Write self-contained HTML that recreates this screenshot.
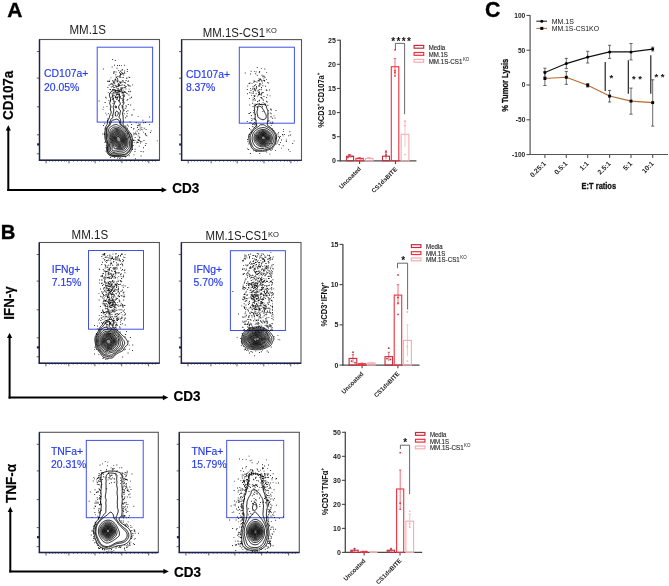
<!DOCTYPE html><html><head><meta charset="utf-8"><style>html,body{margin:0;padding:0;background:#fff;width:669px;height:586px;overflow:hidden}svg{display:block;will-change:transform;font-family:"Liberation Sans",sans-serif}</style></head><body><svg width="669" height="586" viewBox="0 0 669 586"><text x="7.2" y="16.8" font-size="21" font-weight="bold" fill="#000" text-anchor="start" stroke="#000" stroke-width="0.35">A</text><text x="0.8" y="239.2" font-size="20.3" font-weight="bold" fill="#000" text-anchor="start" stroke="#000" stroke-width="0.35">B</text><text x="485.0" y="17.2" font-size="21.3" font-weight="bold" fill="#000" text-anchor="start" stroke="#000" stroke-width="0.35">C</text><line x1="8.3" y1="129.3" x2="8.3" y2="190.9" stroke="#000" stroke-width="2" /><line x1="7.300000000000001" y1="189.9" x2="163" y2="189.9" stroke="#000" stroke-width="2" /><path d="M8.3 125.3 L5.700000000000001 130.5 L10.9 130.5Z" fill="#000"/><path d="M167 189.9 L161.6 187.3 L161.6 192.5Z" fill="#000"/><line x1="9.6" y1="336.8" x2="9.6" y2="398.6" stroke="#000" stroke-width="2" /><line x1="8.6" y1="397.6" x2="164.3" y2="397.6" stroke="#000" stroke-width="2" /><path d="M9.6 332.8 L7.0 338.0 L12.2 338.0Z" fill="#000"/><path d="M168.3 397.6 L162.9 395.0 L162.9 400.20000000000005Z" fill="#000"/><line x1="10.3" y1="510.8" x2="10.3" y2="572.4" stroke="#000" stroke-width="2" /><line x1="9.3" y1="571.4" x2="164.8" y2="571.4" stroke="#000" stroke-width="2" /><path d="M10.3 506.8 L7.700000000000001 512.0 L12.9 512.0Z" fill="#000"/><path d="M168.8 571.4 L163.4 568.8 L163.4 574.0Z" fill="#000"/><text transform="translate(13.2,119.9) rotate(-90)" font-size="14.3" font-weight="bold" fill="#000" text-anchor="start" stroke="#000" stroke-width="0.2" textLength="49.2" lengthAdjust="spacingAndGlyphs">CD107a</text><text transform="translate(14.0,319.7) rotate(-90)" font-size="14.5" font-weight="bold" fill="#000" text-anchor="start" stroke="#000" stroke-width="0.2" textLength="33.3" lengthAdjust="spacingAndGlyphs">IFN-γ</text><text transform="translate(15.8,503) rotate(-90)" font-size="14.5" font-weight="bold" fill="#000" text-anchor="start" stroke="#000" stroke-width="0.2" textLength="39.2" lengthAdjust="spacingAndGlyphs">TNF-α</text><text x="172.3" y="193" font-size="13.9" font-weight="bold" fill="#000" text-anchor="start" stroke="#000" stroke-width="0.2" textLength="27" lengthAdjust="spacingAndGlyphs">CD3</text><text x="173.6" y="400.8" font-size="13.9" font-weight="bold" fill="#000" text-anchor="start" stroke="#000" stroke-width="0.2" textLength="27" lengthAdjust="spacingAndGlyphs">CD3</text><text x="173.9" y="577.3" font-size="13.9" font-weight="bold" fill="#000" text-anchor="start" stroke="#000" stroke-width="0.2" textLength="27" lengthAdjust="spacingAndGlyphs">CD3</text><text x="69.4" y="34.0" font-size="11.9" font-weight="normal" fill="#1a1a1a" text-anchor="start"  textLength="36.6" lengthAdjust="spacingAndGlyphs">MM.1S</text><text x="202.8" y="36.5" font-size="11.9" font-weight="normal" fill="#1a1a1a" text-anchor="start"  textLength="62.2" lengthAdjust="spacingAndGlyphs">MM.1S-CS1</text><text x="266.0" y="32.6" font-size="7.4" font-weight="normal" fill="#1a1a1a" text-anchor="start"  textLength="10.8" lengthAdjust="spacingAndGlyphs">KO</text><text x="71.6" y="238.9" font-size="11.9" font-weight="normal" fill="#1a1a1a" text-anchor="start"  textLength="36.6" lengthAdjust="spacingAndGlyphs">MM.1S</text><text x="205.4" y="240.2" font-size="11.9" font-weight="normal" fill="#1a1a1a" text-anchor="start"  textLength="62.2" lengthAdjust="spacingAndGlyphs">MM.1S-CS1</text><text x="268.0" y="237.2" font-size="7.4" font-weight="normal" fill="#1a1a1a" text-anchor="start"  textLength="11" lengthAdjust="spacingAndGlyphs">KO</text><rect x="39.5" y="39.5" width="120.0" height="120.80000000000001" fill="none" stroke="#555" stroke-width="1.1"/><line x1="39.5" y1="39.5" x2="39.5" y2="160.9" stroke="#1c2250" stroke-width="1.4" /><line x1="38.9" y1="160.3" x2="159.5" y2="160.3" stroke="#1c2250" stroke-width="1.4" /><line x1="36.9" y1="51.5" x2="39.5" y2="51.5" stroke="#333" stroke-width="0.8" /><line x1="36.9" y1="78.1" x2="39.5" y2="78.1" stroke="#333" stroke-width="0.8" /><line x1="36.9" y1="106.8" x2="39.5" y2="106.8" stroke="#333" stroke-width="0.8" /><line x1="36.9" y1="134.8" x2="39.5" y2="134.8" stroke="#333" stroke-width="0.8" /><line x1="36.9" y1="153.8" x2="39.5" y2="153.8" stroke="#333" stroke-width="0.8" /><rect x="37.1" y="143.3" width="2.4" height="2.2" fill="#1c2250"/><line x1="46.1" y1="160.3" x2="46.1" y2="163.3" stroke="#333" stroke-width="0.8" /><line x1="69.0" y1="160.3" x2="69.0" y2="163.3" stroke="#333" stroke-width="0.8" /><line x1="95.1" y1="160.3" x2="95.1" y2="163.3" stroke="#333" stroke-width="0.8" /><line x1="121.9" y1="160.3" x2="121.9" y2="163.3" stroke="#333" stroke-width="0.8" /><line x1="148.8" y1="160.3" x2="148.8" y2="163.3" stroke="#333" stroke-width="0.8" /><line x1="49.5" y1="160.3" x2="49.5" y2="161.60000000000002" stroke="#1c2250" stroke-width="0.6" /><line x1="52.5" y1="160.3" x2="52.5" y2="161.60000000000002" stroke="#1c2250" stroke-width="0.6" /><line x1="55.5" y1="160.3" x2="55.5" y2="161.60000000000002" stroke="#1c2250" stroke-width="0.6" /><line x1="58.5" y1="160.3" x2="58.5" y2="161.60000000000002" stroke="#1c2250" stroke-width="0.6" /><line x1="61.5" y1="160.3" x2="61.5" y2="161.60000000000002" stroke="#1c2250" stroke-width="0.6" /><line x1="64.5" y1="160.3" x2="64.5" y2="161.60000000000002" stroke="#1c2250" stroke-width="0.6" /><line x1="66.5" y1="160.3" x2="66.5" y2="161.60000000000002" stroke="#1c2250" stroke-width="0.6" /><line x1="73.5" y1="160.3" x2="73.5" y2="161.60000000000002" stroke="#1c2250" stroke-width="0.6" /><line x1="77.5" y1="160.3" x2="77.5" y2="161.60000000000002" stroke="#1c2250" stroke-width="0.6" /><line x1="81.5" y1="160.3" x2="81.5" y2="161.60000000000002" stroke="#1c2250" stroke-width="0.6" /><line x1="85.5" y1="160.3" x2="85.5" y2="161.60000000000002" stroke="#1c2250" stroke-width="0.6" /><line x1="88.5" y1="160.3" x2="88.5" y2="161.60000000000002" stroke="#1c2250" stroke-width="0.6" /><line x1="91.5" y1="160.3" x2="91.5" y2="161.60000000000002" stroke="#1c2250" stroke-width="0.6" /><line x1="93.5" y1="160.3" x2="93.5" y2="161.60000000000002" stroke="#1c2250" stroke-width="0.6" /><line x1="99.5" y1="160.3" x2="99.5" y2="161.60000000000002" stroke="#1c2250" stroke-width="0.6" /><line x1="103.5" y1="160.3" x2="103.5" y2="161.60000000000002" stroke="#1c2250" stroke-width="0.6" /><line x1="107.5" y1="160.3" x2="107.5" y2="161.60000000000002" stroke="#1c2250" stroke-width="0.6" /><line x1="111.5" y1="160.3" x2="111.5" y2="161.60000000000002" stroke="#1c2250" stroke-width="0.6" /><line x1="115.5" y1="160.3" x2="115.5" y2="161.60000000000002" stroke="#1c2250" stroke-width="0.6" /><line x1="118.5" y1="160.3" x2="118.5" y2="161.60000000000002" stroke="#1c2250" stroke-width="0.6" /><line x1="120.5" y1="160.3" x2="120.5" y2="161.60000000000002" stroke="#1c2250" stroke-width="0.6" /><line x1="126.5" y1="160.3" x2="126.5" y2="161.60000000000002" stroke="#1c2250" stroke-width="0.6" /><line x1="130.5" y1="160.3" x2="130.5" y2="161.60000000000002" stroke="#1c2250" stroke-width="0.6" /><line x1="134.5" y1="160.3" x2="134.5" y2="161.60000000000002" stroke="#1c2250" stroke-width="0.6" /><line x1="138.5" y1="160.3" x2="138.5" y2="161.60000000000002" stroke="#1c2250" stroke-width="0.6" /><line x1="142.5" y1="160.3" x2="142.5" y2="161.60000000000002" stroke="#1c2250" stroke-width="0.6" /><line x1="145.5" y1="160.3" x2="145.5" y2="161.60000000000002" stroke="#1c2250" stroke-width="0.6" /><line x1="147.5" y1="160.3" x2="147.5" y2="161.60000000000002" stroke="#1c2250" stroke-width="0.6" /><line x1="152.5" y1="160.3" x2="152.5" y2="161.60000000000002" stroke="#1c2250" stroke-width="0.6" /><line x1="155.5" y1="160.3" x2="155.5" y2="161.60000000000002" stroke="#1c2250" stroke-width="0.6" /><rect x="97.2" y="47.2" width="55.39999999999999" height="74.89999999999999" fill="none" stroke="#4050e8" stroke-width="1"/><path d="M115.2 150.8 L114.2 151.0 L113.2 150.9 L112.8 150.7 L112.2 150.2 L111.9 149.2 L112.0 148.2 L112.2 147.2 L112.3 146.8 L112.3 145.8 L112.2 145.1 L112.1 144.2 L111.8 143.3 L111.6 142.8 L111.3 141.8 L111.1 141.2 L110.9 140.2 L110.6 139.2 L110.4 138.2 L110.2 137.7 L110.1 136.8 L110.0 135.8 L110.1 134.8 L110.2 133.9 L110.5 133.2 L110.8 132.7 L111.2 131.8 L111.5 131.2 L111.8 130.8 L112.2 130.1 L112.8 129.6 L113.2 129.2 L114.2 128.8 L114.8 128.6 L115.8 128.5 L116.8 128.6 L117.8 128.7 L118.2 128.8 L119.2 129.1 L119.8 129.3 L120.4 129.8 L121.1 130.2 L121.7 130.8 L122.2 131.2 L122.8 131.6 L123.2 132.1 L123.8 132.7 L124.2 133.2 L124.5 133.8 L124.8 134.3 L125.2 135.2 L125.5 135.8 L125.8 136.4 L126.1 137.2 L126.2 137.8 L126.5 138.8 L126.6 139.8 L126.8 140.5 L126.9 141.2 L126.9 142.2 L126.9 143.2 L126.8 144.1 L126.6 144.8 L126.3 145.8 L126.2 146.2 L125.8 147.2 L125.3 147.8 L124.9 148.2 L124.2 148.7 L123.8 149.0 L123.2 149.3 L122.2 149.6 L121.2 149.7 L120.2 149.7 L119.8 149.8 L118.8 149.8 L117.8 149.8 L116.8 150.1 L116.2 150.4 L115.4 150.8Z" fill="#000" fill-opacity="0.07"/><path d="M115.2 148.8 L114.8 148.7 L114.2 148.2 L113.9 147.2 L113.8 146.6 L113.5 145.8 L113.2 144.9 L113.0 144.2 L112.8 143.6 L112.4 142.8 L112.2 142.2 L111.9 141.2 L111.8 140.7 L111.5 139.8 L111.2 138.8 L111.1 137.8 L111.0 136.8 L110.9 135.8 L111.0 134.8 L111.2 133.8 L111.5 133.2 L111.8 132.8 L112.2 132.0 L112.8 131.3 L113.2 130.8 L113.8 130.4 L114.2 130.1 L115.1 129.8 L115.8 129.6 L116.8 129.6 L117.8 129.6 L118.3 129.8 L119.2 130.1 L119.8 130.4 L120.3 130.8 L121.0 131.2 L121.6 131.8 L122.2 132.2 L122.8 132.7 L123.2 133.2 L123.6 133.8 L123.9 134.2 L124.2 134.9 L124.7 135.8 L124.9 136.2 L125.2 137.0 L125.5 137.8 L125.7 138.8 L125.8 139.2 L126.0 140.2 L126.1 141.2 L126.1 142.2 L126.0 143.2 L125.8 144.2 L125.7 144.8 L125.3 145.8 L125.1 146.2 L124.8 146.8 L124.2 147.3 L123.7 147.8 L122.8 148.2 L122.2 148.4 L121.2 148.6 L120.2 148.7 L119.2 148.7 L118.2 148.7 L117.2 148.6 L116.2 148.6 L115.3 148.8Z" fill="#000" fill-opacity="0.07"/><path d="M121.8 147.3 L120.8 147.6 L119.8 147.7 L118.8 147.6 L117.8 147.4 L117.2 147.2 L116.2 146.8 L115.8 146.5 L115.2 146.1 L114.8 145.5 L114.3 144.8 L114.1 144.2 L113.8 143.6 L113.3 142.8 L113.1 142.2 L112.8 141.3 L112.6 140.8 L112.3 139.8 L112.1 139.2 L112.0 138.2 L111.9 137.2 L111.8 136.2 L111.9 135.2 L112.1 134.2 L112.3 133.8 L112.8 132.9 L113.2 132.3 L113.8 131.8 L114.2 131.4 L114.8 131.1 L115.7 130.8 L116.2 130.7 L117.2 130.6 L118.2 130.7 L118.8 130.9 L119.4 131.2 L120.1 131.8 L120.8 132.2 L121.2 132.6 L121.8 133.0 L122.2 133.5 L122.8 134.0 L123.2 134.7 L123.6 135.2 L123.9 135.8 L124.2 136.5 L124.6 137.2 L124.8 137.8 L125.0 138.8 L125.1 139.8 L125.2 140.8 L125.2 141.3 L125.3 142.2 L125.2 142.8 L125.0 143.8 L124.8 144.7 L124.5 145.2 L124.2 145.8 L123.2 146.7 L122.8 147.0 L122.0 147.2Z" fill="#000" fill-opacity="0.07"/><path d="M121.2 146.4 L120.2 146.6 L119.2 146.6 L118.2 146.4 L117.8 146.2 L116.8 145.8 L116.2 145.4 L115.8 144.9 L115.2 144.3 L114.9 143.8 L114.6 143.2 L114.2 142.7 L113.8 141.8 L113.6 141.2 L113.2 140.4 L113.0 139.8 L112.8 138.8 L112.8 138.2 L112.7 137.2 L112.7 136.2 L112.8 135.7 L112.9 134.8 L113.2 133.9 L113.7 133.2 L114.1 132.8 L114.8 132.3 L115.2 132.0 L116.0 131.8 L116.8 131.6 L117.8 131.6 L118.2 131.8 L119.2 132.2 L119.8 132.6 L120.2 133.0 L120.8 133.4 L121.2 133.8 L121.8 134.3 L122.2 134.8 L122.8 135.4 L123.2 136.2 L123.5 136.8 L123.8 137.2 L124.1 138.2 L124.2 139.0 L124.4 139.8 L124.4 140.8 L124.4 141.8 L124.3 142.8 L124.1 143.8 L123.8 144.5 L123.2 145.2 L122.8 145.6 L122.2 145.9 L121.5 146.2Z" fill="#000" fill-opacity="0.07"/><path d="M120.8 145.4 L119.8 145.5 L118.8 145.4 L117.8 145.0 L117.2 144.8 L116.6 144.2 L116.1 143.8 L115.7 143.2 L115.2 142.6 L114.8 141.8 L114.5 141.2 L114.2 140.8 L113.9 139.8 L113.8 139.1 L113.6 138.2 L113.6 137.2 L113.7 136.2 L113.8 135.7 L114.0 134.8 L114.3 134.2 L114.8 133.6 L115.2 133.2 L116.2 132.8 L116.8 132.7 L117.8 132.7 L118.2 132.9 L119.0 133.2 L119.6 133.8 L120.2 134.2 L120.8 134.7 L121.2 135.1 L121.8 135.6 L122.2 136.2 L122.6 136.8 L122.9 137.2 L123.2 138.2 L123.4 138.8 L123.5 139.8 L123.5 140.8 L123.5 141.8 L123.4 142.8 L123.2 143.2 L122.8 144.1 L122.2 144.6 L121.8 145.0 L121.1 145.2Z" fill="#000" fill-opacity="0.07"/><path d="M120.8 144.3 L119.8 144.4 L118.8 144.3 L118.2 144.1 L117.6 143.8 L117.0 143.2 L116.5 142.8 L116.1 142.2 L115.4 141.2 L115.2 140.8 L114.8 139.8 L114.7 139.2 L114.5 138.2 L114.6 137.2 L114.7 136.2 L114.8 135.8 L115.2 134.8 L115.7 134.2 L116.2 134.0 L117.2 133.8 L117.3 133.8 L118.2 134.0 L118.8 134.2 L119.5 134.8 L120.0 135.2 L120.6 135.8 L121.1 136.2 L121.5 136.8 L121.9 137.2 L122.2 138.0 L122.5 138.8 L122.7 139.8 L122.6 140.8 L122.5 141.8 L122.3 142.8 L122.0 143.2 L121.6 143.8 L120.8 144.2Z" fill="#000" fill-opacity="0.07"/><path d="M119.8 143.3 L118.9 143.2 L118.2 143.0 L117.8 142.7 L117.2 142.2 L116.8 141.7 L116.2 141.0 L115.9 140.2 L115.7 139.8 L115.5 138.8 L115.5 137.8 L115.6 136.8 L115.8 136.2 L116.2 135.3 L116.8 134.9 L117.8 134.8 L118.7 135.2 L119.2 135.7 L119.8 136.2 L120.2 136.6 L120.8 137.2 L121.2 137.8 L121.4 138.2 L121.7 139.2 L121.8 139.8 L121.8 140.6 L121.6 141.2 L121.3 142.2 L121.0 142.8 L120.2 143.2Z" fill="#000" fill-opacity="0.07"/><path d="M119.8 142.1 L118.8 142.1 L118.0 141.8 L117.5 141.2 L117.1 140.8 L116.8 140.0 L116.6 139.2 L116.5 138.2 L116.7 137.2 L116.9 136.8 L117.3 136.2 L118.0 136.2 L118.8 136.7 L119.2 137.1 L119.8 137.6 L120.2 138.2 L120.6 138.8 L120.8 139.8 L120.8 140.6 L120.5 141.2 L120.2 141.8Z" fill="#000" fill-opacity="0.07"/><path d="M126.2 156.3 L125.2 156.6 L124.2 156.5 L123.2 156.4 L122.2 156.5 L121.2 156.6 L120.2 156.7 L119.2 156.6 L118.2 156.5 L117.2 156.5 L116.2 156.5 L115.2 156.5 L114.2 156.6 L113.2 156.6 L112.2 156.4 L111.7 156.2 L110.8 156.0 L110.2 155.7 L109.3 155.2 L108.8 154.8 L108.2 154.3 L107.8 153.8 L107.5 153.2 L107.2 152.6 L107.0 151.8 L106.8 150.8 L106.7 150.2 L106.6 149.2 L106.6 148.2 L106.7 147.2 L106.8 146.8 L106.9 145.8 L106.9 144.8 L106.8 143.8 L106.7 143.2 L106.4 142.2 L106.2 141.8 L105.8 140.9 L105.4 140.2 L105.2 139.6 L105.1 138.8 L104.9 137.8 L104.9 136.8 L104.8 135.8 L104.7 135.2 L104.5 134.2 L104.5 133.2 L104.8 132.3 L104.9 131.8 L105.1 130.8 L105.2 129.8 L105.2 129.2 L105.3 128.2 L105.5 127.2 L105.8 126.7 L106.2 125.9 L106.7 125.2 L107.1 124.8 L107.2 124.2 L107.3 123.2 L107.4 122.2 L107.6 121.2 L107.8 120.7 L108.2 119.8 L108.4 119.2 L108.8 118.6 L109.2 117.8 L109.4 117.2 L109.6 116.2 L109.8 115.7 L110.1 114.8 L110.3 114.2 L110.8 113.6 L111.1 112.8 L111.2 111.8 L110.8 110.8 L110.6 110.2 L110.3 109.2 L110.5 108.2 L110.8 107.5 L110.8 106.8 L110.8 105.9 L110.5 105.2 L110.2 104.8 L109.8 103.8 L109.7 103.2 L109.8 102.8 L110.1 101.8 L110.3 101.2 L110.6 100.2 L110.6 99.2 L110.4 98.2 L110.1 97.8 L109.8 96.9 L109.6 96.2 L109.4 95.2 L109.5 94.2 L109.8 93.7 L110.2 93.0 L110.7 92.2 L111.1 91.8 L111.5 91.2 L112.2 90.8 L112.8 90.5 L113.7 90.2 L114.2 90.2 L114.8 90.3 L115.8 90.4 L116.8 90.5 L117.8 90.5 L118.8 90.5 L119.8 90.6 L120.2 90.8 L121.0 91.2 L121.6 91.8 L122.2 92.2 L122.7 92.8 L123.0 93.2 L123.2 94.2 L123.3 94.8 L123.4 95.8 L123.4 96.8 L123.3 97.8 L123.2 98.2 L123.1 99.2 L123.2 100.2 L123.3 100.8 L123.7 101.8 L123.9 102.2 L123.9 103.2 L123.7 103.8 L123.2 104.6 L122.8 105.2 L122.6 105.8 L122.3 106.8 L122.2 107.2 L122.3 107.8 L122.8 108.7 L123.0 109.2 L123.2 110.2 L123.2 110.6 L123.2 111.2 L122.8 112.2 L122.6 112.8 L122.5 113.8 L122.7 114.8 L122.9 115.2 L123.1 116.2 L123.1 117.2 L123.1 118.2 L123.2 119.2 L123.3 119.8 L123.3 120.8 L123.3 121.8 L123.2 122.2 L123.0 123.2 L123.0 124.2 L123.2 124.8 L123.8 125.4 L124.2 125.9 L124.8 126.3 L125.2 126.8 L125.8 127.2 L126.3 127.8 L127.1 128.8 L127.4 129.2 L127.8 129.8 L128.2 130.4 L128.8 131.0 L129.2 131.7 L129.6 132.2 L130.0 132.8 L130.3 133.2 L130.8 134.0 L131.1 134.8 L131.3 135.2 L131.5 136.2 L131.8 136.9 L132.1 137.8 L132.3 138.2 L132.6 139.2 L132.6 140.2 L132.5 141.2 L132.4 142.2 L132.4 143.2 L132.4 144.2 L132.4 145.2 L132.4 146.2 L132.4 147.2 L132.4 148.2 L132.2 148.8 L131.8 149.8 L131.5 150.2 L131.2 150.8 L130.8 151.6 L130.4 152.2 L130.1 152.8 L129.8 153.3 L129.2 153.9 L128.8 154.3 L128.2 154.8 L127.6 155.2 L127.1 155.8 L126.4 156.2 M121.8 155.3 L120.8 155.4 L119.8 155.4 L118.8 155.4 L117.8 155.4 L116.8 155.4 L115.8 155.5 L114.8 155.6 L113.8 155.6 L112.8 155.6 L111.8 155.4 L111.2 155.2 L110.2 154.8 L109.8 154.5 L109.2 154.1 L108.8 153.5 L108.2 152.8 L108.0 152.2 L107.8 151.6 L107.5 150.8 L107.4 149.8 L107.5 148.8 L107.6 147.8 L107.8 146.9 L107.8 146.2 L107.9 145.2 L107.8 144.2 L107.7 143.8 L107.5 142.8 L107.3 141.8 L107.1 141.2 L106.8 140.6 L106.3 139.8 L106.2 139.2 L106.0 138.2 L105.9 137.2 L105.9 136.2 L105.9 135.2 L105.8 134.2 L105.9 133.2 L106.0 132.2 L106.2 131.2 L106.3 130.8 L106.4 129.8 L106.5 128.8 L106.7 127.8 L107.0 127.2 L107.4 126.8 L107.9 126.2 L108.4 125.8 L108.8 125.2 L109.2 124.5 L109.5 123.8 L109.7 122.8 L109.8 122.2 L110.1 121.2 L110.3 120.8 L110.7 119.8 L110.9 119.2 L111.3 118.8 L111.9 118.2 L112.7 117.8 L113.0 117.2 L112.8 116.2 L112.8 115.2 L113.1 114.2 L113.2 113.5 L113.4 112.8 L113.5 111.8 L113.7 110.8 L113.8 110.2 L113.8 109.2 L113.6 108.8 L113.3 107.8 L113.2 107.2 L113.2 106.5 L113.5 105.8 L113.8 105.1 L114.1 104.2 L114.3 103.8 L114.6 102.8 L114.4 101.8 L114.1 101.2 L113.8 100.5 L113.5 99.8 L113.3 98.8 L113.2 98.2 L112.8 97.2 L112.5 96.2 L112.7 95.2 L112.8 94.8 L113.0 93.8 L113.1 92.8 L113.5 92.2 L114.2 92.0 L115.2 92.2 L115.8 92.3 L116.8 92.5 L117.8 92.5 L118.5 92.8 L119.0 93.2 L119.3 93.8 L119.5 94.8 L119.6 95.8 L119.7 96.8 L119.8 97.3 L119.8 98.0 L119.7 98.8 L119.4 99.8 L119.3 100.8 L119.4 101.8 L119.8 102.3 L120.2 103.0 L120.4 103.8 L120.2 104.3 L119.8 105.0 L119.2 105.4 L118.8 106.1 L118.7 106.8 L118.7 107.8 L118.8 108.2 L119.2 109.2 L119.7 109.8 L120.2 110.2 L120.5 110.8 L120.4 111.8 L120.2 112.2 L120.0 113.2 L119.9 114.2 L119.8 114.9 L119.4 115.8 L119.2 116.2 L119.0 117.2 L119.2 117.8 L119.8 118.3 L120.2 118.8 L120.6 119.8 L120.7 120.8 L120.7 121.8 L120.7 122.8 L120.8 123.6 L121.0 124.2 L121.4 124.8 L121.9 125.2 L122.5 125.8 L123.1 126.2 L123.7 126.8 L124.2 127.1 L124.8 127.5 L125.2 128.0 L125.8 128.5 L126.2 129.2 L126.5 129.8 L126.8 130.2 L127.2 130.9 L127.8 131.6 L128.2 132.2 L128.5 132.8 L128.8 133.3 L129.2 134.2 L129.5 134.8 L129.8 135.3 L130.1 136.2 L130.2 137.0 L130.5 137.8 L130.8 138.3 L131.2 139.2 L131.3 139.8 L131.4 140.8 L131.4 141.8 L131.4 142.8 L131.4 143.8 L131.4 144.8 L131.4 145.8 L131.4 146.8 L131.3 147.8 L131.2 148.2 L130.8 149.2 L130.5 149.8 L130.2 150.2 L129.8 150.8 L129.2 151.4 L128.8 152.0 L128.2 152.5 L127.8 153.0 L127.2 153.5 L126.8 154.0 L126.2 154.5 L125.8 154.8 L124.8 155.1 L123.8 155.1 L122.8 155.2 L122.2 155.2 M116.2 98.1 L115.4 97.8 L115.1 97.2 L115.2 96.5 L115.9 96.8 L116.2 97.4 L116.2 98.1 M116.2 108.0 L115.5 107.8 L115.0 107.2 L115.2 106.2 L115.8 105.9 L116.3 106.2 L116.7 107.2 L116.2 108.0 M116.2 116.4 L115.8 116.2 L115.3 115.2 L115.3 114.2 L115.4 113.2 L115.5 112.2 L115.8 111.8 L116.7 111.2 L116.8 111.2 L117.7 111.8 L118.1 112.2 L118.3 112.8 L118.3 113.8 L118.1 114.2 L117.8 114.9 L117.2 115.6 L116.8 116.2 M121.8 154.8 L120.8 154.8 L119.8 154.8 L118.8 154.8 L117.8 154.8 L116.8 154.9 L115.8 155.0 L114.8 155.1 L113.8 155.1 L112.8 155.1 L111.8 154.9 L111.2 154.8 L110.2 154.3 L109.8 154.0 L109.2 153.5 L108.8 152.8 L108.4 152.2 L108.2 151.8 L107.9 150.8 L107.8 149.8 L107.9 148.8 L108.0 147.8 L108.2 146.8 L108.3 146.2 L108.4 145.2 L108.3 144.2 L108.2 143.8 L108.0 142.8 L107.8 141.8 L107.6 141.2 L107.2 140.5 L106.9 139.8 L106.7 139.2 L106.5 138.2 L106.4 137.2 L106.4 136.2 L106.4 135.2 L106.4 134.2 L106.4 133.2 L106.6 132.2 L106.8 131.5 L106.9 130.8 L107.0 129.8 L107.1 128.8 L107.3 128.2 L107.8 127.4 L108.2 126.8 L108.8 126.3 L109.2 125.9 L109.8 125.3 L110.1 124.8 L110.4 124.2 L110.7 123.2 L110.9 122.8 L111.2 121.8 L111.4 121.2 L111.8 120.8 L112.4 120.2 L113.2 120.0 L114.2 119.8 L114.8 119.6 L115.8 119.3 L116.2 119.2 L116.8 119.2 L117.8 119.5 L118.2 119.8 L118.9 120.2 L119.2 120.8 L119.5 121.8 L119.7 122.8 L119.8 123.3 L120.1 124.2 L120.4 124.8 L121.0 125.2 L121.6 125.8 L122.2 126.2 L122.8 126.6 L123.2 126.9 L123.8 127.3 L124.3 127.8 L124.8 128.2 L125.3 128.8 L125.8 129.4 L126.2 130.2 L126.6 130.8 L126.9 131.2 L127.2 131.8 L127.8 132.6 L128.1 133.2 L128.4 133.8 L128.8 134.5 L129.1 135.2 L129.3 135.8 L129.6 136.8 L129.8 137.2 L130.1 138.2 L130.3 138.8 L130.7 139.8 L130.8 140.2 L130.9 141.2 L130.9 142.2 L130.9 143.2 L130.9 144.2 L130.9 145.2 L130.8 146.2 L130.8 147.2 L130.7 147.8 L130.4 148.8 L130.1 149.2 L129.8 149.8 L129.2 150.4 L128.8 150.9 L128.2 151.4 L127.8 151.9 L127.2 152.4 L126.8 153.0 L126.2 153.5 L125.8 153.9 L124.9 154.2 L124.2 154.4 L123.2 154.5 L122.2 154.7 L121.8 154.8 M114.8 153.8 L113.8 153.8 L112.9 153.8 L112.2 153.7 L111.2 153.4 L110.8 153.1 L110.2 152.7 L109.8 152.1 L109.3 151.2 L109.1 150.8 L108.9 149.8 L109.0 148.8 L109.2 147.8 L109.3 147.2 L109.5 146.2 L109.6 145.2 L109.5 144.2 L109.3 143.2 L109.2 142.7 L109.1 141.8 L108.8 140.8 L108.6 140.2 L108.2 139.5 L108.0 138.8 L107.8 137.8 L107.7 137.2 L107.7 136.2 L107.6 135.2 L107.6 134.2 L107.8 133.4 L107.9 132.8 L108.2 131.8 L108.3 131.2 L108.5 130.2 L108.8 129.3 L108.9 128.8 L109.2 128.2 L109.8 127.7 L110.2 127.2 L110.9 126.8 L111.6 126.2 L112.2 125.9 L112.8 125.6 L113.4 125.2 L114.2 124.9 L114.9 124.8 L115.8 124.6 L116.8 124.6 L117.2 124.8 L117.9 125.2 L118.6 125.8 L119.2 126.1 L119.8 126.4 L120.6 126.8 L121.2 127.1 L121.8 127.5 L122.2 127.9 L122.8 128.3 L123.3 128.8 L123.8 129.2 L124.3 129.8 L124.8 130.3 L125.2 131.0 L125.7 131.8 L126.1 132.2 L126.4 132.8 L126.8 133.4 L127.2 134.2 L127.4 134.8 L127.8 135.5 L128.1 136.2 L128.4 137.2 L128.7 138.2 L128.8 138.8 L129.1 139.8 L129.2 140.3 L129.4 141.2 L129.4 142.2 L129.4 143.2 L129.4 144.2 L129.4 145.2 L129.3 146.2 L129.2 146.8 L129.1 147.8 L128.8 148.4 L128.2 149.1 L127.8 149.6 L127.2 150.0 L126.8 150.5 L126.2 150.9 L125.8 151.4 L125.2 151.8 L124.5 152.2 L123.8 152.6 L123.1 152.8 L122.2 152.9 L121.2 153.1 L120.2 153.1 L119.2 153.1 L118.2 153.2 L117.7 153.2 L116.8 153.5 L115.8 153.7 L114.8 153.8 M115.2 152.3 L114.2 152.4 L113.2 152.4 L112.5 152.2 L111.8 152.0 L111.2 151.6 L110.8 151.0 L110.4 150.2 L110.3 149.2 L110.5 148.2 L110.7 147.2 L110.8 146.8 L111.0 145.8 L110.9 144.8 L110.8 143.8 L110.6 143.2 L110.4 142.2 L110.2 141.6 L110.0 140.8 L109.8 139.8 L109.6 139.2 L109.3 138.2 L109.1 137.8 L109.0 136.8 L108.9 135.8 L108.9 134.8 L109.0 133.8 L109.2 133.0 L109.6 132.2 L109.8 131.8 L110.2 130.8 L110.3 130.2 L110.8 129.4 L111.2 128.8 L111.8 128.3 L112.2 128.0 L112.8 127.7 L113.7 127.2 L114.2 127.1 L115.2 127.0 L116.2 127.0 L117.2 127.2 L117.8 127.3 L118.8 127.6 L119.2 127.8 L120.2 128.2 L120.8 128.5 L121.2 128.9 L121.8 129.3 L122.2 129.8 L122.8 130.2 L123.3 130.8 L123.8 131.2 L124.2 131.8 L124.8 132.4 L125.2 133.2 L125.6 133.8 L125.8 134.2 L126.2 135.1 L126.6 135.8 L126.8 136.2 L127.1 137.2 L127.3 137.8 L127.5 138.8 L127.7 139.8 L127.8 140.2 L127.9 141.2 L128.0 142.2 L128.0 143.2 L127.9 144.2 L127.8 145.2 L127.7 145.8 L127.5 146.8 L127.2 147.4 L126.8 148.2 L126.2 148.8 L125.8 149.3 L125.2 149.8 L124.5 150.2 L123.8 150.7 L123.2 150.9 L122.2 151.1 L121.2 151.2 L120.2 151.2 L119.2 151.2 L118.8 151.3 L117.8 151.5 L116.9 151.8 L116.2 152.0 L115.4 152.2 M115.2 150.8 L114.2 151.0 L113.2 150.9 L112.8 150.7 L112.2 150.2 L111.9 149.2 L112.0 148.2 L112.2 147.2 L112.3 146.8 L112.3 145.8 L112.2 145.1 L112.1 144.2 L111.8 143.3 L111.6 142.8 L111.3 141.8 L111.1 141.2 L110.9 140.2 L110.6 139.2 L110.4 138.2 L110.2 137.7 L110.1 136.8 L110.0 135.8 L110.1 134.8 L110.2 133.9 L110.5 133.2 L110.8 132.7 L111.2 131.8 L111.5 131.2 L111.8 130.8 L112.2 130.1 L112.8 129.6 L113.2 129.2 L114.2 128.8 L114.8 128.6 L115.8 128.5 L116.8 128.6 L117.8 128.7 L118.2 128.8 L119.2 129.1 L119.8 129.3 L120.4 129.8 L121.1 130.2 L121.7 130.8 L122.2 131.2 L122.8 131.6 L123.2 132.1 L123.8 132.7 L124.2 133.2 L124.5 133.8 L124.8 134.3 L125.2 135.2 L125.5 135.8 L125.8 136.4 L126.1 137.2 L126.2 137.8 L126.5 138.8 L126.6 139.8 L126.8 140.5 L126.9 141.2 L126.9 142.2 L126.9 143.2 L126.8 144.1 L126.6 144.8 L126.3 145.8 L126.2 146.2 L125.8 147.2 L125.3 147.8 L124.9 148.2 L124.2 148.7 L123.8 149.0 L123.2 149.3 L122.2 149.6 L121.2 149.7 L120.2 149.7 L119.8 149.8 L118.8 149.8 L117.8 149.8 L116.8 150.1 L116.2 150.4 L115.4 150.8 M115.2 148.8 L114.8 148.7 L114.2 148.2 L113.9 147.2 L113.8 146.6 L113.5 145.8 L113.2 144.9 L113.0 144.2 L112.8 143.6 L112.4 142.8 L112.2 142.2 L111.9 141.2 L111.8 140.7 L111.5 139.8 L111.2 138.8 L111.1 137.8 L111.0 136.8 L110.9 135.8 L111.0 134.8 L111.2 133.8 L111.5 133.2 L111.8 132.8 L112.2 132.0 L112.8 131.3 L113.2 130.8 L113.8 130.4 L114.2 130.1 L115.1 129.8 L115.8 129.6 L116.8 129.6 L117.8 129.6 L118.3 129.8 L119.2 130.1 L119.8 130.4 L120.3 130.8 L121.0 131.2 L121.6 131.8 L122.2 132.2 L122.8 132.7 L123.2 133.2 L123.6 133.8 L123.9 134.2 L124.2 134.9 L124.7 135.8 L124.9 136.2 L125.2 137.0 L125.5 137.8 L125.7 138.8 L125.8 139.2 L126.0 140.2 L126.1 141.2 L126.1 142.2 L126.0 143.2 L125.8 144.2 L125.7 144.8 L125.3 145.8 L125.1 146.2 L124.8 146.8 L124.2 147.3 L123.7 147.8 L122.8 148.2 L122.2 148.4 L121.2 148.6 L120.2 148.7 L119.2 148.7 L118.2 148.7 L117.2 148.6 L116.2 148.6 L115.3 148.8 M121.8 147.3 L120.8 147.6 L119.8 147.7 L118.8 147.6 L117.8 147.4 L117.2 147.2 L116.2 146.8 L115.8 146.5 L115.2 146.1 L114.8 145.5 L114.3 144.8 L114.1 144.2 L113.8 143.6 L113.3 142.8 L113.1 142.2 L112.8 141.3 L112.6 140.8 L112.3 139.8 L112.1 139.2 L112.0 138.2 L111.9 137.2 L111.8 136.2 L111.9 135.2 L112.1 134.2 L112.3 133.8 L112.8 132.9 L113.2 132.3 L113.8 131.8 L114.2 131.4 L114.8 131.1 L115.7 130.8 L116.2 130.7 L117.2 130.6 L118.2 130.7 L118.8 130.9 L119.4 131.2 L120.1 131.8 L120.8 132.2 L121.2 132.6 L121.8 133.0 L122.2 133.5 L122.8 134.0 L123.2 134.7 L123.6 135.2 L123.9 135.8 L124.2 136.5 L124.6 137.2 L124.8 137.8 L125.0 138.8 L125.1 139.8 L125.2 140.8 L125.2 141.3 L125.3 142.2 L125.2 142.8 L125.0 143.8 L124.8 144.7 L124.5 145.2 L124.2 145.8 L123.2 146.7 L122.8 147.0 L122.0 147.2 M121.2 146.4 L120.2 146.6 L119.2 146.6 L118.2 146.4 L117.8 146.2 L116.8 145.8 L116.2 145.4 L115.8 144.9 L115.2 144.3 L114.9 143.8 L114.6 143.2 L114.2 142.7 L113.8 141.8 L113.6 141.2 L113.2 140.4 L113.0 139.8 L112.8 138.8 L112.8 138.2 L112.7 137.2 L112.7 136.2 L112.8 135.7 L112.9 134.8 L113.2 133.9 L113.7 133.2 L114.1 132.8 L114.8 132.3 L115.2 132.0 L116.0 131.8 L116.8 131.6 L117.8 131.6 L118.2 131.8 L119.2 132.2 L119.8 132.6 L120.2 133.0 L120.8 133.4 L121.2 133.8 L121.8 134.3 L122.2 134.8 L122.8 135.4 L123.2 136.2 L123.5 136.8 L123.8 137.2 L124.1 138.2 L124.2 139.0 L124.4 139.8 L124.4 140.8 L124.4 141.8 L124.3 142.8 L124.1 143.8 L123.8 144.5 L123.2 145.2 L122.8 145.6 L122.2 145.9 L121.5 146.2 M120.8 145.4 L119.8 145.5 L118.8 145.4 L117.8 145.0 L117.2 144.8 L116.6 144.2 L116.1 143.8 L115.7 143.2 L115.2 142.6 L114.8 141.8 L114.5 141.2 L114.2 140.8 L113.9 139.8 L113.8 139.1 L113.6 138.2 L113.6 137.2 L113.7 136.2 L113.8 135.7 L114.0 134.8 L114.3 134.2 L114.8 133.6 L115.2 133.2 L116.2 132.8 L116.8 132.7 L117.8 132.7 L118.2 132.9 L119.0 133.2 L119.6 133.8 L120.2 134.2 L120.8 134.7 L121.2 135.1 L121.8 135.6 L122.2 136.2 L122.6 136.8 L122.9 137.2 L123.2 138.2 L123.4 138.8 L123.5 139.8 L123.5 140.8 L123.5 141.8 L123.4 142.8 L123.2 143.2 L122.8 144.1 L122.2 144.6 L121.8 145.0 L121.1 145.2 M120.8 144.3 L119.8 144.4 L118.8 144.3 L118.2 144.1 L117.6 143.8 L117.0 143.2 L116.5 142.8 L116.1 142.2 L115.4 141.2 L115.2 140.8 L114.8 139.8 L114.7 139.2 L114.5 138.2 L114.6 137.2 L114.7 136.2 L114.8 135.8 L115.2 134.8 L115.7 134.2 L116.2 134.0 L117.2 133.8 L117.3 133.8 L118.2 134.0 L118.8 134.2 L119.5 134.8 L120.0 135.2 L120.6 135.8 L121.1 136.2 L121.5 136.8 L121.9 137.2 L122.2 138.0 L122.5 138.8 L122.7 139.8 L122.6 140.8 L122.5 141.8 L122.3 142.8 L122.0 143.2 L121.6 143.8 L120.8 144.2 M119.8 143.3 L118.9 143.2 L118.2 143.0 L117.8 142.7 L117.2 142.2 L116.8 141.7 L116.2 141.0 L115.9 140.2 L115.7 139.8 L115.5 138.8 L115.5 137.8 L115.6 136.8 L115.8 136.2 L116.2 135.3 L116.8 134.9 L117.8 134.8 L118.7 135.2 L119.2 135.7 L119.8 136.2 L120.2 136.6 L120.8 137.2 L121.2 137.8 L121.4 138.2 L121.7 139.2 L121.8 139.8 L121.8 140.6 L121.6 141.2 L121.3 142.2 L121.0 142.8 L120.2 143.2 M119.8 142.1 L118.8 142.1 L118.0 141.8 L117.5 141.2 L117.1 140.8 L116.8 140.0 L116.6 139.2 L116.5 138.2 L116.7 137.2 L116.9 136.8 L117.3 136.2 L118.0 136.2 L118.8 136.7 L119.2 137.1 L119.8 137.6 L120.2 138.2 L120.6 138.8 L120.8 139.8 L120.8 140.6 L120.5 141.2 L120.2 141.8" fill="none" stroke="#000" stroke-width="0.9" stroke-linejoin="round"/><path d="M109.2 92.9h0.9v0.9h-0.9zM119.2 89.4h0.9v0.9h-0.9zM119.9 157.4h0.9v0.9h-0.9zM133.0 140.0h0.9v0.9h-0.9zM145.6 134.8h0.9v0.9h-0.9zM111.4 91.2h0.9v0.9h-0.9zM106.9 146.8h0.9v0.9h-0.9zM104.6 142.0h0.9v0.9h-0.9zM102.6 108.9h0.9v0.9h-0.9zM134.3 132.9h0.9v0.9h-0.9zM138.8 138.4h0.9v0.9h-0.9zM130.3 159.9h0.9v0.9h-0.9zM103.2 106.7h0.9v0.9h-0.9zM123.3 91.8h0.9v0.9h-0.9zM118.8 76.9h0.9v0.9h-0.9zM114.3 157.1h0.9v0.9h-0.9zM107.0 80.8h0.9v0.9h-0.9zM107.2 120.0h0.9v0.9h-0.9zM110.2 99.4h0.9v0.9h-0.9zM146.5 135.4h0.9v0.9h-0.9zM124.8 91.6h0.9v0.9h-0.9zM124.1 95.8h0.9v0.9h-0.9zM102.4 133.6h0.9v0.9h-0.9zM133.5 128.2h0.9v0.9h-0.9zM105.8 144.9h0.9v0.9h-0.9zM117.1 157.6h0.9v0.9h-0.9zM131.4 115.2h0.9v0.9h-0.9zM128.5 94.6h0.9v0.9h-0.9zM105.2 96.8h0.9v0.9h-0.9zM118.4 156.5h0.9v0.9h-0.9zM131.2 124.1h0.9v0.9h-0.9zM123.5 108.6h0.9v0.9h-0.9zM133.0 132.7h0.9v0.9h-0.9zM105.6 146.9h0.9v0.9h-0.9zM134.9 158.3h0.9v0.9h-0.9zM134.6 140.2h0.9v0.9h-0.9zM128.7 155.3h0.9v0.9h-0.9zM142.8 151.3h0.9v0.9h-0.9zM104.3 134.0h0.9v0.9h-0.9zM127.8 104.0h0.9v0.9h-0.9zM105.4 150.7h0.9v0.9h-0.9zM127.5 110.3h0.9v0.9h-0.9zM128.0 125.7h0.9v0.9h-0.9zM124.9 156.7h0.9v0.9h-0.9zM125.4 125.6h0.9v0.9h-0.9zM113.2 72.6h0.9v0.9h-0.9zM119.3 158.1h0.9v0.9h-0.9zM126.2 115.5h0.9v0.9h-0.9zM126.0 106.4h0.9v0.9h-0.9zM127.2 93.4h0.9v0.9h-0.9zM123.1 106.4h0.9v0.9h-0.9zM138.5 125.2h0.9v0.9h-0.9zM124.2 64.8h0.9v0.9h-0.9zM112.5 84.2h0.9v0.9h-0.9zM108.1 113.2h0.9v0.9h-0.9zM120.9 89.1h0.9v0.9h-0.9zM127.1 127.7h0.9v0.9h-0.9zM106.9 118.4h0.9v0.9h-0.9zM98.6 100.5h0.9v0.9h-0.9zM106.5 105.9h0.9v0.9h-0.9zM116.9 78.0h0.9v0.9h-0.9zM105.8 97.6h0.9v0.9h-0.9zM108.4 99.9h0.9v0.9h-0.9zM104.9 141.1h0.9v0.9h-0.9zM144.9 133.1h0.9v0.9h-0.9zM109.9 157.1h0.9v0.9h-0.9zM144.9 133.9h0.9v0.9h-0.9zM129.6 91.3h0.9v0.9h-0.9zM133.0 128.5h0.9v0.9h-0.9zM104.7 102.0h0.9v0.9h-0.9zM129.6 97.8h0.9v0.9h-0.9zM104.7 128.6h0.9v0.9h-0.9zM104.3 123.3h0.9v0.9h-0.9zM132.0 135.7h0.9v0.9h-0.9zM139.6 125.5h0.9v0.9h-0.9zM110.2 109.4h0.9v0.9h-0.9zM117.9 85.8h0.9v0.9h-0.9zM145.6 129.1h0.9v0.9h-0.9zM124.1 91.9h0.9v0.9h-0.9zM126.2 92.8h0.9v0.9h-0.9zM103.0 125.1h0.9v0.9h-0.9zM137.7 116.2h0.9v0.9h-0.9zM123.5 98.7h0.9v0.9h-0.9zM134.6 148.8h0.9v0.9h-0.9zM114.9 79.4h0.9v0.9h-0.9zM125.5 105.3h0.9v0.9h-0.9zM126.1 110.9h0.9v0.9h-0.9zM126.8 113.2h0.9v0.9h-0.9zM125.2 117.3h0.9v0.9h-0.9zM121.7 157.7h0.9v0.9h-0.9zM102.9 68.5h0.9v0.9h-0.9zM108.5 118.4h0.9v0.9h-0.9zM124.2 82.1h0.9v0.9h-0.9zM122.7 92.1h0.9v0.9h-0.9zM132.7 145.0h0.9v0.9h-0.9zM131.0 133.7h0.9v0.9h-0.9zM112.7 85.4h0.9v0.9h-0.9zM118.8 81.3h0.9v0.9h-0.9zM126.9 124.5h0.9v0.9h-0.9zM114.8 78.6h0.9v0.9h-0.9zM110.1 89.0h0.9v0.9h-0.9zM123.8 110.2h0.9v0.9h-0.9zM124.2 94.5h0.9v0.9h-0.9zM116.3 86.8h0.9v0.9h-0.9zM116.9 75.9h0.9v0.9h-0.9zM139.4 137.2h0.9v0.9h-0.9zM105.3 112.7h0.9v0.9h-0.9zM133.4 139.6h0.9v0.9h-0.9zM106.4 114.4h0.9v0.9h-0.9zM127.4 81.2h0.9v0.9h-0.9zM113.1 101.4h0.9v0.9h-0.9zM122.4 100.0h0.9v0.9h-0.9zM129.4 85.0h0.9v0.9h-0.9zM117.2 89.8h0.9v0.9h-0.9zM113.8 71.5h0.9v0.9h-0.9zM118.3 90.8h0.9v0.9h-0.9zM123.8 91.1h0.9v0.9h-0.9zM121.3 72.0h0.9v0.9h-0.9zM125.5 88.5h0.9v0.9h-0.9zM123.8 87.4h0.9v0.9h-0.9zM107.4 87.1h0.9v0.9h-0.9zM128.2 91.0h0.9v0.9h-0.9zM115.4 90.4h0.9v0.9h-0.9zM111.3 93.4h0.9v0.9h-0.9zM122.2 69.3h0.9v0.9h-0.9zM118.5 84.6h0.9v0.9h-0.9zM114.5 93.3h0.9v0.9h-0.9zM130.2 104.5h0.9v0.9h-0.9zM117.6 84.0h0.9v0.9h-0.9zM121.8 76.9h0.9v0.9h-0.9zM117.0 96.5h0.9v0.9h-0.9zM108.7 84.8h0.9v0.9h-0.9zM121.2 90.0h0.9v0.9h-0.9zM117.9 85.1h0.9v0.9h-0.9zM111.7 114.8h0.9v0.9h-0.9zM122.0 91.6h0.9v0.9h-0.9zM115.5 79.4h0.9v0.9h-0.9zM111.9 99.1h0.9v0.9h-0.9zM113.3 89.0h0.9v0.9h-0.9zM114.3 80.8h0.9v0.9h-0.9zM104.6 102.0h0.9v0.9h-0.9zM126.3 78.0h0.9v0.9h-0.9zM119.0 72.3h0.9v0.9h-0.9zM131.0 97.0h0.9v0.9h-0.9zM114.9 90.9h0.9v0.9h-0.9zM109.1 81.1h0.9v0.9h-0.9zM115.7 80.4h0.9v0.9h-0.9zM119.2 91.3h0.9v0.9h-0.9zM117.1 65.1h0.9v0.9h-0.9zM117.1 97.1h0.9v0.9h-0.9zM118.3 95.4h0.9v0.9h-0.9zM120.7 88.0h0.9v0.9h-0.9zM109.9 83.8h0.9v0.9h-0.9zM117.0 98.5h0.9v0.9h-0.9zM117.1 81.2h0.9v0.9h-0.9zM122.2 87.8h0.9v0.9h-0.9zM115.4 74.3h0.9v0.9h-0.9zM109.9 100.6h0.9v0.9h-0.9zM116.6 93.3h0.9v0.9h-0.9zM125.6 80.1h0.9v0.9h-0.9zM118.1 69.9h0.9v0.9h-0.9zM115.3 106.7h0.9v0.9h-0.9zM115.7 76.4h0.9v0.9h-0.9zM125.3 107.8h0.9v0.9h-0.9zM116.0 98.9h0.9v0.9h-0.9zM120.1 88.8h0.9v0.9h-0.9zM115.4 85.9h0.9v0.9h-0.9zM121.4 74.0h0.9v0.9h-0.9zM114.5 89.4h0.9v0.9h-0.9zM122.6 80.3h0.9v0.9h-0.9zM110.7 97.2h0.9v0.9h-0.9zM119.7 70.7h0.9v0.9h-0.9zM115.6 71.5h0.9v0.9h-0.9zM120.3 81.4h0.9v0.9h-0.9zM112.2 59.1h0.9v0.9h-0.9zM122.6 99.6h0.9v0.9h-0.9zM117.8 88.4h0.9v0.9h-0.9zM122.5 86.9h0.9v0.9h-0.9zM123.0 73.3h0.9v0.9h-0.9zM118.9 83.8h0.9v0.9h-0.9zM118.3 100.1h0.9v0.9h-0.9zM114.3 89.3h0.9v0.9h-0.9zM121.0 65.2h0.9v0.9h-0.9zM127.5 84.1h0.9v0.9h-0.9zM118.6 84.8h0.9v0.9h-0.9zM125.0 92.1h0.9v0.9h-0.9zM117.9 100.4h0.9v0.9h-0.9zM116.2 76.9h0.9v0.9h-0.9zM112.9 97.8h0.9v0.9h-0.9zM119.4 75.1h0.9v0.9h-0.9zM119.8 75.8h0.9v0.9h-0.9zM132.2 84.4h0.9v0.9h-0.9zM116.6 67.8h0.9v0.9h-0.9zM113.2 95.3h0.9v0.9h-0.9zM115.2 101.3h0.9v0.9h-0.9zM121.6 72.6h0.9v0.9h-0.9zM121.1 88.4h0.9v0.9h-0.9zM121.5 69.6h0.9v0.9h-0.9zM110.5 77.4h0.9v0.9h-0.9zM125.0 86.6h0.9v0.9h-0.9zM107.8 91.9h0.9v0.9h-0.9zM115.5 96.4h0.9v0.9h-0.9zM115.8 85.9h0.9v0.9h-0.9zM120.2 74.6h0.9v0.9h-0.9zM111.2 82.9h0.9v0.9h-0.9zM131.0 96.7h0.9v0.9h-0.9zM118.7 81.4h0.9v0.9h-0.9zM120.0 97.4h0.9v0.9h-0.9zM109.6 89.1h0.9v0.9h-0.9zM111.7 66.5h0.9v0.9h-0.9zM125.8 86.2h0.9v0.9h-0.9zM119.7 82.0h0.9v0.9h-0.9zM121.4 98.0h0.9v0.9h-0.9zM118.6 85.5h0.9v0.9h-0.9zM120.1 95.9h0.9v0.9h-0.9zM115.5 97.2h0.9v0.9h-0.9zM123.1 76.9h0.9v0.9h-0.9zM118.8 91.0h0.9v0.9h-0.9zM120.2 83.2h0.9v0.9h-0.9zM111.6 83.5h0.9v0.9h-0.9zM127.3 99.0h0.9v0.9h-0.9zM118.9 94.4h0.9v0.9h-0.9zM123.7 84.7h0.9v0.9h-0.9zM127.7 84.9h0.9v0.9h-0.9zM120.6 87.0h0.9v0.9h-0.9zM109.3 79.7h0.9v0.9h-0.9zM112.6 98.1h0.9v0.9h-0.9zM129.9 90.7h0.9v0.9h-0.9zM117.8 88.8h0.9v0.9h-0.9zM120.0 74.1h0.9v0.9h-0.9zM120.1 73.0h0.9v0.9h-0.9zM117.4 80.3h0.9v0.9h-0.9zM118.6 96.3h0.9v0.9h-0.9zM116.7 81.5h0.9v0.9h-0.9zM122.7 81.6h0.9v0.9h-0.9zM114.9 79.0h0.9v0.9h-0.9zM126.6 99.9h0.9v0.9h-0.9zM122.0 84.4h0.9v0.9h-0.9zM119.1 91.1h0.9v0.9h-0.9zM117.9 88.3h0.9v0.9h-0.9zM118.5 76.0h0.9v0.9h-0.9zM121.2 84.7h0.9v0.9h-0.9zM118.3 85.1h0.9v0.9h-0.9zM113.2 85.3h0.9v0.9h-0.9zM118.3 94.0h0.9v0.9h-0.9zM114.3 87.1h0.9v0.9h-0.9zM109.9 106.5h0.9v0.9h-0.9zM115.4 91.3h0.9v0.9h-0.9zM114.8 85.1h0.9v0.9h-0.9zM110.8 86.5h0.9v0.9h-0.9zM119.1 65.0h0.9v0.9h-0.9zM122.7 89.5h0.9v0.9h-0.9zM117.4 91.2h0.9v0.9h-0.9zM119.9 82.0h0.9v0.9h-0.9zM126.8 71.1h0.9v0.9h-0.9zM111.5 83.8h0.9v0.9h-0.9zM121.3 105.4h0.9v0.9h-0.9zM118.8 94.2h0.9v0.9h-0.9zM118.8 96.9h0.9v0.9h-0.9zM122.1 87.7h0.9v0.9h-0.9zM115.8 77.1h0.9v0.9h-0.9zM122.7 102.4h0.9v0.9h-0.9zM118.2 83.0h0.9v0.9h-0.9zM112.6 103.1h0.9v0.9h-0.9zM123.7 113.3h0.9v0.9h-0.9zM118.6 91.6h0.9v0.9h-0.9zM128.4 76.7h0.9v0.9h-0.9zM120.3 91.3h0.9v0.9h-0.9zM117.6 80.2h0.9v0.9h-0.9zM119.6 85.1h0.9v0.9h-0.9zM114.9 90.0h0.9v0.9h-0.9zM124.0 72.2h0.9v0.9h-0.9zM116.5 97.5h0.9v0.9h-0.9zM119.6 97.6h0.9v0.9h-0.9zM129.3 77.1h0.9v0.9h-0.9zM122.2 106.7h0.9v0.9h-0.9zM118.4 85.7h0.9v0.9h-0.9zM116.1 93.6h0.9v0.9h-0.9zM112.4 80.1h0.9v0.9h-0.9zM125.1 82.6h0.9v0.9h-0.9zM114.3 83.3h0.9v0.9h-0.9zM124.2 85.2h0.9v0.9h-0.9zM123.3 74.7h0.9v0.9h-0.9zM113.4 73.2h0.9v0.9h-0.9zM129.6 85.9h0.9v0.9h-0.9zM113.1 81.8h0.9v0.9h-0.9zM127.9 85.3h0.9v0.9h-0.9zM116.0 94.6h0.9v0.9h-0.9zM120.2 76.9h0.9v0.9h-0.9zM121.4 81.5h0.9v0.9h-0.9zM122.1 80.2h0.9v0.9h-0.9zM112.7 81.0h0.9v0.9h-0.9zM124.6 87.0h0.9v0.9h-0.9zM112.5 85.9h0.9v0.9h-0.9zM128.0 80.6h0.9v0.9h-0.9zM120.4 70.8h0.9v0.9h-0.9zM114.0 64.8h0.9v0.9h-0.9zM121.4 92.6h0.9v0.9h-0.9zM118.2 85.7h0.9v0.9h-0.9zM114.2 82.3h0.9v0.9h-0.9zM120.8 84.7h0.9v0.9h-0.9zM112.9 87.3h0.9v0.9h-0.9zM111.7 95.7h0.9v0.9h-0.9zM117.0 93.5h0.9v0.9h-0.9zM108.4 81.0h0.9v0.9h-0.9zM124.5 85.4h0.9v0.9h-0.9zM116.3 85.5h0.9v0.9h-0.9zM117.2 79.3h0.9v0.9h-0.9zM122.2 73.0h0.9v0.9h-0.9zM128.7 88.7h0.9v0.9h-0.9zM114.4 94.9h0.9v0.9h-0.9zM126.9 69.1h0.9v0.9h-0.9zM116.6 87.9h0.9v0.9h-0.9zM124.3 72.8h0.9v0.9h-0.9zM122.0 101.7h0.9v0.9h-0.9zM124.2 70.5h0.9v0.9h-0.9zM112.1 85.9h0.9v0.9h-0.9zM120.3 82.0h0.9v0.9h-0.9zM108.2 80.7h0.9v0.9h-0.9zM114.5 79.5h0.9v0.9h-0.9zM117.3 94.1h0.9v0.9h-0.9zM114.8 60.1h0.9v0.9h-0.9zM121.8 95.2h0.9v0.9h-0.9zM113.6 71.1h0.9v0.9h-0.9zM126.4 77.6h0.9v0.9h-0.9zM112.2 89.1h0.9v0.9h-0.9zM112.8 82.5h0.9v0.9h-0.9zM117.1 86.2h0.9v0.9h-0.9zM143.8 127.8h0.9v0.9h-0.9zM128.4 132.3h0.9v0.9h-0.9zM133.8 141.9h0.9v0.9h-0.9zM139.7 127.5h0.9v0.9h-0.9zM139.4 124.0h0.9v0.9h-0.9zM133.5 109.3h0.9v0.9h-0.9zM140.6 155.5h0.9v0.9h-0.9zM138.0 140.0h0.9v0.9h-0.9zM133.5 134.3h0.9v0.9h-0.9zM127.1 133.3h0.9v0.9h-0.9zM136.7 140.7h0.9v0.9h-0.9zM139.2 140.0h0.9v0.9h-0.9zM138.2 129.0h0.9v0.9h-0.9zM143.3 122.3h0.9v0.9h-0.9zM139.8 141.1h0.9v0.9h-0.9zM145.1 122.0h0.9v0.9h-0.9zM137.0 127.1h0.9v0.9h-0.9zM139.7 129.7h0.9v0.9h-0.9zM134.7 137.1h0.9v0.9h-0.9zM132.1 149.1h0.9v0.9h-0.9zM136.0 142.4h0.9v0.9h-0.9zM140.8 128.8h0.9v0.9h-0.9zM143.5 140.1h0.9v0.9h-0.9zM137.2 125.4h0.9v0.9h-0.9zM137.6 139.0h0.9v0.9h-0.9zM143.2 131.7h0.9v0.9h-0.9zM139.9 142.6h0.9v0.9h-0.9zM129.6 121.6h0.9v0.9h-0.9zM141.4 126.9h0.9v0.9h-0.9zM156.8 140.4h0.9v0.9h-0.9zM138.8 145.7h0.9v0.9h-0.9zM136.7 130.5h0.9v0.9h-0.9zM137.6 142.1h0.9v0.9h-0.9zM138.2 132.7h0.9v0.9h-0.9zM137.1 142.1h0.9v0.9h-0.9zM149.2 116.6h0.9v0.9h-0.9zM142.4 119.8h0.9v0.9h-0.9zM145.5 143.1h0.9v0.9h-0.9zM138.5 133.4h0.9v0.9h-0.9zM138.8 136.5h0.9v0.9h-0.9zM135.2 131.7h0.9v0.9h-0.9zM133.5 154.4h0.9v0.9h-0.9zM126.8 115.7h0.9v0.9h-0.9zM135.7 134.1h0.9v0.9h-0.9zM131.6 113.9h0.9v0.9h-0.9zM130.9 127.0h0.9v0.9h-0.9zM142.2 129.4h0.9v0.9h-0.9zM134.5 151.1h0.9v0.9h-0.9zM135.5 133.0h0.9v0.9h-0.9zM150.0 132.0h0.9v0.9h-0.9zM149.0 124.2h0.9v0.9h-0.9zM137.6 135.4h0.9v0.9h-0.9zM141.4 141.3h0.9v0.9h-0.9zM139.6 123.5h0.9v0.9h-0.9zM150.8 130.4h0.9v0.9h-0.9zM137.5 125.0h0.9v0.9h-0.9zM144.9 145.0h0.9v0.9h-0.9zM140.6 151.1h0.9v0.9h-0.9zM143.1 147.3h0.9v0.9h-0.9zM135.7 122.3h0.9v0.9h-0.9zM137.9 123.4h0.9v0.9h-0.9z" fill="#000" fill-opacity="0.9"/><rect x="181.6" y="39.6" width="119.9" height="120.80000000000001" fill="none" stroke="#555" stroke-width="1.1"/><line x1="181.6" y1="39.6" x2="181.6" y2="161.0" stroke="#1c2250" stroke-width="1.4" /><line x1="181.0" y1="160.4" x2="301.5" y2="160.4" stroke="#1c2250" stroke-width="1.4" /><line x1="179.0" y1="51.6" x2="181.6" y2="51.6" stroke="#333" stroke-width="0.8" /><line x1="179.0" y1="78.2" x2="181.6" y2="78.2" stroke="#333" stroke-width="0.8" /><line x1="179.0" y1="106.9" x2="181.6" y2="106.9" stroke="#333" stroke-width="0.8" /><line x1="179.0" y1="134.9" x2="181.6" y2="134.9" stroke="#333" stroke-width="0.8" /><line x1="179.0" y1="153.9" x2="181.6" y2="153.9" stroke="#333" stroke-width="0.8" /><rect x="179.2" y="143.4" width="2.4" height="2.2" fill="#1c2250"/><line x1="188.2" y1="160.4" x2="188.2" y2="163.4" stroke="#333" stroke-width="0.8" /><line x1="211.1" y1="160.4" x2="211.1" y2="163.4" stroke="#333" stroke-width="0.8" /><line x1="237.2" y1="160.4" x2="237.2" y2="163.4" stroke="#333" stroke-width="0.8" /><line x1="264.0" y1="160.4" x2="264.0" y2="163.4" stroke="#333" stroke-width="0.8" /><line x1="290.9" y1="160.4" x2="290.9" y2="163.4" stroke="#333" stroke-width="0.8" /><line x1="191.6" y1="160.4" x2="191.6" y2="161.70000000000002" stroke="#1c2250" stroke-width="0.6" /><line x1="194.6" y1="160.4" x2="194.6" y2="161.70000000000002" stroke="#1c2250" stroke-width="0.6" /><line x1="197.6" y1="160.4" x2="197.6" y2="161.70000000000002" stroke="#1c2250" stroke-width="0.6" /><line x1="200.6" y1="160.4" x2="200.6" y2="161.70000000000002" stroke="#1c2250" stroke-width="0.6" /><line x1="203.6" y1="160.4" x2="203.6" y2="161.70000000000002" stroke="#1c2250" stroke-width="0.6" /><line x1="206.6" y1="160.4" x2="206.6" y2="161.70000000000002" stroke="#1c2250" stroke-width="0.6" /><line x1="208.6" y1="160.4" x2="208.6" y2="161.70000000000002" stroke="#1c2250" stroke-width="0.6" /><line x1="215.6" y1="160.4" x2="215.6" y2="161.70000000000002" stroke="#1c2250" stroke-width="0.6" /><line x1="219.6" y1="160.4" x2="219.6" y2="161.70000000000002" stroke="#1c2250" stroke-width="0.6" /><line x1="223.6" y1="160.4" x2="223.6" y2="161.70000000000002" stroke="#1c2250" stroke-width="0.6" /><line x1="227.6" y1="160.4" x2="227.6" y2="161.70000000000002" stroke="#1c2250" stroke-width="0.6" /><line x1="230.6" y1="160.4" x2="230.6" y2="161.70000000000002" stroke="#1c2250" stroke-width="0.6" /><line x1="233.6" y1="160.4" x2="233.6" y2="161.70000000000002" stroke="#1c2250" stroke-width="0.6" /><line x1="235.6" y1="160.4" x2="235.6" y2="161.70000000000002" stroke="#1c2250" stroke-width="0.6" /><line x1="241.6" y1="160.4" x2="241.6" y2="161.70000000000002" stroke="#1c2250" stroke-width="0.6" /><line x1="245.6" y1="160.4" x2="245.6" y2="161.70000000000002" stroke="#1c2250" stroke-width="0.6" /><line x1="249.6" y1="160.4" x2="249.6" y2="161.70000000000002" stroke="#1c2250" stroke-width="0.6" /><line x1="253.6" y1="160.4" x2="253.6" y2="161.70000000000002" stroke="#1c2250" stroke-width="0.6" /><line x1="257.6" y1="160.4" x2="257.6" y2="161.70000000000002" stroke="#1c2250" stroke-width="0.6" /><line x1="260.6" y1="160.4" x2="260.6" y2="161.70000000000002" stroke="#1c2250" stroke-width="0.6" /><line x1="262.6" y1="160.4" x2="262.6" y2="161.70000000000002" stroke="#1c2250" stroke-width="0.6" /><line x1="268.6" y1="160.4" x2="268.6" y2="161.70000000000002" stroke="#1c2250" stroke-width="0.6" /><line x1="272.6" y1="160.4" x2="272.6" y2="161.70000000000002" stroke="#1c2250" stroke-width="0.6" /><line x1="276.6" y1="160.4" x2="276.6" y2="161.70000000000002" stroke="#1c2250" stroke-width="0.6" /><line x1="280.6" y1="160.4" x2="280.6" y2="161.70000000000002" stroke="#1c2250" stroke-width="0.6" /><line x1="284.6" y1="160.4" x2="284.6" y2="161.70000000000002" stroke="#1c2250" stroke-width="0.6" /><line x1="287.6" y1="160.4" x2="287.6" y2="161.70000000000002" stroke="#1c2250" stroke-width="0.6" /><line x1="289.6" y1="160.4" x2="289.6" y2="161.70000000000002" stroke="#1c2250" stroke-width="0.6" /><line x1="294.6" y1="160.4" x2="294.6" y2="161.70000000000002" stroke="#1c2250" stroke-width="0.6" /><line x1="297.6" y1="160.4" x2="297.6" y2="161.70000000000002" stroke="#1c2250" stroke-width="0.6" /><rect x="239.3" y="47.2" width="55.099999999999966" height="76.0" fill="none" stroke="#4050e8" stroke-width="1"/><path d="M263.8 144.8 L262.8 144.8 L261.9 144.8 L261.2 144.6 L260.3 144.2 L259.8 144.0 L259.2 143.7 L258.7 143.2 L258.2 142.8 L257.8 142.2 L257.2 141.5 L256.9 140.8 L256.6 140.2 L256.3 139.2 L256.2 138.8 L256.2 137.8 L256.2 137.0 L256.4 136.2 L256.7 135.2 L257.0 134.8 L257.3 134.2 L257.8 133.7 L258.2 133.2 L259.0 132.8 L259.8 132.4 L260.2 132.1 L261.2 131.8 L261.8 131.6 L262.8 131.5 L263.8 131.6 L264.8 131.8 L265.8 132.0 L266.3 132.2 L267.2 132.7 L267.8 133.1 L268.2 133.6 L268.8 134.2 L269.2 134.8 L269.5 135.2 L269.8 135.8 L270.1 136.8 L270.2 137.8 L270.2 138.8 L270.0 139.8 L269.8 140.7 L269.5 141.2 L269.2 141.8 L268.8 142.5 L268.2 143.0 L267.8 143.4 L267.1 143.8 L266.2 144.1 L265.8 144.3 L264.8 144.6 L263.9 144.8Z" fill="#000" fill-opacity="0.07"/><path d="M264.8 143.8 L263.8 144.0 L262.8 144.1 L261.8 144.0 L261.0 143.8 L260.2 143.4 L259.8 143.1 L259.2 142.7 L258.8 142.2 L258.2 141.5 L257.8 140.8 L257.5 140.2 L257.2 139.4 L257.1 138.8 L257.0 137.8 L257.1 136.8 L257.2 136.0 L257.6 135.2 L257.9 134.8 L258.3 134.2 L258.8 133.8 L259.6 133.2 L260.2 132.9 L260.8 132.8 L261.8 132.4 L262.8 132.3 L263.8 132.3 L264.8 132.5 L265.6 132.8 L266.2 133.0 L266.8 133.3 L267.3 133.8 L267.8 134.2 L268.2 134.8 L268.8 135.6 L269.1 136.2 L269.4 137.2 L269.4 138.2 L269.3 139.2 L269.2 139.8 L268.8 140.8 L268.5 141.2 L268.2 141.8 L267.7 142.2 L267.1 142.8 L266.3 143.2 L265.8 143.5 L264.9 143.8Z" fill="#000" fill-opacity="0.07"/><path d="M263.8 143.3 L262.8 143.3 L261.9 143.2 L261.2 143.1 L260.5 142.8 L259.8 142.2 L259.4 141.8 L259.0 141.2 L258.7 140.8 L258.2 139.9 L258.0 139.2 L257.8 138.2 L257.7 137.8 L257.8 136.8 L258.1 135.8 L258.4 135.2 L258.8 134.8 L259.3 134.2 L260.2 133.8 L260.8 133.5 L261.5 133.2 L262.2 133.1 L263.2 133.0 L264.2 133.1 L264.9 133.2 L265.8 133.6 L266.2 133.9 L266.8 134.3 L267.3 134.8 L267.8 135.3 L268.2 136.2 L268.5 136.8 L268.7 137.8 L268.6 138.8 L268.3 139.8 L268.1 140.2 L267.8 140.9 L267.2 141.5 L266.8 142.0 L266.2 142.4 L265.5 142.8 L264.8 143.0 L263.8 143.2Z" fill="#000" fill-opacity="0.07"/><path d="M264.8 142.3 L263.8 142.6 L262.8 142.7 L261.8 142.5 L261.1 142.2 L260.3 141.8 L259.9 141.2 L259.5 140.8 L259.2 140.2 L258.8 139.2 L258.6 138.8 L258.5 137.8 L258.5 136.8 L258.8 136.0 L259.2 135.2 L259.8 134.8 L260.2 134.4 L260.8 134.2 L261.8 133.9 L262.2 133.7 L263.2 133.6 L264.2 133.7 L264.8 133.9 L265.6 134.2 L266.2 134.7 L266.8 135.2 L267.2 135.8 L267.5 136.2 L267.8 136.8 L268.0 137.8 L267.9 138.8 L267.7 139.2 L267.2 140.2 L266.8 140.9 L266.2 141.4 L265.8 141.8 L264.8 142.2Z" fill="#000" fill-opacity="0.07"/><path d="M263.8 141.8 L262.8 141.9 L261.8 141.8 L261.2 141.5 L260.8 141.1 L260.2 140.5 L259.8 139.8 L259.6 139.2 L259.3 138.2 L259.2 137.8 L259.2 136.8 L259.4 136.2 L259.8 135.7 L260.2 135.2 L261.1 134.8 L261.8 134.5 L262.8 134.3 L263.8 134.3 L264.8 134.6 L265.2 134.8 L265.8 135.2 L266.3 135.8 L266.8 136.3 L267.2 137.2 L267.3 138.2 L267.2 138.8 L266.8 139.7 L266.4 140.2 L265.9 140.8 L265.2 141.2 L264.8 141.5 L264.0 141.8Z" fill="#000" fill-opacity="0.07"/><path d="M262.8 141.3 L262.2 141.2 L261.4 140.8 L260.9 140.2 L260.6 139.8 L260.2 139.1 L260.0 138.2 L259.9 137.2 L260.2 136.2 L260.6 135.8 L261.2 135.4 L261.8 135.1 L262.8 134.9 L263.8 134.9 L264.8 135.2 L265.2 135.6 L265.8 136.0 L266.2 136.7 L266.5 137.2 L266.6 138.2 L266.3 139.2 L266.0 139.8 L265.5 140.2 L264.8 140.7 L264.2 141.0 L263.2 141.2Z" fill="#000" fill-opacity="0.07"/><path d="M263.8 140.3 L262.8 140.4 L262.2 140.2 L261.6 139.8 L261.2 139.2 L260.8 138.2 L260.7 137.8 L260.8 137.1 L261.2 136.2 L261.8 135.9 L262.2 135.7 L263.2 135.5 L264.2 135.7 L264.8 136.0 L265.2 136.5 L265.8 137.2 L265.9 138.2 L265.8 138.8 L265.2 139.5 L264.8 139.9 L264.0 140.2Z" fill="#000" fill-opacity="0.07"/><path d="M264.2 139.4 L263.2 139.7 L262.2 139.3 L261.8 138.8 L261.6 138.2 L261.5 137.2 L261.8 136.7 L262.5 136.2 L263.2 136.1 L263.9 136.2 L264.7 136.8 L265.1 137.2 L265.3 138.2 L265.0 138.8 L264.6 139.2Z" fill="#000" fill-opacity="0.07"/><path d="M265.2 150.8 L264.2 151.1 L263.2 151.2 L262.2 151.2 L261.2 151.2 L260.2 151.2 L259.2 151.2 L258.2 151.1 L257.2 151.0 L256.2 150.8 L255.8 150.7 L254.8 150.4 L254.2 150.2 L253.6 149.8 L253.1 149.2 L252.6 148.8 L252.1 148.2 L251.7 147.8 L251.2 146.9 L251.0 146.2 L250.8 145.3 L250.6 144.8 L250.2 143.8 L250.0 143.2 L249.8 142.7 L249.4 141.8 L249.2 141.1 L249.1 140.2 L248.9 139.2 L248.8 138.3 L248.7 137.8 L248.7 136.8 L248.8 136.2 L248.9 135.2 L249.2 134.3 L249.6 133.8 L250.0 133.2 L250.5 132.8 L250.9 132.2 L251.2 131.7 L251.8 131.1 L252.2 130.4 L252.7 129.8 L253.1 129.2 L253.5 128.8 L254.0 128.2 L254.5 127.8 L254.9 127.2 L255.4 126.8 L256.0 126.2 L256.5 125.8 L256.7 124.8 L256.2 123.8 L256.1 123.2 L256.0 122.2 L256.1 121.2 L256.0 120.2 L255.7 119.8 L255.2 118.8 L255.2 117.8 L255.2 116.9 L255.3 116.2 L255.2 115.5 L255.1 114.8 L254.9 113.8 L254.8 112.9 L254.6 112.2 L254.5 111.2 L254.6 110.2 L254.7 109.2 L254.5 108.2 L254.3 107.2 L254.2 106.8 L254.2 105.9 L254.8 105.5 L255.2 105.2 L256.1 104.8 L256.8 104.4 L257.2 104.2 L258.2 104.1 L259.2 104.2 L259.8 104.3 L260.8 104.6 L261.8 104.7 L262.8 104.7 L263.8 104.5 L264.8 104.7 L265.2 104.9 L265.8 105.2 L266.2 105.9 L266.5 106.8 L266.6 107.8 L266.8 108.4 L267.2 109.2 L267.6 109.8 L267.9 110.2 L268.0 111.2 L267.9 112.2 L267.9 113.2 L267.9 114.2 L267.9 115.2 L267.9 116.2 L267.9 117.2 L268.0 118.2 L267.9 119.2 L267.8 120.2 L267.6 120.8 L267.4 121.8 L267.4 122.8 L267.3 123.8 L267.3 124.8 L267.8 125.6 L268.2 126.1 L268.8 126.4 L269.2 126.8 L270.0 127.2 L270.7 127.8 L271.2 128.2 L271.8 128.6 L272.2 129.1 L272.8 129.7 L273.2 130.2 L273.7 130.8 L274.1 131.2 L274.5 131.8 L274.9 132.2 L275.2 132.8 L275.8 133.6 L276.2 134.2 L276.4 134.8 L276.6 135.8 L276.7 136.8 L276.6 137.8 L276.5 138.8 L276.3 139.8 L276.2 140.2 L276.1 141.2 L275.8 142.2 L275.7 142.8 L275.3 143.8 L275.1 144.2 L274.8 144.9 L274.2 145.6 L273.8 146.2 L273.5 146.8 L273.1 147.2 L272.7 147.8 L272.2 148.2 L271.5 148.8 L270.8 149.1 L270.2 149.3 L269.2 149.6 L268.6 149.8 L267.8 150.0 L267.0 150.2 L266.2 150.5 L265.5 150.8 M264.2 119.4 L263.2 119.7 L262.2 119.6 L261.3 119.2 L260.8 119.0 L260.2 118.7 L259.5 118.2 L258.8 117.8 L258.2 117.4 L257.8 116.8 L257.7 116.2 L257.6 115.2 L257.4 114.2 L257.2 113.7 L257.1 112.8 L257.0 111.8 L257.2 110.8 L257.4 110.2 L257.6 109.2 L257.6 108.2 L257.4 107.2 L257.8 106.3 L258.2 106.1 L259.2 106.1 L259.8 106.3 L260.8 106.7 L261.2 107.0 L261.8 107.3 L262.2 107.8 L262.7 108.8 L263.0 109.2 L263.3 109.8 L263.8 110.5 L264.2 111.2 L264.5 111.8 L264.8 112.5 L265.1 113.2 L265.4 113.8 L265.8 114.4 L266.1 115.2 L266.2 116.2 L266.3 116.8 L266.2 117.2 L265.9 118.2 L265.4 118.8 L264.8 119.2 L264.2 119.4 M262.2 150.3 L261.2 150.3 L260.2 150.3 L259.5 150.2 L258.8 150.2 L257.8 150.0 L256.9 149.8 L256.2 149.5 L255.5 149.2 L254.8 148.9 L254.2 148.5 L253.8 148.1 L253.2 147.5 L252.8 146.8 L252.4 146.2 L252.2 145.8 L251.8 144.8 L251.6 144.2 L251.2 143.4 L251.0 142.8 L250.8 142.1 L250.5 141.2 L250.3 140.2 L250.2 139.4 L250.2 138.8 L250.1 137.8 L250.1 136.8 L250.2 135.8 L250.4 135.2 L250.8 134.4 L251.1 133.8 L251.4 133.2 L251.8 132.7 L252.2 131.9 L252.7 131.2 L253.1 130.8 L253.5 130.2 L254.0 129.8 L254.5 129.2 L255.1 128.8 L255.8 128.3 L256.2 127.9 L256.8 127.6 L257.3 127.2 L258.2 126.8 L258.8 126.3 L259.2 125.8 L259.7 125.2 L260.2 124.8 L260.8 124.7 L261.2 124.8 L262.2 124.8 L263.2 124.7 L263.8 124.8 L264.7 125.2 L265.2 125.7 L265.8 126.0 L266.2 126.4 L266.9 126.8 L267.8 127.2 L268.2 127.4 L268.8 127.8 L269.7 128.2 L270.2 128.6 L270.8 129.0 L271.2 129.4 L271.8 129.8 L272.2 130.4 L272.8 130.9 L273.2 131.5 L273.8 132.2 L274.1 132.8 L274.4 133.2 L274.8 133.9 L275.2 134.8 L275.4 135.2 L275.7 136.2 L275.7 137.2 L275.6 138.2 L275.5 139.2 L275.3 140.2 L275.2 140.8 L275.0 141.8 L274.8 142.5 L274.5 143.2 L274.2 143.8 L273.8 144.7 L273.4 145.2 L273.0 145.8 L272.6 146.2 L272.2 146.8 L271.7 147.2 L271.1 147.8 L270.2 148.2 L269.8 148.4 L268.8 148.7 L268.2 148.9 L267.2 149.2 L266.8 149.3 L265.8 149.6 L265.2 149.8 L264.2 150.0 L263.2 150.2 L262.5 150.2 M264.2 148.4 L263.2 148.5 L262.2 148.6 L261.2 148.6 L260.2 148.6 L259.2 148.5 L258.6 148.2 L257.8 147.9 L257.2 147.6 L256.6 147.2 L255.9 146.8 L255.3 146.2 L254.8 145.8 L254.4 145.2 L254.1 144.8 L253.8 144.2 L253.2 143.3 L253.0 142.8 L252.8 142.2 L252.5 141.2 L252.3 140.2 L252.2 139.8 L252.1 138.8 L252.1 137.8 L252.2 136.8 L252.3 136.2 L252.5 135.2 L252.8 134.4 L253.0 133.8 L253.3 133.2 L253.8 132.4 L254.2 131.8 L254.7 131.2 L255.2 130.8 L255.9 130.2 L256.6 129.8 L257.2 129.3 L257.8 129.0 L258.3 128.8 L259.2 128.3 L259.8 128.1 L260.8 127.9 L261.5 127.8 L262.2 127.7 L263.2 127.6 L264.2 127.7 L264.8 127.8 L265.8 128.1 L266.2 128.3 L267.2 128.7 L267.8 129.0 L268.2 129.3 L269.0 129.8 L269.8 130.2 L270.2 130.6 L270.8 131.0 L271.2 131.5 L271.8 132.0 L272.2 132.6 L272.7 133.2 L272.9 133.8 L273.2 134.4 L273.7 135.2 L273.9 135.8 L274.1 136.8 L274.1 137.8 L274.0 138.8 L273.9 139.8 L273.8 140.4 L273.5 141.2 L273.2 142.0 L273.0 142.8 L272.7 143.2 L272.2 144.1 L271.9 144.8 L271.5 145.2 L271.0 145.8 L270.4 146.2 L269.8 146.7 L269.2 147.0 L268.5 147.2 L267.8 147.5 L266.8 147.7 L266.2 147.9 L265.2 148.1 L264.7 148.2 M263.8 146.8 L262.8 146.9 L261.8 146.9 L261.1 146.8 L260.2 146.5 L259.6 146.2 L258.8 145.9 L258.2 145.6 L257.7 145.2 L257.0 144.8 L256.5 144.2 L256.1 143.8 L255.7 143.2 L255.2 142.6 L254.8 141.8 L254.6 141.2 L254.2 140.3 L254.1 139.8 L254.0 138.8 L254.0 137.8 L254.1 136.8 L254.2 135.8 L254.4 135.2 L254.7 134.2 L255.0 133.8 L255.3 133.2 L255.8 132.7 L256.2 132.2 L256.8 131.8 L257.5 131.2 L258.2 130.8 L258.8 130.5 L259.4 130.2 L260.2 129.9 L260.8 129.7 L261.8 129.5 L262.8 129.5 L263.8 129.5 L264.8 129.7 L265.2 129.8 L266.2 130.1 L266.8 130.3 L267.7 130.8 L268.2 131.1 L268.8 131.5 L269.2 131.9 L269.8 132.3 L270.2 132.8 L270.8 133.4 L271.2 134.2 L271.6 134.8 L271.8 135.2 L272.2 136.2 L272.3 136.8 L272.4 137.8 L272.4 138.8 L272.2 139.4 L272.1 140.2 L271.8 141.2 L271.6 141.8 L271.2 142.6 L270.9 143.2 L270.5 143.8 L270.1 144.2 L269.6 144.8 L268.9 145.2 L268.2 145.6 L267.8 145.8 L266.8 146.1 L266.2 146.3 L265.2 146.5 L264.2 146.8 M263.8 145.8 L262.8 145.8 L261.8 145.8 L261.2 145.6 L260.2 145.3 L259.8 145.1 L259.2 144.8 L258.4 144.2 L257.8 143.8 L257.2 143.2 L256.8 142.6 L256.2 141.8 L255.9 141.2 L255.7 140.8 L255.3 139.8 L255.2 139.2 L255.1 138.2 L255.2 137.2 L255.2 136.7 L255.4 135.8 L255.8 134.9 L256.1 134.2 L256.4 133.8 L256.8 133.2 L257.3 132.8 L258.0 132.2 L258.8 131.8 L259.2 131.5 L259.9 131.2 L260.8 130.9 L261.3 130.8 L262.2 130.6 L263.2 130.6 L264.2 130.7 L264.8 130.8 L265.8 131.0 L266.4 131.2 L267.2 131.7 L267.8 132.0 L268.2 132.3 L268.8 132.8 L269.2 133.3 L269.8 133.9 L270.2 134.6 L270.6 135.2 L270.8 135.8 L271.2 136.8 L271.2 137.3 L271.3 138.2 L271.2 138.8 L271.1 139.8 L270.8 140.8 L270.7 141.2 L270.2 142.1 L269.9 142.8 L269.5 143.2 L269.0 143.8 L268.3 144.2 L267.8 144.6 L267.2 144.8 L266.2 145.2 L265.8 145.3 L264.8 145.6 L263.9 145.8 M263.8 144.8 L262.8 144.8 L261.9 144.8 L261.2 144.6 L260.3 144.2 L259.8 144.0 L259.2 143.7 L258.7 143.2 L258.2 142.8 L257.8 142.2 L257.2 141.5 L256.9 140.8 L256.6 140.2 L256.3 139.2 L256.2 138.8 L256.2 137.8 L256.2 137.0 L256.4 136.2 L256.7 135.2 L257.0 134.8 L257.3 134.2 L257.8 133.7 L258.2 133.2 L259.0 132.8 L259.8 132.4 L260.2 132.1 L261.2 131.8 L261.8 131.6 L262.8 131.5 L263.8 131.6 L264.8 131.8 L265.8 132.0 L266.3 132.2 L267.2 132.7 L267.8 133.1 L268.2 133.6 L268.8 134.2 L269.2 134.8 L269.5 135.2 L269.8 135.8 L270.1 136.8 L270.2 137.8 L270.2 138.8 L270.0 139.8 L269.8 140.7 L269.5 141.2 L269.2 141.8 L268.8 142.5 L268.2 143.0 L267.8 143.4 L267.1 143.8 L266.2 144.1 L265.8 144.3 L264.8 144.6 L263.9 144.8 M264.8 143.8 L263.8 144.0 L262.8 144.1 L261.8 144.0 L261.0 143.8 L260.2 143.4 L259.8 143.1 L259.2 142.7 L258.8 142.2 L258.2 141.5 L257.8 140.8 L257.5 140.2 L257.2 139.4 L257.1 138.8 L257.0 137.8 L257.1 136.8 L257.2 136.0 L257.6 135.2 L257.9 134.8 L258.3 134.2 L258.8 133.8 L259.6 133.2 L260.2 132.9 L260.8 132.8 L261.8 132.4 L262.8 132.3 L263.8 132.3 L264.8 132.5 L265.6 132.8 L266.2 133.0 L266.8 133.3 L267.3 133.8 L267.8 134.2 L268.2 134.8 L268.8 135.6 L269.1 136.2 L269.4 137.2 L269.4 138.2 L269.3 139.2 L269.2 139.8 L268.8 140.8 L268.5 141.2 L268.2 141.8 L267.7 142.2 L267.1 142.8 L266.3 143.2 L265.8 143.5 L264.9 143.8 M263.8 143.3 L262.8 143.3 L261.9 143.2 L261.2 143.1 L260.5 142.8 L259.8 142.2 L259.4 141.8 L259.0 141.2 L258.7 140.8 L258.2 139.9 L258.0 139.2 L257.8 138.2 L257.7 137.8 L257.8 136.8 L258.1 135.8 L258.4 135.2 L258.8 134.8 L259.3 134.2 L260.2 133.8 L260.8 133.5 L261.5 133.2 L262.2 133.1 L263.2 133.0 L264.2 133.1 L264.9 133.2 L265.8 133.6 L266.2 133.9 L266.8 134.3 L267.3 134.8 L267.8 135.3 L268.2 136.2 L268.5 136.8 L268.7 137.8 L268.6 138.8 L268.3 139.8 L268.1 140.2 L267.8 140.9 L267.2 141.5 L266.8 142.0 L266.2 142.4 L265.5 142.8 L264.8 143.0 L263.8 143.2 M264.8 142.3 L263.8 142.6 L262.8 142.7 L261.8 142.5 L261.1 142.2 L260.3 141.8 L259.9 141.2 L259.5 140.8 L259.2 140.2 L258.8 139.2 L258.6 138.8 L258.5 137.8 L258.5 136.8 L258.8 136.0 L259.2 135.2 L259.8 134.8 L260.2 134.4 L260.8 134.2 L261.8 133.9 L262.2 133.7 L263.2 133.6 L264.2 133.7 L264.8 133.9 L265.6 134.2 L266.2 134.7 L266.8 135.2 L267.2 135.8 L267.5 136.2 L267.8 136.8 L268.0 137.8 L267.9 138.8 L267.7 139.2 L267.2 140.2 L266.8 140.9 L266.2 141.4 L265.8 141.8 L264.8 142.2 M263.8 141.8 L262.8 141.9 L261.8 141.8 L261.2 141.5 L260.8 141.1 L260.2 140.5 L259.8 139.8 L259.6 139.2 L259.3 138.2 L259.2 137.8 L259.2 136.8 L259.4 136.2 L259.8 135.7 L260.2 135.2 L261.1 134.8 L261.8 134.5 L262.8 134.3 L263.8 134.3 L264.8 134.6 L265.2 134.8 L265.8 135.2 L266.3 135.8 L266.8 136.3 L267.2 137.2 L267.3 138.2 L267.2 138.8 L266.8 139.7 L266.4 140.2 L265.9 140.8 L265.2 141.2 L264.8 141.5 L264.0 141.8 M262.8 141.3 L262.2 141.2 L261.4 140.8 L260.9 140.2 L260.6 139.8 L260.2 139.1 L260.0 138.2 L259.9 137.2 L260.2 136.2 L260.6 135.8 L261.2 135.4 L261.8 135.1 L262.8 134.9 L263.8 134.9 L264.8 135.2 L265.2 135.6 L265.8 136.0 L266.2 136.7 L266.5 137.2 L266.6 138.2 L266.3 139.2 L266.0 139.8 L265.5 140.2 L264.8 140.7 L264.2 141.0 L263.2 141.2 M263.8 140.3 L262.8 140.4 L262.2 140.2 L261.6 139.8 L261.2 139.2 L260.8 138.2 L260.7 137.8 L260.8 137.1 L261.2 136.2 L261.8 135.9 L262.2 135.7 L263.2 135.5 L264.2 135.7 L264.8 136.0 L265.2 136.5 L265.8 137.2 L265.9 138.2 L265.8 138.8 L265.2 139.5 L264.8 139.9 L264.0 140.2 M264.2 139.4 L263.2 139.7 L262.2 139.3 L261.8 138.8 L261.6 138.2 L261.5 137.2 L261.8 136.7 L262.5 136.2 L263.2 136.1 L263.9 136.2 L264.7 136.8 L265.1 137.2 L265.3 138.2 L265.0 138.8 L264.6 139.2" fill="none" stroke="#000" stroke-width="0.9" stroke-linejoin="round"/><path d="M264.8 104.0h0.9v0.9h-0.9zM267.5 104.8h0.9v0.9h-0.9zM278.8 144.3h0.9v0.9h-0.9zM278.0 139.5h0.9v0.9h-0.9zM276.7 142.5h0.9v0.9h-0.9zM259.3 153.1h0.9v0.9h-0.9zM271.8 121.4h0.9v0.9h-0.9zM247.1 148.4h0.9v0.9h-0.9zM252.0 124.2h0.9v0.9h-0.9zM264.8 104.3h0.9v0.9h-0.9zM270.9 125.2h0.9v0.9h-0.9zM263.5 96.1h0.9v0.9h-0.9zM252.0 126.2h0.9v0.9h-0.9zM246.8 121.0h0.9v0.9h-0.9zM254.7 99.8h0.9v0.9h-0.9zM267.7 109.9h0.9v0.9h-0.9zM248.6 142.4h0.9v0.9h-0.9zM249.9 153.1h0.9v0.9h-0.9zM248.5 113.0h0.9v0.9h-0.9zM270.6 122.9h0.9v0.9h-0.9zM273.6 115.4h0.9v0.9h-0.9zM259.8 104.2h0.9v0.9h-0.9zM249.2 134.1h0.9v0.9h-0.9zM277.5 133.5h0.9v0.9h-0.9zM249.0 128.1h0.9v0.9h-0.9zM253.8 103.7h0.9v0.9h-0.9zM252.2 102.8h0.9v0.9h-0.9zM244.8 72.5h0.9v0.9h-0.9zM252.4 118.7h0.9v0.9h-0.9zM255.5 125.6h0.9v0.9h-0.9zM255.4 150.9h0.9v0.9h-0.9zM261.4 80.1h0.9v0.9h-0.9zM269.9 112.6h0.9v0.9h-0.9zM270.5 115.9h0.9v0.9h-0.9zM253.8 118.0h0.9v0.9h-0.9zM252.7 123.0h0.9v0.9h-0.9zM254.2 71.2h0.9v0.9h-0.9zM272.0 148.6h0.9v0.9h-0.9zM269.8 121.8h0.9v0.9h-0.9zM251.3 117.9h0.9v0.9h-0.9zM268.2 120.4h0.9v0.9h-0.9zM254.8 114.1h0.9v0.9h-0.9zM255.9 123.7h0.9v0.9h-0.9zM252.6 100.4h0.9v0.9h-0.9zM267.0 82.2h0.9v0.9h-0.9zM252.7 99.0h0.9v0.9h-0.9zM255.3 119.7h0.9v0.9h-0.9zM272.4 121.9h0.9v0.9h-0.9zM272.0 117.8h0.9v0.9h-0.9zM272.2 128.5h0.9v0.9h-0.9zM249.4 121.9h0.9v0.9h-0.9zM248.7 136.2h0.9v0.9h-0.9zM251.0 132.3h0.9v0.9h-0.9zM253.2 150.4h0.9v0.9h-0.9zM270.7 116.5h0.9v0.9h-0.9zM260.9 68.2h0.9v0.9h-0.9zM254.3 119.2h0.9v0.9h-0.9zM254.7 99.6h0.9v0.9h-0.9zM270.2 108.5h0.9v0.9h-0.9zM266.8 101.6h0.9v0.9h-0.9zM251.3 120.0h0.9v0.9h-0.9zM269.7 95.4h0.9v0.9h-0.9zM252.5 105.9h0.9v0.9h-0.9zM256.0 86.0h0.9v0.9h-0.9zM266.3 151.7h0.9v0.9h-0.9zM275.6 143.7h0.9v0.9h-0.9zM250.3 129.4h0.9v0.9h-0.9zM262.4 76.3h0.9v0.9h-0.9zM270.5 150.1h0.9v0.9h-0.9zM254.8 123.6h0.9v0.9h-0.9zM270.4 109.0h0.9v0.9h-0.9zM271.9 123.2h0.9v0.9h-0.9zM257.7 80.3h0.9v0.9h-0.9zM268.6 120.2h0.9v0.9h-0.9zM269.4 153.7h0.9v0.9h-0.9zM265.2 104.6h0.9v0.9h-0.9zM270.9 109.5h0.9v0.9h-0.9zM254.2 127.2h0.9v0.9h-0.9zM267.3 104.9h0.9v0.9h-0.9zM248.2 149.1h0.9v0.9h-0.9zM251.2 94.9h0.9v0.9h-0.9zM274.6 117.6h0.9v0.9h-0.9zM247.1 139.1h0.9v0.9h-0.9zM265.5 150.8h0.9v0.9h-0.9zM254.9 89.3h0.9v0.9h-0.9zM253.2 109.9h0.9v0.9h-0.9zM252.9 123.6h0.9v0.9h-0.9zM258.9 103.3h0.9v0.9h-0.9zM250.9 115.0h0.9v0.9h-0.9zM254.2 122.0h0.9v0.9h-0.9zM250.2 112.1h0.9v0.9h-0.9zM253.2 112.3h0.9v0.9h-0.9zM250.5 122.6h0.9v0.9h-0.9zM271.0 113.4h0.9v0.9h-0.9zM254.3 124.3h0.9v0.9h-0.9zM279.2 137.8h0.9v0.9h-0.9zM273.5 130.4h0.9v0.9h-0.9zM252.7 126.4h0.9v0.9h-0.9zM255.9 125.4h0.9v0.9h-0.9zM256.3 151.2h0.9v0.9h-0.9zM248.5 143.5h0.9v0.9h-0.9zM258.8 91.2h0.9v0.9h-0.9zM261.3 103.7h0.9v0.9h-0.9zM268.1 120.7h0.9v0.9h-0.9zM256.8 67.0h0.9v0.9h-0.9zM247.3 141.2h0.9v0.9h-0.9zM268.2 113.4h0.9v0.9h-0.9zM253.6 95.2h0.9v0.9h-0.9zM275.5 110.1h0.9v0.9h-0.9zM267.7 120.9h0.9v0.9h-0.9zM251.6 82.9h0.9v0.9h-0.9zM253.7 88.5h0.9v0.9h-0.9zM252.6 86.3h0.9v0.9h-0.9zM259.2 71.1h0.9v0.9h-0.9zM257.8 79.9h0.9v0.9h-0.9zM258.9 72.1h0.9v0.9h-0.9zM258.5 78.4h0.9v0.9h-0.9zM263.4 78.4h0.9v0.9h-0.9zM250.6 70.8h0.9v0.9h-0.9zM260.8 93.3h0.9v0.9h-0.9zM253.4 81.9h0.9v0.9h-0.9zM265.8 89.7h0.9v0.9h-0.9zM256.8 74.8h0.9v0.9h-0.9zM253.6 87.8h0.9v0.9h-0.9zM262.7 102.3h0.9v0.9h-0.9zM249.1 82.9h0.9v0.9h-0.9zM258.6 100.5h0.9v0.9h-0.9zM261.9 106.0h0.9v0.9h-0.9zM258.6 93.9h0.9v0.9h-0.9zM260.7 89.4h0.9v0.9h-0.9zM254.8 99.9h0.9v0.9h-0.9zM254.5 95.3h0.9v0.9h-0.9zM256.2 87.2h0.9v0.9h-0.9zM262.4 111.1h0.9v0.9h-0.9zM253.8 95.7h0.9v0.9h-0.9zM266.2 72.2h0.9v0.9h-0.9zM253.9 88.1h0.9v0.9h-0.9zM258.9 93.1h0.9v0.9h-0.9zM266.0 100.8h0.9v0.9h-0.9zM261.4 80.9h0.9v0.9h-0.9zM261.8 92.0h0.9v0.9h-0.9zM255.4 103.7h0.9v0.9h-0.9zM262.4 85.3h0.9v0.9h-0.9zM249.1 98.2h0.9v0.9h-0.9zM254.6 81.0h0.9v0.9h-0.9zM264.6 77.2h0.9v0.9h-0.9zM259.1 92.4h0.9v0.9h-0.9zM266.9 94.6h0.9v0.9h-0.9zM269.2 89.5h0.9v0.9h-0.9zM257.1 101.1h0.9v0.9h-0.9zM261.4 92.8h0.9v0.9h-0.9zM260.5 97.0h0.9v0.9h-0.9zM261.5 98.2h0.9v0.9h-0.9zM256.2 103.9h0.9v0.9h-0.9zM260.8 88.7h0.9v0.9h-0.9zM253.9 89.7h0.9v0.9h-0.9zM260.2 78.7h0.9v0.9h-0.9zM255.6 106.3h0.9v0.9h-0.9zM252.2 88.6h0.9v0.9h-0.9zM253.8 80.6h0.9v0.9h-0.9zM253.9 85.4h0.9v0.9h-0.9zM260.3 104.1h0.9v0.9h-0.9zM258.2 89.7h0.9v0.9h-0.9zM256.5 81.6h0.9v0.9h-0.9zM255.2 73.3h0.9v0.9h-0.9zM255.6 87.7h0.9v0.9h-0.9zM263.2 80.2h0.9v0.9h-0.9zM257.8 80.1h0.9v0.9h-0.9zM249.7 92.4h0.9v0.9h-0.9zM257.4 90.6h0.9v0.9h-0.9zM264.4 68.5h0.9v0.9h-0.9zM260.4 84.3h0.9v0.9h-0.9zM261.0 94.5h0.9v0.9h-0.9zM252.9 92.4h0.9v0.9h-0.9zM247.3 85.5h0.9v0.9h-0.9zM259.4 80.2h0.9v0.9h-0.9zM265.0 85.8h0.9v0.9h-0.9zM261.0 87.0h0.9v0.9h-0.9zM250.5 90.0h0.9v0.9h-0.9zM250.0 73.6h0.9v0.9h-0.9zM249.3 104.6h0.9v0.9h-0.9zM249.2 92.2h0.9v0.9h-0.9zM254.2 96.2h0.9v0.9h-0.9zM259.7 94.3h0.9v0.9h-0.9zM268.2 82.6h0.9v0.9h-0.9zM255.3 90.3h0.9v0.9h-0.9zM263.4 75.5h0.9v0.9h-0.9zM265.8 89.3h0.9v0.9h-0.9zM257.6 106.8h0.9v0.9h-0.9zM259.2 85.7h0.9v0.9h-0.9zM255.9 88.3h0.9v0.9h-0.9zM258.8 80.6h0.9v0.9h-0.9zM259.1 83.3h0.9v0.9h-0.9zM262.3 98.7h0.9v0.9h-0.9zM258.7 91.5h0.9v0.9h-0.9zM254.5 89.3h0.9v0.9h-0.9zM252.6 97.4h0.9v0.9h-0.9zM261.6 74.8h0.9v0.9h-0.9zM258.3 85.6h0.9v0.9h-0.9zM258.2 94.1h0.9v0.9h-0.9zM260.4 79.0h0.9v0.9h-0.9zM254.9 105.1h0.9v0.9h-0.9zM255.8 71.4h0.9v0.9h-0.9zM266.5 90.0h0.9v0.9h-0.9zM246.8 89.1h0.9v0.9h-0.9zM258.1 92.3h0.9v0.9h-0.9zM263.8 76.4h0.9v0.9h-0.9zM252.0 88.7h0.9v0.9h-0.9zM255.7 93.3h0.9v0.9h-0.9zM259.4 79.0h0.9v0.9h-0.9zM264.4 103.0h0.9v0.9h-0.9zM247.1 93.3h0.9v0.9h-0.9zM258.8 84.6h0.9v0.9h-0.9zM254.1 98.1h0.9v0.9h-0.9zM266.2 97.0h0.9v0.9h-0.9zM259.5 94.1h0.9v0.9h-0.9zM258.1 91.9h0.9v0.9h-0.9zM259.8 82.9h0.9v0.9h-0.9zM257.2 95.7h0.9v0.9h-0.9zM264.0 80.7h0.9v0.9h-0.9zM259.0 99.8h0.9v0.9h-0.9zM255.3 83.9h0.9v0.9h-0.9zM254.4 85.1h0.9v0.9h-0.9zM261.2 97.3h0.9v0.9h-0.9zM248.5 83.2h0.9v0.9h-0.9zM249.1 113.2h0.9v0.9h-0.9zM252.8 91.1h0.9v0.9h-0.9zM259.7 78.5h0.9v0.9h-0.9zM249.5 82.5h0.9v0.9h-0.9zM264.2 80.1h0.9v0.9h-0.9zM252.7 92.9h0.9v0.9h-0.9zM250.0 87.9h0.9v0.9h-0.9zM261.9 82.6h0.9v0.9h-0.9zM258.1 94.7h0.9v0.9h-0.9zM253.3 80.7h0.9v0.9h-0.9zM262.9 92.2h0.9v0.9h-0.9zM262.9 99.8h0.9v0.9h-0.9zM263.6 80.2h0.9v0.9h-0.9zM266.1 78.9h0.9v0.9h-0.9zM259.0 88.9h0.9v0.9h-0.9zM251.4 92.7h0.9v0.9h-0.9zM289.9 134.5h0.9v0.9h-0.9zM283.8 134.1h0.9v0.9h-0.9zM279.9 142.1h0.9v0.9h-0.9zM279.1 137.0h0.9v0.9h-0.9zM288.3 135.3h0.9v0.9h-0.9zM271.1 142.8h0.9v0.9h-0.9zM278.0 132.2h0.9v0.9h-0.9zM281.2 147.7h0.9v0.9h-0.9zM269.1 143.3h0.9v0.9h-0.9zM276.0 137.6h0.9v0.9h-0.9zM285.9 141.1h0.9v0.9h-0.9zM281.0 139.6h0.9v0.9h-0.9zM292.3 143.0h0.9v0.9h-0.9zM293.7 140.4h0.9v0.9h-0.9zM283.0 129.2h0.9v0.9h-0.9zM288.1 149.3h0.9v0.9h-0.9zM289.4 131.3h0.9v0.9h-0.9zM282.8 145.3h0.9v0.9h-0.9zM290.2 134.4h0.9v0.9h-0.9zM283.1 130.9h0.9v0.9h-0.9zM282.6 135.4h0.9v0.9h-0.9zM278.0 135.8h0.9v0.9h-0.9zM289.6 150.9h0.9v0.9h-0.9zM275.1 149.9h0.9v0.9h-0.9zM282.0 134.0h0.9v0.9h-0.9zM279.8 136.0h0.9v0.9h-0.9zM278.5 143.9h0.9v0.9h-0.9zM285.8 139.5h0.9v0.9h-0.9zM277.4 140.8h0.9v0.9h-0.9z" fill="#000" fill-opacity="0.9"/><rect x="39.3" y="242.5" width="120.10000000000001" height="120.80000000000001" fill="none" stroke="#555" stroke-width="1.1"/><line x1="39.3" y1="242.5" x2="39.3" y2="363.90000000000003" stroke="#1c2250" stroke-width="1.4" /><line x1="38.699999999999996" y1="363.3" x2="159.4" y2="363.3" stroke="#1c2250" stroke-width="1.4" /><line x1="36.699999999999996" y1="254.5" x2="39.3" y2="254.5" stroke="#333" stroke-width="0.8" /><line x1="36.699999999999996" y1="281.1" x2="39.3" y2="281.1" stroke="#333" stroke-width="0.8" /><line x1="36.699999999999996" y1="309.8" x2="39.3" y2="309.8" stroke="#333" stroke-width="0.8" /><line x1="36.699999999999996" y1="337.8" x2="39.3" y2="337.8" stroke="#333" stroke-width="0.8" /><line x1="36.699999999999996" y1="356.8" x2="39.3" y2="356.8" stroke="#333" stroke-width="0.8" /><rect x="36.9" y="346.3" width="2.4" height="2.2" fill="#1c2250"/><line x1="45.9" y1="363.3" x2="45.9" y2="366.3" stroke="#333" stroke-width="0.8" /><line x1="68.8" y1="363.3" x2="68.8" y2="366.3" stroke="#333" stroke-width="0.8" /><line x1="94.9" y1="363.3" x2="94.9" y2="366.3" stroke="#333" stroke-width="0.8" /><line x1="121.7" y1="363.3" x2="121.7" y2="366.3" stroke="#333" stroke-width="0.8" /><line x1="148.6" y1="363.3" x2="148.6" y2="366.3" stroke="#333" stroke-width="0.8" /><line x1="49.3" y1="363.3" x2="49.3" y2="364.6" stroke="#1c2250" stroke-width="0.6" /><line x1="52.3" y1="363.3" x2="52.3" y2="364.6" stroke="#1c2250" stroke-width="0.6" /><line x1="55.3" y1="363.3" x2="55.3" y2="364.6" stroke="#1c2250" stroke-width="0.6" /><line x1="58.3" y1="363.3" x2="58.3" y2="364.6" stroke="#1c2250" stroke-width="0.6" /><line x1="61.3" y1="363.3" x2="61.3" y2="364.6" stroke="#1c2250" stroke-width="0.6" /><line x1="64.3" y1="363.3" x2="64.3" y2="364.6" stroke="#1c2250" stroke-width="0.6" /><line x1="66.3" y1="363.3" x2="66.3" y2="364.6" stroke="#1c2250" stroke-width="0.6" /><line x1="73.3" y1="363.3" x2="73.3" y2="364.6" stroke="#1c2250" stroke-width="0.6" /><line x1="77.3" y1="363.3" x2="77.3" y2="364.6" stroke="#1c2250" stroke-width="0.6" /><line x1="81.3" y1="363.3" x2="81.3" y2="364.6" stroke="#1c2250" stroke-width="0.6" /><line x1="85.3" y1="363.3" x2="85.3" y2="364.6" stroke="#1c2250" stroke-width="0.6" /><line x1="88.3" y1="363.3" x2="88.3" y2="364.6" stroke="#1c2250" stroke-width="0.6" /><line x1="91.3" y1="363.3" x2="91.3" y2="364.6" stroke="#1c2250" stroke-width="0.6" /><line x1="93.3" y1="363.3" x2="93.3" y2="364.6" stroke="#1c2250" stroke-width="0.6" /><line x1="99.3" y1="363.3" x2="99.3" y2="364.6" stroke="#1c2250" stroke-width="0.6" /><line x1="103.3" y1="363.3" x2="103.3" y2="364.6" stroke="#1c2250" stroke-width="0.6" /><line x1="107.3" y1="363.3" x2="107.3" y2="364.6" stroke="#1c2250" stroke-width="0.6" /><line x1="111.3" y1="363.3" x2="111.3" y2="364.6" stroke="#1c2250" stroke-width="0.6" /><line x1="115.3" y1="363.3" x2="115.3" y2="364.6" stroke="#1c2250" stroke-width="0.6" /><line x1="118.3" y1="363.3" x2="118.3" y2="364.6" stroke="#1c2250" stroke-width="0.6" /><line x1="120.3" y1="363.3" x2="120.3" y2="364.6" stroke="#1c2250" stroke-width="0.6" /><line x1="126.3" y1="363.3" x2="126.3" y2="364.6" stroke="#1c2250" stroke-width="0.6" /><line x1="130.3" y1="363.3" x2="130.3" y2="364.6" stroke="#1c2250" stroke-width="0.6" /><line x1="134.3" y1="363.3" x2="134.3" y2="364.6" stroke="#1c2250" stroke-width="0.6" /><line x1="138.3" y1="363.3" x2="138.3" y2="364.6" stroke="#1c2250" stroke-width="0.6" /><line x1="142.3" y1="363.3" x2="142.3" y2="364.6" stroke="#1c2250" stroke-width="0.6" /><line x1="145.3" y1="363.3" x2="145.3" y2="364.6" stroke="#1c2250" stroke-width="0.6" /><line x1="147.3" y1="363.3" x2="147.3" y2="364.6" stroke="#1c2250" stroke-width="0.6" /><line x1="152.3" y1="363.3" x2="152.3" y2="364.6" stroke="#1c2250" stroke-width="0.6" /><line x1="155.3" y1="363.3" x2="155.3" y2="364.6" stroke="#1c2250" stroke-width="0.6" /><rect x="88.5" y="250.5" width="55.0" height="78.69999999999999" fill="none" stroke="#4050e8" stroke-width="1"/><path d="M108.8 350.4 L107.8 350.5 L106.8 350.5 L105.9 350.2 L105.2 350.0 L104.8 349.7 L104.1 349.2 L103.5 348.8 L102.9 348.2 L102.4 347.8 L101.9 347.2 L101.5 346.8 L101.2 346.2 L100.8 345.4 L100.5 344.8 L100.2 343.9 L100.1 343.2 L99.9 342.2 L99.8 341.2 L99.8 340.2 L100.0 339.2 L100.2 338.2 L100.4 337.8 L100.8 337.2 L101.2 336.4 L101.7 335.8 L102.1 335.2 L102.6 334.8 L103.2 334.2 L103.8 333.9 L104.2 333.6 L104.9 333.2 L105.8 332.9 L106.8 332.7 L107.8 332.6 L108.8 332.7 L109.4 332.8 L110.2 332.9 L111.2 333.2 L111.8 333.5 L112.2 333.8 L112.9 334.2 L113.6 334.8 L114.2 335.2 L114.8 335.6 L115.2 336.1 L115.8 336.6 L116.2 337.2 L116.4 337.8 L116.7 338.8 L116.8 339.2 L117.1 340.2 L117.2 341.2 L117.3 341.8 L117.2 342.5 L117.1 343.2 L116.8 344.2 L116.5 344.8 L116.2 345.3 L115.8 346.2 L115.4 346.8 L115.0 347.2 L114.5 347.8 L113.9 348.2 L113.2 348.7 L112.8 349.0 L112.2 349.2 L111.2 349.6 L110.8 349.8 L109.8 350.1 L109.2 350.2Z" fill="#000" fill-opacity="0.07"/><path d="M109.2 349.3 L108.2 349.4 L107.2 349.4 L106.4 349.2 L105.8 349.0 L105.2 348.8 L104.5 348.2 L103.9 347.8 L103.3 347.2 L102.8 346.8 L102.3 346.2 L102.0 345.8 L101.7 345.2 L101.3 344.2 L101.2 343.8 L101.0 342.8 L100.9 341.8 L100.9 340.8 L101.0 339.8 L101.2 338.8 L101.4 338.2 L101.8 337.4 L102.1 336.8 L102.5 336.2 L102.9 335.8 L103.4 335.2 L104.1 334.8 L104.8 334.4 L105.2 334.1 L106.2 333.8 L106.8 333.6 L107.8 333.6 L108.8 333.6 L109.8 333.7 L110.2 333.8 L111.2 334.2 L111.8 334.5 L112.2 334.8 L112.8 335.2 L113.5 335.8 L114.0 336.2 L114.5 336.8 L114.9 337.2 L115.2 338.1 L115.5 338.8 L115.8 339.5 L116.0 340.2 L116.2 341.2 L116.2 342.2 L116.0 343.2 L115.8 343.9 L115.3 344.8 L115.0 345.2 L114.6 345.8 L114.2 346.3 L113.8 346.8 L113.2 347.3 L112.7 347.8 L112.0 348.2 L111.2 348.6 L110.8 348.8 L109.8 349.2 L109.2 349.3Z" fill="#000" fill-opacity="0.07"/><path d="M109.8 348.3 L108.8 348.5 L107.8 348.5 L106.8 348.3 L106.2 348.1 L105.7 347.8 L104.9 347.2 L104.3 346.8 L103.8 346.3 L103.2 345.9 L102.8 345.2 L102.5 344.8 L102.2 344.2 L102.0 343.2 L101.8 342.2 L101.8 341.2 L101.9 340.2 L102.2 339.2 L102.4 338.8 L102.8 337.8 L103.2 336.8 L103.7 336.2 L104.2 335.8 L104.8 335.4 L105.2 335.1 L106.0 334.8 L106.8 334.5 L107.8 334.4 L108.8 334.4 L109.8 334.6 L110.3 334.8 L111.2 335.2 L111.8 335.5 L112.2 335.8 L112.8 336.2 L113.3 336.8 L113.8 337.3 L114.2 338.1 L114.5 338.8 L114.8 339.3 L115.1 340.2 L115.2 341.0 L115.3 341.8 L115.2 342.5 L115.0 343.2 L114.8 343.8 L114.2 344.5 L113.8 345.2 L113.3 345.8 L112.9 346.2 L112.4 346.8 L111.8 347.2 L111.2 347.7 L110.8 347.9 L109.9 348.2Z" fill="#000" fill-opacity="0.07"/><path d="M110.2 347.4 L109.2 347.6 L108.2 347.7 L107.2 347.4 L106.2 347.0 L105.8 346.7 L105.1 346.2 L104.4 345.8 L103.9 345.2 L103.5 344.8 L103.2 344.2 L102.8 343.2 L102.7 342.8 L102.6 341.8 L102.7 340.8 L102.8 340.2 L103.2 339.2 L103.4 338.8 L103.8 337.9 L104.1 337.2 L104.5 336.8 L105.0 336.2 L105.7 335.8 L106.2 335.5 L107.2 335.2 L107.8 335.2 L108.8 335.2 L109.4 335.2 L110.2 335.5 L110.8 335.8 L111.6 336.2 L112.2 336.8 L112.8 337.2 L113.2 337.8 L113.5 338.2 L113.8 338.8 L114.1 339.8 L114.3 340.2 L114.5 341.2 L114.5 342.2 L114.2 342.9 L113.8 343.8 L113.5 344.2 L113.1 344.8 L112.7 345.2 L112.2 345.8 L111.8 346.3 L111.2 346.8 L110.5 347.2Z" fill="#000" fill-opacity="0.07"/><path d="M109.2 346.8 L108.2 346.8 L107.8 346.6 L106.9 346.2 L106.2 345.9 L105.8 345.5 L105.2 345.2 L104.8 344.7 L104.2 344.2 L103.8 343.2 L103.5 342.2 L103.4 341.2 L103.7 340.2 L103.9 339.8 L104.2 339.0 L104.7 338.2 L105.0 337.8 L105.4 337.2 L106.0 336.8 L106.8 336.3 L107.2 336.2 L108.2 336.0 L109.2 336.1 L109.8 336.2 L110.8 336.7 L111.2 337.0 L111.8 337.4 L112.2 337.9 L112.8 338.6 L113.1 339.2 L113.3 339.8 L113.6 340.8 L113.7 341.8 L113.4 342.8 L113.1 343.2 L112.8 343.8 L112.2 344.5 L111.8 345.1 L111.2 345.6 L110.8 346.1 L110.2 346.4 L109.5 346.8Z" fill="#000" fill-opacity="0.07"/><path d="M109.8 345.8 L108.8 346.0 L107.8 345.8 L107.2 345.5 L106.8 345.1 L106.2 344.8 L105.6 344.2 L105.1 343.8 L104.8 343.2 L104.3 342.2 L104.3 341.2 L104.5 340.2 L104.8 339.8 L105.2 338.9 L105.8 338.3 L106.2 337.8 L106.8 337.4 L107.2 337.2 L108.2 336.9 L109.2 337.0 L109.9 337.2 L110.8 337.7 L111.2 338.1 L111.8 338.6 L112.2 339.2 L112.4 339.8 L112.8 340.7 L112.8 341.2 L112.8 342.1 L112.5 342.8 L111.9 343.8 L111.5 344.2 L111.1 344.8 L110.6 345.2 L109.9 345.8Z" fill="#000" fill-opacity="0.07"/><path d="M109.8 344.8 L108.8 345.0 L107.9 344.8 L107.2 344.3 L106.8 343.9 L106.2 343.5 L105.8 342.9 L105.4 342.2 L105.2 341.4 L105.2 341.2 L105.5 340.2 L105.8 339.8 L106.2 339.2 L106.8 338.7 L107.6 338.2 L108.2 338.1 L109.2 338.2 L110.2 338.7 L110.8 339.1 L111.2 339.6 L111.6 340.2 L111.8 340.8 L111.8 341.8 L111.7 342.2 L111.2 343.2 L110.9 343.8 L110.4 344.2 L109.8 344.8Z" fill="#000" fill-opacity="0.07"/><path d="M109.2 344.0 L108.2 343.9 L107.8 343.6 L107.2 343.2 L106.8 342.7 L106.2 341.8 L106.2 341.2 L106.3 340.8 L106.8 339.9 L107.2 339.5 L108.0 339.2 L108.7 339.2 L109.2 339.4 L109.9 339.8 L110.4 340.2 L110.8 340.8 L110.9 341.8 L110.8 342.4 L110.2 343.2 L109.7 343.8Z" fill="#000" fill-opacity="0.07"/><path d="M109.2 358.3 L108.2 358.3 L107.3 358.2 L106.8 358.2 L105.8 358.0 L105.0 357.8 L104.2 357.5 L103.6 357.2 L102.9 356.8 L102.4 356.2 L102.0 355.8 L101.7 355.2 L101.2 354.5 L100.8 353.8 L100.4 353.2 L100.0 352.8 L99.7 352.2 L99.2 351.6 L98.8 350.8 L98.2 350.3 L97.8 349.9 L97.2 349.4 L96.8 349.0 L96.2 348.3 L96.0 347.8 L95.8 346.8 L95.7 346.2 L95.6 345.2 L95.5 344.2 L95.3 343.2 L95.2 342.8 L95.1 341.8 L94.9 340.8 L94.9 339.8 L94.9 338.8 L95.0 337.8 L95.2 336.9 L95.5 336.2 L95.8 335.7 L96.2 334.8 L96.5 334.2 L96.8 333.8 L97.2 333.0 L97.7 332.2 L98.0 331.8 L98.3 331.2 L98.8 330.3 L98.9 329.8 L99.2 328.8 L99.4 328.2 L99.8 327.7 L100.2 327.0 L100.8 326.5 L101.2 326.0 L101.8 325.4 L102.2 324.8 L102.6 324.2 L102.8 323.8 L103.2 322.8 L103.6 322.2 L104.0 321.8 L104.6 321.2 L105.2 320.9 L105.8 320.7 L106.8 320.4 L107.4 320.2 L108.2 320.0 L108.9 319.8 L109.8 319.4 L110.8 319.3 L111.8 319.6 L112.2 320.0 L112.8 320.5 L113.2 321.2 L113.4 321.8 L113.5 322.8 L113.4 323.8 L113.2 324.2 L113.0 325.2 L112.8 326.2 L112.9 327.2 L113.4 327.8 L114.0 328.2 L114.7 328.8 L115.2 329.1 L115.8 329.5 L116.2 329.8 L117.0 330.2 L117.8 330.7 L118.2 331.0 L118.8 331.5 L119.2 332.0 L119.8 332.7 L120.2 333.2 L120.7 333.8 L121.2 334.2 L121.7 334.8 L122.2 335.2 L122.8 335.7 L123.2 336.1 L123.8 336.4 L124.2 336.8 L124.8 337.3 L125.2 337.9 L125.8 338.6 L126.2 339.2 L126.5 339.8 L126.8 340.2 L127.2 341.1 L127.6 341.8 L127.8 342.2 L127.9 343.2 L127.8 343.8 L127.3 344.8 L126.9 345.2 L126.4 345.8 L125.8 346.2 L125.3 346.8 L124.8 347.2 L124.4 347.8 L124.1 348.2 L123.8 348.9 L123.3 349.8 L123.0 350.2 L122.6 350.8 L121.9 351.2 L121.2 351.6 L120.7 351.8 L119.8 352.1 L119.2 352.3 L118.5 352.8 L117.8 353.2 L116.9 353.8 L116.2 354.2 L115.8 354.5 L115.2 354.9 L114.8 355.4 L114.2 356.1 L113.8 356.7 L113.2 357.2 L112.8 357.6 L112.2 357.9 L111.2 358.1 L110.2 358.2 L109.4 358.2 M110.2 356.8 L109.2 356.8 L108.3 356.8 L107.8 356.6 L106.8 356.3 L106.2 356.2 L105.2 356.0 L104.4 355.8 L103.8 355.5 L103.2 355.2 L102.4 354.2 L102.0 353.8 L101.7 353.2 L101.2 352.7 L100.8 352.1 L100.2 351.4 L99.8 350.8 L99.4 350.2 L99.0 349.8 L98.5 349.2 L97.9 348.8 L97.5 348.2 L97.2 347.8 L96.9 346.8 L96.8 345.9 L96.6 345.2 L96.4 344.2 L96.2 343.6 L96.1 342.8 L95.9 341.8 L95.9 340.8 L95.9 339.8 L95.9 338.8 L96.1 337.8 L96.2 337.2 L96.6 336.2 L96.8 335.8 L97.2 335.0 L97.7 334.2 L98.1 333.8 L98.4 333.2 L98.8 332.6 L99.2 331.8 L99.5 331.2 L99.8 330.6 L100.1 329.8 L100.3 329.2 L100.8 328.6 L101.2 328.0 L101.8 327.5 L102.2 327.0 L102.8 326.4 L103.2 325.8 L103.8 325.3 L104.2 324.8 L104.5 324.2 L104.8 323.8 L105.2 323.0 L105.8 322.5 L106.2 322.2 L107.2 321.8 L107.8 321.7 L108.8 321.6 L109.8 321.7 L110.2 322.0 L110.6 322.8 L110.5 323.8 L110.2 324.4 L109.8 325.0 L109.2 325.7 L109.2 326.2 L109.3 326.8 L109.8 327.3 L110.2 327.8 L110.8 328.2 L111.8 328.7 L112.2 329.0 L112.8 329.2 L113.7 329.8 L114.2 330.2 L114.8 330.5 L115.2 330.8 L116.2 331.2 L116.8 331.5 L117.2 331.8 L117.8 332.2 L118.2 332.8 L118.8 333.4 L119.2 334.1 L119.7 334.8 L120.1 335.2 L120.5 335.8 L120.9 336.2 L121.3 336.8 L121.8 337.5 L122.2 338.2 L122.4 338.8 L122.8 339.3 L123.2 339.9 L123.8 340.5 L124.2 341.2 L124.4 341.8 L124.7 342.8 L124.6 343.8 L124.2 344.5 L123.9 345.2 L123.6 345.8 L123.2 346.3 L122.8 347.2 L122.4 347.8 L122.2 348.2 L121.8 349.0 L121.2 349.6 L120.8 350.0 L120.2 350.3 L119.3 350.8 L118.8 351.0 L118.2 351.2 L117.5 351.8 L116.9 352.2 L116.3 352.8 L115.8 353.1 L115.2 353.4 L114.8 353.8 L114.2 354.2 L113.7 354.8 L113.2 355.4 L112.8 355.9 L112.2 356.2 L111.2 356.6 L110.4 356.8 M109.8 355.3 L108.8 355.3 L108.2 355.2 L107.2 355.0 L106.2 354.9 L105.2 354.8 L104.2 354.5 L103.8 354.2 L103.2 353.7 L102.8 353.1 L102.2 352.6 L101.8 352.0 L101.2 351.4 L100.8 350.8 L100.3 350.2 L99.9 349.8 L99.5 349.2 L99.0 348.8 L98.5 348.2 L98.2 347.8 L97.8 346.8 L97.6 346.2 L97.4 345.2 L97.2 344.7 L97.0 343.8 L96.8 342.8 L96.7 342.2 L96.6 341.2 L96.6 340.2 L96.6 339.2 L96.8 338.5 L96.9 337.8 L97.2 336.8 L97.4 336.2 L97.8 335.6 L98.2 334.9 L98.7 334.2 L99.0 333.8 L99.3 333.2 L99.8 332.6 L100.2 331.8 L100.5 331.2 L100.8 330.7 L101.2 329.9 L101.8 329.3 L102.2 328.8 L102.8 328.4 L103.2 328.0 L103.8 327.7 L104.8 327.3 L105.8 327.3 L106.8 327.4 L107.7 327.8 L108.2 328.0 L108.8 328.3 L109.6 328.8 L110.2 329.1 L110.8 329.3 L111.8 329.7 L112.2 329.9 L112.8 330.2 L113.6 330.8 L114.2 331.2 L114.8 331.5 L115.2 331.8 L116.2 332.2 L116.8 332.6 L117.2 333.0 L117.8 333.6 L118.2 334.2 L118.7 334.8 L119.0 335.2 L119.3 335.8 L119.8 336.5 L120.2 337.2 L120.5 337.8 L120.8 338.4 L121.1 339.2 L121.4 339.8 L121.8 340.6 L122.1 341.2 L122.3 341.8 L122.5 342.8 L122.4 343.8 L122.3 344.8 L122.1 345.2 L121.8 346.2 L121.4 346.8 L121.1 347.2 L120.8 347.8 L120.2 348.5 L119.8 349.0 L119.2 349.4 L118.7 349.8 L117.8 350.2 L117.2 350.6 L116.8 351.0 L116.2 351.5 L115.8 351.9 L115.2 352.3 L114.6 352.8 L113.8 353.2 L113.2 353.7 L112.8 354.1 L112.2 354.4 L111.5 354.8 L110.8 355.0 L109.8 355.2 M107.2 353.3 L106.5 353.2 L105.8 353.2 L104.8 352.8 L104.2 352.5 L103.8 352.2 L103.2 351.7 L102.7 351.2 L102.2 350.8 L101.7 350.2 L101.2 349.7 L100.8 349.2 L100.2 348.6 L99.8 348.0 L99.2 347.3 L98.9 346.8 L98.7 346.2 L98.4 345.2 L98.2 344.7 L98.0 343.8 L97.8 342.9 L97.6 342.2 L97.5 341.2 L97.6 340.2 L97.7 339.2 L97.8 338.7 L98.0 337.8 L98.2 337.0 L98.7 336.2 L99.0 335.8 L99.4 335.2 L99.8 334.7 L100.2 333.9 L100.7 333.2 L101.2 332.8 L101.6 332.2 L102.0 331.8 L102.5 331.2 L103.0 330.8 L103.8 330.3 L104.2 330.0 L105.2 329.8 L105.8 329.7 L106.8 329.6 L107.8 329.7 L108.2 329.9 L109.2 330.2 L109.8 330.3 L110.8 330.6 L111.3 330.8 L112.2 331.2 L112.8 331.5 L113.2 331.8 L113.8 332.2 L114.7 332.8 L115.2 333.1 L115.8 333.4 L116.2 333.8 L116.8 334.2 L117.3 334.8 L117.8 335.3 L118.2 336.0 L118.7 336.8 L118.9 337.2 L119.2 338.1 L119.5 338.8 L119.8 339.6 L119.9 340.2 L120.1 341.2 L120.2 342.2 L120.2 343.2 L120.3 343.8 L120.2 344.7 L120.2 345.2 L119.8 346.1 L119.3 346.8 L118.9 347.2 L118.5 347.8 L118.1 348.2 L117.5 348.8 L117.0 349.2 L116.3 349.8 L115.8 350.2 L115.2 350.6 L114.8 351.0 L114.2 351.4 L113.5 351.8 L112.8 352.1 L112.2 352.3 L111.2 352.5 L110.3 352.8 L109.8 352.9 L108.8 353.1 L107.8 353.2 M108.2 351.8 L107.2 351.9 L106.2 351.8 L105.8 351.7 L104.8 351.3 L104.2 351.0 L103.8 350.6 L103.2 350.2 L102.8 349.7 L102.2 349.2 L101.7 348.8 L101.2 348.2 L100.8 347.6 L100.2 346.9 L99.9 346.2 L99.6 345.8 L99.3 344.8 L99.1 344.2 L98.8 343.2 L98.7 342.8 L98.6 341.8 L98.6 340.8 L98.6 339.8 L98.8 339.0 L98.9 338.2 L99.2 337.4 L99.6 336.8 L99.9 336.2 L100.3 335.8 L100.8 335.1 L101.2 334.4 L101.8 333.9 L102.2 333.4 L102.8 333.1 L103.2 332.7 L103.9 332.2 L104.8 331.8 L105.2 331.5 L106.2 331.3 L107.2 331.3 L108.2 331.4 L109.2 331.5 L110.2 331.6 L110.8 331.8 L111.8 332.1 L112.2 332.4 L112.8 332.8 L113.5 333.2 L114.2 333.8 L114.8 334.1 L115.2 334.4 L115.8 334.8 L116.3 335.2 L116.8 335.8 L117.2 336.4 L117.7 337.2 L117.9 337.8 L118.2 338.8 L118.4 339.2 L118.6 340.2 L118.7 341.2 L118.7 342.2 L118.6 343.2 L118.4 344.2 L118.1 345.2 L117.8 345.9 L117.3 346.8 L117.0 347.2 L116.7 347.8 L116.2 348.2 L115.7 348.8 L115.1 349.2 L114.4 349.8 L113.8 350.1 L113.2 350.4 L112.3 350.8 L111.8 350.9 L110.8 351.2 L110.2 351.3 L109.2 351.6 L108.6 351.8 M108.8 350.4 L107.8 350.5 L106.8 350.5 L105.9 350.2 L105.2 350.0 L104.8 349.7 L104.1 349.2 L103.5 348.8 L102.9 348.2 L102.4 347.8 L101.9 347.2 L101.5 346.8 L101.2 346.2 L100.8 345.4 L100.5 344.8 L100.2 343.9 L100.1 343.2 L99.9 342.2 L99.8 341.2 L99.8 340.2 L100.0 339.2 L100.2 338.2 L100.4 337.8 L100.8 337.2 L101.2 336.4 L101.7 335.8 L102.1 335.2 L102.6 334.8 L103.2 334.2 L103.8 333.9 L104.2 333.6 L104.9 333.2 L105.8 332.9 L106.8 332.7 L107.8 332.6 L108.8 332.7 L109.4 332.8 L110.2 332.9 L111.2 333.2 L111.8 333.5 L112.2 333.8 L112.9 334.2 L113.6 334.8 L114.2 335.2 L114.8 335.6 L115.2 336.1 L115.8 336.6 L116.2 337.2 L116.4 337.8 L116.7 338.8 L116.8 339.2 L117.1 340.2 L117.2 341.2 L117.3 341.8 L117.2 342.5 L117.1 343.2 L116.8 344.2 L116.5 344.8 L116.2 345.3 L115.8 346.2 L115.4 346.8 L115.0 347.2 L114.5 347.8 L113.9 348.2 L113.2 348.7 L112.8 349.0 L112.2 349.2 L111.2 349.6 L110.8 349.8 L109.8 350.1 L109.2 350.2 M109.2 349.3 L108.2 349.4 L107.2 349.4 L106.4 349.2 L105.8 349.0 L105.2 348.8 L104.5 348.2 L103.9 347.8 L103.3 347.2 L102.8 346.8 L102.3 346.2 L102.0 345.8 L101.7 345.2 L101.3 344.2 L101.2 343.8 L101.0 342.8 L100.9 341.8 L100.9 340.8 L101.0 339.8 L101.2 338.8 L101.4 338.2 L101.8 337.4 L102.1 336.8 L102.5 336.2 L102.9 335.8 L103.4 335.2 L104.1 334.8 L104.8 334.4 L105.2 334.1 L106.2 333.8 L106.8 333.6 L107.8 333.6 L108.8 333.6 L109.8 333.7 L110.2 333.8 L111.2 334.2 L111.8 334.5 L112.2 334.8 L112.8 335.2 L113.5 335.8 L114.0 336.2 L114.5 336.8 L114.9 337.2 L115.2 338.1 L115.5 338.8 L115.8 339.5 L116.0 340.2 L116.2 341.2 L116.2 342.2 L116.0 343.2 L115.8 343.9 L115.3 344.8 L115.0 345.2 L114.6 345.8 L114.2 346.3 L113.8 346.8 L113.2 347.3 L112.7 347.8 L112.0 348.2 L111.2 348.6 L110.8 348.8 L109.8 349.2 L109.2 349.3 M109.8 348.3 L108.8 348.5 L107.8 348.5 L106.8 348.3 L106.2 348.1 L105.7 347.8 L104.9 347.2 L104.3 346.8 L103.8 346.3 L103.2 345.9 L102.8 345.2 L102.5 344.8 L102.2 344.2 L102.0 343.2 L101.8 342.2 L101.8 341.2 L101.9 340.2 L102.2 339.2 L102.4 338.8 L102.8 337.8 L103.2 336.8 L103.7 336.2 L104.2 335.8 L104.8 335.4 L105.2 335.1 L106.0 334.8 L106.8 334.5 L107.8 334.4 L108.8 334.4 L109.8 334.6 L110.3 334.8 L111.2 335.2 L111.8 335.5 L112.2 335.8 L112.8 336.2 L113.3 336.8 L113.8 337.3 L114.2 338.1 L114.5 338.8 L114.8 339.3 L115.1 340.2 L115.2 341.0 L115.3 341.8 L115.2 342.5 L115.0 343.2 L114.8 343.8 L114.2 344.5 L113.8 345.2 L113.3 345.8 L112.9 346.2 L112.4 346.8 L111.8 347.2 L111.2 347.7 L110.8 347.9 L109.9 348.2 M110.2 347.4 L109.2 347.6 L108.2 347.7 L107.2 347.4 L106.2 347.0 L105.8 346.7 L105.1 346.2 L104.4 345.8 L103.9 345.2 L103.5 344.8 L103.2 344.2 L102.8 343.2 L102.7 342.8 L102.6 341.8 L102.7 340.8 L102.8 340.2 L103.2 339.2 L103.4 338.8 L103.8 337.9 L104.1 337.2 L104.5 336.8 L105.0 336.2 L105.7 335.8 L106.2 335.5 L107.2 335.2 L107.8 335.2 L108.8 335.2 L109.4 335.2 L110.2 335.5 L110.8 335.8 L111.6 336.2 L112.2 336.8 L112.8 337.2 L113.2 337.8 L113.5 338.2 L113.8 338.8 L114.1 339.8 L114.3 340.2 L114.5 341.2 L114.5 342.2 L114.2 342.9 L113.8 343.8 L113.5 344.2 L113.1 344.8 L112.7 345.2 L112.2 345.8 L111.8 346.3 L111.2 346.8 L110.5 347.2 M109.2 346.8 L108.2 346.8 L107.8 346.6 L106.9 346.2 L106.2 345.9 L105.8 345.5 L105.2 345.2 L104.8 344.7 L104.2 344.2 L103.8 343.2 L103.5 342.2 L103.4 341.2 L103.7 340.2 L103.9 339.8 L104.2 339.0 L104.7 338.2 L105.0 337.8 L105.4 337.2 L106.0 336.8 L106.8 336.3 L107.2 336.2 L108.2 336.0 L109.2 336.1 L109.8 336.2 L110.8 336.7 L111.2 337.0 L111.8 337.4 L112.2 337.9 L112.8 338.6 L113.1 339.2 L113.3 339.8 L113.6 340.8 L113.7 341.8 L113.4 342.8 L113.1 343.2 L112.8 343.8 L112.2 344.5 L111.8 345.1 L111.2 345.6 L110.8 346.1 L110.2 346.4 L109.5 346.8 M109.8 345.8 L108.8 346.0 L107.8 345.8 L107.2 345.5 L106.8 345.1 L106.2 344.8 L105.6 344.2 L105.1 343.8 L104.8 343.2 L104.3 342.2 L104.3 341.2 L104.5 340.2 L104.8 339.8 L105.2 338.9 L105.8 338.3 L106.2 337.8 L106.8 337.4 L107.2 337.2 L108.2 336.9 L109.2 337.0 L109.9 337.2 L110.8 337.7 L111.2 338.1 L111.8 338.6 L112.2 339.2 L112.4 339.8 L112.8 340.7 L112.8 341.2 L112.8 342.1 L112.5 342.8 L111.9 343.8 L111.5 344.2 L111.1 344.8 L110.6 345.2 L109.9 345.8 M109.8 344.8 L108.8 345.0 L107.9 344.8 L107.2 344.3 L106.8 343.9 L106.2 343.5 L105.8 342.9 L105.4 342.2 L105.2 341.4 L105.2 341.2 L105.5 340.2 L105.8 339.8 L106.2 339.2 L106.8 338.7 L107.6 338.2 L108.2 338.1 L109.2 338.2 L110.2 338.7 L110.8 339.1 L111.2 339.6 L111.6 340.2 L111.8 340.8 L111.8 341.8 L111.7 342.2 L111.2 343.2 L110.9 343.8 L110.4 344.2 L109.8 344.8 M109.2 344.0 L108.2 343.9 L107.8 343.6 L107.2 343.2 L106.8 342.7 L106.2 341.8 L106.2 341.2 L106.3 340.8 L106.8 339.9 L107.2 339.5 L108.0 339.2 L108.7 339.2 L109.2 339.4 L109.9 339.8 L110.4 340.2 L110.8 340.8 L110.9 341.8 L110.8 342.4 L110.2 343.2 L109.7 343.8" fill="none" stroke="#000" stroke-width="0.9" stroke-linejoin="round"/><path d="M122.2 356.5h0.9v0.9h-0.9zM124.6 336.5h0.9v0.9h-0.9zM132.1 350.0h0.9v0.9h-0.9zM97.8 350.4h0.9v0.9h-0.9zM97.0 325.6h0.9v0.9h-0.9zM132.3 344.5h0.9v0.9h-0.9zM124.8 348.8h0.9v0.9h-0.9zM128.9 348.7h0.9v0.9h-0.9zM100.4 320.0h0.9v0.9h-0.9zM94.0 325.0h0.9v0.9h-0.9zM108.3 316.9h0.9v0.9h-0.9zM94.3 346.7h0.9v0.9h-0.9zM98.9 322.7h0.9v0.9h-0.9zM115.4 325.5h0.9v0.9h-0.9zM105.4 359.0h0.9v0.9h-0.9zM94.1 353.5h0.9v0.9h-0.9zM115.6 323.9h0.9v0.9h-0.9zM103.5 362.8h0.9v0.9h-0.9zM99.1 318.5h0.9v0.9h-0.9zM102.4 357.9h0.9v0.9h-0.9zM98.4 353.9h0.9v0.9h-0.9zM119.4 326.6h0.9v0.9h-0.9zM127.6 352.5h0.9v0.9h-0.9zM113.2 317.7h0.9v0.9h-0.9zM126.0 331.1h0.9v0.9h-0.9zM128.4 340.7h0.9v0.9h-0.9zM103.5 321.9h0.9v0.9h-0.9zM107.3 358.7h0.9v0.9h-0.9zM103.0 357.5h0.9v0.9h-0.9zM94.2 348.9h0.9v0.9h-0.9zM129.9 337.1h0.9v0.9h-0.9zM115.8 327.5h0.9v0.9h-0.9zM116.6 329.6h0.9v0.9h-0.9zM128.7 344.7h0.9v0.9h-0.9zM97.2 328.4h0.9v0.9h-0.9zM111.0 317.8h0.9v0.9h-0.9zM101.0 317.9h0.9v0.9h-0.9zM96.1 349.2h0.9v0.9h-0.9zM101.9 323.1h0.9v0.9h-0.9zM127.9 340.7h0.9v0.9h-0.9zM123.9 349.4h0.9v0.9h-0.9zM125.0 334.1h0.9v0.9h-0.9zM98.4 329.6h0.9v0.9h-0.9zM95.9 333.0h0.9v0.9h-0.9zM95.9 334.0h0.9v0.9h-0.9zM107.5 290.3h0.9v0.9h-0.9zM102.4 319.2h0.9v0.9h-0.9zM110.0 317.1h0.9v0.9h-0.9zM104.1 254.1h0.9v0.9h-0.9zM120.1 321.5h0.9v0.9h-0.9zM122.3 265.3h0.9v0.9h-0.9zM103.3 315.9h0.9v0.9h-0.9zM117.6 263.6h0.9v0.9h-0.9zM107.5 320.2h0.9v0.9h-0.9zM109.4 306.7h0.9v0.9h-0.9zM108.4 290.2h0.9v0.9h-0.9zM125.0 313.5h0.9v0.9h-0.9zM123.6 291.7h0.9v0.9h-0.9zM103.4 301.2h0.9v0.9h-0.9zM122.6 310.7h0.9v0.9h-0.9zM111.1 324.5h0.9v0.9h-0.9zM118.6 258.2h0.9v0.9h-0.9zM113.3 260.9h0.9v0.9h-0.9zM110.3 310.5h0.9v0.9h-0.9zM116.3 281.6h0.9v0.9h-0.9zM114.5 288.4h0.9v0.9h-0.9zM118.0 272.5h0.9v0.9h-0.9zM105.4 256.5h0.9v0.9h-0.9zM121.7 285.3h0.9v0.9h-0.9zM116.1 262.3h0.9v0.9h-0.9zM106.7 265.6h0.9v0.9h-0.9zM102.0 285.1h0.9v0.9h-0.9zM102.1 261.8h0.9v0.9h-0.9zM116.4 309.8h0.9v0.9h-0.9zM115.4 313.6h0.9v0.9h-0.9zM112.3 305.4h0.9v0.9h-0.9zM124.6 254.2h0.9v0.9h-0.9zM117.5 256.5h0.9v0.9h-0.9zM111.3 285.2h0.9v0.9h-0.9zM106.5 256.7h0.9v0.9h-0.9zM117.2 318.3h0.9v0.9h-0.9zM121.9 289.6h0.9v0.9h-0.9zM120.2 274.1h0.9v0.9h-0.9zM103.3 284.0h0.9v0.9h-0.9zM117.7 319.0h0.9v0.9h-0.9zM111.5 290.0h0.9v0.9h-0.9zM107.8 289.1h0.9v0.9h-0.9zM104.7 316.7h0.9v0.9h-0.9zM108.4 293.2h0.9v0.9h-0.9zM120.9 253.7h0.9v0.9h-0.9zM118.3 276.2h0.9v0.9h-0.9zM113.4 310.5h0.9v0.9h-0.9zM121.7 314.4h0.9v0.9h-0.9zM111.0 263.0h0.9v0.9h-0.9zM119.0 258.9h0.9v0.9h-0.9zM112.1 302.6h0.9v0.9h-0.9zM113.0 259.0h0.9v0.9h-0.9zM123.6 294.5h0.9v0.9h-0.9zM109.4 277.9h0.9v0.9h-0.9zM103.5 276.9h0.9v0.9h-0.9zM109.4 318.8h0.9v0.9h-0.9zM111.7 319.6h0.9v0.9h-0.9zM108.4 283.0h0.9v0.9h-0.9zM121.2 254.0h0.9v0.9h-0.9zM124.5 314.4h0.9v0.9h-0.9zM101.4 256.0h0.9v0.9h-0.9zM121.4 309.3h0.9v0.9h-0.9zM123.1 291.7h0.9v0.9h-0.9zM105.5 310.9h0.9v0.9h-0.9zM108.1 294.3h0.9v0.9h-0.9zM101.6 292.4h0.9v0.9h-0.9zM123.1 260.3h0.9v0.9h-0.9zM104.6 270.5h0.9v0.9h-0.9zM110.9 289.1h0.9v0.9h-0.9zM115.3 253.5h0.9v0.9h-0.9zM119.7 318.5h0.9v0.9h-0.9zM112.1 258.1h0.9v0.9h-0.9zM115.7 273.4h0.9v0.9h-0.9zM116.8 264.5h0.9v0.9h-0.9zM108.1 311.3h0.9v0.9h-0.9zM107.2 296.1h0.9v0.9h-0.9zM114.8 302.8h0.9v0.9h-0.9zM108.0 289.8h0.9v0.9h-0.9zM107.1 305.9h0.9v0.9h-0.9zM117.0 314.7h0.9v0.9h-0.9zM115.2 310.6h0.9v0.9h-0.9zM117.8 289.3h0.9v0.9h-0.9zM111.6 277.2h0.9v0.9h-0.9zM109.8 291.8h0.9v0.9h-0.9zM120.7 276.2h0.9v0.9h-0.9zM107.3 255.2h0.9v0.9h-0.9zM113.3 268.4h0.9v0.9h-0.9zM115.4 259.5h0.9v0.9h-0.9zM118.0 318.8h0.9v0.9h-0.9zM111.7 257.4h0.9v0.9h-0.9zM113.5 267.1h0.9v0.9h-0.9zM115.3 289.3h0.9v0.9h-0.9zM124.5 272.3h0.9v0.9h-0.9zM114.2 267.8h0.9v0.9h-0.9zM104.2 259.5h0.9v0.9h-0.9zM109.0 297.5h0.9v0.9h-0.9zM117.6 295.5h0.9v0.9h-0.9zM116.7 304.9h0.9v0.9h-0.9zM122.7 276.5h0.9v0.9h-0.9zM107.9 276.7h0.9v0.9h-0.9zM109.9 273.6h0.9v0.9h-0.9zM123.8 270.0h0.9v0.9h-0.9zM123.2 274.7h0.9v0.9h-0.9zM124.4 257.1h0.9v0.9h-0.9zM101.4 279.8h0.9v0.9h-0.9zM113.5 280.8h0.9v0.9h-0.9zM107.5 306.8h0.9v0.9h-0.9zM116.4 283.5h0.9v0.9h-0.9zM124.6 318.0h0.9v0.9h-0.9zM122.7 310.7h0.9v0.9h-0.9zM109.2 323.2h0.9v0.9h-0.9zM110.6 255.7h0.9v0.9h-0.9zM115.2 257.3h0.9v0.9h-0.9zM107.5 324.6h0.9v0.9h-0.9zM123.7 305.0h0.9v0.9h-0.9zM109.0 302.9h0.9v0.9h-0.9zM108.0 273.1h0.9v0.9h-0.9zM122.0 269.0h0.9v0.9h-0.9zM108.4 312.9h0.9v0.9h-0.9zM105.6 315.8h0.9v0.9h-0.9zM113.9 300.9h0.9v0.9h-0.9zM115.0 321.7h0.9v0.9h-0.9zM123.2 284.7h0.9v0.9h-0.9zM109.1 317.8h0.9v0.9h-0.9zM110.3 267.1h0.9v0.9h-0.9zM116.3 322.4h0.9v0.9h-0.9zM118.6 258.8h0.9v0.9h-0.9zM114.9 269.6h0.9v0.9h-0.9zM110.8 273.3h0.9v0.9h-0.9zM111.2 283.6h0.9v0.9h-0.9zM111.3 270.1h0.9v0.9h-0.9zM124.1 312.2h0.9v0.9h-0.9zM121.2 281.3h0.9v0.9h-0.9zM110.1 264.6h0.9v0.9h-0.9zM121.2 278.1h0.9v0.9h-0.9zM120.8 319.9h0.9v0.9h-0.9zM104.3 259.0h0.9v0.9h-0.9zM105.3 273.6h0.9v0.9h-0.9zM124.4 305.1h0.9v0.9h-0.9zM102.8 257.9h0.9v0.9h-0.9zM105.9 324.5h0.9v0.9h-0.9zM112.5 276.0h0.9v0.9h-0.9zM117.0 283.2h0.9v0.9h-0.9zM108.7 301.6h0.9v0.9h-0.9zM113.1 320.6h0.9v0.9h-0.9zM124.7 285.6h0.9v0.9h-0.9zM109.1 267.8h0.9v0.9h-0.9zM114.5 304.3h0.9v0.9h-0.9zM102.8 311.1h0.9v0.9h-0.9zM102.4 316.7h0.9v0.9h-0.9zM105.8 276.7h0.9v0.9h-0.9zM121.1 317.7h0.9v0.9h-0.9zM107.5 297.3h0.9v0.9h-0.9zM101.4 275.6h0.9v0.9h-0.9zM112.6 302.2h0.9v0.9h-0.9zM110.3 257.8h0.9v0.9h-0.9zM122.2 260.9h0.9v0.9h-0.9zM111.6 257.6h0.9v0.9h-0.9zM110.1 323.1h0.9v0.9h-0.9zM120.9 317.9h0.9v0.9h-0.9zM109.5 283.2h0.9v0.9h-0.9zM116.9 324.8h0.9v0.9h-0.9zM109.0 323.3h0.9v0.9h-0.9zM120.2 318.4h0.9v0.9h-0.9zM118.6 299.5h0.9v0.9h-0.9zM117.7 279.7h0.9v0.9h-0.9zM111.6 275.4h0.9v0.9h-0.9zM112.0 283.6h0.9v0.9h-0.9zM102.2 310.3h0.9v0.9h-0.9zM124.3 269.6h0.9v0.9h-0.9zM107.5 318.7h0.9v0.9h-0.9zM120.5 280.6h0.9v0.9h-0.9zM122.8 292.6h0.9v0.9h-0.9zM103.7 253.1h0.9v0.9h-0.9zM107.9 311.9h0.9v0.9h-0.9zM118.2 294.8h0.9v0.9h-0.9zM124.8 324.5h0.9v0.9h-0.9zM118.0 286.6h0.9v0.9h-0.9zM120.1 283.7h0.9v0.9h-0.9zM110.7 287.3h0.9v0.9h-0.9zM115.7 253.3h0.9v0.9h-0.9zM118.1 318.4h0.9v0.9h-0.9zM122.2 259.2h0.9v0.9h-0.9zM118.6 259.9h0.9v0.9h-0.9zM121.4 253.4h0.9v0.9h-0.9zM112.2 264.8h0.9v0.9h-0.9zM114.6 290.9h0.9v0.9h-0.9zM116.3 285.2h0.9v0.9h-0.9zM116.3 320.2h0.9v0.9h-0.9zM108.9 315.7h0.9v0.9h-0.9zM109.3 268.4h0.9v0.9h-0.9zM107.6 272.8h0.9v0.9h-0.9zM123.9 319.6h0.9v0.9h-0.9zM124.7 317.4h0.9v0.9h-0.9zM120.2 267.6h0.9v0.9h-0.9zM119.1 300.6h0.9v0.9h-0.9zM113.6 269.3h0.9v0.9h-0.9zM105.3 271.9h0.9v0.9h-0.9zM109.3 324.2h0.9v0.9h-0.9zM121.7 305.0h0.9v0.9h-0.9zM114.5 316.4h0.9v0.9h-0.9zM101.2 291.2h0.9v0.9h-0.9zM120.3 304.7h0.9v0.9h-0.9zM107.4 266.9h0.9v0.9h-0.9zM105.3 271.0h0.9v0.9h-0.9zM105.1 323.1h0.9v0.9h-0.9zM101.3 264.1h0.9v0.9h-0.9zM117.3 313.0h0.9v0.9h-0.9zM111.1 294.7h0.9v0.9h-0.9zM111.2 258.1h0.9v0.9h-0.9zM113.2 274.2h0.9v0.9h-0.9zM110.5 300.7h0.9v0.9h-0.9zM108.6 311.8h0.9v0.9h-0.9zM119.7 260.0h0.9v0.9h-0.9zM121.1 278.2h0.9v0.9h-0.9zM112.4 311.3h0.9v0.9h-0.9zM107.8 259.6h0.9v0.9h-0.9zM123.1 310.6h0.9v0.9h-0.9zM118.8 272.3h0.9v0.9h-0.9zM108.2 271.8h0.9v0.9h-0.9zM103.6 287.5h0.9v0.9h-0.9zM117.0 257.7h0.9v0.9h-0.9zM120.0 255.7h0.9v0.9h-0.9zM101.5 282.9h0.9v0.9h-0.9zM122.1 253.7h0.9v0.9h-0.9zM106.6 277.7h0.9v0.9h-0.9zM107.0 323.9h0.9v0.9h-0.9zM123.9 319.2h0.9v0.9h-0.9zM120.5 291.1h0.9v0.9h-0.9zM107.0 311.5h0.9v0.9h-0.9zM123.8 314.7h0.9v0.9h-0.9zM102.4 254.3h0.9v0.9h-0.9zM106.7 285.3h0.9v0.9h-0.9zM113.5 305.6h0.9v0.9h-0.9zM115.4 304.0h0.9v0.9h-0.9zM101.3 283.0h0.9v0.9h-0.9zM121.9 304.7h0.9v0.9h-0.9zM109.7 259.9h0.9v0.9h-0.9zM106.3 312.9h0.9v0.9h-0.9zM103.1 294.3h0.9v0.9h-0.9zM122.9 296.4h0.9v0.9h-0.9zM112.7 273.6h0.9v0.9h-0.9zM119.8 279.9h0.9v0.9h-0.9zM102.8 304.4h0.9v0.9h-0.9zM120.2 280.8h0.9v0.9h-0.9zM116.4 289.6h0.9v0.9h-0.9zM108.0 282.0h0.9v0.9h-0.9zM117.4 255.9h0.9v0.9h-0.9zM115.2 276.7h0.9v0.9h-0.9zM106.8 301.1h0.9v0.9h-0.9zM116.4 319.0h0.9v0.9h-0.9zM102.8 311.4h0.9v0.9h-0.9zM107.1 277.1h0.9v0.9h-0.9zM116.2 264.8h0.9v0.9h-0.9zM114.4 321.5h0.9v0.9h-0.9zM110.6 258.9h0.9v0.9h-0.9zM113.3 318.6h0.9v0.9h-0.9zM122.4 305.8h0.9v0.9h-0.9zM112.1 316.3h0.9v0.9h-0.9zM110.5 316.0h0.9v0.9h-0.9zM117.9 288.0h0.9v0.9h-0.9zM109.0 322.8h0.9v0.9h-0.9zM106.9 295.2h0.9v0.9h-0.9zM116.4 268.6h0.9v0.9h-0.9zM113.0 261.5h0.9v0.9h-0.9zM101.9 302.7h0.9v0.9h-0.9zM109.4 254.4h0.9v0.9h-0.9zM114.9 268.2h0.9v0.9h-0.9zM102.7 253.9h0.9v0.9h-0.9zM113.6 286.8h0.9v0.9h-0.9zM110.3 286.0h0.9v0.9h-0.9zM104.7 257.2h0.9v0.9h-0.9zM115.1 270.9h0.9v0.9h-0.9zM120.0 254.9h0.9v0.9h-0.9zM116.5 284.3h0.9v0.9h-0.9zM122.2 304.1h0.9v0.9h-0.9zM119.7 261.2h0.9v0.9h-0.9zM119.7 305.3h0.9v0.9h-0.9zM116.0 257.4h0.9v0.9h-0.9zM104.8 316.4h0.9v0.9h-0.9zM122.9 275.8h0.9v0.9h-0.9zM122.6 306.8h0.9v0.9h-0.9zM106.5 287.2h0.9v0.9h-0.9zM112.3 298.3h0.9v0.9h-0.9zM111.7 276.2h0.9v0.9h-0.9zM120.3 274.4h0.9v0.9h-0.9zM107.1 309.2h0.9v0.9h-0.9zM111.0 274.5h0.9v0.9h-0.9zM105.3 301.0h0.9v0.9h-0.9zM107.8 285.3h0.9v0.9h-0.9zM111.2 297.0h0.9v0.9h-0.9zM124.2 296.3h0.9v0.9h-0.9zM114.6 258.4h0.9v0.9h-0.9zM110.5 282.1h0.9v0.9h-0.9zM120.7 273.3h0.9v0.9h-0.9zM115.8 285.6h0.9v0.9h-0.9zM104.6 300.0h0.9v0.9h-0.9zM123.2 259.7h0.9v0.9h-0.9zM118.2 264.5h0.9v0.9h-0.9zM121.9 264.0h0.9v0.9h-0.9zM105.0 305.0h0.9v0.9h-0.9zM102.8 269.0h0.9v0.9h-0.9zM113.2 297.2h0.9v0.9h-0.9zM102.0 293.0h0.9v0.9h-0.9zM124.1 309.4h0.9v0.9h-0.9zM111.5 304.1h0.9v0.9h-0.9zM112.6 273.9h0.9v0.9h-0.9zM105.4 294.6h0.9v0.9h-0.9zM106.3 286.4h0.9v0.9h-0.9zM110.3 302.2h0.9v0.9h-0.9zM112.7 324.5h0.9v0.9h-0.9zM115.1 272.5h0.9v0.9h-0.9zM109.3 299.3h0.9v0.9h-0.9zM111.0 294.1h0.9v0.9h-0.9zM110.5 293.1h0.9v0.9h-0.9zM101.1 283.2h0.9v0.9h-0.9zM115.1 271.2h0.9v0.9h-0.9zM121.7 317.6h0.9v0.9h-0.9zM107.0 305.6h0.9v0.9h-0.9zM123.2 256.7h0.9v0.9h-0.9zM118.1 255.1h0.9v0.9h-0.9zM103.5 254.5h0.9v0.9h-0.9zM120.5 291.2h0.9v0.9h-0.9zM123.2 299.6h0.9v0.9h-0.9zM120.7 295.2h0.9v0.9h-0.9zM108.0 277.3h0.9v0.9h-0.9zM114.1 275.9h0.9v0.9h-0.9zM103.0 300.5h0.9v0.9h-0.9zM110.1 263.2h0.9v0.9h-0.9zM103.2 312.1h0.9v0.9h-0.9zM102.2 310.7h0.9v0.9h-0.9zM115.4 267.0h0.9v0.9h-0.9zM101.3 315.2h0.9v0.9h-0.9zM120.6 290.8h0.9v0.9h-0.9zM104.6 304.4h0.9v0.9h-0.9zM106.7 271.1h0.9v0.9h-0.9zM109.5 281.0h0.9v0.9h-0.9zM114.4 309.0h0.9v0.9h-0.9zM102.1 275.0h0.9v0.9h-0.9zM114.0 322.7h0.9v0.9h-0.9zM121.5 295.6h0.9v0.9h-0.9zM105.9 316.2h0.9v0.9h-0.9zM112.1 298.7h0.9v0.9h-0.9zM106.1 294.3h0.9v0.9h-0.9zM115.4 284.6h0.9v0.9h-0.9zM117.6 304.5h0.9v0.9h-0.9zM108.5 313.4h0.9v0.9h-0.9zM101.5 296.3h0.9v0.9h-0.9zM102.0 273.4h0.9v0.9h-0.9zM110.6 261.8h0.9v0.9h-0.9zM104.5 254.7h0.9v0.9h-0.9zM106.7 290.2h0.9v0.9h-0.9zM107.7 302.1h0.9v0.9h-0.9zM114.9 277.6h0.9v0.9h-0.9zM113.5 308.2h0.9v0.9h-0.9zM121.9 323.3h0.9v0.9h-0.9zM117.1 320.0h0.9v0.9h-0.9zM101.1 312.0h0.9v0.9h-0.9zM107.6 281.6h0.9v0.9h-0.9zM109.0 269.2h0.9v0.9h-0.9zM108.8 320.9h0.9v0.9h-0.9zM106.5 298.4h0.9v0.9h-0.9zM113.8 290.1h0.9v0.9h-0.9zM108.9 278.2h0.9v0.9h-0.9zM112.6 299.8h0.9v0.9h-0.9zM109.3 286.2h0.9v0.9h-0.9zM115.4 256.3h0.9v0.9h-0.9zM107.3 288.1h0.9v0.9h-0.9zM111.6 320.9h0.9v0.9h-0.9zM113.5 310.3h0.9v0.9h-0.9zM113.6 332.6h0.9v0.9h-0.9zM112.0 256.6h0.9v0.9h-0.9zM102.1 276.3h0.9v0.9h-0.9zM103.6 270.6h0.9v0.9h-0.9zM114.3 335.0h0.9v0.9h-0.9zM106.9 321.6h0.9v0.9h-0.9zM107.8 300.3h0.9v0.9h-0.9zM115.7 272.1h0.9v0.9h-0.9zM108.8 310.5h0.9v0.9h-0.9zM100.0 288.5h0.9v0.9h-0.9zM105.8 271.1h0.9v0.9h-0.9zM115.7 298.9h0.9v0.9h-0.9zM116.6 268.3h0.9v0.9h-0.9zM103.8 299.5h0.9v0.9h-0.9zM108.3 303.4h0.9v0.9h-0.9zM119.7 327.7h0.9v0.9h-0.9zM105.2 294.2h0.9v0.9h-0.9zM108.3 302.6h0.9v0.9h-0.9zM104.6 278.5h0.9v0.9h-0.9zM113.7 326.7h0.9v0.9h-0.9zM110.2 293.7h0.9v0.9h-0.9zM102.7 298.4h0.9v0.9h-0.9zM110.5 285.3h0.9v0.9h-0.9zM109.9 300.3h0.9v0.9h-0.9zM109.3 289.9h0.9v0.9h-0.9zM108.4 308.9h0.9v0.9h-0.9zM114.1 289.4h0.9v0.9h-0.9zM113.0 291.1h0.9v0.9h-0.9zM112.3 299.3h0.9v0.9h-0.9zM115.7 258.7h0.9v0.9h-0.9zM112.5 292.8h0.9v0.9h-0.9zM105.2 284.4h0.9v0.9h-0.9zM116.3 318.0h0.9v0.9h-0.9zM119.3 313.3h0.9v0.9h-0.9zM109.8 291.1h0.9v0.9h-0.9zM113.6 268.8h0.9v0.9h-0.9zM104.5 263.9h0.9v0.9h-0.9zM122.6 305.7h0.9v0.9h-0.9zM116.5 266.7h0.9v0.9h-0.9zM109.5 313.5h0.9v0.9h-0.9zM117.9 291.2h0.9v0.9h-0.9zM101.4 279.3h0.9v0.9h-0.9zM114.1 271.1h0.9v0.9h-0.9zM100.9 312.1h0.9v0.9h-0.9zM118.5 316.7h0.9v0.9h-0.9zM112.7 294.4h0.9v0.9h-0.9zM102.4 309.6h0.9v0.9h-0.9zM115.0 304.8h0.9v0.9h-0.9zM118.0 314.1h0.9v0.9h-0.9zM109.3 299.0h0.9v0.9h-0.9zM119.1 296.1h0.9v0.9h-0.9zM108.6 314.4h0.9v0.9h-0.9zM108.2 296.9h0.9v0.9h-0.9zM103.0 273.0h0.9v0.9h-0.9zM113.2 306.2h0.9v0.9h-0.9zM113.3 301.1h0.9v0.9h-0.9zM115.3 283.6h0.9v0.9h-0.9zM118.0 284.0h0.9v0.9h-0.9zM113.7 311.6h0.9v0.9h-0.9zM110.3 303.0h0.9v0.9h-0.9zM108.3 264.8h0.9v0.9h-0.9zM103.2 288.5h0.9v0.9h-0.9zM118.0 290.7h0.9v0.9h-0.9zM100.5 275.8h0.9v0.9h-0.9zM117.3 301.9h0.9v0.9h-0.9zM106.2 320.6h0.9v0.9h-0.9zM114.5 315.7h0.9v0.9h-0.9zM116.7 316.9h0.9v0.9h-0.9zM118.3 305.9h0.9v0.9h-0.9zM114.1 320.0h0.9v0.9h-0.9zM107.5 277.1h0.9v0.9h-0.9zM111.5 314.0h0.9v0.9h-0.9zM114.9 299.5h0.9v0.9h-0.9zM115.1 271.7h0.9v0.9h-0.9zM107.7 293.6h0.9v0.9h-0.9zM119.0 293.3h0.9v0.9h-0.9zM119.7 331.6h0.9v0.9h-0.9zM110.2 307.2h0.9v0.9h-0.9zM113.4 294.1h0.9v0.9h-0.9zM106.6 290.0h0.9v0.9h-0.9zM108.7 312.9h0.9v0.9h-0.9zM104.7 291.4h0.9v0.9h-0.9zM113.7 294.8h0.9v0.9h-0.9zM99.0 279.6h0.9v0.9h-0.9zM104.5 289.9h0.9v0.9h-0.9zM116.1 293.4h0.9v0.9h-0.9zM117.2 291.7h0.9v0.9h-0.9zM108.6 274.0h0.9v0.9h-0.9zM101.2 322.2h0.9v0.9h-0.9zM106.0 260.0h0.9v0.9h-0.9zM116.0 303.9h0.9v0.9h-0.9zM108.0 311.3h0.9v0.9h-0.9zM110.2 285.8h0.9v0.9h-0.9zM118.0 288.7h0.9v0.9h-0.9zM110.8 278.1h0.9v0.9h-0.9zM116.1 324.4h0.9v0.9h-0.9zM103.1 302.8h0.9v0.9h-0.9zM106.7 304.2h0.9v0.9h-0.9zM112.6 296.1h0.9v0.9h-0.9zM113.6 302.2h0.9v0.9h-0.9zM105.4 322.1h0.9v0.9h-0.9zM109.8 292.5h0.9v0.9h-0.9zM111.3 284.6h0.9v0.9h-0.9zM115.8 313.2h0.9v0.9h-0.9zM110.6 298.3h0.9v0.9h-0.9zM110.0 306.8h0.9v0.9h-0.9zM106.1 307.9h0.9v0.9h-0.9zM104.3 305.3h0.9v0.9h-0.9zM113.8 304.5h0.9v0.9h-0.9zM110.6 316.2h0.9v0.9h-0.9zM106.6 256.8h0.9v0.9h-0.9zM123.3 296.3h0.9v0.9h-0.9zM105.2 306.3h0.9v0.9h-0.9zM110.7 312.1h0.9v0.9h-0.9zM117.7 281.0h0.9v0.9h-0.9zM109.1 286.1h0.9v0.9h-0.9zM98.5 293.2h0.9v0.9h-0.9zM114.2 290.9h0.9v0.9h-0.9zM108.7 293.6h0.9v0.9h-0.9zM110.7 290.8h0.9v0.9h-0.9zM103.5 313.4h0.9v0.9h-0.9zM115.4 324.6h0.9v0.9h-0.9zM112.7 327.5h0.9v0.9h-0.9zM105.1 314.2h0.9v0.9h-0.9zM112.0 288.2h0.9v0.9h-0.9zM109.7 306.9h0.9v0.9h-0.9zM105.9 311.9h0.9v0.9h-0.9zM102.2 297.4h0.9v0.9h-0.9zM115.1 302.6h0.9v0.9h-0.9zM109.2 287.7h0.9v0.9h-0.9zM113.1 302.8h0.9v0.9h-0.9zM104.9 277.4h0.9v0.9h-0.9zM111.7 285.7h0.9v0.9h-0.9zM109.7 288.9h0.9v0.9h-0.9zM108.4 297.2h0.9v0.9h-0.9zM111.9 281.0h0.9v0.9h-0.9zM109.9 304.7h0.9v0.9h-0.9zM104.3 300.3h0.9v0.9h-0.9zM112.3 304.7h0.9v0.9h-0.9zM108.9 298.8h0.9v0.9h-0.9zM98.0 319.7h0.9v0.9h-0.9zM103.9 297.4h0.9v0.9h-0.9zM99.9 306.1h0.9v0.9h-0.9zM110.9 305.2h0.9v0.9h-0.9zM105.5 288.6h0.9v0.9h-0.9zM98.8 268.7h0.9v0.9h-0.9zM114.0 285.9h0.9v0.9h-0.9zM104.1 312.1h0.9v0.9h-0.9zM105.9 299.6h0.9v0.9h-0.9zM98.7 299.5h0.9v0.9h-0.9zM108.4 288.8h0.9v0.9h-0.9zM113.7 282.4h0.9v0.9h-0.9zM107.9 295.6h0.9v0.9h-0.9zM104.0 303.5h0.9v0.9h-0.9zM103.4 302.7h0.9v0.9h-0.9zM104.7 281.3h0.9v0.9h-0.9zM104.4 276.6h0.9v0.9h-0.9zM109.8 282.7h0.9v0.9h-0.9zM112.1 303.8h0.9v0.9h-0.9zM114.8 316.4h0.9v0.9h-0.9zM117.2 272.4h0.9v0.9h-0.9zM105.6 291.4h0.9v0.9h-0.9zM111.9 286.6h0.9v0.9h-0.9zM103.1 295.6h0.9v0.9h-0.9zM111.0 338.1h0.9v0.9h-0.9zM108.0 283.3h0.9v0.9h-0.9zM113.7 294.4h0.9v0.9h-0.9zM116.4 315.7h0.9v0.9h-0.9zM107.5 285.3h0.9v0.9h-0.9zM116.4 310.1h0.9v0.9h-0.9zM109.7 333.2h0.9v0.9h-0.9zM112.4 299.0h0.9v0.9h-0.9zM107.0 297.0h0.9v0.9h-0.9zM109.5 312.5h0.9v0.9h-0.9zM105.5 282.9h0.9v0.9h-0.9zM107.0 310.5h0.9v0.9h-0.9zM114.2 306.2h0.9v0.9h-0.9zM119.4 284.1h0.9v0.9h-0.9zM105.8 323.5h0.9v0.9h-0.9zM109.4 284.5h0.9v0.9h-0.9zM110.7 302.0h0.9v0.9h-0.9zM114.1 311.4h0.9v0.9h-0.9zM111.6 293.6h0.9v0.9h-0.9zM111.1 277.5h0.9v0.9h-0.9zM109.2 270.2h0.9v0.9h-0.9zM104.4 318.4h0.9v0.9h-0.9zM98.8 314.9h0.9v0.9h-0.9zM105.3 299.9h0.9v0.9h-0.9zM99.0 282.7h0.9v0.9h-0.9zM104.4 253.0h0.9v0.9h-0.9zM108.9 290.1h0.9v0.9h-0.9zM111.6 290.0h0.9v0.9h-0.9zM105.3 274.8h0.9v0.9h-0.9zM113.6 258.7h0.9v0.9h-0.9zM114.7 272.9h0.9v0.9h-0.9zM105.7 306.0h0.9v0.9h-0.9zM107.3 308.0h0.9v0.9h-0.9zM118.7 292.3h0.9v0.9h-0.9zM106.0 261.9h0.9v0.9h-0.9zM116.0 323.8h0.9v0.9h-0.9zM108.5 292.3h0.9v0.9h-0.9zM112.2 324.9h0.9v0.9h-0.9zM109.6 276.3h0.9v0.9h-0.9zM108.4 302.8h0.9v0.9h-0.9zM109.2 291.8h0.9v0.9h-0.9zM107.0 296.1h0.9v0.9h-0.9zM112.5 288.3h0.9v0.9h-0.9zM105.6 320.4h0.9v0.9h-0.9zM120.8 312.0h0.9v0.9h-0.9zM104.7 267.6h0.9v0.9h-0.9zM116.1 316.0h0.9v0.9h-0.9zM106.2 285.1h0.9v0.9h-0.9zM108.8 295.7h0.9v0.9h-0.9zM105.2 311.9h0.9v0.9h-0.9zM116.0 287.1h0.9v0.9h-0.9zM103.4 278.2h0.9v0.9h-0.9zM109.6 344.8h0.9v0.9h-0.9zM111.6 306.5h0.9v0.9h-0.9zM108.2 271.7h0.9v0.9h-0.9zM111.2 263.4h0.9v0.9h-0.9zM113.8 294.6h0.9v0.9h-0.9zM109.4 272.5h0.9v0.9h-0.9zM109.3 255.5h0.9v0.9h-0.9zM114.8 327.0h0.9v0.9h-0.9zM106.4 311.2h0.9v0.9h-0.9zM116.9 259.6h0.9v0.9h-0.9zM105.5 295.9h0.9v0.9h-0.9zM112.5 253.7h0.9v0.9h-0.9zM111.9 286.5h0.9v0.9h-0.9zM112.2 289.1h0.9v0.9h-0.9zM119.7 309.3h0.9v0.9h-0.9zM116.4 286.4h0.9v0.9h-0.9zM102.6 312.6h0.9v0.9h-0.9zM116.9 298.1h0.9v0.9h-0.9zM111.7 323.5h0.9v0.9h-0.9zM114.8 274.7h0.9v0.9h-0.9zM112.0 310.7h0.9v0.9h-0.9zM105.2 260.9h0.9v0.9h-0.9zM111.2 307.1h0.9v0.9h-0.9zM113.6 309.4h0.9v0.9h-0.9zM106.0 288.2h0.9v0.9h-0.9zM112.8 281.9h0.9v0.9h-0.9zM107.1 269.4h0.9v0.9h-0.9zM112.6 267.8h0.9v0.9h-0.9zM110.7 310.5h0.9v0.9h-0.9zM112.3 258.1h0.9v0.9h-0.9zM112.8 287.3h0.9v0.9h-0.9zM105.0 265.8h0.9v0.9h-0.9zM100.1 295.8h0.9v0.9h-0.9zM111.9 292.0h0.9v0.9h-0.9zM105.3 301.1h0.9v0.9h-0.9zM109.2 303.8h0.9v0.9h-0.9zM110.1 333.0h0.9v0.9h-0.9zM108.9 300.4h0.9v0.9h-0.9zM112.8 300.4h0.9v0.9h-0.9zM108.1 268.8h0.9v0.9h-0.9zM103.9 281.8h0.9v0.9h-0.9zM114.4 295.8h0.9v0.9h-0.9zM106.8 316.5h0.9v0.9h-0.9zM114.8 314.1h0.9v0.9h-0.9zM110.3 305.6h0.9v0.9h-0.9zM108.6 291.4h0.9v0.9h-0.9zM120.3 264.0h0.9v0.9h-0.9zM100.7 316.9h0.9v0.9h-0.9zM120.8 303.3h0.9v0.9h-0.9zM105.4 303.4h0.9v0.9h-0.9zM103.9 287.0h0.9v0.9h-0.9zM103.6 276.7h0.9v0.9h-0.9zM112.2 276.3h0.9v0.9h-0.9zM118.6 296.3h0.9v0.9h-0.9zM109.1 305.9h0.9v0.9h-0.9zM102.7 291.5h0.9v0.9h-0.9zM104.9 265.0h0.9v0.9h-0.9zM104.4 279.3h0.9v0.9h-0.9zM106.3 282.5h0.9v0.9h-0.9zM104.7 314.4h0.9v0.9h-0.9zM111.6 299.8h0.9v0.9h-0.9zM109.2 281.1h0.9v0.9h-0.9zM116.1 298.6h0.9v0.9h-0.9zM113.4 309.5h0.9v0.9h-0.9zM113.6 280.9h0.9v0.9h-0.9zM113.2 290.4h0.9v0.9h-0.9zM107.9 333.4h0.9v0.9h-0.9zM110.9 284.2h0.9v0.9h-0.9zM111.6 275.1h0.9v0.9h-0.9zM111.6 270.9h0.9v0.9h-0.9zM113.6 285.5h0.9v0.9h-0.9zM111.8 300.4h0.9v0.9h-0.9zM108.9 302.4h0.9v0.9h-0.9zM101.6 282.4h0.9v0.9h-0.9zM108.6 288.1h0.9v0.9h-0.9zM108.2 270.4h0.9v0.9h-0.9zM111.3 305.0h0.9v0.9h-0.9zM116.8 277.4h0.9v0.9h-0.9zM117.5 289.3h0.9v0.9h-0.9zM122.9 287.2h0.9v0.9h-0.9zM122.0 289.8h0.9v0.9h-0.9zM113.2 286.2h0.9v0.9h-0.9zM110.6 316.0h0.9v0.9h-0.9zM115.8 307.7h0.9v0.9h-0.9zM114.5 284.3h0.9v0.9h-0.9zM106.5 326.0h0.9v0.9h-0.9zM118.3 339.4h0.9v0.9h-0.9zM112.5 275.6h0.9v0.9h-0.9zM119.0 326.4h0.9v0.9h-0.9zM108.8 321.9h0.9v0.9h-0.9zM121.4 262.8h0.9v0.9h-0.9zM107.2 260.3h0.9v0.9h-0.9zM108.7 258.2h0.9v0.9h-0.9zM109.5 283.8h0.9v0.9h-0.9zM102.9 294.0h0.9v0.9h-0.9zM111.7 301.6h0.9v0.9h-0.9zM105.1 282.5h0.9v0.9h-0.9zM107.7 274.5h0.9v0.9h-0.9zM113.6 277.5h0.9v0.9h-0.9zM113.6 299.6h0.9v0.9h-0.9zM110.4 322.6h0.9v0.9h-0.9zM109.3 302.7h0.9v0.9h-0.9zM114.2 301.8h0.9v0.9h-0.9zM115.6 297.6h0.9v0.9h-0.9zM111.6 326.9h0.9v0.9h-0.9zM107.1 285.4h0.9v0.9h-0.9zM110.9 299.9h0.9v0.9h-0.9zM108.6 305.3h0.9v0.9h-0.9zM104.1 280.6h0.9v0.9h-0.9zM120.3 324.0h0.9v0.9h-0.9zM110.8 291.1h0.9v0.9h-0.9zM110.0 301.9h0.9v0.9h-0.9zM111.7 309.3h0.9v0.9h-0.9zM106.5 266.9h0.9v0.9h-0.9zM110.4 281.8h0.9v0.9h-0.9zM112.3 280.0h0.9v0.9h-0.9zM105.8 303.0h0.9v0.9h-0.9zM104.1 290.4h0.9v0.9h-0.9zM118.5 309.4h0.9v0.9h-0.9zM99.1 268.8h0.9v0.9h-0.9zM119.4 301.3h0.9v0.9h-0.9zM107.4 293.5h0.9v0.9h-0.9zM106.3 292.3h0.9v0.9h-0.9zM112.4 333.5h0.9v0.9h-0.9zM111.2 296.4h0.9v0.9h-0.9zM108.4 311.6h0.9v0.9h-0.9zM109.0 277.2h0.9v0.9h-0.9zM115.2 306.8h0.9v0.9h-0.9zM108.9 321.2h0.9v0.9h-0.9zM108.5 315.7h0.9v0.9h-0.9zM108.9 311.9h0.9v0.9h-0.9zM104.3 300.2h0.9v0.9h-0.9zM108.3 299.1h0.9v0.9h-0.9zM105.1 285.3h0.9v0.9h-0.9zM114.6 329.3h0.9v0.9h-0.9zM111.1 274.5h0.9v0.9h-0.9zM112.8 304.0h0.9v0.9h-0.9zM105.0 308.3h0.9v0.9h-0.9zM111.7 281.1h0.9v0.9h-0.9zM110.8 289.9h0.9v0.9h-0.9zM108.1 309.8h0.9v0.9h-0.9zM115.4 292.9h0.9v0.9h-0.9zM105.4 300.8h0.9v0.9h-0.9zM108.1 286.2h0.9v0.9h-0.9zM121.4 316.6h0.9v0.9h-0.9zM112.3 309.9h0.9v0.9h-0.9zM107.8 288.8h0.9v0.9h-0.9zM112.8 320.0h0.9v0.9h-0.9zM112.0 294.1h0.9v0.9h-0.9zM104.2 295.2h0.9v0.9h-0.9zM105.5 286.5h0.9v0.9h-0.9zM114.2 307.1h0.9v0.9h-0.9zM109.8 314.5h0.9v0.9h-0.9zM107.5 283.5h0.9v0.9h-0.9zM108.6 283.7h0.9v0.9h-0.9zM108.0 300.7h0.9v0.9h-0.9zM121.2 269.9h0.9v0.9h-0.9zM127.4 287.1h0.9v0.9h-0.9zM108.5 256.9h0.9v0.9h-0.9zM108.8 300.9h0.9v0.9h-0.9zM112.1 280.6h0.9v0.9h-0.9zM107.2 328.1h0.9v0.9h-0.9z" fill="#000" fill-opacity="0.9"/><rect x="181.4" y="242.5" width="119.6" height="120.80000000000001" fill="none" stroke="#555" stroke-width="1.1"/><line x1="181.4" y1="242.5" x2="181.4" y2="363.90000000000003" stroke="#1c2250" stroke-width="1.4" /><line x1="180.8" y1="363.3" x2="301" y2="363.3" stroke="#1c2250" stroke-width="1.4" /><line x1="178.8" y1="254.5" x2="181.4" y2="254.5" stroke="#333" stroke-width="0.8" /><line x1="178.8" y1="281.1" x2="181.4" y2="281.1" stroke="#333" stroke-width="0.8" /><line x1="178.8" y1="309.8" x2="181.4" y2="309.8" stroke="#333" stroke-width="0.8" /><line x1="178.8" y1="337.8" x2="181.4" y2="337.8" stroke="#333" stroke-width="0.8" /><line x1="178.8" y1="356.8" x2="181.4" y2="356.8" stroke="#333" stroke-width="0.8" /><rect x="179.0" y="346.3" width="2.4" height="2.2" fill="#1c2250"/><line x1="188.0" y1="363.3" x2="188.0" y2="366.3" stroke="#333" stroke-width="0.8" /><line x1="210.9" y1="363.3" x2="210.9" y2="366.3" stroke="#333" stroke-width="0.8" /><line x1="237.0" y1="363.3" x2="237.0" y2="366.3" stroke="#333" stroke-width="0.8" /><line x1="263.8" y1="363.3" x2="263.8" y2="366.3" stroke="#333" stroke-width="0.8" /><line x1="290.7" y1="363.3" x2="290.7" y2="366.3" stroke="#333" stroke-width="0.8" /><line x1="191.4" y1="363.3" x2="191.4" y2="364.6" stroke="#1c2250" stroke-width="0.6" /><line x1="194.4" y1="363.3" x2="194.4" y2="364.6" stroke="#1c2250" stroke-width="0.6" /><line x1="197.4" y1="363.3" x2="197.4" y2="364.6" stroke="#1c2250" stroke-width="0.6" /><line x1="200.4" y1="363.3" x2="200.4" y2="364.6" stroke="#1c2250" stroke-width="0.6" /><line x1="203.4" y1="363.3" x2="203.4" y2="364.6" stroke="#1c2250" stroke-width="0.6" /><line x1="206.4" y1="363.3" x2="206.4" y2="364.6" stroke="#1c2250" stroke-width="0.6" /><line x1="208.4" y1="363.3" x2="208.4" y2="364.6" stroke="#1c2250" stroke-width="0.6" /><line x1="215.4" y1="363.3" x2="215.4" y2="364.6" stroke="#1c2250" stroke-width="0.6" /><line x1="219.4" y1="363.3" x2="219.4" y2="364.6" stroke="#1c2250" stroke-width="0.6" /><line x1="223.4" y1="363.3" x2="223.4" y2="364.6" stroke="#1c2250" stroke-width="0.6" /><line x1="227.4" y1="363.3" x2="227.4" y2="364.6" stroke="#1c2250" stroke-width="0.6" /><line x1="230.4" y1="363.3" x2="230.4" y2="364.6" stroke="#1c2250" stroke-width="0.6" /><line x1="233.4" y1="363.3" x2="233.4" y2="364.6" stroke="#1c2250" stroke-width="0.6" /><line x1="235.4" y1="363.3" x2="235.4" y2="364.6" stroke="#1c2250" stroke-width="0.6" /><line x1="241.4" y1="363.3" x2="241.4" y2="364.6" stroke="#1c2250" stroke-width="0.6" /><line x1="245.4" y1="363.3" x2="245.4" y2="364.6" stroke="#1c2250" stroke-width="0.6" /><line x1="249.4" y1="363.3" x2="249.4" y2="364.6" stroke="#1c2250" stroke-width="0.6" /><line x1="253.4" y1="363.3" x2="253.4" y2="364.6" stroke="#1c2250" stroke-width="0.6" /><line x1="257.4" y1="363.3" x2="257.4" y2="364.6" stroke="#1c2250" stroke-width="0.6" /><line x1="260.4" y1="363.3" x2="260.4" y2="364.6" stroke="#1c2250" stroke-width="0.6" /><line x1="262.4" y1="363.3" x2="262.4" y2="364.6" stroke="#1c2250" stroke-width="0.6" /><line x1="268.4" y1="363.3" x2="268.4" y2="364.6" stroke="#1c2250" stroke-width="0.6" /><line x1="272.4" y1="363.3" x2="272.4" y2="364.6" stroke="#1c2250" stroke-width="0.6" /><line x1="276.4" y1="363.3" x2="276.4" y2="364.6" stroke="#1c2250" stroke-width="0.6" /><line x1="280.4" y1="363.3" x2="280.4" y2="364.6" stroke="#1c2250" stroke-width="0.6" /><line x1="284.4" y1="363.3" x2="284.4" y2="364.6" stroke="#1c2250" stroke-width="0.6" /><line x1="287.4" y1="363.3" x2="287.4" y2="364.6" stroke="#1c2250" stroke-width="0.6" /><line x1="289.4" y1="363.3" x2="289.4" y2="364.6" stroke="#1c2250" stroke-width="0.6" /><line x1="294.4" y1="363.3" x2="294.4" y2="364.6" stroke="#1c2250" stroke-width="0.6" /><line x1="297.4" y1="363.3" x2="297.4" y2="364.6" stroke="#1c2250" stroke-width="0.6" /><rect x="230.4" y="250.7" width="54.99999999999997" height="79.80000000000001" fill="none" stroke="#4050e8" stroke-width="1"/><path d="M259.8 345.3 L258.8 345.3 L257.8 345.4 L256.8 345.4 L255.8 345.4 L254.8 345.3 L254.2 345.2 L253.2 345.1 L252.2 344.9 L251.2 344.8 L250.2 344.4 L249.8 344.1 L249.2 343.8 L248.6 343.2 L248.1 342.8 L247.7 342.2 L247.2 341.4 L247.0 340.8 L246.9 339.8 L247.0 338.8 L247.2 337.8 L247.4 337.2 L247.8 336.5 L248.2 335.8 L248.8 335.3 L249.2 334.8 L249.6 334.2 L250.2 333.8 L250.8 333.3 L251.2 333.0 L251.8 332.8 L252.8 332.4 L253.7 332.2 L254.2 332.1 L255.2 331.9 L255.9 331.8 L256.8 331.6 L257.8 331.5 L258.8 331.6 L259.6 331.8 L260.2 332.0 L261.0 332.2 L261.8 332.6 L262.2 332.8 L263.0 333.2 L263.6 333.8 L264.1 334.2 L264.5 334.8 L264.9 335.2 L265.2 335.8 L265.8 336.6 L266.0 337.2 L266.2 338.0 L266.4 338.8 L266.3 339.8 L266.2 340.2 L265.8 341.2 L265.4 341.8 L265.0 342.2 L264.5 342.8 L263.9 343.2 L263.3 343.8 L262.8 344.2 L262.2 344.5 L261.8 344.8 L260.8 345.1 L259.8 345.2Z" fill="#000" fill-opacity="0.07"/><path d="M260.8 344.3 L259.8 344.5 L258.8 344.6 L257.8 344.7 L256.8 344.7 L255.8 344.7 L254.8 344.7 L253.8 344.5 L252.8 344.3 L252.2 344.2 L251.2 344.0 L250.7 343.8 L250.0 343.2 L249.5 342.8 L249.1 342.2 L248.7 341.8 L248.2 341.1 L247.9 340.2 L247.8 339.2 L248.0 338.2 L248.2 337.4 L248.6 336.8 L249.0 336.2 L249.4 335.8 L249.8 335.2 L250.2 334.7 L250.8 334.2 L251.6 333.8 L252.2 333.5 L253.0 333.2 L253.8 333.0 L254.8 332.8 L255.2 332.6 L256.2 332.4 L257.1 332.2 L257.8 332.2 L258.3 332.2 L259.2 332.4 L260.2 332.8 L260.8 333.0 L261.3 333.2 L262.2 333.8 L262.8 334.1 L263.2 334.5 L263.8 335.0 L264.2 335.7 L264.6 336.2 L264.9 336.8 L265.2 337.6 L265.4 338.2 L265.4 339.2 L265.2 340.2 L265.0 340.8 L264.7 341.2 L264.2 341.8 L263.8 342.3 L263.2 342.8 L262.8 343.3 L262.1 343.8 L261.2 344.2 L260.8 344.3Z" fill="#000" fill-opacity="0.07"/><path d="M259.8 343.8 L258.8 343.9 L257.8 344.0 L256.8 344.1 L255.8 344.1 L254.8 344.1 L253.8 343.9 L253.1 343.8 L252.2 343.5 L251.6 343.2 L250.8 342.8 L250.3 342.2 L249.9 341.8 L249.5 341.2 L249.2 340.8 L248.8 339.8 L248.8 338.8 L249.0 337.8 L249.2 337.2 L249.8 336.5 L250.2 335.8 L250.8 335.3 L251.2 334.9 L251.8 334.6 L252.4 334.2 L253.2 333.9 L253.8 333.8 L254.8 333.5 L255.6 333.2 L256.2 333.1 L257.2 333.0 L258.2 333.0 L259.2 333.2 L259.8 333.4 L260.6 333.8 L261.2 334.1 L261.8 334.4 L262.2 334.8 L262.8 335.2 L263.3 335.8 L263.8 336.4 L264.2 337.2 L264.4 337.8 L264.5 338.8 L264.4 339.8 L264.2 340.2 L263.8 341.1 L263.2 341.7 L262.8 342.2 L262.2 342.6 L261.8 343.0 L261.2 343.3 L260.2 343.7 L259.8 343.8Z" fill="#000" fill-opacity="0.07"/><path d="M258.2 343.3 L257.2 343.4 L256.2 343.5 L255.2 343.5 L254.2 343.3 L253.8 343.2 L252.8 342.9 L252.2 342.7 L251.6 342.2 L251.1 341.8 L250.7 341.2 L250.2 340.6 L249.9 339.8 L249.8 338.8 L250.0 337.8 L250.2 337.2 L250.8 336.5 L251.2 335.9 L251.8 335.5 L252.2 335.2 L253.2 334.8 L253.8 334.6 L254.6 334.2 L255.2 334.1 L256.2 333.8 L257.2 333.8 L258.2 333.8 L259.2 334.1 L259.8 334.2 L260.7 334.8 L261.2 335.1 L261.8 335.5 L262.2 336.0 L262.8 336.6 L263.2 337.2 L263.4 337.8 L263.5 338.8 L263.4 339.8 L263.1 340.2 L262.8 340.8 L262.2 341.4 L261.8 341.9 L261.2 342.3 L260.4 342.8 L259.8 343.0 L258.8 343.2 L258.2 343.3Z" fill="#000" fill-opacity="0.07"/><path d="M257.2 342.8 L256.2 342.8 L255.2 342.9 L254.4 342.8 L253.8 342.6 L253.0 342.2 L252.3 341.8 L251.8 341.2 L251.4 340.8 L251.1 340.2 L250.8 339.4 L250.7 338.8 L250.8 338.2 L251.1 337.2 L251.5 336.8 L252.1 336.2 L252.8 335.8 L253.2 335.6 L254.0 335.2 L254.8 335.0 L255.4 334.8 L256.2 334.6 L257.2 334.6 L258.2 334.7 L258.8 334.8 L259.8 335.1 L260.2 335.4 L260.8 335.8 L261.3 336.2 L261.8 336.8 L262.2 337.5 L262.5 338.2 L262.5 339.2 L262.2 340.0 L261.8 340.7 L261.3 341.2 L260.8 341.7 L260.2 342.0 L259.2 342.4 L258.2 342.7 L257.4 342.8Z" fill="#000" fill-opacity="0.07"/><path d="M258.8 341.9 L257.8 342.1 L256.8 342.2 L255.8 342.2 L254.8 342.2 L253.8 341.9 L253.2 341.6 L252.8 341.2 L252.2 340.6 L251.8 339.8 L251.6 338.8 L251.8 337.9 L252.2 337.2 L252.7 336.8 L253.2 336.5 L253.8 336.2 L254.8 335.8 L255.2 335.6 L256.2 335.4 L257.2 335.4 L258.2 335.5 L259.2 335.7 L259.8 336.0 L260.2 336.3 L260.8 336.8 L261.2 337.4 L261.6 338.2 L261.6 339.2 L261.2 340.1 L260.8 340.7 L260.2 341.1 L259.8 341.5 L259.2 341.8Z" fill="#000" fill-opacity="0.07"/><path d="M257.2 341.3 L256.2 341.4 L255.2 341.5 L254.2 341.3 L253.8 341.0 L253.2 340.6 L252.8 339.8 L252.6 338.8 L252.8 338.2 L253.2 337.7 L254.0 337.2 L254.8 336.9 L255.3 336.8 L256.2 336.6 L257.2 336.5 L258.2 336.6 L259.0 336.8 L259.8 337.2 L260.2 337.7 L260.6 338.2 L260.5 339.2 L260.2 339.8 L259.8 340.4 L259.2 340.8 L258.2 341.2 L257.7 341.2Z" fill="#000" fill-opacity="0.07"/><path d="M255.2 340.8 L254.8 340.7 L254.0 340.2 L253.6 339.8 L253.6 338.8 L254.1 338.2 L254.8 337.9 L255.6 337.8 L256.2 337.7 L257.2 337.6 L258.2 337.6 L258.9 337.8 L259.4 338.2 L259.5 339.2 L259.1 339.8 L258.3 340.2 L257.8 340.4 L256.8 340.5 L255.8 340.8Z" fill="#000" fill-opacity="0.07"/><path d="M258.8 349.8 L257.8 349.8 L257.2 349.8 L256.2 349.7 L255.8 349.8 L255.2 349.7 L254.2 349.7 L253.2 349.6 L252.2 349.4 L251.2 349.3 L250.7 349.2 L249.8 349.1 L248.8 348.8 L248.2 348.6 L247.3 348.2 L246.8 348.0 L246.2 347.8 L245.3 347.2 L244.8 346.9 L244.2 346.5 L243.8 346.0 L243.2 345.3 L242.9 344.8 L242.6 344.2 L242.2 343.5 L241.9 342.8 L241.7 342.2 L241.5 341.2 L241.6 340.2 L241.7 339.2 L241.8 338.6 L241.8 337.8 L241.9 336.8 L242.1 335.8 L242.3 335.2 L242.7 334.2 L242.9 333.8 L243.2 333.2 L243.8 332.6 L244.2 332.1 L244.8 331.7 L245.4 331.2 L246.1 330.8 L246.7 330.2 L247.2 329.8 L247.8 329.4 L248.2 329.0 L248.8 328.7 L249.6 328.2 L250.2 328.0 L250.9 327.8 L251.8 327.5 L252.8 327.4 L253.8 327.3 L254.2 327.2 L255.2 327.1 L256.2 326.9 L257.2 326.8 L257.8 326.7 L258.8 326.7 L259.2 326.8 L260.2 327.1 L260.8 327.3 L261.7 327.8 L262.2 328.0 L263.2 328.2 L264.2 328.5 L265.0 328.8 L265.8 329.0 L266.3 329.2 L267.2 329.8 L267.8 330.1 L268.2 330.5 L268.8 330.9 L269.2 331.3 L269.8 331.8 L270.2 332.4 L270.8 333.0 L271.2 333.7 L271.6 334.2 L272.0 334.8 L272.3 335.2 L272.8 335.9 L273.2 336.7 L273.5 337.2 L273.8 337.8 L273.9 338.8 L273.8 339.5 L273.4 340.2 L273.1 340.8 L272.8 341.3 L272.3 342.2 L272.1 342.8 L271.8 343.8 L271.5 344.2 L271.2 344.8 L270.8 345.3 L270.2 345.8 L269.5 346.2 L268.8 346.6 L268.2 346.8 L267.2 347.2 L266.8 347.5 L266.2 347.8 L265.2 348.2 L264.8 348.4 L263.8 348.8 L263.2 348.9 L262.2 349.1 L261.6 349.2 L260.8 349.5 L259.8 349.7 L259.1 349.8 M260.8 348.3 L259.8 348.6 L258.8 348.7 L257.8 348.7 L256.8 348.7 L255.8 348.7 L254.8 348.7 L253.8 348.6 L252.8 348.4 L251.8 348.3 L251.2 348.2 L250.2 348.0 L249.6 347.8 L248.8 347.4 L248.2 347.2 L247.2 346.8 L246.8 346.5 L246.2 346.2 L245.6 345.8 L245.1 345.2 L244.6 344.8 L244.2 344.2 L243.8 343.5 L243.3 342.8 L243.1 342.2 L242.8 341.2 L242.8 340.2 L242.9 339.2 L243.0 338.2 L243.1 337.2 L243.2 336.3 L243.4 335.8 L243.8 335.0 L244.2 334.2 L244.5 333.8 L245.0 333.2 L245.4 332.8 L245.9 332.2 L246.5 331.8 L247.1 331.2 L247.7 330.8 L248.2 330.4 L248.8 330.0 L249.3 329.8 L250.2 329.3 L250.8 329.1 L251.6 328.8 L252.2 328.5 L253.2 328.4 L254.2 328.3 L254.8 328.2 L255.8 328.1 L256.8 328.0 L257.8 328.0 L258.8 328.1 L259.5 328.2 L260.2 328.5 L261.1 328.8 L261.8 329.0 L262.7 329.2 L263.2 329.4 L264.2 329.7 L264.8 329.8 L265.8 330.2 L266.2 330.5 L266.8 330.8 L267.3 331.2 L267.8 331.8 L268.3 332.2 L268.8 332.9 L269.2 333.6 L269.6 334.2 L269.9 334.8 L270.2 335.4 L270.8 336.1 L271.2 336.8 L271.6 337.2 L271.8 337.8 L271.9 338.8 L271.6 339.8 L271.2 340.4 L271.0 341.2 L270.8 342.0 L270.5 342.8 L270.2 343.4 L269.8 344.2 L269.2 344.7 L268.8 345.0 L268.2 345.3 L267.4 345.8 L266.8 346.1 L266.2 346.3 L265.4 346.8 L264.8 347.1 L264.2 347.3 L263.2 347.7 L262.8 347.8 L261.8 348.1 L261.0 348.2 M259.2 347.8 L258.2 347.8 L257.2 347.8 L256.7 347.8 L255.8 347.7 L254.8 347.7 L253.8 347.6 L252.8 347.5 L251.8 347.3 L251.2 347.2 L250.2 347.0 L249.5 346.8 L248.8 346.4 L248.2 346.2 L247.4 345.8 L246.8 345.3 L246.2 344.9 L245.8 344.4 L245.2 343.8 L244.8 343.2 L244.5 342.8 L244.2 342.2 L243.9 341.2 L243.9 340.2 L243.9 339.2 L244.0 338.2 L244.1 337.2 L244.2 336.7 L244.6 335.8 L244.9 335.2 L245.2 334.7 L245.8 334.0 L246.2 333.5 L246.8 332.9 L247.2 332.4 L247.8 331.9 L248.2 331.5 L248.8 331.2 L249.4 330.8 L250.2 330.3 L250.8 330.1 L251.6 329.8 L252.2 329.5 L253.2 329.3 L253.9 329.2 L254.8 329.2 L255.8 329.0 L256.8 329.0 L257.8 329.0 L258.8 329.1 L259.5 329.2 L260.2 329.4 L261.2 329.7 L261.8 329.8 L262.8 330.2 L263.2 330.3 L264.2 330.6 L264.8 330.8 L265.6 331.2 L266.2 331.7 L266.8 332.2 L267.2 332.9 L267.7 333.8 L268.0 334.2 L268.3 334.8 L268.8 335.7 L269.0 336.2 L269.2 336.8 L269.7 337.8 L269.9 338.2 L270.0 339.2 L269.8 340.2 L269.7 340.8 L269.4 341.8 L269.2 342.2 L268.8 343.1 L268.2 343.7 L267.8 344.1 L267.2 344.5 L266.8 344.8 L266.0 345.2 L265.2 345.7 L264.8 346.0 L264.2 346.3 L263.2 346.7 L262.8 346.9 L261.8 347.2 L261.2 347.4 L260.2 347.6 L259.3 347.8 M260.2 346.8 L259.2 347.0 L258.2 347.0 L257.2 347.0 L256.2 346.9 L255.2 346.9 L254.2 346.8 L253.8 346.7 L252.8 346.6 L251.8 346.5 L250.8 346.3 L250.2 346.2 L249.2 345.8 L248.8 345.6 L248.2 345.2 L247.4 344.8 L246.8 344.2 L246.3 343.8 L245.9 343.2 L245.5 342.8 L245.2 342.2 L244.9 341.2 L244.8 340.2 L244.9 339.2 L245.0 338.2 L245.2 337.2 L245.3 336.8 L245.7 335.8 L246.1 335.2 L246.5 334.8 L246.9 334.2 L247.4 333.8 L247.8 333.2 L248.3 332.8 L248.9 332.2 L249.5 331.8 L250.2 331.3 L250.8 331.1 L251.4 330.8 L252.2 330.4 L253.1 330.2 L253.8 330.2 L254.8 330.1 L255.8 329.9 L256.8 329.8 L257.8 329.8 L258.8 329.9 L259.8 330.1 L260.5 330.2 L261.2 330.5 L262.0 330.8 L262.8 331.0 L263.4 331.2 L264.2 331.6 L264.8 331.9 L265.2 332.3 L265.8 332.8 L266.2 333.6 L266.6 334.2 L267.0 334.8 L267.5 335.8 L267.8 336.2 L268.2 337.2 L268.4 337.8 L268.6 338.8 L268.6 339.8 L268.4 340.8 L268.2 341.3 L267.8 342.2 L267.4 342.8 L266.9 343.2 L266.4 343.8 L265.8 344.2 L265.2 344.6 L264.8 345.0 L264.2 345.3 L263.5 345.8 L262.8 346.1 L262.2 346.3 L261.2 346.6 L260.7 346.8 M261.2 345.9 L260.2 346.0 L259.2 346.2 L258.2 346.2 L257.2 346.2 L256.2 346.2 L255.2 346.1 L254.2 346.0 L253.2 345.9 L252.3 345.8 L251.8 345.7 L250.8 345.5 L250.0 345.2 L249.2 344.9 L248.8 344.6 L248.2 344.2 L247.6 343.8 L247.1 343.2 L246.7 342.8 L246.2 342.0 L245.9 341.2 L245.8 340.2 L245.9 339.2 L246.0 338.2 L246.2 337.3 L246.4 336.8 L246.8 336.1 L247.2 335.4 L247.8 334.9 L248.2 334.3 L248.8 333.8 L249.2 333.2 L249.8 332.8 L250.5 332.2 L251.2 331.9 L251.8 331.6 L252.8 331.3 L253.3 331.2 L254.2 331.1 L255.2 330.9 L256.2 330.8 L256.8 330.7 L257.8 330.6 L258.8 330.7 L259.2 330.8 L260.2 331.0 L260.9 331.2 L261.8 331.6 L262.2 331.8 L263.2 332.2 L263.8 332.5 L264.2 332.9 L264.8 333.4 L265.2 334.0 L265.7 334.8 L266.1 335.2 L266.4 335.8 L266.8 336.4 L267.1 337.2 L267.3 337.8 L267.4 338.8 L267.4 339.8 L267.2 340.4 L267.0 341.2 L266.7 341.8 L266.2 342.3 L265.8 342.9 L265.2 343.3 L264.8 343.8 L264.2 344.2 L263.5 344.8 L262.8 345.2 L262.2 345.5 L261.6 345.8 M259.8 345.3 L258.8 345.3 L257.8 345.4 L256.8 345.4 L255.8 345.4 L254.8 345.3 L254.2 345.2 L253.2 345.1 L252.2 344.9 L251.2 344.8 L250.2 344.4 L249.8 344.1 L249.2 343.8 L248.6 343.2 L248.1 342.8 L247.7 342.2 L247.2 341.4 L247.0 340.8 L246.9 339.8 L247.0 338.8 L247.2 337.8 L247.4 337.2 L247.8 336.5 L248.2 335.8 L248.8 335.3 L249.2 334.8 L249.6 334.2 L250.2 333.8 L250.8 333.3 L251.2 333.0 L251.8 332.8 L252.8 332.4 L253.7 332.2 L254.2 332.1 L255.2 331.9 L255.9 331.8 L256.8 331.6 L257.8 331.5 L258.8 331.6 L259.6 331.8 L260.2 332.0 L261.0 332.2 L261.8 332.6 L262.2 332.8 L263.0 333.2 L263.6 333.8 L264.1 334.2 L264.5 334.8 L264.9 335.2 L265.2 335.8 L265.8 336.6 L266.0 337.2 L266.2 338.0 L266.4 338.8 L266.3 339.8 L266.2 340.2 L265.8 341.2 L265.4 341.8 L265.0 342.2 L264.5 342.8 L263.9 343.2 L263.3 343.8 L262.8 344.2 L262.2 344.5 L261.8 344.8 L260.8 345.1 L259.8 345.2 M260.8 344.3 L259.8 344.5 L258.8 344.6 L257.8 344.7 L256.8 344.7 L255.8 344.7 L254.8 344.7 L253.8 344.5 L252.8 344.3 L252.2 344.2 L251.2 344.0 L250.7 343.8 L250.0 343.2 L249.5 342.8 L249.1 342.2 L248.7 341.8 L248.2 341.1 L247.9 340.2 L247.8 339.2 L248.0 338.2 L248.2 337.4 L248.6 336.8 L249.0 336.2 L249.4 335.8 L249.8 335.2 L250.2 334.7 L250.8 334.2 L251.6 333.8 L252.2 333.5 L253.0 333.2 L253.8 333.0 L254.8 332.8 L255.2 332.6 L256.2 332.4 L257.1 332.2 L257.8 332.2 L258.3 332.2 L259.2 332.4 L260.2 332.8 L260.8 333.0 L261.3 333.2 L262.2 333.8 L262.8 334.1 L263.2 334.5 L263.8 335.0 L264.2 335.7 L264.6 336.2 L264.9 336.8 L265.2 337.6 L265.4 338.2 L265.4 339.2 L265.2 340.2 L265.0 340.8 L264.7 341.2 L264.2 341.8 L263.8 342.3 L263.2 342.8 L262.8 343.3 L262.1 343.8 L261.2 344.2 L260.8 344.3 M259.8 343.8 L258.8 343.9 L257.8 344.0 L256.8 344.1 L255.8 344.1 L254.8 344.1 L253.8 343.9 L253.1 343.8 L252.2 343.5 L251.6 343.2 L250.8 342.8 L250.3 342.2 L249.9 341.8 L249.5 341.2 L249.2 340.8 L248.8 339.8 L248.8 338.8 L249.0 337.8 L249.2 337.2 L249.8 336.5 L250.2 335.8 L250.8 335.3 L251.2 334.9 L251.8 334.6 L252.4 334.2 L253.2 333.9 L253.8 333.8 L254.8 333.5 L255.6 333.2 L256.2 333.1 L257.2 333.0 L258.2 333.0 L259.2 333.2 L259.8 333.4 L260.6 333.8 L261.2 334.1 L261.8 334.4 L262.2 334.8 L262.8 335.2 L263.3 335.8 L263.8 336.4 L264.2 337.2 L264.4 337.8 L264.5 338.8 L264.4 339.8 L264.2 340.2 L263.8 341.1 L263.2 341.7 L262.8 342.2 L262.2 342.6 L261.8 343.0 L261.2 343.3 L260.2 343.7 L259.8 343.8 M258.2 343.3 L257.2 343.4 L256.2 343.5 L255.2 343.5 L254.2 343.3 L253.8 343.2 L252.8 342.9 L252.2 342.7 L251.6 342.2 L251.1 341.8 L250.7 341.2 L250.2 340.6 L249.9 339.8 L249.8 338.8 L250.0 337.8 L250.2 337.2 L250.8 336.5 L251.2 335.9 L251.8 335.5 L252.2 335.2 L253.2 334.8 L253.8 334.6 L254.6 334.2 L255.2 334.1 L256.2 333.8 L257.2 333.8 L258.2 333.8 L259.2 334.1 L259.8 334.2 L260.7 334.8 L261.2 335.1 L261.8 335.5 L262.2 336.0 L262.8 336.6 L263.2 337.2 L263.4 337.8 L263.5 338.8 L263.4 339.8 L263.1 340.2 L262.8 340.8 L262.2 341.4 L261.8 341.9 L261.2 342.3 L260.4 342.8 L259.8 343.0 L258.8 343.2 L258.2 343.3 M257.2 342.8 L256.2 342.8 L255.2 342.9 L254.4 342.8 L253.8 342.6 L253.0 342.2 L252.3 341.8 L251.8 341.2 L251.4 340.8 L251.1 340.2 L250.8 339.4 L250.7 338.8 L250.8 338.2 L251.1 337.2 L251.5 336.8 L252.1 336.2 L252.8 335.8 L253.2 335.6 L254.0 335.2 L254.8 335.0 L255.4 334.8 L256.2 334.6 L257.2 334.6 L258.2 334.7 L258.8 334.8 L259.8 335.1 L260.2 335.4 L260.8 335.8 L261.3 336.2 L261.8 336.8 L262.2 337.5 L262.5 338.2 L262.5 339.2 L262.2 340.0 L261.8 340.7 L261.3 341.2 L260.8 341.7 L260.2 342.0 L259.2 342.4 L258.2 342.7 L257.4 342.8 M258.8 341.9 L257.8 342.1 L256.8 342.2 L255.8 342.2 L254.8 342.2 L253.8 341.9 L253.2 341.6 L252.8 341.2 L252.2 340.6 L251.8 339.8 L251.6 338.8 L251.8 337.9 L252.2 337.2 L252.7 336.8 L253.2 336.5 L253.8 336.2 L254.8 335.8 L255.2 335.6 L256.2 335.4 L257.2 335.4 L258.2 335.5 L259.2 335.7 L259.8 336.0 L260.2 336.3 L260.8 336.8 L261.2 337.4 L261.6 338.2 L261.6 339.2 L261.2 340.1 L260.8 340.7 L260.2 341.1 L259.8 341.5 L259.2 341.8 M257.2 341.3 L256.2 341.4 L255.2 341.5 L254.2 341.3 L253.8 341.0 L253.2 340.6 L252.8 339.8 L252.6 338.8 L252.8 338.2 L253.2 337.7 L254.0 337.2 L254.8 336.9 L255.3 336.8 L256.2 336.6 L257.2 336.5 L258.2 336.6 L259.0 336.8 L259.8 337.2 L260.2 337.7 L260.6 338.2 L260.5 339.2 L260.2 339.8 L259.8 340.4 L259.2 340.8 L258.2 341.2 L257.7 341.2 M255.2 340.8 L254.8 340.7 L254.0 340.2 L253.6 339.8 L253.6 338.8 L254.1 338.2 L254.8 337.9 L255.6 337.8 L256.2 337.7 L257.2 337.6 L258.2 337.6 L258.9 337.8 L259.4 338.2 L259.5 339.2 L259.1 339.8 L258.3 340.2 L257.8 340.4 L256.8 340.5 L255.8 340.8" fill="none" stroke="#000" stroke-width="0.9" stroke-linejoin="round"/><path d="M250.5 351.2h0.9v0.9h-0.9zM247.7 324.4h0.9v0.9h-0.9zM244.3 330.6h0.9v0.9h-0.9zM244.8 348.3h0.9v0.9h-0.9zM254.2 355.3h0.9v0.9h-0.9zM260.9 351.3h0.9v0.9h-0.9zM251.9 325.8h0.9v0.9h-0.9zM246.9 349.2h0.9v0.9h-0.9zM266.7 350.5h0.9v0.9h-0.9zM277.5 335.2h0.9v0.9h-0.9zM243.9 329.1h0.9v0.9h-0.9zM268.0 329.8h0.9v0.9h-0.9zM241.7 342.8h0.9v0.9h-0.9zM240.3 338.1h0.9v0.9h-0.9zM270.8 346.5h0.9v0.9h-0.9zM241.8 333.0h0.9v0.9h-0.9zM267.9 351.8h0.9v0.9h-0.9zM236.7 336.9h0.9v0.9h-0.9zM248.8 325.6h0.9v0.9h-0.9zM273.6 335.9h0.9v0.9h-0.9zM261.9 326.7h0.9v0.9h-0.9zM241.9 334.7h0.9v0.9h-0.9zM243.9 349.4h0.9v0.9h-0.9zM246.4 350.1h0.9v0.9h-0.9zM248.9 352.6h0.9v0.9h-0.9zM245.0 349.1h0.9v0.9h-0.9zM279.3 339.4h0.9v0.9h-0.9zM250.7 350.9h0.9v0.9h-0.9zM277.7 338.9h0.9v0.9h-0.9zM248.6 328.1h0.9v0.9h-0.9zM258.9 326.0h0.9v0.9h-0.9zM251.8 351.8h0.9v0.9h-0.9zM272.0 329.8h0.9v0.9h-0.9zM241.5 338.4h0.9v0.9h-0.9zM242.9 346.2h0.9v0.9h-0.9zM267.4 326.6h0.9v0.9h-0.9zM259.1 352.0h0.9v0.9h-0.9zM240.9 344.8h0.9v0.9h-0.9zM248.1 350.4h0.9v0.9h-0.9zM248.6 327.0h0.9v0.9h-0.9zM255.3 350.7h0.9v0.9h-0.9zM247.8 329.5h0.9v0.9h-0.9zM241.4 341.7h0.9v0.9h-0.9zM240.9 341.4h0.9v0.9h-0.9zM262.1 349.7h0.9v0.9h-0.9zM248.4 327.2h0.9v0.9h-0.9zM260.6 274.3h0.9v0.9h-0.9zM246.2 273.2h0.9v0.9h-0.9zM261.5 253.3h0.9v0.9h-0.9zM265.8 268.0h0.9v0.9h-0.9zM268.8 295.1h0.9v0.9h-0.9zM255.5 296.0h0.9v0.9h-0.9zM251.9 308.8h0.9v0.9h-0.9zM246.3 300.3h0.9v0.9h-0.9zM244.2 293.6h0.9v0.9h-0.9zM242.2 269.0h0.9v0.9h-0.9zM268.0 278.0h0.9v0.9h-0.9zM244.6 313.3h0.9v0.9h-0.9zM259.7 272.9h0.9v0.9h-0.9zM267.7 276.0h0.9v0.9h-0.9zM259.2 265.9h0.9v0.9h-0.9zM256.0 264.0h0.9v0.9h-0.9zM252.1 291.5h0.9v0.9h-0.9zM255.6 288.4h0.9v0.9h-0.9zM272.4 279.3h0.9v0.9h-0.9zM260.6 283.6h0.9v0.9h-0.9zM249.5 283.8h0.9v0.9h-0.9zM242.3 320.7h0.9v0.9h-0.9zM271.1 280.6h0.9v0.9h-0.9zM247.8 282.9h0.9v0.9h-0.9zM266.0 321.2h0.9v0.9h-0.9zM253.3 269.6h0.9v0.9h-0.9zM268.6 270.6h0.9v0.9h-0.9zM265.4 266.6h0.9v0.9h-0.9zM254.2 311.4h0.9v0.9h-0.9zM248.1 310.5h0.9v0.9h-0.9zM258.5 300.1h0.9v0.9h-0.9zM272.1 305.7h0.9v0.9h-0.9zM259.8 316.9h0.9v0.9h-0.9zM252.2 312.1h0.9v0.9h-0.9zM248.3 254.5h0.9v0.9h-0.9zM247.9 318.9h0.9v0.9h-0.9zM252.5 279.4h0.9v0.9h-0.9zM271.9 258.8h0.9v0.9h-0.9zM272.1 306.8h0.9v0.9h-0.9zM266.5 288.4h0.9v0.9h-0.9zM264.4 307.2h0.9v0.9h-0.9zM259.0 257.6h0.9v0.9h-0.9zM260.9 293.7h0.9v0.9h-0.9zM258.2 273.0h0.9v0.9h-0.9zM262.7 306.7h0.9v0.9h-0.9zM264.0 292.0h0.9v0.9h-0.9zM250.6 288.7h0.9v0.9h-0.9zM271.6 327.1h0.9v0.9h-0.9zM259.2 315.9h0.9v0.9h-0.9zM272.4 294.6h0.9v0.9h-0.9zM245.7 298.1h0.9v0.9h-0.9zM261.8 285.4h0.9v0.9h-0.9zM247.2 319.2h0.9v0.9h-0.9zM244.5 296.6h0.9v0.9h-0.9zM260.3 260.2h0.9v0.9h-0.9zM258.5 325.2h0.9v0.9h-0.9zM268.4 317.2h0.9v0.9h-0.9zM243.0 287.6h0.9v0.9h-0.9zM270.4 258.9h0.9v0.9h-0.9zM255.5 259.1h0.9v0.9h-0.9zM245.3 270.1h0.9v0.9h-0.9zM255.5 285.1h0.9v0.9h-0.9zM250.6 294.3h0.9v0.9h-0.9zM252.2 286.3h0.9v0.9h-0.9zM254.3 278.3h0.9v0.9h-0.9zM249.0 257.0h0.9v0.9h-0.9zM257.6 323.2h0.9v0.9h-0.9zM252.8 305.4h0.9v0.9h-0.9zM252.9 255.0h0.9v0.9h-0.9zM259.2 262.0h0.9v0.9h-0.9zM271.9 283.5h0.9v0.9h-0.9zM252.4 298.0h0.9v0.9h-0.9zM245.9 290.7h0.9v0.9h-0.9zM264.4 322.3h0.9v0.9h-0.9zM271.4 322.9h0.9v0.9h-0.9zM242.2 298.8h0.9v0.9h-0.9zM266.6 322.9h0.9v0.9h-0.9zM253.4 304.9h0.9v0.9h-0.9zM256.5 323.5h0.9v0.9h-0.9zM252.5 255.0h0.9v0.9h-0.9zM252.2 303.6h0.9v0.9h-0.9zM261.6 257.6h0.9v0.9h-0.9zM266.3 289.7h0.9v0.9h-0.9zM242.9 329.8h0.9v0.9h-0.9zM258.7 289.5h0.9v0.9h-0.9zM261.1 263.4h0.9v0.9h-0.9zM248.0 287.1h0.9v0.9h-0.9zM268.0 260.9h0.9v0.9h-0.9zM248.3 317.1h0.9v0.9h-0.9zM243.1 273.6h0.9v0.9h-0.9zM243.7 268.3h0.9v0.9h-0.9zM247.5 309.7h0.9v0.9h-0.9zM252.9 313.3h0.9v0.9h-0.9zM253.4 297.0h0.9v0.9h-0.9zM257.5 295.8h0.9v0.9h-0.9zM244.8 287.8h0.9v0.9h-0.9zM267.2 288.1h0.9v0.9h-0.9zM253.3 296.0h0.9v0.9h-0.9zM271.5 273.3h0.9v0.9h-0.9zM248.7 315.1h0.9v0.9h-0.9zM269.5 324.1h0.9v0.9h-0.9zM272.0 271.2h0.9v0.9h-0.9zM255.5 283.2h0.9v0.9h-0.9zM251.6 291.2h0.9v0.9h-0.9zM258.0 264.7h0.9v0.9h-0.9zM244.5 320.7h0.9v0.9h-0.9zM245.9 255.6h0.9v0.9h-0.9zM264.3 273.2h0.9v0.9h-0.9zM270.2 281.3h0.9v0.9h-0.9zM258.3 253.6h0.9v0.9h-0.9zM255.6 322.8h0.9v0.9h-0.9zM244.3 280.7h0.9v0.9h-0.9zM267.7 312.2h0.9v0.9h-0.9zM270.1 268.3h0.9v0.9h-0.9zM271.4 264.8h0.9v0.9h-0.9zM243.4 306.4h0.9v0.9h-0.9zM271.4 272.3h0.9v0.9h-0.9zM247.4 272.1h0.9v0.9h-0.9zM272.5 268.1h0.9v0.9h-0.9zM249.7 319.0h0.9v0.9h-0.9zM263.0 287.0h0.9v0.9h-0.9zM267.0 254.7h0.9v0.9h-0.9zM258.6 265.8h0.9v0.9h-0.9zM252.6 282.1h0.9v0.9h-0.9zM244.3 306.5h0.9v0.9h-0.9zM254.4 309.2h0.9v0.9h-0.9zM267.1 287.9h0.9v0.9h-0.9zM258.5 311.5h0.9v0.9h-0.9zM247.0 276.8h0.9v0.9h-0.9zM268.6 299.5h0.9v0.9h-0.9zM261.0 305.4h0.9v0.9h-0.9zM268.5 301.8h0.9v0.9h-0.9zM257.1 260.9h0.9v0.9h-0.9zM258.4 265.7h0.9v0.9h-0.9zM249.1 270.4h0.9v0.9h-0.9zM265.8 265.4h0.9v0.9h-0.9zM270.2 305.3h0.9v0.9h-0.9zM272.6 314.4h0.9v0.9h-0.9zM256.9 288.9h0.9v0.9h-0.9zM253.9 267.9h0.9v0.9h-0.9zM269.6 273.5h0.9v0.9h-0.9zM267.1 302.4h0.9v0.9h-0.9zM264.1 255.4h0.9v0.9h-0.9zM272.0 282.1h0.9v0.9h-0.9zM266.1 266.3h0.9v0.9h-0.9zM243.6 293.9h0.9v0.9h-0.9zM251.8 263.5h0.9v0.9h-0.9zM257.1 255.5h0.9v0.9h-0.9zM245.3 309.0h0.9v0.9h-0.9zM266.1 281.0h0.9v0.9h-0.9zM263.2 295.4h0.9v0.9h-0.9zM249.2 276.1h0.9v0.9h-0.9zM271.8 300.6h0.9v0.9h-0.9zM244.1 323.8h0.9v0.9h-0.9zM266.1 295.0h0.9v0.9h-0.9zM269.1 294.3h0.9v0.9h-0.9zM262.7 281.0h0.9v0.9h-0.9zM252.4 294.9h0.9v0.9h-0.9zM264.1 327.7h0.9v0.9h-0.9zM263.4 268.7h0.9v0.9h-0.9zM251.2 298.1h0.9v0.9h-0.9zM272.7 256.6h0.9v0.9h-0.9zM249.0 323.9h0.9v0.9h-0.9zM246.8 275.0h0.9v0.9h-0.9zM269.6 258.0h0.9v0.9h-0.9zM264.1 291.1h0.9v0.9h-0.9zM252.3 258.1h0.9v0.9h-0.9zM247.6 264.3h0.9v0.9h-0.9zM270.1 330.0h0.9v0.9h-0.9zM269.1 254.7h0.9v0.9h-0.9zM264.7 320.9h0.9v0.9h-0.9zM263.8 311.1h0.9v0.9h-0.9zM247.9 322.5h0.9v0.9h-0.9zM268.7 275.8h0.9v0.9h-0.9zM265.2 318.3h0.9v0.9h-0.9zM265.5 304.6h0.9v0.9h-0.9zM254.9 268.8h0.9v0.9h-0.9zM271.5 266.4h0.9v0.9h-0.9zM263.3 287.5h0.9v0.9h-0.9zM250.3 268.2h0.9v0.9h-0.9zM273.0 297.2h0.9v0.9h-0.9zM271.9 308.8h0.9v0.9h-0.9zM246.0 285.2h0.9v0.9h-0.9zM254.5 300.1h0.9v0.9h-0.9zM257.6 260.2h0.9v0.9h-0.9zM250.6 267.7h0.9v0.9h-0.9zM255.3 296.7h0.9v0.9h-0.9zM249.4 282.9h0.9v0.9h-0.9zM263.9 321.6h0.9v0.9h-0.9zM256.5 284.7h0.9v0.9h-0.9zM271.3 287.2h0.9v0.9h-0.9zM247.8 284.1h0.9v0.9h-0.9zM249.8 324.2h0.9v0.9h-0.9zM248.5 316.7h0.9v0.9h-0.9zM271.1 292.5h0.9v0.9h-0.9zM270.6 292.6h0.9v0.9h-0.9zM272.7 264.1h0.9v0.9h-0.9zM245.2 311.5h0.9v0.9h-0.9zM266.8 310.5h0.9v0.9h-0.9zM249.0 257.5h0.9v0.9h-0.9zM265.6 293.1h0.9v0.9h-0.9zM267.4 266.5h0.9v0.9h-0.9zM249.9 277.6h0.9v0.9h-0.9zM243.2 299.3h0.9v0.9h-0.9zM255.4 307.2h0.9v0.9h-0.9zM256.0 327.0h0.9v0.9h-0.9zM271.3 328.4h0.9v0.9h-0.9zM242.9 274.2h0.9v0.9h-0.9zM271.9 309.9h0.9v0.9h-0.9zM268.0 288.9h0.9v0.9h-0.9zM257.1 280.5h0.9v0.9h-0.9zM266.7 307.8h0.9v0.9h-0.9zM261.5 302.9h0.9v0.9h-0.9zM264.3 261.1h0.9v0.9h-0.9zM244.5 255.8h0.9v0.9h-0.9zM267.3 258.8h0.9v0.9h-0.9zM271.9 313.6h0.9v0.9h-0.9zM266.5 294.5h0.9v0.9h-0.9zM269.7 271.6h0.9v0.9h-0.9zM249.1 325.1h0.9v0.9h-0.9zM269.8 312.6h0.9v0.9h-0.9zM263.0 273.8h0.9v0.9h-0.9zM263.6 307.5h0.9v0.9h-0.9zM266.4 317.2h0.9v0.9h-0.9zM256.6 266.4h0.9v0.9h-0.9zM269.7 308.7h0.9v0.9h-0.9zM250.6 283.9h0.9v0.9h-0.9zM250.2 253.5h0.9v0.9h-0.9zM267.4 269.6h0.9v0.9h-0.9zM266.5 266.8h0.9v0.9h-0.9zM270.5 312.7h0.9v0.9h-0.9zM266.1 292.0h0.9v0.9h-0.9zM264.6 257.1h0.9v0.9h-0.9zM260.7 324.7h0.9v0.9h-0.9zM270.1 325.1h0.9v0.9h-0.9zM245.8 320.6h0.9v0.9h-0.9zM261.6 301.8h0.9v0.9h-0.9zM244.4 316.5h0.9v0.9h-0.9zM271.0 276.8h0.9v0.9h-0.9zM253.3 308.2h0.9v0.9h-0.9zM243.2 265.2h0.9v0.9h-0.9zM264.0 311.4h0.9v0.9h-0.9zM264.0 305.3h0.9v0.9h-0.9zM269.2 257.8h0.9v0.9h-0.9zM256.5 291.8h0.9v0.9h-0.9zM267.6 261.2h0.9v0.9h-0.9zM256.2 257.2h0.9v0.9h-0.9zM260.4 256.8h0.9v0.9h-0.9zM268.1 327.5h0.9v0.9h-0.9zM242.7 321.8h0.9v0.9h-0.9zM266.4 265.4h0.9v0.9h-0.9zM263.5 269.1h0.9v0.9h-0.9zM270.8 287.5h0.9v0.9h-0.9zM259.9 314.8h0.9v0.9h-0.9zM261.3 277.4h0.9v0.9h-0.9zM258.6 285.2h0.9v0.9h-0.9zM245.0 258.4h0.9v0.9h-0.9zM262.0 302.5h0.9v0.9h-0.9zM247.2 289.0h0.9v0.9h-0.9zM256.5 315.0h0.9v0.9h-0.9zM268.3 293.0h0.9v0.9h-0.9zM256.9 313.4h0.9v0.9h-0.9zM249.9 274.8h0.9v0.9h-0.9zM246.7 298.3h0.9v0.9h-0.9zM242.0 260.3h0.9v0.9h-0.9zM257.9 296.4h0.9v0.9h-0.9zM249.0 302.9h0.9v0.9h-0.9zM243.7 303.3h0.9v0.9h-0.9zM253.3 265.6h0.9v0.9h-0.9zM262.6 319.8h0.9v0.9h-0.9zM268.4 297.8h0.9v0.9h-0.9zM244.7 293.8h0.9v0.9h-0.9zM253.0 261.1h0.9v0.9h-0.9zM243.6 289.1h0.9v0.9h-0.9zM269.0 299.4h0.9v0.9h-0.9zM269.9 276.2h0.9v0.9h-0.9zM256.1 320.1h0.9v0.9h-0.9zM260.9 278.8h0.9v0.9h-0.9zM272.6 293.8h0.9v0.9h-0.9zM267.9 267.5h0.9v0.9h-0.9zM264.8 308.9h0.9v0.9h-0.9zM271.3 289.3h0.9v0.9h-0.9zM248.0 321.4h0.9v0.9h-0.9zM250.4 267.1h0.9v0.9h-0.9zM244.9 278.5h0.9v0.9h-0.9zM267.7 303.6h0.9v0.9h-0.9zM266.3 318.4h0.9v0.9h-0.9zM242.8 316.8h0.9v0.9h-0.9zM261.8 287.0h0.9v0.9h-0.9zM254.8 307.7h0.9v0.9h-0.9zM262.1 268.5h0.9v0.9h-0.9zM268.4 307.5h0.9v0.9h-0.9zM253.8 294.2h0.9v0.9h-0.9zM254.7 323.9h0.9v0.9h-0.9zM254.2 301.6h0.9v0.9h-0.9zM255.5 285.6h0.9v0.9h-0.9zM242.3 316.5h0.9v0.9h-0.9zM253.7 269.8h0.9v0.9h-0.9zM246.2 273.5h0.9v0.9h-0.9zM247.3 309.2h0.9v0.9h-0.9zM243.0 259.7h0.9v0.9h-0.9zM267.7 254.9h0.9v0.9h-0.9zM258.4 309.6h0.9v0.9h-0.9zM268.8 324.8h0.9v0.9h-0.9zM256.5 282.6h0.9v0.9h-0.9zM249.9 313.3h0.9v0.9h-0.9zM263.5 312.8h0.9v0.9h-0.9zM272.1 306.6h0.9v0.9h-0.9zM244.8 301.0h0.9v0.9h-0.9zM246.5 295.1h0.9v0.9h-0.9zM260.5 282.6h0.9v0.9h-0.9zM243.8 258.3h0.9v0.9h-0.9zM258.5 308.5h0.9v0.9h-0.9zM260.7 293.1h0.9v0.9h-0.9zM250.6 311.5h0.9v0.9h-0.9zM255.9 293.4h0.9v0.9h-0.9zM255.0 262.1h0.9v0.9h-0.9zM255.2 295.2h0.9v0.9h-0.9zM261.1 299.2h0.9v0.9h-0.9zM268.4 299.4h0.9v0.9h-0.9zM258.1 321.9h0.9v0.9h-0.9zM251.6 309.4h0.9v0.9h-0.9zM266.0 271.5h0.9v0.9h-0.9zM271.5 328.6h0.9v0.9h-0.9zM243.5 296.6h0.9v0.9h-0.9zM256.3 285.2h0.9v0.9h-0.9zM254.9 306.2h0.9v0.9h-0.9zM243.6 268.5h0.9v0.9h-0.9zM257.5 315.6h0.9v0.9h-0.9zM249.3 267.2h0.9v0.9h-0.9zM272.0 312.0h0.9v0.9h-0.9zM266.2 313.5h0.9v0.9h-0.9zM262.2 282.0h0.9v0.9h-0.9zM246.8 264.9h0.9v0.9h-0.9zM270.2 257.1h0.9v0.9h-0.9zM253.5 293.9h0.9v0.9h-0.9zM252.4 306.2h0.9v0.9h-0.9zM248.7 274.6h0.9v0.9h-0.9zM256.7 298.3h0.9v0.9h-0.9zM255.5 272.5h0.9v0.9h-0.9zM245.9 314.8h0.9v0.9h-0.9zM271.1 284.5h0.9v0.9h-0.9zM260.1 320.3h0.9v0.9h-0.9zM264.0 289.7h0.9v0.9h-0.9zM268.7 326.1h0.9v0.9h-0.9zM267.2 325.3h0.9v0.9h-0.9zM269.5 260.2h0.9v0.9h-0.9zM261.6 268.5h0.9v0.9h-0.9zM257.0 284.5h0.9v0.9h-0.9zM250.1 327.6h0.9v0.9h-0.9zM242.1 268.4h0.9v0.9h-0.9zM242.7 287.1h0.9v0.9h-0.9zM251.7 282.2h0.9v0.9h-0.9zM250.8 280.1h0.9v0.9h-0.9zM262.5 289.2h0.9v0.9h-0.9zM269.6 273.2h0.9v0.9h-0.9zM271.3 287.7h0.9v0.9h-0.9zM242.2 288.3h0.9v0.9h-0.9zM242.9 296.6h0.9v0.9h-0.9zM245.7 278.7h0.9v0.9h-0.9zM242.8 260.5h0.9v0.9h-0.9zM272.2 323.4h0.9v0.9h-0.9zM261.9 258.7h0.9v0.9h-0.9zM255.8 288.1h0.9v0.9h-0.9zM254.2 315.5h0.9v0.9h-0.9zM244.0 307.3h0.9v0.9h-0.9zM244.7 254.7h0.9v0.9h-0.9zM244.6 320.7h0.9v0.9h-0.9zM255.5 255.8h0.9v0.9h-0.9zM262.9 294.5h0.9v0.9h-0.9zM265.7 314.4h0.9v0.9h-0.9zM262.1 283.7h0.9v0.9h-0.9zM249.0 327.5h0.9v0.9h-0.9zM263.2 299.0h0.9v0.9h-0.9zM251.4 282.4h0.9v0.9h-0.9zM267.7 296.9h0.9v0.9h-0.9zM255.0 284.8h0.9v0.9h-0.9zM246.5 294.4h0.9v0.9h-0.9zM253.9 283.3h0.9v0.9h-0.9zM271.2 281.7h0.9v0.9h-0.9zM250.5 319.8h0.9v0.9h-0.9zM248.7 307.7h0.9v0.9h-0.9zM245.8 268.8h0.9v0.9h-0.9zM258.8 299.5h0.9v0.9h-0.9zM247.2 326.5h0.9v0.9h-0.9zM269.6 298.1h0.9v0.9h-0.9zM249.3 262.5h0.9v0.9h-0.9zM253.3 301.9h0.9v0.9h-0.9zM250.0 306.6h0.9v0.9h-0.9zM263.7 302.7h0.9v0.9h-0.9zM253.3 260.2h0.9v0.9h-0.9zM252.6 305.2h0.9v0.9h-0.9zM253.3 285.7h0.9v0.9h-0.9zM260.1 327.1h0.9v0.9h-0.9zM269.0 273.2h0.9v0.9h-0.9zM268.9 284.8h0.9v0.9h-0.9zM261.2 280.4h0.9v0.9h-0.9zM271.8 306.1h0.9v0.9h-0.9zM244.4 254.4h0.9v0.9h-0.9zM246.5 257.4h0.9v0.9h-0.9zM244.1 287.0h0.9v0.9h-0.9zM245.0 258.7h0.9v0.9h-0.9zM264.3 280.7h0.9v0.9h-0.9zM247.8 270.5h0.9v0.9h-0.9zM261.8 278.9h0.9v0.9h-0.9zM244.9 323.4h0.9v0.9h-0.9zM270.1 326.3h0.9v0.9h-0.9zM256.8 313.6h0.9v0.9h-0.9zM248.3 253.9h0.9v0.9h-0.9zM250.8 307.5h0.9v0.9h-0.9zM265.6 329.2h0.9v0.9h-0.9zM243.8 282.5h0.9v0.9h-0.9zM244.4 298.6h0.9v0.9h-0.9zM252.5 261.2h0.9v0.9h-0.9zM255.4 320.4h0.9v0.9h-0.9zM266.4 280.5h0.9v0.9h-0.9zM270.7 329.8h0.9v0.9h-0.9zM256.0 315.2h0.9v0.9h-0.9zM263.5 308.9h0.9v0.9h-0.9zM251.6 304.6h0.9v0.9h-0.9zM269.3 310.5h0.9v0.9h-0.9zM262.9 259.1h0.9v0.9h-0.9zM255.2 296.4h0.9v0.9h-0.9zM244.5 257.5h0.9v0.9h-0.9zM265.2 308.5h0.9v0.9h-0.9zM249.0 262.8h0.9v0.9h-0.9zM254.9 304.8h0.9v0.9h-0.9zM250.1 261.6h0.9v0.9h-0.9zM261.5 303.5h0.9v0.9h-0.9zM249.1 273.7h0.9v0.9h-0.9zM242.5 327.0h0.9v0.9h-0.9zM272.8 319.3h0.9v0.9h-0.9zM263.1 304.7h0.9v0.9h-0.9zM262.8 328.5h0.9v0.9h-0.9zM270.3 274.5h0.9v0.9h-0.9zM254.0 271.2h0.9v0.9h-0.9zM256.4 319.6h0.9v0.9h-0.9zM255.1 256.0h0.9v0.9h-0.9zM268.4 308.2h0.9v0.9h-0.9zM254.5 284.1h0.9v0.9h-0.9zM253.2 305.9h0.9v0.9h-0.9zM268.9 278.2h0.9v0.9h-0.9zM252.4 277.1h0.9v0.9h-0.9zM267.9 265.3h0.9v0.9h-0.9zM261.9 283.8h0.9v0.9h-0.9zM258.4 326.2h0.9v0.9h-0.9zM262.7 273.0h0.9v0.9h-0.9zM256.3 304.1h0.9v0.9h-0.9zM245.4 287.5h0.9v0.9h-0.9zM249.6 292.2h0.9v0.9h-0.9zM242.5 273.7h0.9v0.9h-0.9zM266.8 322.1h0.9v0.9h-0.9zM271.1 325.5h0.9v0.9h-0.9zM266.9 320.8h0.9v0.9h-0.9zM257.1 284.5h0.9v0.9h-0.9zM266.7 323.0h0.9v0.9h-0.9zM252.9 265.0h0.9v0.9h-0.9zM257.2 305.8h0.9v0.9h-0.9zM272.0 258.4h0.9v0.9h-0.9zM257.2 283.0h0.9v0.9h-0.9zM272.7 316.7h0.9v0.9h-0.9zM268.7 281.9h0.9v0.9h-0.9zM262.0 258.5h0.9v0.9h-0.9zM245.9 268.4h0.9v0.9h-0.9zM263.3 327.1h0.9v0.9h-0.9zM269.0 301.6h0.9v0.9h-0.9zM261.4 272.2h0.9v0.9h-0.9zM251.3 263.1h0.9v0.9h-0.9zM262.1 306.7h0.9v0.9h-0.9zM249.2 267.9h0.9v0.9h-0.9zM259.2 309.1h0.9v0.9h-0.9zM251.3 298.6h0.9v0.9h-0.9zM264.5 293.4h0.9v0.9h-0.9zM247.2 294.4h0.9v0.9h-0.9zM269.6 291.5h0.9v0.9h-0.9zM245.5 304.5h0.9v0.9h-0.9zM258.0 253.5h0.9v0.9h-0.9zM252.4 296.0h0.9v0.9h-0.9zM250.5 290.2h0.9v0.9h-0.9zM261.0 286.9h0.9v0.9h-0.9zM248.4 316.0h0.9v0.9h-0.9zM256.7 312.4h0.9v0.9h-0.9zM242.2 326.7h0.9v0.9h-0.9zM259.7 255.5h0.9v0.9h-0.9zM253.9 275.9h0.9v0.9h-0.9zM251.6 316.5h0.9v0.9h-0.9zM265.9 290.7h0.9v0.9h-0.9zM253.8 262.8h0.9v0.9h-0.9zM262.7 281.9h0.9v0.9h-0.9zM256.1 306.2h0.9v0.9h-0.9zM265.8 307.6h0.9v0.9h-0.9zM245.4 324.1h0.9v0.9h-0.9zM272.0 303.4h0.9v0.9h-0.9zM271.1 296.7h0.9v0.9h-0.9zM255.6 301.0h0.9v0.9h-0.9zM271.0 270.3h0.9v0.9h-0.9zM264.7 308.1h0.9v0.9h-0.9zM257.4 305.6h0.9v0.9h-0.9zM255.0 305.4h0.9v0.9h-0.9zM253.0 262.9h0.9v0.9h-0.9zM264.9 292.9h0.9v0.9h-0.9zM245.9 307.4h0.9v0.9h-0.9zM263.1 297.6h0.9v0.9h-0.9zM271.3 315.6h0.9v0.9h-0.9zM267.2 272.7h0.9v0.9h-0.9zM253.9 298.8h0.9v0.9h-0.9zM245.5 315.7h0.9v0.9h-0.9zM268.1 299.7h0.9v0.9h-0.9zM259.6 266.8h0.9v0.9h-0.9zM265.6 319.8h0.9v0.9h-0.9zM250.5 264.2h0.9v0.9h-0.9zM272.6 268.5h0.9v0.9h-0.9zM270.8 299.8h0.9v0.9h-0.9zM254.2 258.6h0.9v0.9h-0.9zM271.1 300.0h0.9v0.9h-0.9zM258.3 285.7h0.9v0.9h-0.9zM268.8 270.3h0.9v0.9h-0.9zM246.8 265.0h0.9v0.9h-0.9zM261.1 254.8h0.9v0.9h-0.9zM267.0 290.5h0.9v0.9h-0.9zM254.7 255.2h0.9v0.9h-0.9zM246.4 273.6h0.9v0.9h-0.9zM261.5 281.2h0.9v0.9h-0.9zM249.2 312.6h0.9v0.9h-0.9zM267.2 311.5h0.9v0.9h-0.9zM253.5 327.8h0.9v0.9h-0.9zM251.2 323.6h0.9v0.9h-0.9zM250.0 266.6h0.9v0.9h-0.9zM259.0 308.5h0.9v0.9h-0.9zM260.5 282.0h0.9v0.9h-0.9zM262.2 261.5h0.9v0.9h-0.9zM246.7 324.2h0.9v0.9h-0.9zM269.4 308.6h0.9v0.9h-0.9zM260.5 305.6h0.9v0.9h-0.9zM266.4 325.5h0.9v0.9h-0.9zM255.6 309.1h0.9v0.9h-0.9zM244.5 280.5h0.9v0.9h-0.9zM252.1 287.2h0.9v0.9h-0.9zM272.7 293.1h0.9v0.9h-0.9zM265.9 273.6h0.9v0.9h-0.9zM258.6 317.5h0.9v0.9h-0.9zM264.9 293.3h0.9v0.9h-0.9zM257.6 323.9h0.9v0.9h-0.9zM257.4 294.2h0.9v0.9h-0.9zM262.3 266.1h0.9v0.9h-0.9zM257.4 294.1h0.9v0.9h-0.9zM260.2 279.3h0.9v0.9h-0.9zM262.0 285.5h0.9v0.9h-0.9zM267.3 291.5h0.9v0.9h-0.9zM255.4 310.7h0.9v0.9h-0.9zM258.7 280.3h0.9v0.9h-0.9zM257.0 315.0h0.9v0.9h-0.9zM257.9 266.2h0.9v0.9h-0.9zM258.8 291.4h0.9v0.9h-0.9zM259.5 316.2h0.9v0.9h-0.9zM252.7 290.4h0.9v0.9h-0.9zM260.5 278.3h0.9v0.9h-0.9zM256.5 298.8h0.9v0.9h-0.9zM251.1 292.1h0.9v0.9h-0.9zM268.6 261.9h0.9v0.9h-0.9zM258.4 313.9h0.9v0.9h-0.9zM247.8 302.4h0.9v0.9h-0.9zM254.7 306.8h0.9v0.9h-0.9zM252.6 283.8h0.9v0.9h-0.9zM253.8 278.3h0.9v0.9h-0.9zM254.1 268.7h0.9v0.9h-0.9zM253.5 296.9h0.9v0.9h-0.9zM257.9 297.0h0.9v0.9h-0.9zM269.6 298.4h0.9v0.9h-0.9zM262.5 316.7h0.9v0.9h-0.9zM267.9 258.5h0.9v0.9h-0.9zM264.9 288.7h0.9v0.9h-0.9zM263.6 270.4h0.9v0.9h-0.9zM252.5 275.1h0.9v0.9h-0.9zM262.3 322.6h0.9v0.9h-0.9zM257.7 278.3h0.9v0.9h-0.9zM257.8 270.8h0.9v0.9h-0.9zM254.7 271.7h0.9v0.9h-0.9zM253.0 283.7h0.9v0.9h-0.9zM256.0 298.0h0.9v0.9h-0.9zM247.4 281.2h0.9v0.9h-0.9zM260.7 326.1h0.9v0.9h-0.9zM253.5 299.4h0.9v0.9h-0.9zM252.7 289.9h0.9v0.9h-0.9zM269.6 288.4h0.9v0.9h-0.9zM269.2 255.6h0.9v0.9h-0.9zM259.5 310.1h0.9v0.9h-0.9zM264.8 305.3h0.9v0.9h-0.9zM264.3 260.1h0.9v0.9h-0.9zM260.2 297.2h0.9v0.9h-0.9zM254.7 311.6h0.9v0.9h-0.9zM255.0 272.6h0.9v0.9h-0.9zM261.4 262.6h0.9v0.9h-0.9zM253.5 285.6h0.9v0.9h-0.9zM256.4 295.1h0.9v0.9h-0.9zM265.6 312.1h0.9v0.9h-0.9zM261.0 289.6h0.9v0.9h-0.9zM263.4 271.4h0.9v0.9h-0.9zM255.7 313.6h0.9v0.9h-0.9zM244.1 272.9h0.9v0.9h-0.9zM255.2 289.1h0.9v0.9h-0.9zM254.5 295.7h0.9v0.9h-0.9zM255.5 260.3h0.9v0.9h-0.9zM244.0 297.6h0.9v0.9h-0.9zM257.6 297.9h0.9v0.9h-0.9zM253.8 309.4h0.9v0.9h-0.9zM260.9 279.4h0.9v0.9h-0.9zM264.9 274.6h0.9v0.9h-0.9zM252.4 267.1h0.9v0.9h-0.9zM265.6 273.7h0.9v0.9h-0.9zM265.7 278.4h0.9v0.9h-0.9zM261.9 288.3h0.9v0.9h-0.9zM263.2 281.1h0.9v0.9h-0.9zM246.4 265.4h0.9v0.9h-0.9zM254.1 284.9h0.9v0.9h-0.9zM261.3 276.8h0.9v0.9h-0.9zM242.8 284.7h0.9v0.9h-0.9zM247.4 282.4h0.9v0.9h-0.9zM253.7 289.8h0.9v0.9h-0.9zM265.4 256.6h0.9v0.9h-0.9zM263.1 307.3h0.9v0.9h-0.9zM264.2 265.4h0.9v0.9h-0.9zM257.6 300.7h0.9v0.9h-0.9zM252.9 295.2h0.9v0.9h-0.9zM252.5 302.2h0.9v0.9h-0.9zM258.4 332.2h0.9v0.9h-0.9zM247.7 272.9h0.9v0.9h-0.9zM256.5 271.1h0.9v0.9h-0.9zM255.6 298.6h0.9v0.9h-0.9zM260.9 289.1h0.9v0.9h-0.9zM264.8 281.9h0.9v0.9h-0.9zM260.2 294.4h0.9v0.9h-0.9zM258.6 300.0h0.9v0.9h-0.9zM267.6 292.6h0.9v0.9h-0.9zM255.6 264.2h0.9v0.9h-0.9zM273.3 288.4h0.9v0.9h-0.9zM249.2 256.1h0.9v0.9h-0.9zM248.8 283.3h0.9v0.9h-0.9zM258.5 266.3h0.9v0.9h-0.9zM257.2 286.9h0.9v0.9h-0.9zM258.5 311.8h0.9v0.9h-0.9zM258.6 305.5h0.9v0.9h-0.9zM259.6 270.9h0.9v0.9h-0.9zM255.0 282.3h0.9v0.9h-0.9zM251.0 275.4h0.9v0.9h-0.9zM259.2 307.7h0.9v0.9h-0.9zM258.2 281.6h0.9v0.9h-0.9zM246.1 283.1h0.9v0.9h-0.9zM265.0 305.8h0.9v0.9h-0.9zM257.0 285.9h0.9v0.9h-0.9zM251.2 284.0h0.9v0.9h-0.9zM257.7 319.8h0.9v0.9h-0.9zM258.3 278.1h0.9v0.9h-0.9zM257.4 282.7h0.9v0.9h-0.9zM261.5 293.3h0.9v0.9h-0.9zM263.9 260.3h0.9v0.9h-0.9zM254.8 293.7h0.9v0.9h-0.9zM256.8 287.5h0.9v0.9h-0.9zM251.6 282.6h0.9v0.9h-0.9zM266.7 295.6h0.9v0.9h-0.9zM260.7 321.0h0.9v0.9h-0.9zM262.9 304.7h0.9v0.9h-0.9zM253.3 313.8h0.9v0.9h-0.9zM260.3 283.0h0.9v0.9h-0.9zM260.1 278.1h0.9v0.9h-0.9zM261.9 287.9h0.9v0.9h-0.9zM253.6 287.8h0.9v0.9h-0.9zM254.8 309.1h0.9v0.9h-0.9zM261.2 288.8h0.9v0.9h-0.9zM256.7 305.1h0.9v0.9h-0.9zM232.4 291.1h0.9v0.9h-0.9zM255.6 284.7h0.9v0.9h-0.9zM265.3 262.9h0.9v0.9h-0.9zM271.5 318.0h0.9v0.9h-0.9zM265.1 294.7h0.9v0.9h-0.9zM260.7 344.6h0.9v0.9h-0.9zM258.2 311.4h0.9v0.9h-0.9zM260.7 296.2h0.9v0.9h-0.9zM250.4 283.5h0.9v0.9h-0.9zM255.3 271.5h0.9v0.9h-0.9zM257.7 340.8h0.9v0.9h-0.9zM253.3 320.3h0.9v0.9h-0.9zM263.2 295.1h0.9v0.9h-0.9zM255.4 272.6h0.9v0.9h-0.9zM260.9 307.9h0.9v0.9h-0.9zM266.2 331.4h0.9v0.9h-0.9zM258.0 262.2h0.9v0.9h-0.9zM255.8 278.8h0.9v0.9h-0.9zM260.6 285.1h0.9v0.9h-0.9zM260.5 317.5h0.9v0.9h-0.9zM259.5 272.3h0.9v0.9h-0.9zM261.9 298.9h0.9v0.9h-0.9zM255.6 293.6h0.9v0.9h-0.9zM251.4 297.7h0.9v0.9h-0.9zM265.9 305.9h0.9v0.9h-0.9zM242.6 286.0h0.9v0.9h-0.9zM263.3 280.5h0.9v0.9h-0.9zM255.0 331.6h0.9v0.9h-0.9zM266.9 281.1h0.9v0.9h-0.9zM261.2 269.6h0.9v0.9h-0.9zM271.2 294.9h0.9v0.9h-0.9zM258.9 272.2h0.9v0.9h-0.9zM266.5 268.3h0.9v0.9h-0.9zM264.6 274.8h0.9v0.9h-0.9zM245.5 300.2h0.9v0.9h-0.9zM263.4 281.4h0.9v0.9h-0.9zM261.8 287.4h0.9v0.9h-0.9zM253.0 297.2h0.9v0.9h-0.9zM262.4 302.0h0.9v0.9h-0.9zM260.1 320.5h0.9v0.9h-0.9zM261.6 339.8h0.9v0.9h-0.9zM252.2 274.8h0.9v0.9h-0.9zM262.2 298.3h0.9v0.9h-0.9zM261.5 311.4h0.9v0.9h-0.9zM250.8 286.8h0.9v0.9h-0.9zM257.8 327.1h0.9v0.9h-0.9zM254.3 294.5h0.9v0.9h-0.9zM266.3 286.0h0.9v0.9h-0.9zM247.4 282.4h0.9v0.9h-0.9zM251.8 295.9h0.9v0.9h-0.9zM270.4 329.6h0.9v0.9h-0.9zM265.1 297.9h0.9v0.9h-0.9zM251.5 295.1h0.9v0.9h-0.9zM250.2 266.2h0.9v0.9h-0.9zM260.7 290.1h0.9v0.9h-0.9zM260.0 304.4h0.9v0.9h-0.9zM244.4 321.5h0.9v0.9h-0.9zM263.0 253.8h0.9v0.9h-0.9zM265.9 332.6h0.9v0.9h-0.9zM251.1 311.9h0.9v0.9h-0.9zM262.8 284.3h0.9v0.9h-0.9zM260.3 312.4h0.9v0.9h-0.9zM257.8 296.4h0.9v0.9h-0.9zM265.6 285.1h0.9v0.9h-0.9zM271.2 275.4h0.9v0.9h-0.9zM251.9 285.6h0.9v0.9h-0.9zM249.1 302.7h0.9v0.9h-0.9zM260.2 308.7h0.9v0.9h-0.9zM261.0 300.9h0.9v0.9h-0.9zM263.9 285.3h0.9v0.9h-0.9zM259.8 314.3h0.9v0.9h-0.9zM258.6 277.2h0.9v0.9h-0.9zM260.5 299.2h0.9v0.9h-0.9zM238.0 313.6h0.9v0.9h-0.9zM264.0 259.3h0.9v0.9h-0.9zM256.7 304.2h0.9v0.9h-0.9zM263.5 308.2h0.9v0.9h-0.9zM260.8 301.5h0.9v0.9h-0.9zM259.6 284.1h0.9v0.9h-0.9zM252.9 298.5h0.9v0.9h-0.9zM264.6 268.6h0.9v0.9h-0.9zM263.1 270.0h0.9v0.9h-0.9zM263.9 310.1h0.9v0.9h-0.9zM251.0 324.7h0.9v0.9h-0.9zM255.0 275.5h0.9v0.9h-0.9zM254.7 313.1h0.9v0.9h-0.9zM254.4 318.6h0.9v0.9h-0.9zM252.2 266.0h0.9v0.9h-0.9zM265.8 288.7h0.9v0.9h-0.9zM255.1 307.3h0.9v0.9h-0.9zM253.5 281.6h0.9v0.9h-0.9zM258.4 305.8h0.9v0.9h-0.9zM259.9 266.5h0.9v0.9h-0.9zM263.2 258.1h0.9v0.9h-0.9zM269.1 311.7h0.9v0.9h-0.9zM251.0 277.0h0.9v0.9h-0.9zM253.9 263.4h0.9v0.9h-0.9zM264.7 267.4h0.9v0.9h-0.9zM259.9 265.6h0.9v0.9h-0.9zM257.8 273.2h0.9v0.9h-0.9zM271.9 292.0h0.9v0.9h-0.9zM245.5 291.8h0.9v0.9h-0.9zM241.3 305.4h0.9v0.9h-0.9zM265.7 295.7h0.9v0.9h-0.9zM254.9 287.1h0.9v0.9h-0.9zM270.4 252.2h0.9v0.9h-0.9zM262.2 310.6h0.9v0.9h-0.9zM254.7 267.6h0.9v0.9h-0.9zM250.6 297.1h0.9v0.9h-0.9zM269.8 280.8h0.9v0.9h-0.9zM251.9 293.8h0.9v0.9h-0.9zM260.5 280.0h0.9v0.9h-0.9zM256.2 303.0h0.9v0.9h-0.9zM262.9 291.2h0.9v0.9h-0.9zM255.4 265.4h0.9v0.9h-0.9zM248.1 285.0h0.9v0.9h-0.9zM263.3 304.6h0.9v0.9h-0.9zM256.1 259.0h0.9v0.9h-0.9zM264.4 269.9h0.9v0.9h-0.9zM258.6 262.6h0.9v0.9h-0.9zM260.7 274.1h0.9v0.9h-0.9zM265.8 324.7h0.9v0.9h-0.9zM258.2 319.5h0.9v0.9h-0.9zM266.7 287.8h0.9v0.9h-0.9zM264.2 279.8h0.9v0.9h-0.9zM249.7 322.8h0.9v0.9h-0.9zM247.2 323.5h0.9v0.9h-0.9zM255.9 291.9h0.9v0.9h-0.9zM249.7 289.8h0.9v0.9h-0.9zM258.5 298.6h0.9v0.9h-0.9zM253.4 302.0h0.9v0.9h-0.9zM253.8 293.9h0.9v0.9h-0.9zM249.0 301.0h0.9v0.9h-0.9zM262.8 320.9h0.9v0.9h-0.9zM256.7 277.6h0.9v0.9h-0.9zM257.2 321.7h0.9v0.9h-0.9zM261.1 264.7h0.9v0.9h-0.9zM256.0 308.5h0.9v0.9h-0.9zM261.2 269.6h0.9v0.9h-0.9zM255.9 271.0h0.9v0.9h-0.9zM260.2 296.7h0.9v0.9h-0.9zM254.2 303.2h0.9v0.9h-0.9zM254.4 311.9h0.9v0.9h-0.9zM264.7 297.7h0.9v0.9h-0.9zM263.7 295.0h0.9v0.9h-0.9zM252.4 304.8h0.9v0.9h-0.9zM258.4 294.8h0.9v0.9h-0.9zM252.3 299.4h0.9v0.9h-0.9zM254.1 297.3h0.9v0.9h-0.9zM263.8 315.3h0.9v0.9h-0.9zM244.1 294.2h0.9v0.9h-0.9zM253.7 292.1h0.9v0.9h-0.9zM254.6 284.3h0.9v0.9h-0.9zM249.2 285.4h0.9v0.9h-0.9zM255.7 276.4h0.9v0.9h-0.9zM262.1 274.7h0.9v0.9h-0.9zM257.2 274.0h0.9v0.9h-0.9zM255.2 279.4h0.9v0.9h-0.9zM250.8 336.1h0.9v0.9h-0.9zM254.3 271.3h0.9v0.9h-0.9zM268.2 262.5h0.9v0.9h-0.9zM257.4 268.3h0.9v0.9h-0.9zM253.5 276.9h0.9v0.9h-0.9zM256.6 295.7h0.9v0.9h-0.9zM252.9 313.3h0.9v0.9h-0.9zM261.0 273.6h0.9v0.9h-0.9zM250.1 307.2h0.9v0.9h-0.9zM258.0 264.7h0.9v0.9h-0.9zM248.5 287.5h0.9v0.9h-0.9zM267.6 285.0h0.9v0.9h-0.9zM248.5 297.4h0.9v0.9h-0.9zM256.0 290.5h0.9v0.9h-0.9zM256.3 282.3h0.9v0.9h-0.9zM265.7 263.1h0.9v0.9h-0.9zM269.5 312.1h0.9v0.9h-0.9zM250.4 296.2h0.9v0.9h-0.9zM253.7 305.7h0.9v0.9h-0.9zM253.2 312.7h0.9v0.9h-0.9zM254.3 300.8h0.9v0.9h-0.9zM253.0 283.8h0.9v0.9h-0.9zM263.3 261.4h0.9v0.9h-0.9zM258.5 305.4h0.9v0.9h-0.9zM253.1 320.4h0.9v0.9h-0.9zM257.6 291.6h0.9v0.9h-0.9zM251.4 293.8h0.9v0.9h-0.9zM244.1 282.2h0.9v0.9h-0.9zM264.7 325.2h0.9v0.9h-0.9zM253.1 288.0h0.9v0.9h-0.9zM254.1 286.8h0.9v0.9h-0.9zM248.1 304.1h0.9v0.9h-0.9zM250.8 297.8h0.9v0.9h-0.9zM257.7 307.3h0.9v0.9h-0.9zM258.6 270.5h0.9v0.9h-0.9zM257.1 290.8h0.9v0.9h-0.9zM257.8 300.1h0.9v0.9h-0.9zM267.0 334.3h0.9v0.9h-0.9zM254.3 285.5h0.9v0.9h-0.9zM260.0 289.4h0.9v0.9h-0.9zM263.8 308.8h0.9v0.9h-0.9zM255.3 283.0h0.9v0.9h-0.9zM268.9 258.3h0.9v0.9h-0.9zM260.6 293.9h0.9v0.9h-0.9zM263.5 312.3h0.9v0.9h-0.9zM263.6 304.7h0.9v0.9h-0.9zM254.4 293.8h0.9v0.9h-0.9zM260.3 297.9h0.9v0.9h-0.9zM259.6 305.1h0.9v0.9h-0.9zM264.5 293.5h0.9v0.9h-0.9zM257.2 294.7h0.9v0.9h-0.9zM264.8 313.9h0.9v0.9h-0.9zM263.4 278.2h0.9v0.9h-0.9zM259.5 281.5h0.9v0.9h-0.9zM255.7 285.8h0.9v0.9h-0.9zM262.7 293.9h0.9v0.9h-0.9zM259.7 302.8h0.9v0.9h-0.9zM245.4 264.6h0.9v0.9h-0.9zM251.4 304.9h0.9v0.9h-0.9zM259.0 280.9h0.9v0.9h-0.9zM251.4 285.0h0.9v0.9h-0.9zM257.1 283.4h0.9v0.9h-0.9zM260.6 302.8h0.9v0.9h-0.9zM251.4 315.0h0.9v0.9h-0.9zM253.8 297.3h0.9v0.9h-0.9zM257.6 267.9h0.9v0.9h-0.9zM261.8 302.8h0.9v0.9h-0.9zM258.7 307.5h0.9v0.9h-0.9zM263.5 269.1h0.9v0.9h-0.9zM261.0 322.2h0.9v0.9h-0.9zM260.3 301.3h0.9v0.9h-0.9zM256.8 253.0h0.9v0.9h-0.9zM253.7 287.0h0.9v0.9h-0.9zM256.7 309.1h0.9v0.9h-0.9zM259.0 313.2h0.9v0.9h-0.9zM255.4 279.9h0.9v0.9h-0.9zM260.1 327.2h0.9v0.9h-0.9zM262.2 299.5h0.9v0.9h-0.9zM254.7 291.5h0.9v0.9h-0.9zM259.1 264.2h0.9v0.9h-0.9zM264.5 275.3h0.9v0.9h-0.9zM269.8 266.7h0.9v0.9h-0.9zM255.8 262.2h0.9v0.9h-0.9zM267.4 272.1h0.9v0.9h-0.9zM260.6 279.0h0.9v0.9h-0.9zM255.8 294.6h0.9v0.9h-0.9zM253.5 314.5h0.9v0.9h-0.9zM253.9 307.8h0.9v0.9h-0.9zM255.8 274.1h0.9v0.9h-0.9zM255.8 288.1h0.9v0.9h-0.9zM253.8 316.3h0.9v0.9h-0.9zM255.9 338.7h0.9v0.9h-0.9zM250.1 307.1h0.9v0.9h-0.9zM255.0 291.9h0.9v0.9h-0.9zM260.7 292.5h0.9v0.9h-0.9zM256.9 273.6h0.9v0.9h-0.9zM253.7 300.5h0.9v0.9h-0.9zM263.8 296.7h0.9v0.9h-0.9zM255.4 334.5h0.9v0.9h-0.9zM259.8 293.6h0.9v0.9h-0.9zM258.7 323.2h0.9v0.9h-0.9zM249.1 341.9h0.9v0.9h-0.9zM257.7 302.4h0.9v0.9h-0.9zM251.2 282.8h0.9v0.9h-0.9zM244.3 308.1h0.9v0.9h-0.9zM256.6 286.0h0.9v0.9h-0.9zM257.2 267.2h0.9v0.9h-0.9zM252.5 306.7h0.9v0.9h-0.9zM268.2 303.9h0.9v0.9h-0.9zM252.7 291.0h0.9v0.9h-0.9zM249.7 337.0h0.9v0.9h-0.9zM249.2 329.5h0.9v0.9h-0.9zM264.1 341.9h0.9v0.9h-0.9zM250.9 294.6h0.9v0.9h-0.9zM266.5 326.3h0.9v0.9h-0.9zM258.7 275.4h0.9v0.9h-0.9z" fill="#000" fill-opacity="0.9"/><rect x="39.4" y="432.3" width="118.9" height="120.19999999999999" fill="none" stroke="#555" stroke-width="1.1"/><line x1="39.4" y1="432.3" x2="39.4" y2="553.1" stroke="#1c2250" stroke-width="1.4" /><line x1="38.8" y1="552.5" x2="158.3" y2="552.5" stroke="#1c2250" stroke-width="1.4" /><line x1="36.8" y1="444.3" x2="39.4" y2="444.3" stroke="#333" stroke-width="0.8" /><line x1="36.8" y1="470.90000000000003" x2="39.4" y2="470.90000000000003" stroke="#333" stroke-width="0.8" /><line x1="36.8" y1="499.6" x2="39.4" y2="499.6" stroke="#333" stroke-width="0.8" /><line x1="36.8" y1="527.6" x2="39.4" y2="527.6" stroke="#333" stroke-width="0.8" /><line x1="36.8" y1="546.6" x2="39.4" y2="546.6" stroke="#333" stroke-width="0.8" /><rect x="37.0" y="536.1" width="2.4" height="2.2" fill="#1c2250"/><line x1="46.0" y1="552.5" x2="46.0" y2="555.5" stroke="#333" stroke-width="0.8" /><line x1="68.9" y1="552.5" x2="68.9" y2="555.5" stroke="#333" stroke-width="0.8" /><line x1="95.0" y1="552.5" x2="95.0" y2="555.5" stroke="#333" stroke-width="0.8" /><line x1="121.80000000000001" y1="552.5" x2="121.80000000000001" y2="555.5" stroke="#333" stroke-width="0.8" /><line x1="148.7" y1="552.5" x2="148.7" y2="555.5" stroke="#333" stroke-width="0.8" /><line x1="49.4" y1="552.5" x2="49.4" y2="553.8" stroke="#1c2250" stroke-width="0.6" /><line x1="52.4" y1="552.5" x2="52.4" y2="553.8" stroke="#1c2250" stroke-width="0.6" /><line x1="55.4" y1="552.5" x2="55.4" y2="553.8" stroke="#1c2250" stroke-width="0.6" /><line x1="58.4" y1="552.5" x2="58.4" y2="553.8" stroke="#1c2250" stroke-width="0.6" /><line x1="61.4" y1="552.5" x2="61.4" y2="553.8" stroke="#1c2250" stroke-width="0.6" /><line x1="64.4" y1="552.5" x2="64.4" y2="553.8" stroke="#1c2250" stroke-width="0.6" /><line x1="66.4" y1="552.5" x2="66.4" y2="553.8" stroke="#1c2250" stroke-width="0.6" /><line x1="73.4" y1="552.5" x2="73.4" y2="553.8" stroke="#1c2250" stroke-width="0.6" /><line x1="77.4" y1="552.5" x2="77.4" y2="553.8" stroke="#1c2250" stroke-width="0.6" /><line x1="81.4" y1="552.5" x2="81.4" y2="553.8" stroke="#1c2250" stroke-width="0.6" /><line x1="85.4" y1="552.5" x2="85.4" y2="553.8" stroke="#1c2250" stroke-width="0.6" /><line x1="88.4" y1="552.5" x2="88.4" y2="553.8" stroke="#1c2250" stroke-width="0.6" /><line x1="91.4" y1="552.5" x2="91.4" y2="553.8" stroke="#1c2250" stroke-width="0.6" /><line x1="93.4" y1="552.5" x2="93.4" y2="553.8" stroke="#1c2250" stroke-width="0.6" /><line x1="99.4" y1="552.5" x2="99.4" y2="553.8" stroke="#1c2250" stroke-width="0.6" /><line x1="103.4" y1="552.5" x2="103.4" y2="553.8" stroke="#1c2250" stroke-width="0.6" /><line x1="107.4" y1="552.5" x2="107.4" y2="553.8" stroke="#1c2250" stroke-width="0.6" /><line x1="111.4" y1="552.5" x2="111.4" y2="553.8" stroke="#1c2250" stroke-width="0.6" /><line x1="115.4" y1="552.5" x2="115.4" y2="553.8" stroke="#1c2250" stroke-width="0.6" /><line x1="118.4" y1="552.5" x2="118.4" y2="553.8" stroke="#1c2250" stroke-width="0.6" /><line x1="120.4" y1="552.5" x2="120.4" y2="553.8" stroke="#1c2250" stroke-width="0.6" /><line x1="126.4" y1="552.5" x2="126.4" y2="553.8" stroke="#1c2250" stroke-width="0.6" /><line x1="130.4" y1="552.5" x2="130.4" y2="553.8" stroke="#1c2250" stroke-width="0.6" /><line x1="134.4" y1="552.5" x2="134.4" y2="553.8" stroke="#1c2250" stroke-width="0.6" /><line x1="138.4" y1="552.5" x2="138.4" y2="553.8" stroke="#1c2250" stroke-width="0.6" /><line x1="142.4" y1="552.5" x2="142.4" y2="553.8" stroke="#1c2250" stroke-width="0.6" /><line x1="145.4" y1="552.5" x2="145.4" y2="553.8" stroke="#1c2250" stroke-width="0.6" /><line x1="147.4" y1="552.5" x2="147.4" y2="553.8" stroke="#1c2250" stroke-width="0.6" /><line x1="152.4" y1="552.5" x2="152.4" y2="553.8" stroke="#1c2250" stroke-width="0.6" /><line x1="155.4" y1="552.5" x2="155.4" y2="553.8" stroke="#1c2250" stroke-width="0.6" /><rect x="86.3" y="440.4" width="56.89999999999999" height="77.30000000000007" fill="none" stroke="#4050e8" stroke-width="1"/><path d="M108.8 539.3 L107.8 539.3 L107.1 539.2 L106.2 539.0 L105.6 538.8 L104.8 538.3 L104.2 537.9 L103.8 537.5 L103.2 537.0 L102.8 536.4 L102.3 535.8 L102.0 535.2 L101.7 534.8 L101.3 533.8 L101.2 533.2 L100.9 532.2 L100.8 531.2 L100.9 530.2 L101.1 529.2 L101.2 528.6 L101.5 527.8 L101.8 527.2 L102.2 526.4 L102.7 525.8 L103.1 525.2 L103.6 524.8 L104.2 524.2 L104.8 523.9 L105.2 523.6 L106.2 523.3 L106.8 523.1 L107.8 523.0 L108.8 523.0 L109.8 523.2 L110.2 523.4 L111.0 523.8 L111.8 524.2 L112.2 524.5 L112.8 525.0 L113.2 525.5 L113.8 526.2 L114.1 526.8 L114.4 527.2 L114.8 528.0 L115.1 528.8 L115.2 529.4 L115.5 530.2 L115.6 531.2 L115.6 532.2 L115.4 533.2 L115.1 534.2 L114.8 534.9 L114.2 535.7 L113.8 536.2 L113.4 536.8 L112.8 537.2 L112.2 537.7 L111.8 538.1 L111.2 538.4 L110.5 538.8 L109.8 539.0 L108.9 539.2Z" fill="#000" fill-opacity="0.07"/><path d="M110.2 537.8 L109.2 538.1 L108.2 538.2 L107.2 538.1 L106.2 537.8 L105.8 537.6 L105.1 537.2 L104.5 536.8 L103.9 536.2 L103.5 535.8 L103.1 535.2 L102.5 534.2 L102.2 533.7 L102.0 532.8 L101.8 531.8 L101.8 530.8 L101.9 529.8 L102.1 528.8 L102.3 528.2 L102.8 527.4 L103.1 526.8 L103.5 526.2 L103.9 525.8 L104.5 525.2 L105.2 524.8 L105.8 524.5 L106.5 524.2 L107.2 524.1 L108.2 524.0 L109.2 524.1 L109.8 524.3 L110.8 524.7 L111.2 525.0 L111.8 525.3 L112.2 525.8 L112.8 526.4 L113.2 527.1 L113.6 527.8 L113.9 528.2 L114.2 529.2 L114.4 529.8 L114.5 530.8 L114.5 531.8 L114.4 532.8 L114.2 533.3 L113.9 534.2 L113.6 534.8 L113.2 535.3 L112.8 535.9 L112.2 536.4 L111.8 536.8 L111.2 537.2 L110.3 537.8Z" fill="#000" fill-opacity="0.07"/><path d="M108.8 537.3 L107.8 537.3 L107.2 537.2 L106.2 536.9 L105.8 536.6 L105.2 536.2 L104.6 535.8 L104.1 535.2 L103.7 534.8 L103.2 534.1 L102.9 533.2 L102.7 532.8 L102.5 531.8 L102.5 530.8 L102.7 529.8 L102.8 529.2 L103.2 528.2 L103.4 527.8 L103.8 527.2 L104.2 526.6 L104.8 526.1 L105.2 525.7 L106.2 525.2 L106.8 525.1 L107.8 524.9 L108.8 524.9 L109.8 525.2 L110.2 525.4 L110.9 525.8 L111.6 526.2 L112.0 526.8 L112.4 527.2 L113.0 528.2 L113.2 528.8 L113.5 529.8 L113.7 530.8 L113.7 531.8 L113.5 532.8 L113.2 533.5 L112.9 534.2 L112.6 534.8 L112.2 535.2 L111.7 535.8 L111.1 536.2 L110.3 536.8 L109.8 537.0 L108.8 537.2Z" fill="#000" fill-opacity="0.07"/><path d="M109.2 536.3 L108.2 536.4 L107.2 536.3 L106.8 536.2 L105.8 535.8 L105.2 535.4 L104.8 534.9 L104.2 534.3 L103.9 533.8 L103.6 533.2 L103.3 532.2 L103.2 531.2 L103.2 530.6 L103.4 529.8 L103.7 528.8 L104.0 528.2 L104.3 527.8 L104.8 527.1 L105.2 526.7 L105.9 526.2 L106.8 525.9 L107.5 525.8 L108.2 525.7 L108.8 525.8 L109.8 526.0 L110.2 526.3 L111.0 526.8 L111.5 527.2 L111.9 527.8 L112.2 528.4 L112.6 529.2 L112.8 529.8 L112.9 530.8 L112.9 531.8 L112.8 532.4 L112.5 533.2 L112.2 533.8 L111.8 534.6 L111.2 535.1 L110.8 535.5 L110.2 535.9 L109.4 536.2Z" fill="#000" fill-opacity="0.07"/><path d="M108.2 535.8 L107.8 535.7 L106.8 535.5 L106.2 535.2 L105.5 534.8 L104.9 534.2 L104.6 533.8 L104.2 533.2 L103.9 532.2 L103.8 531.2 L103.9 530.2 L104.2 529.2 L104.4 528.8 L104.8 528.1 L105.2 527.5 L105.8 527.1 L106.3 526.8 L107.2 526.5 L108.2 526.4 L109.2 526.6 L109.8 526.8 L110.6 527.2 L111.1 527.8 L111.5 528.2 L112.0 529.2 L112.2 530.2 L112.3 530.8 L112.2 531.6 L112.1 532.2 L111.8 533.2 L111.5 533.8 L111.2 534.2 L110.7 534.8 L110.0 535.2 L109.2 535.6 L108.3 535.8Z" fill="#000" fill-opacity="0.07"/><path d="M108.8 534.8 L107.8 534.9 L107.0 534.8 L106.2 534.4 L105.8 534.0 L105.2 533.5 L104.8 532.8 L104.7 532.2 L104.5 531.2 L104.6 530.2 L104.8 529.7 L105.2 528.8 L105.6 528.2 L106.2 527.8 L106.8 527.4 L107.4 527.2 L108.2 527.2 L109.2 527.4 L109.9 527.8 L110.5 528.2 L110.9 528.8 L111.2 529.5 L111.5 530.2 L111.5 531.2 L111.3 532.2 L111.1 532.8 L110.8 533.5 L110.2 534.0 L109.8 534.4 L109.0 534.8Z" fill="#000" fill-opacity="0.07"/><path d="M108.2 534.3 L107.4 534.2 L106.8 534.0 L106.2 533.7 L105.8 533.2 L105.2 532.4 L105.1 531.8 L105.0 530.8 L105.2 529.8 L105.5 529.2 L105.9 528.8 L106.5 528.2 L107.2 527.9 L108.2 527.8 L109.2 528.0 L109.8 528.3 L110.2 528.8 L110.8 529.7 L110.9 530.2 L111.0 531.2 L110.8 532.2 L110.5 532.8 L110.2 533.2 L109.7 533.8 L108.8 534.2 L108.2 534.3Z" fill="#000" fill-opacity="0.07"/><path d="M108.8 533.3 L107.8 533.5 L107.0 533.2 L106.3 532.8 L106.0 532.2 L105.8 531.6 L105.7 530.8 L105.8 530.2 L106.2 529.5 L106.8 529.0 L107.2 528.7 L108.2 528.5 L109.0 528.8 L109.6 529.2 L110.0 529.8 L110.2 530.7 L110.2 531.2 L109.9 532.2 L109.6 532.8 L108.9 533.2Z" fill="#000" fill-opacity="0.07"/><path d="M108.8 532.5 L107.8 532.8 L106.8 532.2 L106.5 531.8 L106.4 530.8 L106.8 529.9 L107.2 529.4 L107.8 529.2 L108.3 529.2 L109.2 529.8 L109.5 530.2 L109.6 531.2 L109.2 532.1 L108.8 532.5Z" fill="#000" fill-opacity="0.07"/><path d="M108.8 548.8 L107.8 548.9 L106.8 549.0 L105.8 548.9 L104.8 548.8 L104.2 548.6 L103.2 548.3 L102.8 548.1 L101.8 547.8 L101.2 547.5 L100.8 547.2 L100.0 546.8 L99.4 546.2 L98.9 545.8 L98.5 545.2 L98.1 544.8 L97.7 544.2 L97.2 543.5 L96.8 542.8 L96.6 542.2 L96.2 541.4 L96.0 540.8 L95.8 540.1 L95.4 539.2 L95.2 538.8 L94.9 537.8 L94.8 537.1 L94.6 536.2 L94.3 535.2 L94.2 534.8 L94.0 533.8 L93.8 532.8 L93.8 532.1 L93.7 531.2 L93.7 530.2 L93.8 529.7 L93.8 528.8 L94.0 527.8 L94.2 526.8 L94.3 526.2 L94.7 525.2 L94.8 524.8 L95.1 523.8 L95.3 523.2 L95.8 522.4 L96.2 521.8 L96.7 521.2 L97.1 520.8 L97.5 520.2 L97.9 519.8 L98.3 519.2 L98.8 518.3 L99.0 517.8 L99.2 516.9 L99.4 516.2 L99.8 515.3 L99.9 514.8 L100.1 513.8 L100.2 512.8 L100.2 512.1 L100.4 511.2 L100.6 510.2 L100.8 509.8 L101.0 508.8 L101.2 507.8 L101.2 507.1 L101.3 506.2 L101.2 505.5 L101.1 504.8 L100.8 503.8 L100.7 503.2 L100.6 502.2 L100.6 501.2 L100.7 500.2 L100.8 499.8 L100.9 498.8 L100.9 497.8 L101.0 496.8 L101.1 495.8 L101.1 494.8 L101.0 493.8 L100.9 492.8 L100.9 491.8 L100.9 490.8 L101.0 489.8 L101.2 488.8 L101.3 488.2 L101.4 487.2 L101.4 486.2 L101.4 485.2 L101.4 484.2 L101.5 483.2 L101.4 482.2 L101.2 481.7 L101.0 480.8 L100.9 479.8 L100.8 478.8 L100.8 477.8 L101.0 476.8 L101.2 475.8 L101.3 475.2 L101.6 474.2 L101.9 473.8 L102.2 473.2 L102.8 472.8 L103.8 472.4 L104.2 472.2 L105.2 471.9 L106.0 471.8 L106.8 471.5 L107.8 471.3 L108.2 471.2 L109.2 471.1 L110.2 471.0 L111.2 471.1 L112.2 471.1 L113.2 471.1 L114.2 471.1 L115.2 471.2 L115.8 471.3 L116.8 471.5 L117.6 471.8 L118.2 472.0 L118.9 472.2 L119.8 472.6 L120.2 472.9 L120.8 473.3 L121.2 473.8 L121.7 474.8 L121.9 475.2 L122.1 476.2 L122.1 477.2 L122.1 478.2 L121.9 479.2 L121.8 480.2 L121.8 481.2 L121.9 482.2 L122.0 483.2 L121.9 484.2 L121.9 485.2 L121.9 486.2 L122.0 487.2 L122.2 488.2 L122.2 489.2 L122.2 490.2 L122.2 491.2 L122.2 492.2 L122.1 493.2 L122.0 494.2 L121.9 495.2 L121.9 496.2 L122.1 497.2 L122.2 498.2 L122.3 498.8 L122.3 499.8 L122.2 500.2 L122.2 501.2 L122.1 502.2 L122.1 503.2 L122.0 504.2 L121.8 505.2 L121.7 505.8 L121.8 506.5 L121.8 507.2 L122.0 508.2 L122.1 509.2 L122.1 510.2 L122.1 511.2 L122.1 512.2 L122.0 513.2 L121.9 514.2 L121.8 515.2 L121.5 515.8 L121.1 516.2 L120.6 516.8 L120.1 517.2 L119.6 517.8 L119.2 518.2 L119.1 519.2 L119.2 520.0 L119.6 520.8 L119.9 521.2 L120.2 521.8 L120.8 522.4 L121.2 523.0 L121.8 523.4 L122.2 523.8 L123.0 524.2 L123.8 524.7 L124.2 525.0 L124.8 525.3 L125.3 525.8 L125.9 526.2 L126.5 526.8 L127.2 527.2 L127.8 527.7 L128.2 528.1 L128.8 528.6 L129.2 529.2 L129.6 529.8 L129.9 530.2 L130.2 530.9 L130.7 531.8 L130.9 532.2 L131.1 533.2 L131.2 534.2 L131.3 535.2 L131.2 535.8 L131.1 536.8 L130.9 537.8 L130.7 538.2 L130.3 539.2 L130.0 539.8 L129.7 540.2 L129.2 540.9 L128.8 541.5 L128.2 542.0 L127.8 542.5 L127.2 543.0 L126.8 543.3 L126.1 543.8 L125.2 544.2 L124.8 544.4 L123.9 544.8 L123.2 545.0 L122.2 545.2 L121.8 545.3 L120.8 545.5 L119.8 545.6 L118.8 545.6 L117.8 545.7 L117.2 545.8 L116.2 546.2 L115.8 546.4 L114.8 546.7 L114.2 546.9 L113.4 547.2 L112.8 547.5 L112.2 547.8 L111.2 548.2 L110.8 548.4 L109.8 548.6 L109.0 548.8 M108.2 547.3 L107.2 547.4 L106.2 547.4 L105.2 547.3 L104.8 547.2 L103.8 546.9 L103.2 546.6 L102.4 546.2 L101.8 545.9 L101.2 545.5 L100.8 545.1 L100.2 544.6 L99.8 544.0 L99.2 543.4 L98.8 542.8 L98.6 542.2 L98.2 541.6 L97.8 540.8 L97.6 540.2 L97.2 539.3 L97.0 538.8 L96.8 538.0 L96.5 537.2 L96.2 536.6 L95.9 535.8 L95.8 535.1 L95.5 534.2 L95.3 533.2 L95.2 532.8 L95.2 531.8 L95.2 530.8 L95.2 530.0 L95.3 529.2 L95.4 528.2 L95.6 527.2 L95.8 526.8 L96.1 525.8 L96.2 525.2 L96.6 524.2 L96.9 523.8 L97.2 523.1 L97.8 522.4 L98.2 521.8 L98.8 521.2 L99.2 520.7 L99.8 520.2 L100.2 519.6 L100.8 519.0 L101.2 518.3 L101.6 517.8 L101.9 517.2 L102.2 516.7 L102.8 515.9 L103.2 515.3 L103.8 514.8 L104.2 514.3 L104.7 513.8 L105.2 513.2 L105.5 512.8 L105.8 512.1 L105.9 511.2 L105.9 510.2 L105.9 509.2 L105.9 508.2 L106.0 507.2 L106.0 506.2 L106.0 505.2 L105.8 504.2 L105.8 503.2 L105.9 502.2 L106.0 501.2 L106.1 500.2 L106.0 499.2 L105.8 498.7 L105.4 497.8 L105.3 496.8 L105.4 495.8 L105.5 494.8 L105.7 493.8 L105.8 493.2 L106.0 492.2 L106.1 491.2 L106.1 490.2 L106.0 489.2 L106.0 488.2 L106.0 487.2 L106.1 486.2 L106.1 485.2 L106.0 484.2 L105.9 483.2 L106.1 482.2 L106.2 481.2 L106.1 480.2 L105.9 479.2 L105.8 478.2 L105.9 477.2 L106.2 476.2 L106.3 475.8 L106.8 474.8 L107.2 474.2 L107.7 473.8 L108.2 473.4 L108.8 473.2 L109.8 473.0 L110.8 473.0 L111.8 473.1 L112.8 473.2 L113.3 473.2 L114.2 473.4 L115.2 473.7 L115.8 474.0 L116.2 474.4 L116.8 475.1 L116.9 475.8 L116.9 476.8 L116.8 477.5 L116.7 478.2 L116.7 479.2 L116.7 480.2 L116.8 480.8 L117.0 481.8 L116.9 482.8 L116.8 483.8 L116.7 484.2 L116.7 485.2 L116.8 485.8 L117.0 486.8 L117.2 487.8 L117.3 488.2 L117.4 489.2 L117.3 490.2 L117.2 490.8 L117.1 491.8 L117.1 492.8 L117.1 493.8 L117.2 494.8 L117.3 495.2 L117.5 496.2 L117.6 497.2 L117.6 498.2 L117.5 499.2 L117.4 500.2 L117.3 501.2 L117.3 502.2 L117.3 503.2 L117.4 504.2 L117.4 505.2 L117.3 506.2 L117.3 507.2 L117.5 508.2 L117.8 508.8 L118.1 509.8 L118.2 510.8 L118.1 511.8 L117.9 512.8 L117.7 513.2 L117.4 514.2 L117.2 514.8 L116.8 515.7 L116.5 516.2 L116.2 516.8 L116.0 517.8 L116.2 518.8 L116.4 519.2 L116.8 519.8 L117.2 520.5 L117.7 521.2 L118.1 521.8 L118.4 522.2 L118.8 522.8 L119.2 523.4 L119.8 524.1 L120.2 524.6 L120.8 525.0 L121.2 525.4 L121.8 525.8 L122.3 526.2 L122.8 526.8 L123.4 527.2 L123.9 527.8 L124.6 528.2 L125.2 528.8 L125.8 529.1 L126.2 529.6 L126.8 530.1 L127.2 530.8 L127.5 531.2 L127.8 531.8 L128.2 532.7 L128.5 533.2 L128.8 534.2 L128.8 534.8 L128.8 535.8 L128.8 536.3 L128.5 537.2 L128.2 537.9 L127.8 538.7 L127.4 539.2 L127.1 539.8 L126.7 540.2 L126.2 540.8 L125.6 541.2 L124.8 541.8 L124.2 542.0 L123.7 542.2 L122.8 542.6 L122.2 542.8 L121.2 543.0 L120.2 543.2 L119.3 543.2 L118.8 543.3 L117.8 543.5 L116.8 543.7 L116.2 543.9 L115.5 544.2 L114.8 544.6 L114.2 544.9 L113.5 545.2 L112.8 545.6 L112.2 545.9 L111.6 546.2 L110.8 546.6 L110.2 546.8 L109.2 547.1 L108.7 547.2 M108.8 546.3 L107.8 546.5 L106.8 546.6 L105.8 546.5 L104.8 546.2 L104.2 546.1 L103.5 545.8 L102.8 545.4 L102.2 545.0 L101.8 544.7 L101.2 544.2 L100.8 543.7 L100.2 543.1 L99.8 542.3 L99.4 541.8 L99.2 541.2 L98.8 540.5 L98.4 539.8 L98.2 539.2 L97.8 538.2 L97.5 537.8 L97.2 537.0 L96.9 536.2 L96.8 535.7 L96.4 534.8 L96.2 534.2 L96.0 533.2 L95.9 532.2 L95.9 531.2 L96.0 530.2 L96.1 529.2 L96.2 528.2 L96.4 527.2 L96.7 526.2 L96.9 525.8 L97.2 524.9 L97.5 524.2 L97.8 523.8 L98.2 523.1 L98.8 522.5 L99.2 521.9 L99.8 521.4 L100.2 520.9 L100.8 520.4 L101.2 519.9 L101.8 519.4 L102.2 518.9 L102.8 518.4 L103.2 517.9 L103.8 517.4 L104.2 517.0 L104.8 516.7 L105.3 516.2 L106.0 515.8 L106.8 515.3 L107.2 514.9 L107.8 514.5 L108.2 514.0 L108.8 513.4 L109.2 512.8 L109.8 512.4 L110.2 512.2 L110.9 512.2 L111.8 512.7 L112.2 513.2 L112.7 513.8 L113.0 514.2 L113.2 514.9 L113.5 515.8 L113.7 516.8 L113.8 517.2 L114.2 518.2 L114.5 518.8 L114.9 519.2 L115.3 519.8 L115.8 520.3 L116.2 520.8 L116.8 521.5 L117.2 522.1 L117.7 522.8 L118.1 523.2 L118.4 523.8 L118.8 524.3 L119.2 524.9 L119.8 525.5 L120.2 525.9 L120.8 526.4 L121.2 526.9 L121.8 527.4 L122.2 527.9 L122.8 528.4 L123.2 529.0 L123.8 529.5 L124.2 529.9 L124.8 530.3 L125.2 530.8 L125.8 531.4 L126.2 532.1 L126.6 532.8 L126.8 533.2 L127.1 534.2 L127.2 535.2 L127.1 536.2 L126.8 537.2 L126.5 537.8 L126.2 538.2 L125.8 539.0 L125.2 539.6 L124.8 540.1 L124.2 540.4 L123.7 540.8 L122.8 541.1 L122.2 541.3 L121.2 541.6 L120.5 541.8 L119.8 541.9 L118.8 542.1 L117.8 542.2 L117.2 542.4 L116.2 542.7 L115.8 542.9 L115.1 543.2 L114.2 543.7 L113.8 544.0 L113.2 544.3 L112.4 544.8 L111.8 545.1 L111.2 545.4 L110.5 545.8 L109.8 546.0 L109.0 546.2 M108.8 542.8 L107.8 543.0 L106.8 543.0 L105.8 542.8 L105.2 542.6 L104.6 542.2 L103.8 541.8 L103.2 541.4 L102.8 540.9 L102.2 540.4 L101.8 539.8 L101.3 539.2 L101.0 538.8 L100.7 538.2 L100.2 537.5 L99.8 536.8 L99.6 536.2 L99.2 535.5 L99.0 534.8 L98.8 534.1 L98.5 533.2 L98.4 532.2 L98.4 531.2 L98.4 530.2 L98.5 529.2 L98.8 528.3 L98.9 527.8 L99.2 526.8 L99.4 526.2 L99.8 525.6 L100.2 524.8 L100.6 524.2 L100.9 523.8 L101.4 523.2 L101.9 522.8 L102.5 522.2 L103.2 521.8 L103.8 521.4 L104.2 521.2 L105.2 520.8 L105.8 520.5 L106.8 520.3 L107.2 520.2 L108.2 520.2 L109.1 520.2 L109.8 520.3 L110.8 520.6 L111.2 520.8 L112.2 521.2 L112.8 521.6 L113.2 521.9 L113.8 522.3 L114.2 522.8 L114.8 523.3 L115.2 523.8 L115.8 524.5 L116.2 525.2 L116.6 525.8 L116.8 526.2 L117.2 527.1 L117.6 527.8 L117.8 528.2 L118.2 529.2 L118.7 530.2 L118.9 530.8 L119.2 531.8 L119.3 532.2 L119.4 533.2 L119.4 534.2 L119.3 535.2 L119.1 535.8 L118.7 536.2 L118.2 536.8 L117.7 537.2 L117.1 537.8 L116.5 538.2 L115.8 538.8 L115.2 539.2 L114.8 539.5 L114.2 539.9 L113.7 540.2 L112.9 540.8 L112.2 541.2 L111.8 541.4 L111.1 541.8 L110.2 542.2 L109.8 542.4 L109.0 542.8 M108.2 540.8 L107.2 540.8 L106.7 540.8 L105.8 540.5 L105.2 540.2 L104.4 539.8 L103.8 539.3 L103.2 538.8 L102.8 538.4 L102.2 537.8 L101.8 537.2 L101.5 536.8 L101.2 536.2 L100.8 535.4 L100.5 534.8 L100.2 534.2 L100.0 533.2 L99.8 532.2 L99.8 531.6 L99.7 530.8 L99.8 530.2 L99.9 529.2 L100.2 528.2 L100.3 527.8 L100.8 526.8 L101.0 526.2 L101.3 525.8 L101.8 525.1 L102.2 524.4 L102.8 523.9 L103.2 523.5 L103.8 523.1 L104.4 522.8 L105.2 522.3 L105.8 522.1 L106.8 521.9 L107.8 521.8 L108.3 521.8 L109.2 521.9 L110.2 522.1 L110.8 522.3 L111.7 522.8 L112.2 523.1 L112.8 523.4 L113.2 523.8 L113.8 524.3 L114.2 524.9 L114.8 525.6 L115.2 526.2 L115.4 526.8 L115.8 527.4 L116.1 528.2 L116.3 528.8 L116.6 529.8 L116.8 530.2 L117.0 531.2 L117.0 532.2 L116.9 533.2 L116.8 534.0 L116.5 534.8 L116.2 535.3 L115.8 536.1 L115.2 536.7 L114.8 537.2 L114.2 537.7 L113.8 538.1 L113.2 538.5 L112.8 538.9 L112.2 539.2 L111.3 539.8 L110.8 540.0 L110.2 540.2 L109.2 540.6 L108.6 540.8 M108.8 539.3 L107.8 539.3 L107.1 539.2 L106.2 539.0 L105.6 538.8 L104.8 538.3 L104.2 537.9 L103.8 537.5 L103.2 537.0 L102.8 536.4 L102.3 535.8 L102.0 535.2 L101.7 534.8 L101.3 533.8 L101.2 533.2 L100.9 532.2 L100.8 531.2 L100.9 530.2 L101.1 529.2 L101.2 528.6 L101.5 527.8 L101.8 527.2 L102.2 526.4 L102.7 525.8 L103.1 525.2 L103.6 524.8 L104.2 524.2 L104.8 523.9 L105.2 523.6 L106.2 523.3 L106.8 523.1 L107.8 523.0 L108.8 523.0 L109.8 523.2 L110.2 523.4 L111.0 523.8 L111.8 524.2 L112.2 524.5 L112.8 525.0 L113.2 525.5 L113.8 526.2 L114.1 526.8 L114.4 527.2 L114.8 528.0 L115.1 528.8 L115.2 529.4 L115.5 530.2 L115.6 531.2 L115.6 532.2 L115.4 533.2 L115.1 534.2 L114.8 534.9 L114.2 535.7 L113.8 536.2 L113.4 536.8 L112.8 537.2 L112.2 537.7 L111.8 538.1 L111.2 538.4 L110.5 538.8 L109.8 539.0 L108.9 539.2 M110.2 537.8 L109.2 538.1 L108.2 538.2 L107.2 538.1 L106.2 537.8 L105.8 537.6 L105.1 537.2 L104.5 536.8 L103.9 536.2 L103.5 535.8 L103.1 535.2 L102.5 534.2 L102.2 533.7 L102.0 532.8 L101.8 531.8 L101.8 530.8 L101.9 529.8 L102.1 528.8 L102.3 528.2 L102.8 527.4 L103.1 526.8 L103.5 526.2 L103.9 525.8 L104.5 525.2 L105.2 524.8 L105.8 524.5 L106.5 524.2 L107.2 524.1 L108.2 524.0 L109.2 524.1 L109.8 524.3 L110.8 524.7 L111.2 525.0 L111.8 525.3 L112.2 525.8 L112.8 526.4 L113.2 527.1 L113.6 527.8 L113.9 528.2 L114.2 529.2 L114.4 529.8 L114.5 530.8 L114.5 531.8 L114.4 532.8 L114.2 533.3 L113.9 534.2 L113.6 534.8 L113.2 535.3 L112.8 535.9 L112.2 536.4 L111.8 536.8 L111.2 537.2 L110.3 537.8 M108.8 537.3 L107.8 537.3 L107.2 537.2 L106.2 536.9 L105.8 536.6 L105.2 536.2 L104.6 535.8 L104.1 535.2 L103.7 534.8 L103.2 534.1 L102.9 533.2 L102.7 532.8 L102.5 531.8 L102.5 530.8 L102.7 529.8 L102.8 529.2 L103.2 528.2 L103.4 527.8 L103.8 527.2 L104.2 526.6 L104.8 526.1 L105.2 525.7 L106.2 525.2 L106.8 525.1 L107.8 524.9 L108.8 524.9 L109.8 525.2 L110.2 525.4 L110.9 525.8 L111.6 526.2 L112.0 526.8 L112.4 527.2 L113.0 528.2 L113.2 528.8 L113.5 529.8 L113.7 530.8 L113.7 531.8 L113.5 532.8 L113.2 533.5 L112.9 534.2 L112.6 534.8 L112.2 535.2 L111.7 535.8 L111.1 536.2 L110.3 536.8 L109.8 537.0 L108.8 537.2 M109.2 536.3 L108.2 536.4 L107.2 536.3 L106.8 536.2 L105.8 535.8 L105.2 535.4 L104.8 534.9 L104.2 534.3 L103.9 533.8 L103.6 533.2 L103.3 532.2 L103.2 531.2 L103.2 530.6 L103.4 529.8 L103.7 528.8 L104.0 528.2 L104.3 527.8 L104.8 527.1 L105.2 526.7 L105.9 526.2 L106.8 525.9 L107.5 525.8 L108.2 525.7 L108.8 525.8 L109.8 526.0 L110.2 526.3 L111.0 526.8 L111.5 527.2 L111.9 527.8 L112.2 528.4 L112.6 529.2 L112.8 529.8 L112.9 530.8 L112.9 531.8 L112.8 532.4 L112.5 533.2 L112.2 533.8 L111.8 534.6 L111.2 535.1 L110.8 535.5 L110.2 535.9 L109.4 536.2 M108.2 535.8 L107.8 535.7 L106.8 535.5 L106.2 535.2 L105.5 534.8 L104.9 534.2 L104.6 533.8 L104.2 533.2 L103.9 532.2 L103.8 531.2 L103.9 530.2 L104.2 529.2 L104.4 528.8 L104.8 528.1 L105.2 527.5 L105.8 527.1 L106.3 526.8 L107.2 526.5 L108.2 526.4 L109.2 526.6 L109.8 526.8 L110.6 527.2 L111.1 527.8 L111.5 528.2 L112.0 529.2 L112.2 530.2 L112.3 530.8 L112.2 531.6 L112.1 532.2 L111.8 533.2 L111.5 533.8 L111.2 534.2 L110.7 534.8 L110.0 535.2 L109.2 535.6 L108.3 535.8 M108.8 534.8 L107.8 534.9 L107.0 534.8 L106.2 534.4 L105.8 534.0 L105.2 533.5 L104.8 532.8 L104.7 532.2 L104.5 531.2 L104.6 530.2 L104.8 529.7 L105.2 528.8 L105.6 528.2 L106.2 527.8 L106.8 527.4 L107.4 527.2 L108.2 527.2 L109.2 527.4 L109.9 527.8 L110.5 528.2 L110.9 528.8 L111.2 529.5 L111.5 530.2 L111.5 531.2 L111.3 532.2 L111.1 532.8 L110.8 533.5 L110.2 534.0 L109.8 534.4 L109.0 534.8 M108.2 534.3 L107.4 534.2 L106.8 534.0 L106.2 533.7 L105.8 533.2 L105.2 532.4 L105.1 531.8 L105.0 530.8 L105.2 529.8 L105.5 529.2 L105.9 528.8 L106.5 528.2 L107.2 527.9 L108.2 527.8 L109.2 528.0 L109.8 528.3 L110.2 528.8 L110.8 529.7 L110.9 530.2 L111.0 531.2 L110.8 532.2 L110.5 532.8 L110.2 533.2 L109.7 533.8 L108.8 534.2 L108.2 534.3 M108.8 533.3 L107.8 533.5 L107.0 533.2 L106.3 532.8 L106.0 532.2 L105.8 531.6 L105.7 530.8 L105.8 530.2 L106.2 529.5 L106.8 529.0 L107.2 528.7 L108.2 528.5 L109.0 528.8 L109.6 529.2 L110.0 529.8 L110.2 530.7 L110.2 531.2 L109.9 532.2 L109.6 532.8 L108.9 533.2 M108.8 532.5 L107.8 532.8 L106.8 532.2 L106.5 531.8 L106.4 530.8 L106.8 529.9 L107.2 529.4 L107.8 529.2 L108.3 529.2 L109.2 529.8 L109.5 530.2 L109.6 531.2 L109.2 532.1 L108.8 532.5" fill="none" stroke="#000" stroke-width="0.9" stroke-linejoin="round"/><path d="M122.2 481.2h0.9v0.9h-0.9zM93.6 528.4h0.9v0.9h-0.9zM122.7 520.4h0.9v0.9h-0.9zM123.9 493.7h0.9v0.9h-0.9zM93.2 538.1h0.9v0.9h-0.9zM125.4 508.4h0.9v0.9h-0.9zM97.7 477.0h0.9v0.9h-0.9zM124.4 544.7h0.9v0.9h-0.9zM96.6 491.5h0.9v0.9h-0.9zM126.7 488.6h0.9v0.9h-0.9zM102.0 548.1h0.9v0.9h-0.9zM122.9 517.5h0.9v0.9h-0.9zM94.6 489.3h0.9v0.9h-0.9zM125.0 487.8h0.9v0.9h-0.9zM124.7 515.6h0.9v0.9h-0.9zM100.9 504.2h0.9v0.9h-0.9zM88.7 500.8h0.9v0.9h-0.9zM106.4 550.9h0.9v0.9h-0.9zM120.6 519.9h0.9v0.9h-0.9zM99.9 490.0h0.9v0.9h-0.9zM125.5 479.4h0.9v0.9h-0.9zM123.4 493.8h0.9v0.9h-0.9zM97.9 508.4h0.9v0.9h-0.9zM128.5 491.0h0.9v0.9h-0.9zM123.2 483.3h0.9v0.9h-0.9zM124.7 479.1h0.9v0.9h-0.9zM123.9 523.7h0.9v0.9h-0.9zM100.4 547.2h0.9v0.9h-0.9zM122.1 503.2h0.9v0.9h-0.9zM125.9 503.9h0.9v0.9h-0.9zM100.5 477.0h0.9v0.9h-0.9zM126.9 524.6h0.9v0.9h-0.9zM122.1 472.5h0.9v0.9h-0.9zM99.6 480.9h0.9v0.9h-0.9zM123.3 481.4h0.9v0.9h-0.9zM122.9 478.8h0.9v0.9h-0.9zM128.2 545.4h0.9v0.9h-0.9zM130.3 524.9h0.9v0.9h-0.9zM97.8 502.6h0.9v0.9h-0.9zM115.8 547.5h0.9v0.9h-0.9zM98.0 508.4h0.9v0.9h-0.9zM130.3 526.9h0.9v0.9h-0.9zM96.5 502.6h0.9v0.9h-0.9zM97.4 515.8h0.9v0.9h-0.9zM100.6 485.5h0.9v0.9h-0.9zM129.5 493.5h0.9v0.9h-0.9zM98.4 488.4h0.9v0.9h-0.9zM126.1 523.4h0.9v0.9h-0.9zM120.5 546.3h0.9v0.9h-0.9zM127.7 489.5h0.9v0.9h-0.9zM119.9 547.1h0.9v0.9h-0.9zM122.4 487.5h0.9v0.9h-0.9zM127.0 506.6h0.9v0.9h-0.9zM124.2 547.5h0.9v0.9h-0.9zM110.5 550.7h0.9v0.9h-0.9zM116.5 546.1h0.9v0.9h-0.9zM123.7 490.2h0.9v0.9h-0.9zM122.6 516.3h0.9v0.9h-0.9zM98.6 476.5h0.9v0.9h-0.9zM99.0 488.8h0.9v0.9h-0.9zM123.9 482.3h0.9v0.9h-0.9zM126.0 483.3h0.9v0.9h-0.9zM133.8 531.2h0.9v0.9h-0.9zM103.3 472.4h0.9v0.9h-0.9zM127.3 490.3h0.9v0.9h-0.9zM100.3 501.6h0.9v0.9h-0.9zM111.1 549.0h0.9v0.9h-0.9zM127.1 524.6h0.9v0.9h-0.9zM122.7 491.8h0.9v0.9h-0.9zM94.9 514.4h0.9v0.9h-0.9zM126.3 547.1h0.9v0.9h-0.9zM95.9 492.0h0.9v0.9h-0.9zM100.3 477.3h0.9v0.9h-0.9zM99.3 508.3h0.9v0.9h-0.9zM93.7 507.8h0.9v0.9h-0.9zM99.2 494.9h0.9v0.9h-0.9zM100.4 486.7h0.9v0.9h-0.9zM123.8 485.2h0.9v0.9h-0.9zM122.5 503.6h0.9v0.9h-0.9zM98.2 480.2h0.9v0.9h-0.9zM129.5 544.4h0.9v0.9h-0.9zM95.8 540.6h0.9v0.9h-0.9zM130.4 530.7h0.9v0.9h-0.9zM126.2 486.4h0.9v0.9h-0.9zM100.9 472.2h0.9v0.9h-0.9zM123.1 503.5h0.9v0.9h-0.9zM122.9 507.8h0.9v0.9h-0.9zM100.3 492.5h0.9v0.9h-0.9zM94.2 494.0h0.9v0.9h-0.9zM128.1 517.1h0.9v0.9h-0.9zM123.3 499.3h0.9v0.9h-0.9zM122.1 474.7h0.9v0.9h-0.9zM120.8 521.6h0.9v0.9h-0.9zM124.4 477.7h0.9v0.9h-0.9zM92.7 539.9h0.9v0.9h-0.9zM97.2 478.1h0.9v0.9h-0.9zM94.3 502.7h0.9v0.9h-0.9zM91.5 530.7h0.9v0.9h-0.9zM98.7 498.3h0.9v0.9h-0.9zM99.1 478.5h0.9v0.9h-0.9zM122.6 506.1h0.9v0.9h-0.9zM126.1 517.4h0.9v0.9h-0.9zM99.1 484.4h0.9v0.9h-0.9zM124.2 506.8h0.9v0.9h-0.9zM97.4 501.7h0.9v0.9h-0.9zM122.5 507.8h0.9v0.9h-0.9zM89.8 491.6h0.9v0.9h-0.9zM123.9 497.8h0.9v0.9h-0.9zM98.5 477.1h0.9v0.9h-0.9zM127.3 543.9h0.9v0.9h-0.9zM132.5 534.8h0.9v0.9h-0.9zM124.5 474.0h0.9v0.9h-0.9zM93.9 532.6h0.9v0.9h-0.9zM99.9 474.3h0.9v0.9h-0.9zM98.3 518.7h0.9v0.9h-0.9zM134.7 532.9h0.9v0.9h-0.9zM111.7 550.9h0.9v0.9h-0.9zM98.6 473.1h0.9v0.9h-0.9zM126.4 487.2h0.9v0.9h-0.9zM91.6 529.7h0.9v0.9h-0.9zM131.5 526.7h0.9v0.9h-0.9zM126.5 545.2h0.9v0.9h-0.9zM131.0 538.1h0.9v0.9h-0.9zM129.5 496.8h0.9v0.9h-0.9zM134.7 531.4h0.9v0.9h-0.9zM97.5 477.9h0.9v0.9h-0.9zM129.0 541.7h0.9v0.9h-0.9zM99.5 498.6h0.9v0.9h-0.9zM96.8 543.3h0.9v0.9h-0.9zM97.2 482.2h0.9v0.9h-0.9zM122.3 477.2h0.9v0.9h-0.9zM134.1 544.1h0.9v0.9h-0.9zM98.0 484.1h0.9v0.9h-0.9zM122.4 502.5h0.9v0.9h-0.9zM126.8 546.5h0.9v0.9h-0.9zM96.1 479.4h0.9v0.9h-0.9zM98.2 510.3h0.9v0.9h-0.9zM125.9 485.4h0.9v0.9h-0.9zM102.0 472.3h0.9v0.9h-0.9zM99.7 512.7h0.9v0.9h-0.9zM113.4 549.9h0.9v0.9h-0.9zM95.5 500.6h0.9v0.9h-0.9zM123.9 548.6h0.9v0.9h-0.9zM124.3 502.5h0.9v0.9h-0.9zM123.6 479.9h0.9v0.9h-0.9zM94.6 505.4h0.9v0.9h-0.9zM125.9 511.8h0.9v0.9h-0.9zM100.0 496.1h0.9v0.9h-0.9zM100.3 503.1h0.9v0.9h-0.9zM133.7 529.3h0.9v0.9h-0.9zM99.1 497.2h0.9v0.9h-0.9zM108.4 550.5h0.9v0.9h-0.9zM94.8 521.8h0.9v0.9h-0.9zM101.0 509.8h0.9v0.9h-0.9zM91.6 516.9h0.9v0.9h-0.9zM99.0 512.2h0.9v0.9h-0.9zM93.3 533.0h0.9v0.9h-0.9zM130.5 489.1h0.9v0.9h-0.9zM122.3 509.9h0.9v0.9h-0.9zM94.9 524.1h0.9v0.9h-0.9zM118.5 547.0h0.9v0.9h-0.9zM100.5 496.3h0.9v0.9h-0.9zM129.4 486.6h0.9v0.9h-0.9zM125.3 505.8h0.9v0.9h-0.9zM90.8 534.6h0.9v0.9h-0.9zM96.6 481.5h0.9v0.9h-0.9zM132.6 532.9h0.9v0.9h-0.9zM122.4 488.9h0.9v0.9h-0.9zM125.8 475.0h0.9v0.9h-0.9zM100.7 477.4h0.9v0.9h-0.9zM98.4 475.0h0.9v0.9h-0.9zM93.2 525.8h0.9v0.9h-0.9zM96.9 544.8h0.9v0.9h-0.9zM99.7 511.0h0.9v0.9h-0.9zM123.5 478.0h0.9v0.9h-0.9zM124.0 491.6h0.9v0.9h-0.9zM94.1 478.4h0.9v0.9h-0.9zM123.7 498.1h0.9v0.9h-0.9zM122.8 521.8h0.9v0.9h-0.9zM98.5 512.3h0.9v0.9h-0.9zM124.4 496.5h0.9v0.9h-0.9zM97.0 498.9h0.9v0.9h-0.9zM94.7 542.2h0.9v0.9h-0.9zM132.1 532.9h0.9v0.9h-0.9zM102.5 472.5h0.9v0.9h-0.9zM130.4 541.7h0.9v0.9h-0.9zM103.8 549.6h0.9v0.9h-0.9zM124.0 515.0h0.9v0.9h-0.9zM125.5 483.8h0.9v0.9h-0.9zM121.7 474.5h0.9v0.9h-0.9zM134.8 537.9h0.9v0.9h-0.9zM104.1 549.2h0.9v0.9h-0.9zM121.2 516.4h0.9v0.9h-0.9zM95.3 522.7h0.9v0.9h-0.9zM133.8 538.7h0.9v0.9h-0.9zM124.7 549.9h0.9v0.9h-0.9zM122.6 486.3h0.9v0.9h-0.9zM131.6 536.6h0.9v0.9h-0.9zM99.4 480.8h0.9v0.9h-0.9zM131.7 536.4h0.9v0.9h-0.9zM97.9 544.8h0.9v0.9h-0.9zM129.5 545.2h0.9v0.9h-0.9zM122.7 508.6h0.9v0.9h-0.9zM128.3 494.3h0.9v0.9h-0.9zM92.5 530.7h0.9v0.9h-0.9zM96.7 497.3h0.9v0.9h-0.9zM130.1 480.7h0.9v0.9h-0.9zM100.1 547.2h0.9v0.9h-0.9zM127.5 504.2h0.9v0.9h-0.9zM123.3 511.4h0.9v0.9h-0.9zM122.4 476.0h0.9v0.9h-0.9zM97.8 491.4h0.9v0.9h-0.9zM124.4 502.0h0.9v0.9h-0.9zM125.0 472.2h0.9v0.9h-0.9zM122.8 498.9h0.9v0.9h-0.9zM93.0 536.3h0.9v0.9h-0.9zM98.3 517.2h0.9v0.9h-0.9zM102.0 549.1h0.9v0.9h-0.9zM100.9 503.7h0.9v0.9h-0.9zM96.8 483.8h0.9v0.9h-0.9zM125.2 485.9h0.9v0.9h-0.9zM123.8 485.6h0.9v0.9h-0.9zM125.8 502.3h0.9v0.9h-0.9zM93.0 531.6h0.9v0.9h-0.9zM122.5 473.0h0.9v0.9h-0.9zM127.7 521.4h0.9v0.9h-0.9zM99.4 504.5h0.9v0.9h-0.9zM125.3 478.7h0.9v0.9h-0.9zM100.2 503.7h0.9v0.9h-0.9zM97.7 491.1h0.9v0.9h-0.9zM123.8 482.8h0.9v0.9h-0.9zM133.4 505.8h0.9v0.9h-0.9zM125.4 476.0h0.9v0.9h-0.9zM126.3 545.4h0.9v0.9h-0.9zM98.4 480.9h0.9v0.9h-0.9zM115.4 547.5h0.9v0.9h-0.9zM97.7 491.7h0.9v0.9h-0.9zM125.2 523.9h0.9v0.9h-0.9zM99.2 489.5h0.9v0.9h-0.9zM94.4 525.6h0.9v0.9h-0.9zM126.8 496.5h0.9v0.9h-0.9zM127.4 511.1h0.9v0.9h-0.9zM138.1 532.8h0.9v0.9h-0.9zM96.1 542.3h0.9v0.9h-0.9zM132.9 543.3h0.9v0.9h-0.9zM93.7 525.5h0.9v0.9h-0.9zM128.9 515.3h0.9v0.9h-0.9zM122.2 496.1h0.9v0.9h-0.9zM125.3 525.4h0.9v0.9h-0.9zM93.4 476.9h0.9v0.9h-0.9zM93.5 527.7h0.9v0.9h-0.9zM120.6 472.4h0.9v0.9h-0.9zM99.0 504.0h0.9v0.9h-0.9zM131.5 473.6h0.9v0.9h-0.9zM100.0 501.1h0.9v0.9h-0.9zM125.6 508.4h0.9v0.9h-0.9zM94.3 538.2h0.9v0.9h-0.9zM98.4 548.0h0.9v0.9h-0.9zM122.9 510.5h0.9v0.9h-0.9zM124.8 525.2h0.9v0.9h-0.9zM120.0 547.0h0.9v0.9h-0.9zM123.8 515.9h0.9v0.9h-0.9zM131.1 536.2h0.9v0.9h-0.9zM129.3 542.9h0.9v0.9h-0.9zM122.7 489.0h0.9v0.9h-0.9zM94.4 512.0h0.9v0.9h-0.9zM134.2 530.0h0.9v0.9h-0.9zM125.8 525.8h0.9v0.9h-0.9zM126.8 490.1h0.9v0.9h-0.9zM127.0 479.5h0.9v0.9h-0.9zM98.2 547.0h0.9v0.9h-0.9zM122.6 513.5h0.9v0.9h-0.9zM127.9 525.8h0.9v0.9h-0.9zM95.1 506.1h0.9v0.9h-0.9zM119.1 546.3h0.9v0.9h-0.9zM94.2 542.4h0.9v0.9h-0.9zM94.6 505.6h0.9v0.9h-0.9zM124.8 509.2h0.9v0.9h-0.9zM124.1 489.5h0.9v0.9h-0.9zM122.2 495.7h0.9v0.9h-0.9zM99.9 498.1h0.9v0.9h-0.9zM123.4 492.0h0.9v0.9h-0.9zM102.0 472.2h0.9v0.9h-0.9zM99.3 548.1h0.9v0.9h-0.9zM98.9 517.1h0.9v0.9h-0.9zM125.7 510.2h0.9v0.9h-0.9zM122.8 515.3h0.9v0.9h-0.9zM101.1 473.1h0.9v0.9h-0.9zM95.2 522.6h0.9v0.9h-0.9zM95.4 502.5h0.9v0.9h-0.9zM131.4 530.1h0.9v0.9h-0.9zM101.4 483.8h0.9v0.9h-0.9zM97.9 517.8h0.9v0.9h-0.9zM126.4 473.6h0.9v0.9h-0.9zM121.9 515.6h0.9v0.9h-0.9zM129.1 543.3h0.9v0.9h-0.9zM94.2 538.4h0.9v0.9h-0.9zM126.2 479.0h0.9v0.9h-0.9zM100.1 502.4h0.9v0.9h-0.9zM124.6 472.3h0.9v0.9h-0.9zM119.2 467.4h0.9v0.9h-0.9zM120.2 477.5h0.9v0.9h-0.9zM109.5 476.3h0.9v0.9h-0.9zM92.8 480.6h0.9v0.9h-0.9zM126.6 472.0h0.9v0.9h-0.9zM119.8 473.7h0.9v0.9h-0.9zM115.2 474.5h0.9v0.9h-0.9zM100.6 481.3h0.9v0.9h-0.9zM109.7 478.6h0.9v0.9h-0.9zM106.2 477.4h0.9v0.9h-0.9zM112.0 468.3h0.9v0.9h-0.9zM110.9 478.5h0.9v0.9h-0.9zM102.1 463.4h0.9v0.9h-0.9zM126.8 470.8h0.9v0.9h-0.9zM120.2 480.2h0.9v0.9h-0.9zM109.1 474.5h0.9v0.9h-0.9zM106.2 488.2h0.9v0.9h-0.9zM99.3 474.7h0.9v0.9h-0.9zM113.6 478.3h0.9v0.9h-0.9zM110.9 482.3h0.9v0.9h-0.9zM113.2 465.2h0.9v0.9h-0.9zM106.3 488.4h0.9v0.9h-0.9zM116.7 469.9h0.9v0.9h-0.9zM112.0 470.4h0.9v0.9h-0.9zM111.5 474.8h0.9v0.9h-0.9zM105.9 470.6h0.9v0.9h-0.9zM120.0 483.2h0.9v0.9h-0.9zM115.5 472.8h0.9v0.9h-0.9zM114.3 481.7h0.9v0.9h-0.9zM100.4 470.1h0.9v0.9h-0.9zM102.8 475.9h0.9v0.9h-0.9zM107.6 479.4h0.9v0.9h-0.9zM108.3 476.9h0.9v0.9h-0.9zM121.3 467.3h0.9v0.9h-0.9zM112.1 477.4h0.9v0.9h-0.9zM111.8 468.9h0.9v0.9h-0.9zM109.0 483.2h0.9v0.9h-0.9zM108.2 472.6h0.9v0.9h-0.9zM113.8 468.2h0.9v0.9h-0.9zM102.9 473.9h0.9v0.9h-0.9zM104.8 461.2h0.9v0.9h-0.9zM116.4 464.6h0.9v0.9h-0.9zM101.9 479.0h0.9v0.9h-0.9zM108.0 473.0h0.9v0.9h-0.9zM107.4 461.7h0.9v0.9h-0.9zM113.1 468.5h0.9v0.9h-0.9zM110.6 467.4h0.9v0.9h-0.9zM110.8 474.8h0.9v0.9h-0.9zM106.9 465.3h0.9v0.9h-0.9zM99.6 464.6h0.9v0.9h-0.9zM108.7 477.6h0.9v0.9h-0.9zM99.9 479.2h0.9v0.9h-0.9zM96.9 478.0h0.9v0.9h-0.9zM115.8 470.9h0.9v0.9h-0.9zM114.2 478.7h0.9v0.9h-0.9zM103.5 476.7h0.9v0.9h-0.9zM109.9 475.6h0.9v0.9h-0.9zM113.8 481.9h0.9v0.9h-0.9zM101.0 479.6h0.9v0.9h-0.9zM106.0 469.2h0.9v0.9h-0.9z" fill="#000" fill-opacity="0.9"/><rect x="179.3" y="432.3" width="120.0" height="120.19999999999999" fill="none" stroke="#555" stroke-width="1.1"/><line x1="179.3" y1="432.3" x2="179.3" y2="553.1" stroke="#1c2250" stroke-width="1.4" /><line x1="178.70000000000002" y1="552.5" x2="299.3" y2="552.5" stroke="#1c2250" stroke-width="1.4" /><line x1="176.70000000000002" y1="444.3" x2="179.3" y2="444.3" stroke="#333" stroke-width="0.8" /><line x1="176.70000000000002" y1="470.90000000000003" x2="179.3" y2="470.90000000000003" stroke="#333" stroke-width="0.8" /><line x1="176.70000000000002" y1="499.6" x2="179.3" y2="499.6" stroke="#333" stroke-width="0.8" /><line x1="176.70000000000002" y1="527.6" x2="179.3" y2="527.6" stroke="#333" stroke-width="0.8" /><line x1="176.70000000000002" y1="546.6" x2="179.3" y2="546.6" stroke="#333" stroke-width="0.8" /><rect x="176.9" y="536.1" width="2.4" height="2.2" fill="#1c2250"/><line x1="185.9" y1="552.5" x2="185.9" y2="555.5" stroke="#333" stroke-width="0.8" /><line x1="208.8" y1="552.5" x2="208.8" y2="555.5" stroke="#333" stroke-width="0.8" /><line x1="234.9" y1="552.5" x2="234.9" y2="555.5" stroke="#333" stroke-width="0.8" /><line x1="261.70000000000005" y1="552.5" x2="261.70000000000005" y2="555.5" stroke="#333" stroke-width="0.8" /><line x1="288.6" y1="552.5" x2="288.6" y2="555.5" stroke="#333" stroke-width="0.8" /><line x1="189.3" y1="552.5" x2="189.3" y2="553.8" stroke="#1c2250" stroke-width="0.6" /><line x1="192.3" y1="552.5" x2="192.3" y2="553.8" stroke="#1c2250" stroke-width="0.6" /><line x1="195.3" y1="552.5" x2="195.3" y2="553.8" stroke="#1c2250" stroke-width="0.6" /><line x1="198.3" y1="552.5" x2="198.3" y2="553.8" stroke="#1c2250" stroke-width="0.6" /><line x1="201.3" y1="552.5" x2="201.3" y2="553.8" stroke="#1c2250" stroke-width="0.6" /><line x1="204.3" y1="552.5" x2="204.3" y2="553.8" stroke="#1c2250" stroke-width="0.6" /><line x1="206.3" y1="552.5" x2="206.3" y2="553.8" stroke="#1c2250" stroke-width="0.6" /><line x1="213.3" y1="552.5" x2="213.3" y2="553.8" stroke="#1c2250" stroke-width="0.6" /><line x1="217.3" y1="552.5" x2="217.3" y2="553.8" stroke="#1c2250" stroke-width="0.6" /><line x1="221.3" y1="552.5" x2="221.3" y2="553.8" stroke="#1c2250" stroke-width="0.6" /><line x1="225.3" y1="552.5" x2="225.3" y2="553.8" stroke="#1c2250" stroke-width="0.6" /><line x1="228.3" y1="552.5" x2="228.3" y2="553.8" stroke="#1c2250" stroke-width="0.6" /><line x1="231.3" y1="552.5" x2="231.3" y2="553.8" stroke="#1c2250" stroke-width="0.6" /><line x1="233.3" y1="552.5" x2="233.3" y2="553.8" stroke="#1c2250" stroke-width="0.6" /><line x1="239.3" y1="552.5" x2="239.3" y2="553.8" stroke="#1c2250" stroke-width="0.6" /><line x1="243.3" y1="552.5" x2="243.3" y2="553.8" stroke="#1c2250" stroke-width="0.6" /><line x1="247.3" y1="552.5" x2="247.3" y2="553.8" stroke="#1c2250" stroke-width="0.6" /><line x1="251.3" y1="552.5" x2="251.3" y2="553.8" stroke="#1c2250" stroke-width="0.6" /><line x1="255.3" y1="552.5" x2="255.3" y2="553.8" stroke="#1c2250" stroke-width="0.6" /><line x1="258.3" y1="552.5" x2="258.3" y2="553.8" stroke="#1c2250" stroke-width="0.6" /><line x1="260.3" y1="552.5" x2="260.3" y2="553.8" stroke="#1c2250" stroke-width="0.6" /><line x1="266.3" y1="552.5" x2="266.3" y2="553.8" stroke="#1c2250" stroke-width="0.6" /><line x1="270.3" y1="552.5" x2="270.3" y2="553.8" stroke="#1c2250" stroke-width="0.6" /><line x1="274.3" y1="552.5" x2="274.3" y2="553.8" stroke="#1c2250" stroke-width="0.6" /><line x1="278.3" y1="552.5" x2="278.3" y2="553.8" stroke="#1c2250" stroke-width="0.6" /><line x1="282.3" y1="552.5" x2="282.3" y2="553.8" stroke="#1c2250" stroke-width="0.6" /><line x1="285.3" y1="552.5" x2="285.3" y2="553.8" stroke="#1c2250" stroke-width="0.6" /><line x1="287.3" y1="552.5" x2="287.3" y2="553.8" stroke="#1c2250" stroke-width="0.6" /><line x1="292.3" y1="552.5" x2="292.3" y2="553.8" stroke="#1c2250" stroke-width="0.6" /><line x1="295.3" y1="552.5" x2="295.3" y2="553.8" stroke="#1c2250" stroke-width="0.6" /><rect x="226.7" y="440.4" width="57.0" height="77.30000000000007" fill="none" stroke="#4050e8" stroke-width="1"/><path d="M255.8 540.8 L254.8 540.9 L254.1 540.8 L253.2 540.4 L252.8 540.2 L252.1 539.8 L251.5 539.2 L251.1 538.8 L250.6 538.2 L250.2 537.7 L249.8 536.9 L249.4 536.2 L249.2 535.8 L248.9 534.8 L248.6 533.8 L248.5 532.8 L248.5 531.8 L248.6 530.8 L248.7 529.8 L248.8 529.2 L249.1 528.2 L249.3 527.8 L249.8 526.8 L250.1 526.2 L250.4 525.8 L250.8 525.2 L251.2 524.7 L251.8 524.2 L252.5 523.8 L253.2 523.3 L253.8 523.1 L254.8 522.9 L255.8 522.8 L256.8 523.0 L257.6 523.2 L258.2 523.5 L258.8 523.9 L259.2 524.3 L259.8 524.8 L260.2 525.4 L260.8 526.1 L261.1 526.8 L261.4 527.2 L261.8 528.1 L262.0 528.8 L262.2 529.7 L262.4 530.2 L262.5 531.2 L262.4 532.2 L262.3 533.2 L262.2 533.8 L262.0 534.8 L261.8 535.4 L261.4 536.2 L261.1 536.8 L260.8 537.4 L260.2 538.1 L259.8 538.7 L259.2 539.1 L258.8 539.5 L258.2 539.9 L257.5 540.2 L256.8 540.6 L256.1 540.8Z" fill="#000" fill-opacity="0.09"/><path d="M256.8 539.4 L255.8 539.7 L254.8 539.7 L253.8 539.5 L253.2 539.2 L252.4 538.8 L251.8 538.2 L251.3 537.8 L251.0 537.2 L250.6 536.8 L250.2 536.1 L249.9 535.2 L249.7 534.8 L249.4 533.8 L249.2 532.8 L249.2 531.8 L249.3 531.2 L249.4 530.2 L249.6 529.2 L249.8 528.7 L250.1 527.8 L250.4 527.2 L250.8 526.6 L251.2 526.0 L251.8 525.4 L252.2 525.0 L252.8 524.6 L253.5 524.2 L254.2 524.0 L255.2 523.8 L256.2 523.8 L257.2 524.1 L257.8 524.3 L258.5 524.8 L259.1 525.2 L259.5 525.8 L259.9 526.2 L260.2 526.8 L260.8 527.7 L261.0 528.2 L261.2 528.8 L261.5 529.8 L261.7 530.8 L261.7 531.8 L261.7 532.8 L261.5 533.8 L261.2 534.5 L261.0 535.2 L260.7 535.8 L260.2 536.6 L259.8 537.2 L259.4 537.8 L258.8 538.2 L258.2 538.7 L257.8 539.0 L257.2 539.2Z" fill="#000" fill-opacity="0.09"/><path d="M256.8 538.3 L255.8 538.6 L254.8 538.6 L253.8 538.3 L253.2 538.1 L252.8 537.7 L252.2 537.2 L251.7 536.8 L251.2 536.1 L250.8 535.2 L250.6 534.8 L250.2 533.8 L250.1 532.8 L250.0 531.8 L250.1 530.8 L250.2 530.0 L250.4 529.2 L250.8 528.4 L251.1 527.8 L251.4 527.2 L251.8 526.8 L252.2 526.2 L252.8 525.8 L253.7 525.2 L254.2 525.0 L255.2 524.8 L256.2 524.8 L257.2 525.1 L257.8 525.4 L258.3 525.8 L258.8 526.2 L259.2 526.8 L259.8 527.5 L260.1 528.2 L260.4 528.8 L260.7 529.8 L260.8 530.2 L261.0 531.2 L260.9 532.2 L260.8 533.2 L260.6 533.8 L260.3 534.8 L260.0 535.2 L259.7 535.8 L259.2 536.5 L258.8 537.0 L258.2 537.5 L257.8 537.8 L256.9 538.2Z" fill="#000" fill-opacity="0.09"/><path d="M256.8 537.3 L255.8 537.6 L254.8 537.6 L253.8 537.3 L253.2 537.0 L252.8 536.7 L252.2 536.1 L251.8 535.4 L251.4 534.8 L251.2 534.2 L250.9 533.2 L250.8 532.2 L250.8 531.2 L251.0 530.2 L251.2 529.2 L251.4 528.8 L251.8 528.1 L252.2 527.4 L252.8 526.9 L253.2 526.5 L253.8 526.2 L254.8 525.8 L255.2 525.7 L256.2 525.7 L256.8 525.8 L257.5 526.2 L258.1 526.8 L258.6 527.2 L259.0 527.8 L259.3 528.2 L259.8 529.1 L260.0 529.8 L260.2 530.8 L260.3 531.8 L260.2 532.2 L260.0 533.2 L259.8 534.0 L259.4 534.8 L259.1 535.2 L258.8 535.8 L258.2 536.3 L257.8 536.8 L257.0 537.2Z" fill="#000" fill-opacity="0.09"/><path d="M255.8 536.8 L254.8 536.8 L254.2 536.7 L253.4 536.2 L252.8 535.8 L252.4 535.2 L252.1 534.8 L251.8 533.9 L251.5 533.2 L251.4 532.2 L251.4 531.2 L251.6 530.2 L251.8 529.8 L252.2 528.8 L252.5 528.2 L252.9 527.8 L253.5 527.2 L254.2 526.8 L254.8 526.6 L255.8 526.4 L256.8 526.7 L257.2 527.0 L257.8 527.3 L258.2 527.9 L258.8 528.6 L259.1 529.2 L259.3 529.8 L259.6 530.8 L259.6 531.8 L259.5 532.8 L259.2 533.6 L259.0 534.2 L258.7 534.8 L258.2 535.3 L257.8 535.9 L256.8 536.5 L256.2 536.8Z" fill="#000" fill-opacity="0.09"/><path d="M256.2 535.9 L255.2 536.1 L254.2 535.8 L253.8 535.5 L253.2 535.1 L252.8 534.4 L252.4 533.8 L252.1 532.8 L252.1 531.8 L252.2 530.8 L252.3 530.2 L252.8 529.3 L253.1 528.8 L253.5 528.2 L254.2 527.8 L254.8 527.5 L255.8 527.3 L256.8 527.6 L257.2 527.9 L257.8 528.4 L258.2 529.1 L258.6 529.8 L258.8 530.2 L258.9 531.2 L258.9 532.2 L258.8 532.9 L258.4 533.8 L258.2 534.2 L257.8 534.8 L257.2 535.3 L256.6 535.8Z" fill="#000" fill-opacity="0.09"/><path d="M255.8 535.3 L254.8 535.2 L254.2 535.0 L253.8 534.7 L253.2 534.0 L252.9 533.2 L252.8 532.6 L252.7 531.8 L252.9 530.8 L253.2 529.8 L253.6 529.2 L254.1 528.8 L254.8 528.3 L255.2 528.2 L256.2 528.2 L256.8 528.5 L257.2 528.9 L257.8 529.5 L258.1 530.2 L258.3 530.8 L258.3 531.8 L258.2 532.4 L258.0 533.2 L257.8 533.8 L257.2 534.4 L256.8 534.9 L255.9 535.2Z" fill="#000" fill-opacity="0.09"/><path d="M256.2 534.4 L255.2 534.7 L254.2 534.3 L253.8 533.8 L253.5 533.2 L253.3 532.2 L253.3 531.2 L253.7 530.2 L254.0 529.8 L254.6 529.2 L255.2 528.9 L256.2 529.0 L256.8 529.3 L257.2 529.9 L257.6 530.8 L257.8 531.8 L257.7 532.2 L257.4 533.2 L257.1 533.8 L256.6 534.2Z" fill="#000" fill-opacity="0.09"/><path d="M255.8 533.8 L255.1 533.8 L254.4 533.2 L254.1 532.8 L254.0 531.8 L254.2 531.0 L254.8 530.2 L255.8 529.9 L256.4 530.2 L256.8 530.8 L257.0 531.8 L256.8 532.8 L256.5 533.2 L255.8 533.8Z" fill="#000" fill-opacity="0.09"/><path d="M258.2 550.3 L257.2 550.5 L256.2 550.6 L255.2 550.7 L254.2 550.7 L253.2 550.7 L252.2 550.6 L251.2 550.5 L250.2 550.3 L249.8 550.1 L248.8 549.8 L248.2 549.5 L247.6 549.2 L246.8 548.8 L246.2 548.6 L245.7 548.2 L245.0 547.8 L244.3 547.2 L243.8 546.8 L243.4 546.2 L243.0 545.8 L242.8 545.2 L242.3 544.2 L242.1 543.8 L241.9 542.8 L241.8 541.8 L241.8 540.8 L241.8 539.8 L241.8 538.9 L241.7 538.2 L241.5 537.2 L241.4 536.2 L241.3 535.2 L241.2 534.2 L241.1 533.2 L241.1 532.2 L241.1 531.2 L241.2 530.5 L241.4 529.8 L241.7 528.8 L241.8 528.2 L242.0 527.2 L242.2 526.2 L242.3 525.8 L242.5 524.8 L242.8 524.0 L243.0 523.2 L243.2 522.4 L243.5 521.8 L243.7 520.8 L243.8 520.2 L243.9 519.2 L243.9 518.2 L243.9 517.2 L244.0 516.2 L243.9 515.2 L243.8 514.2 L243.6 513.8 L243.4 512.8 L243.3 511.8 L243.2 511.2 L243.1 510.2 L243.0 509.2 L243.0 508.2 L243.0 507.2 L243.0 506.2 L243.1 505.2 L243.2 504.3 L243.4 503.8 L243.6 502.8 L243.8 501.9 L243.8 501.2 L244.1 500.2 L244.2 499.5 L244.4 498.8 L244.5 497.8 L244.5 496.8 L244.7 495.8 L244.9 495.2 L245.2 494.5 L245.6 493.8 L245.8 493.2 L246.1 492.2 L246.2 491.6 L246.4 490.8 L246.6 489.8 L246.8 489.2 L247.1 488.2 L247.4 487.8 L247.8 486.9 L248.0 486.2 L247.9 485.2 L247.8 484.3 L247.7 483.8 L247.8 483.2 L248.0 482.2 L248.2 481.3 L248.5 480.8 L248.8 480.0 L249.0 479.2 L249.1 478.2 L249.1 477.2 L249.2 476.4 L249.5 475.8 L249.8 475.2 L250.2 474.7 L250.9 474.2 L251.8 473.9 L252.3 473.8 L253.2 473.6 L254.2 473.7 L254.8 473.8 L255.8 473.9 L256.8 474.0 L257.8 474.1 L258.4 474.2 L259.2 474.5 L259.9 474.8 L260.5 475.2 L260.8 475.8 L260.9 476.8 L260.8 477.8 L260.9 478.8 L261.2 479.8 L261.4 480.2 L261.7 481.2 L261.8 481.8 L261.9 482.8 L261.9 483.8 L262.1 484.8 L262.2 485.5 L262.5 486.2 L262.7 487.2 L262.9 487.8 L263.1 488.8 L263.2 489.8 L263.3 490.2 L263.5 491.2 L263.8 491.9 L264.1 492.8 L264.3 493.2 L264.8 494.2 L264.9 494.8 L265.2 495.8 L265.2 496.4 L265.4 497.2 L265.6 498.2 L265.8 498.8 L266.2 499.7 L266.5 500.2 L266.7 501.2 L266.8 501.9 L266.8 502.8 L266.9 503.8 L267.1 504.8 L267.2 505.4 L267.3 506.2 L267.3 507.2 L267.2 507.8 L267.0 508.8 L266.8 509.8 L266.7 510.2 L266.7 511.2 L266.6 512.2 L266.5 513.2 L266.4 514.2 L266.4 515.2 L266.4 516.2 L266.4 517.2 L266.5 518.2 L266.5 519.2 L266.6 520.2 L266.7 521.2 L266.9 521.8 L267.1 522.8 L267.3 523.2 L267.6 524.2 L267.8 524.8 L268.1 525.8 L268.2 526.4 L268.4 527.2 L268.6 528.2 L268.7 529.2 L268.8 530.0 L268.9 530.8 L269.0 531.8 L269.0 532.8 L269.0 533.8 L268.9 534.8 L268.8 535.3 L268.6 536.2 L268.4 537.2 L268.2 538.0 L268.1 538.8 L268.0 539.8 L267.8 540.8 L267.7 541.2 L267.5 542.2 L267.2 542.8 L266.9 543.8 L266.6 544.2 L266.2 544.9 L265.8 545.6 L265.2 546.2 L264.8 546.8 L264.3 547.2 L263.8 547.7 L263.2 548.0 L262.8 548.3 L262.0 548.8 L261.2 549.1 L260.8 549.4 L260.0 549.8 L259.2 550.1 L258.6 550.2 M258.2 548.9 L257.2 549.0 L256.2 549.1 L255.2 549.2 L254.2 549.2 L253.2 549.1 L252.2 549.0 L251.2 548.9 L250.6 548.8 L249.8 548.5 L249.2 548.2 L248.2 547.8 L247.8 547.5 L247.2 547.2 L246.6 546.8 L246.1 546.2 L245.7 545.8 L245.2 545.1 L244.9 544.2 L244.7 543.8 L244.4 542.8 L244.2 542.1 L244.0 541.2 L243.9 540.2 L243.8 539.5 L243.6 538.8 L243.4 537.8 L243.2 537.1 L243.1 536.2 L242.9 535.2 L242.8 534.2 L242.8 533.2 L242.7 532.8 L242.7 531.8 L242.8 531.2 L242.8 530.2 L243.0 529.2 L243.2 528.2 L243.3 527.8 L243.6 526.8 L243.8 525.9 L243.9 525.2 L244.2 524.2 L244.4 523.8 L244.8 523.0 L245.1 522.2 L245.4 521.8 L245.8 521.0 L246.0 520.2 L246.2 519.5 L246.4 518.8 L246.5 517.8 L246.7 516.8 L246.8 516.2 L247.0 515.2 L247.1 514.2 L247.1 513.2 L246.9 512.2 L247.0 511.2 L247.1 510.2 L247.1 509.2 L246.9 508.2 L246.8 507.2 L246.7 506.8 L246.6 505.8 L246.8 504.8 L246.9 503.8 L247.0 502.8 L247.1 501.8 L247.2 501.2 L247.5 500.2 L247.8 499.6 L248.1 498.8 L248.3 498.2 L248.8 497.4 L249.1 496.8 L249.4 496.2 L249.8 495.7 L250.2 494.8 L250.6 494.2 L250.8 493.8 L251.2 492.8 L251.2 492.2 L251.4 491.2 L251.8 490.6 L252.2 490.2 L253.2 489.9 L254.2 489.9 L255.2 490.0 L255.8 490.2 L256.5 490.8 L257.0 491.2 L257.6 491.8 L258.1 492.2 L258.7 492.8 L259.2 493.2 L259.5 493.8 L259.8 494.2 L260.2 495.1 L260.6 495.8 L261.0 496.2 L261.3 496.8 L261.8 497.4 L262.2 498.2 L262.5 498.8 L262.8 499.5 L262.9 500.2 L263.0 501.2 L263.0 502.2 L263.1 503.2 L263.2 503.8 L263.4 504.8 L263.5 505.8 L263.5 506.8 L263.4 507.8 L263.3 508.8 L263.3 509.8 L263.2 510.3 L263.2 511.2 L263.1 512.2 L263.0 513.2 L262.9 514.2 L263.1 515.2 L263.2 515.8 L263.5 516.8 L263.8 517.5 L264.0 518.2 L264.2 519.2 L264.4 519.8 L264.8 520.6 L265.0 521.2 L265.2 521.9 L265.6 522.8 L265.8 523.2 L266.1 524.2 L266.3 524.8 L266.7 525.8 L266.8 526.2 L267.1 527.2 L267.2 527.9 L267.4 528.8 L267.6 529.8 L267.7 530.8 L267.7 531.8 L267.8 532.2 L267.8 533.1 L267.7 533.8 L267.6 534.8 L267.4 535.8 L267.2 536.3 L267.0 537.2 L266.8 538.2 L266.7 538.8 L266.4 539.8 L266.2 540.2 L265.9 541.2 L265.7 541.8 L265.3 542.8 L265.1 543.2 L264.8 544.0 L264.3 544.8 L263.9 545.2 L263.5 545.8 L263.1 546.2 L262.5 546.8 L261.8 547.2 L261.2 547.6 L260.8 547.8 L260.0 548.2 L259.2 548.6 L258.7 548.8 M254.8 510.7 L253.8 510.5 L253.2 510.0 L252.8 509.2 L252.6 508.8 L252.5 507.8 L252.6 506.8 L252.9 505.8 L253.1 504.8 L253.2 503.9 L253.5 503.2 L254.0 502.8 L254.8 502.4 L255.7 502.8 L256.0 503.2 L256.2 503.8 L256.5 504.8 L256.8 505.7 L256.8 506.2 L256.9 507.2 L256.8 508.2 L256.5 508.8 L256.2 509.2 L255.8 509.8 L255.2 510.2 M257.8 547.3 L256.8 547.5 L255.8 547.5 L254.8 547.6 L253.8 547.5 L252.8 547.4 L251.8 547.3 L251.2 547.2 L250.2 546.8 L249.8 546.5 L249.2 546.2 L248.6 545.8 L248.0 545.2 L247.6 544.8 L247.2 544.2 L246.8 543.2 L246.6 542.8 L246.3 541.8 L246.2 541.2 L245.9 540.2 L245.7 539.8 L245.4 538.8 L245.2 538.2 L245.0 537.2 L244.8 536.4 L244.6 535.8 L244.4 534.8 L244.3 533.8 L244.3 532.8 L244.2 532.2 L244.2 531.6 L244.3 530.8 L244.4 529.8 L244.5 528.8 L244.8 527.8 L244.9 527.2 L245.2 526.2 L245.3 525.8 L245.7 524.8 L245.9 524.2 L246.2 523.6 L246.7 522.8 L247.1 522.2 L247.4 521.8 L247.8 521.1 L248.2 520.2 L248.5 519.8 L248.8 519.2 L249.2 518.3 L249.6 517.8 L250.0 517.2 L250.4 516.8 L250.8 516.2 L251.2 515.6 L251.8 515.0 L252.2 514.5 L252.8 513.9 L253.2 513.4 L253.7 512.8 L254.2 512.2 L254.8 511.8 L255.6 512.2 L256.2 512.7 L256.8 513.2 L257.2 513.7 L257.7 514.2 L258.0 514.8 L258.4 515.2 L258.8 515.8 L259.3 516.2 L259.8 516.8 L260.3 517.2 L260.8 517.9 L261.2 518.5 L261.7 519.2 L262.1 519.8 L262.4 520.2 L262.8 520.8 L263.2 521.5 L263.7 522.2 L263.9 522.8 L264.2 523.4 L264.6 524.2 L264.9 524.8 L265.2 525.7 L265.5 526.2 L265.8 527.2 L265.9 527.8 L266.1 528.8 L266.2 529.5 L266.4 530.2 L266.4 531.2 L266.5 532.2 L266.4 533.2 L266.3 534.2 L266.2 534.8 L266.0 535.8 L265.8 536.8 L265.7 537.2 L265.3 538.2 L265.2 538.8 L264.8 539.7 L264.5 540.2 L264.2 540.8 L263.8 541.8 L263.6 542.2 L263.2 542.9 L262.8 543.7 L262.4 544.2 L262.0 544.8 L261.5 545.2 L260.9 545.8 L260.2 546.2 L259.8 546.5 L259.2 546.8 L258.2 547.2 L257.8 547.3 M257.2 544.5 L256.2 544.7 L255.2 544.8 L254.2 544.7 L253.2 544.5 L252.6 544.2 L251.8 543.9 L251.2 543.6 L250.8 543.2 L250.2 542.7 L249.8 542.0 L249.3 541.2 L249.0 540.8 L248.7 540.2 L248.2 539.4 L247.9 538.8 L247.7 538.2 L247.2 537.3 L247.1 536.8 L246.8 535.8 L246.6 535.2 L246.4 534.2 L246.3 533.2 L246.2 532.5 L246.2 531.8 L246.3 531.2 L246.3 530.2 L246.5 529.2 L246.7 528.2 L246.8 527.8 L247.2 526.8 L247.4 526.2 L247.8 525.5 L248.2 524.8 L248.5 524.2 L248.8 523.8 L249.2 523.1 L249.8 522.5 L250.2 522.0 L250.8 521.5 L251.2 521.1 L251.8 520.7 L252.5 520.2 L253.2 519.9 L253.8 519.7 L254.8 519.5 L255.8 519.4 L256.8 519.6 L257.2 519.8 L258.2 520.2 L258.8 520.5 L259.2 520.8 L259.8 521.2 L260.4 521.8 L260.9 522.2 L261.3 522.8 L261.8 523.3 L262.2 524.0 L262.7 524.8 L262.9 525.2 L263.2 525.9 L263.6 526.8 L263.8 527.2 L264.1 528.2 L264.2 528.8 L264.4 529.8 L264.5 530.8 L264.6 531.8 L264.5 532.8 L264.4 533.8 L264.3 534.8 L264.2 535.2 L263.9 536.2 L263.7 536.8 L263.3 537.8 L263.1 538.2 L262.8 538.9 L262.2 539.7 L261.9 540.2 L261.5 540.8 L261.2 541.2 L260.7 541.8 L260.2 542.2 L259.7 542.8 L259.2 543.2 L258.5 543.8 L257.8 544.2 L257.2 544.5 M256.8 542.3 L255.8 542.5 L254.8 542.6 L253.8 542.4 L253.2 542.2 L252.4 541.8 L251.8 541.3 L251.2 540.8 L250.8 540.3 L250.3 539.8 L249.9 539.2 L249.6 538.8 L249.2 538.2 L248.8 537.3 L248.5 536.8 L248.2 536.1 L248.0 535.2 L247.8 534.4 L247.6 533.8 L247.5 532.8 L247.5 531.8 L247.6 530.8 L247.7 529.8 L247.8 529.2 L248.0 528.2 L248.2 527.6 L248.6 526.8 L248.9 526.2 L249.2 525.6 L249.8 524.8 L250.2 524.2 L250.6 523.8 L251.1 523.2 L251.8 522.8 L252.6 522.2 L253.2 521.9 L253.8 521.8 L254.8 521.5 L255.8 521.5 L256.8 521.7 L257.2 521.8 L258.2 522.2 L258.8 522.5 L259.2 522.8 L259.8 523.2 L260.3 523.8 L260.8 524.3 L261.2 525.0 L261.7 525.8 L262.0 526.2 L262.2 526.8 L262.7 527.8 L262.8 528.2 L263.1 529.2 L263.2 530.0 L263.3 530.8 L263.4 531.8 L263.3 532.8 L263.2 533.2 L263.1 534.2 L262.8 535.2 L262.7 535.8 L262.3 536.8 L262.1 537.2 L261.8 537.9 L261.2 538.7 L260.8 539.2 L260.4 539.8 L259.9 540.2 L259.3 540.8 L258.8 541.2 L258.2 541.5 L257.8 541.8 L256.9 542.2 M255.8 540.8 L254.8 540.9 L254.1 540.8 L253.2 540.4 L252.8 540.2 L252.1 539.8 L251.5 539.2 L251.1 538.8 L250.6 538.2 L250.2 537.7 L249.8 536.9 L249.4 536.2 L249.2 535.8 L248.9 534.8 L248.6 533.8 L248.5 532.8 L248.5 531.8 L248.6 530.8 L248.7 529.8 L248.8 529.2 L249.1 528.2 L249.3 527.8 L249.8 526.8 L250.1 526.2 L250.4 525.8 L250.8 525.2 L251.2 524.7 L251.8 524.2 L252.5 523.8 L253.2 523.3 L253.8 523.1 L254.8 522.9 L255.8 522.8 L256.8 523.0 L257.6 523.2 L258.2 523.5 L258.8 523.9 L259.2 524.3 L259.8 524.8 L260.2 525.4 L260.8 526.1 L261.1 526.8 L261.4 527.2 L261.8 528.1 L262.0 528.8 L262.2 529.7 L262.4 530.2 L262.5 531.2 L262.4 532.2 L262.3 533.2 L262.2 533.8 L262.0 534.8 L261.8 535.4 L261.4 536.2 L261.1 536.8 L260.8 537.4 L260.2 538.1 L259.8 538.7 L259.2 539.1 L258.8 539.5 L258.2 539.9 L257.5 540.2 L256.8 540.6 L256.1 540.8 M256.8 539.4 L255.8 539.7 L254.8 539.7 L253.8 539.5 L253.2 539.2 L252.4 538.8 L251.8 538.2 L251.3 537.8 L251.0 537.2 L250.6 536.8 L250.2 536.1 L249.9 535.2 L249.7 534.8 L249.4 533.8 L249.2 532.8 L249.2 531.8 L249.3 531.2 L249.4 530.2 L249.6 529.2 L249.8 528.7 L250.1 527.8 L250.4 527.2 L250.8 526.6 L251.2 526.0 L251.8 525.4 L252.2 525.0 L252.8 524.6 L253.5 524.2 L254.2 524.0 L255.2 523.8 L256.2 523.8 L257.2 524.1 L257.8 524.3 L258.5 524.8 L259.1 525.2 L259.5 525.8 L259.9 526.2 L260.2 526.8 L260.8 527.7 L261.0 528.2 L261.2 528.8 L261.5 529.8 L261.7 530.8 L261.7 531.8 L261.7 532.8 L261.5 533.8 L261.2 534.5 L261.0 535.2 L260.7 535.8 L260.2 536.6 L259.8 537.2 L259.4 537.8 L258.8 538.2 L258.2 538.7 L257.8 539.0 L257.2 539.2 M256.8 538.3 L255.8 538.6 L254.8 538.6 L253.8 538.3 L253.2 538.1 L252.8 537.7 L252.2 537.2 L251.7 536.8 L251.2 536.1 L250.8 535.2 L250.6 534.8 L250.2 533.8 L250.1 532.8 L250.0 531.8 L250.1 530.8 L250.2 530.0 L250.4 529.2 L250.8 528.4 L251.1 527.8 L251.4 527.2 L251.8 526.8 L252.2 526.2 L252.8 525.8 L253.7 525.2 L254.2 525.0 L255.2 524.8 L256.2 524.8 L257.2 525.1 L257.8 525.4 L258.3 525.8 L258.8 526.2 L259.2 526.8 L259.8 527.5 L260.1 528.2 L260.4 528.8 L260.7 529.8 L260.8 530.2 L261.0 531.2 L260.9 532.2 L260.8 533.2 L260.6 533.8 L260.3 534.8 L260.0 535.2 L259.7 535.8 L259.2 536.5 L258.8 537.0 L258.2 537.5 L257.8 537.8 L256.9 538.2 M256.8 537.3 L255.8 537.6 L254.8 537.6 L253.8 537.3 L253.2 537.0 L252.8 536.7 L252.2 536.1 L251.8 535.4 L251.4 534.8 L251.2 534.2 L250.9 533.2 L250.8 532.2 L250.8 531.2 L251.0 530.2 L251.2 529.2 L251.4 528.8 L251.8 528.1 L252.2 527.4 L252.8 526.9 L253.2 526.5 L253.8 526.2 L254.8 525.8 L255.2 525.7 L256.2 525.7 L256.8 525.8 L257.5 526.2 L258.1 526.8 L258.6 527.2 L259.0 527.8 L259.3 528.2 L259.8 529.1 L260.0 529.8 L260.2 530.8 L260.3 531.8 L260.2 532.2 L260.0 533.2 L259.8 534.0 L259.4 534.8 L259.1 535.2 L258.8 535.8 L258.2 536.3 L257.8 536.8 L257.0 537.2 M255.8 536.8 L254.8 536.8 L254.2 536.7 L253.4 536.2 L252.8 535.8 L252.4 535.2 L252.1 534.8 L251.8 533.9 L251.5 533.2 L251.4 532.2 L251.4 531.2 L251.6 530.2 L251.8 529.8 L252.2 528.8 L252.5 528.2 L252.9 527.8 L253.5 527.2 L254.2 526.8 L254.8 526.6 L255.8 526.4 L256.8 526.7 L257.2 527.0 L257.8 527.3 L258.2 527.9 L258.8 528.6 L259.1 529.2 L259.3 529.8 L259.6 530.8 L259.6 531.8 L259.5 532.8 L259.2 533.6 L259.0 534.2 L258.7 534.8 L258.2 535.3 L257.8 535.9 L256.8 536.5 L256.2 536.8 M256.2 535.9 L255.2 536.1 L254.2 535.8 L253.8 535.5 L253.2 535.1 L252.8 534.4 L252.4 533.8 L252.1 532.8 L252.1 531.8 L252.2 530.8 L252.3 530.2 L252.8 529.3 L253.1 528.8 L253.5 528.2 L254.2 527.8 L254.8 527.5 L255.8 527.3 L256.8 527.6 L257.2 527.9 L257.8 528.4 L258.2 529.1 L258.6 529.8 L258.8 530.2 L258.9 531.2 L258.9 532.2 L258.8 532.9 L258.4 533.8 L258.2 534.2 L257.8 534.8 L257.2 535.3 L256.6 535.8 M255.8 535.3 L254.8 535.2 L254.2 535.0 L253.8 534.7 L253.2 534.0 L252.9 533.2 L252.8 532.6 L252.7 531.8 L252.9 530.8 L253.2 529.8 L253.6 529.2 L254.1 528.8 L254.8 528.3 L255.2 528.2 L256.2 528.2 L256.8 528.5 L257.2 528.9 L257.8 529.5 L258.1 530.2 L258.3 530.8 L258.3 531.8 L258.2 532.4 L258.0 533.2 L257.8 533.8 L257.2 534.4 L256.8 534.9 L255.9 535.2 M256.2 534.4 L255.2 534.7 L254.2 534.3 L253.8 533.8 L253.5 533.2 L253.3 532.2 L253.3 531.2 L253.7 530.2 L254.0 529.8 L254.6 529.2 L255.2 528.9 L256.2 529.0 L256.8 529.3 L257.2 529.9 L257.6 530.8 L257.8 531.8 L257.7 532.2 L257.4 533.2 L257.1 533.8 L256.6 534.2 M255.8 533.8 L255.1 533.8 L254.4 533.2 L254.1 532.8 L254.0 531.8 L254.2 531.0 L254.8 530.2 L255.8 529.9 L256.4 530.2 L256.8 530.8 L257.0 531.8 L256.8 532.8 L256.5 533.2 L255.8 533.8" fill="none" stroke="#000" stroke-width="0.9" stroke-linejoin="round"/><path d="M268.3 538.0h0.9v0.9h-0.9zM270.4 503.8h0.9v0.9h-0.9zM263.0 486.0h0.9v0.9h-0.9zM269.9 506.9h0.9v0.9h-0.9zM251.9 550.8h0.9v0.9h-0.9zM266.8 518.7h0.9v0.9h-0.9zM245.3 489.3h0.9v0.9h-0.9zM260.3 474.7h0.9v0.9h-0.9zM243.2 519.8h0.9v0.9h-0.9zM245.8 480.5h0.9v0.9h-0.9zM239.8 541.2h0.9v0.9h-0.9zM246.8 479.1h0.9v0.9h-0.9zM269.6 534.7h0.9v0.9h-0.9zM238.5 499.9h0.9v0.9h-0.9zM268.5 547.4h0.9v0.9h-0.9zM247.0 481.9h0.9v0.9h-0.9zM246.4 483.9h0.9v0.9h-0.9zM245.2 475.9h0.9v0.9h-0.9zM237.6 499.8h0.9v0.9h-0.9zM245.1 488.7h0.9v0.9h-0.9zM267.8 477.1h0.9v0.9h-0.9zM246.0 473.2h0.9v0.9h-0.9zM239.0 501.4h0.9v0.9h-0.9zM261.0 549.2h0.9v0.9h-0.9zM239.9 537.1h0.9v0.9h-0.9zM263.5 480.5h0.9v0.9h-0.9zM243.8 482.3h0.9v0.9h-0.9zM265.0 489.2h0.9v0.9h-0.9zM269.3 510.6h0.9v0.9h-0.9zM268.4 510.9h0.9v0.9h-0.9zM238.6 532.3h0.9v0.9h-0.9zM239.2 532.2h0.9v0.9h-0.9zM270.4 487.9h0.9v0.9h-0.9zM248.1 477.1h0.9v0.9h-0.9zM268.9 543.4h0.9v0.9h-0.9zM241.8 502.9h0.9v0.9h-0.9zM267.5 546.5h0.9v0.9h-0.9zM269.9 475.0h0.9v0.9h-0.9zM238.5 489.7h0.9v0.9h-0.9zM239.2 494.2h0.9v0.9h-0.9zM245.7 489.6h0.9v0.9h-0.9zM271.5 504.9h0.9v0.9h-0.9zM257.1 550.7h0.9v0.9h-0.9zM275.6 482.7h0.9v0.9h-0.9zM272.2 533.8h0.9v0.9h-0.9zM273.0 512.4h0.9v0.9h-0.9zM241.4 510.0h0.9v0.9h-0.9zM266.1 545.5h0.9v0.9h-0.9zM240.6 489.4h0.9v0.9h-0.9zM242.8 474.8h0.9v0.9h-0.9zM264.0 473.3h0.9v0.9h-0.9zM268.6 497.3h0.9v0.9h-0.9zM271.5 516.7h0.9v0.9h-0.9zM262.7 478.1h0.9v0.9h-0.9zM241.1 507.5h0.9v0.9h-0.9zM241.3 530.5h0.9v0.9h-0.9zM263.6 485.6h0.9v0.9h-0.9zM243.4 495.9h0.9v0.9h-0.9zM235.6 519.6h0.9v0.9h-0.9zM270.6 536.1h0.9v0.9h-0.9zM261.7 474.9h0.9v0.9h-0.9zM268.2 514.1h0.9v0.9h-0.9zM246.9 479.8h0.9v0.9h-0.9zM268.6 495.0h0.9v0.9h-0.9zM242.8 522.8h0.9v0.9h-0.9zM268.2 476.7h0.9v0.9h-0.9zM267.1 485.9h0.9v0.9h-0.9zM263.8 489.7h0.9v0.9h-0.9zM243.9 494.4h0.9v0.9h-0.9zM244.3 547.7h0.9v0.9h-0.9zM272.7 473.3h0.9v0.9h-0.9zM264.0 487.8h0.9v0.9h-0.9zM271.5 498.4h0.9v0.9h-0.9zM267.6 499.8h0.9v0.9h-0.9zM268.0 482.3h0.9v0.9h-0.9zM244.4 473.8h0.9v0.9h-0.9zM240.4 523.7h0.9v0.9h-0.9zM239.6 498.5h0.9v0.9h-0.9zM268.0 521.0h0.9v0.9h-0.9zM242.6 488.9h0.9v0.9h-0.9zM246.1 488.8h0.9v0.9h-0.9zM263.9 480.4h0.9v0.9h-0.9zM278.1 482.6h0.9v0.9h-0.9zM254.5 551.1h0.9v0.9h-0.9zM241.3 507.3h0.9v0.9h-0.9zM267.5 500.6h0.9v0.9h-0.9zM247.0 549.2h0.9v0.9h-0.9zM263.7 484.0h0.9v0.9h-0.9zM266.8 548.2h0.9v0.9h-0.9zM264.4 475.0h0.9v0.9h-0.9zM260.3 475.0h0.9v0.9h-0.9zM267.1 495.0h0.9v0.9h-0.9zM271.6 479.4h0.9v0.9h-0.9zM242.9 494.7h0.9v0.9h-0.9zM265.3 482.3h0.9v0.9h-0.9zM264.8 548.8h0.9v0.9h-0.9zM268.3 503.6h0.9v0.9h-0.9zM242.8 507.9h0.9v0.9h-0.9zM268.8 512.6h0.9v0.9h-0.9zM241.5 516.1h0.9v0.9h-0.9zM268.2 540.9h0.9v0.9h-0.9zM262.5 476.7h0.9v0.9h-0.9zM270.1 543.9h0.9v0.9h-0.9zM269.1 502.1h0.9v0.9h-0.9zM263.2 489.3h0.9v0.9h-0.9zM245.1 548.3h0.9v0.9h-0.9zM241.2 506.3h0.9v0.9h-0.9zM241.7 543.5h0.9v0.9h-0.9zM270.0 545.8h0.9v0.9h-0.9zM235.9 508.5h0.9v0.9h-0.9zM241.6 506.5h0.9v0.9h-0.9zM263.5 477.8h0.9v0.9h-0.9zM247.9 477.8h0.9v0.9h-0.9zM268.3 505.5h0.9v0.9h-0.9zM251.0 473.6h0.9v0.9h-0.9zM248.3 481.4h0.9v0.9h-0.9zM272.3 514.3h0.9v0.9h-0.9zM263.6 486.2h0.9v0.9h-0.9zM267.4 499.4h0.9v0.9h-0.9zM238.5 536.3h0.9v0.9h-0.9zM270.0 542.8h0.9v0.9h-0.9zM240.2 517.1h0.9v0.9h-0.9zM263.4 487.1h0.9v0.9h-0.9zM267.1 516.5h0.9v0.9h-0.9zM268.5 511.7h0.9v0.9h-0.9zM241.3 498.7h0.9v0.9h-0.9zM268.5 501.8h0.9v0.9h-0.9zM237.8 497.5h0.9v0.9h-0.9zM275.2 519.8h0.9v0.9h-0.9zM242.5 500.6h0.9v0.9h-0.9zM268.0 519.4h0.9v0.9h-0.9zM234.9 503.7h0.9v0.9h-0.9zM268.6 525.5h0.9v0.9h-0.9zM267.9 492.5h0.9v0.9h-0.9zM234.9 544.4h0.9v0.9h-0.9zM241.3 496.2h0.9v0.9h-0.9zM273.6 489.3h0.9v0.9h-0.9zM262.3 476.0h0.9v0.9h-0.9zM270.9 521.2h0.9v0.9h-0.9zM247.0 483.2h0.9v0.9h-0.9zM246.5 484.3h0.9v0.9h-0.9zM242.4 518.4h0.9v0.9h-0.9zM244.3 480.1h0.9v0.9h-0.9zM261.9 480.3h0.9v0.9h-0.9zM258.9 474.2h0.9v0.9h-0.9zM267.7 509.1h0.9v0.9h-0.9zM238.3 543.8h0.9v0.9h-0.9zM269.6 500.9h0.9v0.9h-0.9zM270.0 486.8h0.9v0.9h-0.9zM276.1 478.1h0.9v0.9h-0.9zM245.1 491.3h0.9v0.9h-0.9zM274.5 511.3h0.9v0.9h-0.9zM242.4 546.4h0.9v0.9h-0.9zM267.0 551.2h0.9v0.9h-0.9zM271.1 506.7h0.9v0.9h-0.9zM240.7 504.7h0.9v0.9h-0.9zM240.1 493.2h0.9v0.9h-0.9zM244.1 498.0h0.9v0.9h-0.9zM264.3 492.4h0.9v0.9h-0.9zM237.6 509.8h0.9v0.9h-0.9zM243.8 492.7h0.9v0.9h-0.9zM278.9 518.2h0.9v0.9h-0.9zM249.3 473.3h0.9v0.9h-0.9zM237.0 516.6h0.9v0.9h-0.9zM271.6 491.9h0.9v0.9h-0.9zM269.3 524.7h0.9v0.9h-0.9zM267.2 484.0h0.9v0.9h-0.9zM272.7 482.2h0.9v0.9h-0.9zM274.1 517.0h0.9v0.9h-0.9zM263.3 488.2h0.9v0.9h-0.9zM265.7 494.8h0.9v0.9h-0.9zM240.1 533.7h0.9v0.9h-0.9zM268.9 509.9h0.9v0.9h-0.9zM246.7 478.9h0.9v0.9h-0.9zM268.4 522.6h0.9v0.9h-0.9zM242.0 482.0h0.9v0.9h-0.9zM269.9 541.0h0.9v0.9h-0.9zM265.2 492.7h0.9v0.9h-0.9zM259.3 551.8h0.9v0.9h-0.9zM270.5 508.4h0.9v0.9h-0.9zM261.4 476.3h0.9v0.9h-0.9zM265.3 480.2h0.9v0.9h-0.9zM241.9 513.2h0.9v0.9h-0.9zM239.7 500.9h0.9v0.9h-0.9zM263.1 476.1h0.9v0.9h-0.9zM270.2 511.3h0.9v0.9h-0.9zM235.5 545.1h0.9v0.9h-0.9zM266.7 500.4h0.9v0.9h-0.9zM240.8 537.6h0.9v0.9h-0.9zM245.3 490.1h0.9v0.9h-0.9zM241.0 503.6h0.9v0.9h-0.9zM241.9 488.3h0.9v0.9h-0.9zM240.4 520.6h0.9v0.9h-0.9zM259.5 473.9h0.9v0.9h-0.9zM240.2 533.8h0.9v0.9h-0.9zM267.6 515.6h0.9v0.9h-0.9zM247.8 481.2h0.9v0.9h-0.9zM247.7 482.1h0.9v0.9h-0.9zM237.2 534.8h0.9v0.9h-0.9zM243.3 514.8h0.9v0.9h-0.9zM242.4 549.2h0.9v0.9h-0.9zM242.4 513.8h0.9v0.9h-0.9zM243.4 513.4h0.9v0.9h-0.9zM269.1 484.5h0.9v0.9h-0.9zM232.2 528.1h0.9v0.9h-0.9zM238.9 513.2h0.9v0.9h-0.9zM247.2 479.0h0.9v0.9h-0.9zM245.0 484.7h0.9v0.9h-0.9zM266.7 489.8h0.9v0.9h-0.9zM257.3 473.9h0.9v0.9h-0.9zM251.3 473.8h0.9v0.9h-0.9zM267.7 504.7h0.9v0.9h-0.9zM240.9 503.8h0.9v0.9h-0.9zM244.6 493.6h0.9v0.9h-0.9zM265.3 490.5h0.9v0.9h-0.9zM269.5 539.7h0.9v0.9h-0.9zM266.7 476.9h0.9v0.9h-0.9zM262.2 481.0h0.9v0.9h-0.9zM270.2 493.8h0.9v0.9h-0.9zM244.0 489.8h0.9v0.9h-0.9zM267.7 524.3h0.9v0.9h-0.9zM262.7 479.3h0.9v0.9h-0.9zM247.4 484.0h0.9v0.9h-0.9zM241.2 536.9h0.9v0.9h-0.9zM240.1 496.4h0.9v0.9h-0.9zM238.2 521.4h0.9v0.9h-0.9zM242.0 543.3h0.9v0.9h-0.9zM241.4 517.1h0.9v0.9h-0.9zM247.5 485.5h0.9v0.9h-0.9zM244.8 483.8h0.9v0.9h-0.9zM240.3 489.8h0.9v0.9h-0.9zM231.8 511.9h0.9v0.9h-0.9zM268.4 499.9h0.9v0.9h-0.9zM243.0 484.1h0.9v0.9h-0.9zM241.3 493.1h0.9v0.9h-0.9zM269.0 542.0h0.9v0.9h-0.9zM240.7 491.7h0.9v0.9h-0.9zM267.9 546.5h0.9v0.9h-0.9zM269.5 540.4h0.9v0.9h-0.9zM239.4 545.7h0.9v0.9h-0.9zM242.0 522.0h0.9v0.9h-0.9zM261.9 478.1h0.9v0.9h-0.9zM264.8 480.7h0.9v0.9h-0.9zM239.2 509.0h0.9v0.9h-0.9zM245.1 493.8h0.9v0.9h-0.9zM272.8 526.7h0.9v0.9h-0.9zM238.1 533.8h0.9v0.9h-0.9zM234.2 500.6h0.9v0.9h-0.9zM270.5 544.8h0.9v0.9h-0.9zM270.2 511.0h0.9v0.9h-0.9zM242.8 499.8h0.9v0.9h-0.9zM239.2 486.9h0.9v0.9h-0.9zM239.4 526.6h0.9v0.9h-0.9zM236.1 529.3h0.9v0.9h-0.9zM241.9 477.7h0.9v0.9h-0.9zM268.0 504.3h0.9v0.9h-0.9zM266.4 490.2h0.9v0.9h-0.9zM240.3 510.4h0.9v0.9h-0.9zM247.5 549.9h0.9v0.9h-0.9zM248.7 474.0h0.9v0.9h-0.9zM262.5 480.3h0.9v0.9h-0.9zM241.8 525.8h0.9v0.9h-0.9zM241.5 530.4h0.9v0.9h-0.9zM263.6 476.4h0.9v0.9h-0.9zM229.0 519.5h0.9v0.9h-0.9zM246.2 549.3h0.9v0.9h-0.9zM243.6 499.1h0.9v0.9h-0.9zM249.1 475.3h0.9v0.9h-0.9zM265.8 494.0h0.9v0.9h-0.9zM269.9 482.6h0.9v0.9h-0.9zM242.6 519.4h0.9v0.9h-0.9zM240.8 543.3h0.9v0.9h-0.9zM240.1 542.9h0.9v0.9h-0.9zM271.5 478.2h0.9v0.9h-0.9zM262.7 485.2h0.9v0.9h-0.9zM241.6 505.1h0.9v0.9h-0.9zM247.6 485.7h0.9v0.9h-0.9zM237.9 531.7h0.9v0.9h-0.9zM239.6 534.2h0.9v0.9h-0.9zM246.5 484.0h0.9v0.9h-0.9zM267.5 523.6h0.9v0.9h-0.9zM260.0 474.0h0.9v0.9h-0.9zM268.7 541.2h0.9v0.9h-0.9zM247.6 484.7h0.9v0.9h-0.9zM242.7 512.2h0.9v0.9h-0.9zM271.5 526.6h0.9v0.9h-0.9zM236.6 528.0h0.9v0.9h-0.9zM264.7 477.3h0.9v0.9h-0.9zM240.1 545.7h0.9v0.9h-0.9zM265.6 486.6h0.9v0.9h-0.9zM273.4 514.9h0.9v0.9h-0.9zM242.5 514.3h0.9v0.9h-0.9zM235.3 550.0h0.9v0.9h-0.9zM270.6 537.9h0.9v0.9h-0.9zM266.5 520.1h0.9v0.9h-0.9zM275.4 478.5h0.9v0.9h-0.9zM266.6 481.5h0.9v0.9h-0.9zM235.1 540.7h0.9v0.9h-0.9zM242.8 516.9h0.9v0.9h-0.9zM271.1 537.4h0.9v0.9h-0.9zM242.8 480.3h0.9v0.9h-0.9zM264.4 473.1h0.9v0.9h-0.9zM264.7 474.4h0.9v0.9h-0.9zM262.5 483.0h0.9v0.9h-0.9zM246.3 488.7h0.9v0.9h-0.9zM239.6 543.5h0.9v0.9h-0.9zM237.7 491.5h0.9v0.9h-0.9zM248.5 474.7h0.9v0.9h-0.9zM233.3 511.6h0.9v0.9h-0.9zM245.6 551.6h0.9v0.9h-0.9zM236.2 501.5h0.9v0.9h-0.9zM243.1 521.7h0.9v0.9h-0.9zM268.9 542.9h0.9v0.9h-0.9zM282.9 516.2h0.9v0.9h-0.9zM246.1 479.1h0.9v0.9h-0.9zM245.8 486.2h0.9v0.9h-0.9zM265.2 496.3h0.9v0.9h-0.9zM241.2 507.1h0.9v0.9h-0.9zM267.9 520.8h0.9v0.9h-0.9zM240.9 542.3h0.9v0.9h-0.9zM238.1 506.6h0.9v0.9h-0.9zM272.9 499.5h0.9v0.9h-0.9zM261.4 473.8h0.9v0.9h-0.9zM261.6 481.1h0.9v0.9h-0.9zM235.9 544.1h0.9v0.9h-0.9zM232.0 545.1h0.9v0.9h-0.9zM241.6 519.2h0.9v0.9h-0.9zM244.2 486.1h0.9v0.9h-0.9zM242.8 508.4h0.9v0.9h-0.9zM244.2 476.6h0.9v0.9h-0.9zM265.0 482.9h0.9v0.9h-0.9zM268.4 494.9h0.9v0.9h-0.9zM269.4 509.3h0.9v0.9h-0.9zM243.1 481.1h0.9v0.9h-0.9zM230.7 505.6h0.9v0.9h-0.9zM243.0 501.1h0.9v0.9h-0.9zM270.5 527.4h0.9v0.9h-0.9zM267.9 490.3h0.9v0.9h-0.9zM270.9 511.9h0.9v0.9h-0.9zM266.8 499.5h0.9v0.9h-0.9zM244.2 478.4h0.9v0.9h-0.9zM238.1 507.2h0.9v0.9h-0.9zM240.3 497.1h0.9v0.9h-0.9zM263.4 489.1h0.9v0.9h-0.9zM259.9 474.1h0.9v0.9h-0.9zM275.2 528.8h0.9v0.9h-0.9zM241.6 519.9h0.9v0.9h-0.9zM240.2 515.4h0.9v0.9h-0.9zM270.4 515.5h0.9v0.9h-0.9zM264.5 486.8h0.9v0.9h-0.9zM269.1 525.4h0.9v0.9h-0.9zM247.3 473.2h0.9v0.9h-0.9zM252.0 551.3h0.9v0.9h-0.9zM248.0 475.5h0.9v0.9h-0.9zM263.5 486.4h0.9v0.9h-0.9zM275.9 504.8h0.9v0.9h-0.9zM242.7 523.2h0.9v0.9h-0.9zM241.0 526.8h0.9v0.9h-0.9zM242.0 518.2h0.9v0.9h-0.9zM238.1 501.5h0.9v0.9h-0.9zM242.0 510.2h0.9v0.9h-0.9zM241.2 547.4h0.9v0.9h-0.9zM261.7 481.0h0.9v0.9h-0.9zM245.7 476.4h0.9v0.9h-0.9zM245.9 486.5h0.9v0.9h-0.9zM265.9 497.3h0.9v0.9h-0.9zM256.5 551.5h0.9v0.9h-0.9zM272.6 545.3h0.9v0.9h-0.9zM233.5 536.9h0.9v0.9h-0.9zM274.1 498.2h0.9v0.9h-0.9zM256.7 473.1h0.9v0.9h-0.9zM250.5 474.3h0.9v0.9h-0.9zM242.3 512.7h0.9v0.9h-0.9zM273.5 531.3h0.9v0.9h-0.9zM243.1 479.8h0.9v0.9h-0.9zM269.8 509.2h0.9v0.9h-0.9zM268.3 517.6h0.9v0.9h-0.9zM271.6 533.4h0.9v0.9h-0.9zM237.7 540.9h0.9v0.9h-0.9zM267.9 543.1h0.9v0.9h-0.9zM255.1 473.8h0.9v0.9h-0.9zM241.0 504.0h0.9v0.9h-0.9zM246.1 475.2h0.9v0.9h-0.9zM240.9 523.1h0.9v0.9h-0.9zM238.4 489.8h0.9v0.9h-0.9zM270.1 543.4h0.9v0.9h-0.9zM244.0 497.9h0.9v0.9h-0.9zM273.1 528.8h0.9v0.9h-0.9zM268.5 502.3h0.9v0.9h-0.9zM261.4 552.0h0.9v0.9h-0.9zM270.3 529.0h0.9v0.9h-0.9zM251.3 473.0h0.9v0.9h-0.9zM234.9 505.4h0.9v0.9h-0.9zM244.8 487.0h0.9v0.9h-0.9zM238.4 502.0h0.9v0.9h-0.9zM237.8 478.6h0.9v0.9h-0.9zM241.4 541.3h0.9v0.9h-0.9zM268.6 488.1h0.9v0.9h-0.9zM240.9 500.8h0.9v0.9h-0.9zM252.7 472.5h0.9v0.9h-0.9zM237.5 540.6h0.9v0.9h-0.9zM262.1 480.7h0.9v0.9h-0.9zM241.7 474.4h0.9v0.9h-0.9zM241.9 525.8h0.9v0.9h-0.9zM238.2 518.1h0.9v0.9h-0.9zM266.1 484.0h0.9v0.9h-0.9zM233.7 504.6h0.9v0.9h-0.9zM266.6 499.0h0.9v0.9h-0.9zM268.5 495.4h0.9v0.9h-0.9zM241.6 519.1h0.9v0.9h-0.9zM266.5 497.6h0.9v0.9h-0.9zM262.4 482.8h0.9v0.9h-0.9zM259.1 474.2h0.9v0.9h-0.9zM247.3 487.8h0.9v0.9h-0.9zM264.4 473.8h0.9v0.9h-0.9zM246.8 475.7h0.9v0.9h-0.9zM245.7 487.5h0.9v0.9h-0.9zM246.1 488.8h0.9v0.9h-0.9zM269.9 498.7h0.9v0.9h-0.9zM237.8 543.3h0.9v0.9h-0.9zM246.0 474.3h0.9v0.9h-0.9zM260.6 473.2h0.9v0.9h-0.9zM258.4 471.0h0.9v0.9h-0.9zM265.7 496.3h0.9v0.9h-0.9zM262.4 467.1h0.9v0.9h-0.9zM244.1 481.1h0.9v0.9h-0.9zM249.7 460.3h0.9v0.9h-0.9zM249.2 473.6h0.9v0.9h-0.9zM245.7 459.2h0.9v0.9h-0.9zM268.9 484.4h0.9v0.9h-0.9zM239.1 458.5h0.9v0.9h-0.9zM251.9 470.0h0.9v0.9h-0.9zM255.2 484.1h0.9v0.9h-0.9zM259.4 476.8h0.9v0.9h-0.9zM233.9 480.7h0.9v0.9h-0.9zM254.7 486.9h0.9v0.9h-0.9zM256.4 479.9h0.9v0.9h-0.9zM245.4 467.4h0.9v0.9h-0.9zM253.9 494.2h0.9v0.9h-0.9zM243.9 481.6h0.9v0.9h-0.9zM252.7 470.5h0.9v0.9h-0.9zM256.7 463.3h0.9v0.9h-0.9zM255.7 476.8h0.9v0.9h-0.9zM255.1 477.3h0.9v0.9h-0.9zM248.3 481.4h0.9v0.9h-0.9zM265.2 476.8h0.9v0.9h-0.9zM249.4 470.7h0.9v0.9h-0.9zM256.6 484.6h0.9v0.9h-0.9zM251.5 475.2h0.9v0.9h-0.9zM250.0 487.0h0.9v0.9h-0.9zM246.3 475.1h0.9v0.9h-0.9zM250.8 472.1h0.9v0.9h-0.9zM263.0 468.2h0.9v0.9h-0.9zM262.0 464.3h0.9v0.9h-0.9zM257.3 469.5h0.9v0.9h-0.9zM253.3 488.4h0.9v0.9h-0.9zM253.1 473.8h0.9v0.9h-0.9zM252.1 484.3h0.9v0.9h-0.9zM262.9 482.0h0.9v0.9h-0.9zM251.7 462.3h0.9v0.9h-0.9zM262.1 467.8h0.9v0.9h-0.9zM254.4 485.5h0.9v0.9h-0.9zM258.1 461.5h0.9v0.9h-0.9zM267.2 467.9h0.9v0.9h-0.9zM256.7 468.5h0.9v0.9h-0.9zM244.9 473.8h0.9v0.9h-0.9zM253.1 478.8h0.9v0.9h-0.9zM256.8 493.7h0.9v0.9h-0.9zM255.2 472.6h0.9v0.9h-0.9zM267.0 474.8h0.9v0.9h-0.9zM261.3 487.0h0.9v0.9h-0.9zM249.9 469.3h0.9v0.9h-0.9zM255.0 477.9h0.9v0.9h-0.9zM247.6 471.8h0.9v0.9h-0.9zM245.8 466.2h0.9v0.9h-0.9zM261.6 475.5h0.9v0.9h-0.9zM262.0 468.4h0.9v0.9h-0.9zM258.3 489.5h0.9v0.9h-0.9zM249.2 472.9h0.9v0.9h-0.9zM251.3 459.7h0.9v0.9h-0.9zM248.4 473.9h0.9v0.9h-0.9zM256.5 490.4h0.9v0.9h-0.9zM242.3 489.9h0.9v0.9h-0.9zM260.0 469.7h0.9v0.9h-0.9zM264.0 465.5h0.9v0.9h-0.9zM266.1 459.4h0.9v0.9h-0.9zM252.3 486.2h0.9v0.9h-0.9zM240.4 470.3h0.9v0.9h-0.9zM268.0 473.5h0.9v0.9h-0.9zM254.6 485.1h0.9v0.9h-0.9zM248.6 455.7h0.9v0.9h-0.9zM267.8 473.5h0.9v0.9h-0.9zM255.8 490.3h0.9v0.9h-0.9zM249.3 483.8h0.9v0.9h-0.9zM253.4 479.4h0.9v0.9h-0.9zM242.1 467.8h0.9v0.9h-0.9zM256.3 493.2h0.9v0.9h-0.9zM268.1 464.5h0.9v0.9h-0.9zM249.1 480.5h0.9v0.9h-0.9zM253.5 472.7h0.9v0.9h-0.9zM263.6 470.7h0.9v0.9h-0.9zM240.4 480.2h0.9v0.9h-0.9zM270.2 470.1h0.9v0.9h-0.9zM265.1 483.1h0.9v0.9h-0.9zM265.8 482.4h0.9v0.9h-0.9zM258.0 475.1h0.9v0.9h-0.9zM243.0 471.2h0.9v0.9h-0.9zM251.6 469.0h0.9v0.9h-0.9zM251.3 472.1h0.9v0.9h-0.9zM247.9 483.0h0.9v0.9h-0.9zM265.0 476.8h0.9v0.9h-0.9zM267.7 473.7h0.9v0.9h-0.9zM250.7 472.4h0.9v0.9h-0.9zM248.6 474.2h0.9v0.9h-0.9zM244.2 485.1h0.9v0.9h-0.9zM253.4 472.8h0.9v0.9h-0.9zM257.2 474.4h0.9v0.9h-0.9zM248.2 508.3h0.9v0.9h-0.9zM262.8 501.4h0.9v0.9h-0.9zM251.7 470.8h0.9v0.9h-0.9zM248.6 491.1h0.9v0.9h-0.9zM264.8 525.5h0.9v0.9h-0.9zM252.2 503.0h0.9v0.9h-0.9zM249.2 485.9h0.9v0.9h-0.9zM245.8 490.9h0.9v0.9h-0.9zM266.6 473.5h0.9v0.9h-0.9zM255.8 505.6h0.9v0.9h-0.9zM270.7 495.6h0.9v0.9h-0.9zM256.4 480.0h0.9v0.9h-0.9zM255.3 499.0h0.9v0.9h-0.9zM265.8 497.1h0.9v0.9h-0.9zM248.2 476.3h0.9v0.9h-0.9zM251.8 495.3h0.9v0.9h-0.9zM253.4 485.3h0.9v0.9h-0.9zM262.8 502.0h0.9v0.9h-0.9zM253.0 484.8h0.9v0.9h-0.9zM256.8 492.4h0.9v0.9h-0.9zM253.8 500.8h0.9v0.9h-0.9zM246.0 466.2h0.9v0.9h-0.9zM248.5 480.1h0.9v0.9h-0.9zM257.0 486.1h0.9v0.9h-0.9zM242.7 506.6h0.9v0.9h-0.9zM240.5 487.7h0.9v0.9h-0.9zM259.0 497.6h0.9v0.9h-0.9zM255.2 504.3h0.9v0.9h-0.9zM242.2 497.1h0.9v0.9h-0.9zM233.7 490.1h0.9v0.9h-0.9zM248.0 514.4h0.9v0.9h-0.9zM252.2 514.0h0.9v0.9h-0.9zM253.8 488.8h0.9v0.9h-0.9zM269.5 486.8h0.9v0.9h-0.9zM253.6 504.1h0.9v0.9h-0.9zM253.6 498.2h0.9v0.9h-0.9zM241.7 476.4h0.9v0.9h-0.9zM258.0 480.5h0.9v0.9h-0.9zM252.9 493.5h0.9v0.9h-0.9zM255.7 500.3h0.9v0.9h-0.9zM264.1 498.0h0.9v0.9h-0.9zM259.4 506.1h0.9v0.9h-0.9zM261.9 481.2h0.9v0.9h-0.9zM240.3 506.2h0.9v0.9h-0.9zM252.4 509.8h0.9v0.9h-0.9zM259.9 482.4h0.9v0.9h-0.9zM250.3 513.1h0.9v0.9h-0.9zM249.4 516.3h0.9v0.9h-0.9zM268.2 503.1h0.9v0.9h-0.9zM265.1 502.3h0.9v0.9h-0.9zM242.2 459.2h0.9v0.9h-0.9zM255.9 484.5h0.9v0.9h-0.9zM255.9 485.2h0.9v0.9h-0.9zM251.0 500.8h0.9v0.9h-0.9zM272.1 477.0h0.9v0.9h-0.9zM249.2 511.1h0.9v0.9h-0.9zM254.4 491.8h0.9v0.9h-0.9zM254.0 491.7h0.9v0.9h-0.9zM260.1 502.0h0.9v0.9h-0.9zM253.9 485.6h0.9v0.9h-0.9zM259.2 504.2h0.9v0.9h-0.9zM237.1 487.6h0.9v0.9h-0.9zM259.3 487.2h0.9v0.9h-0.9z" fill="#000" fill-opacity="0.9"/><text x="44.1" y="77.4" font-size="10.4" font-weight="normal" fill="#2338f0" text-anchor="start" stroke="#2338f0" stroke-width="0.15">CD107a+</text><text x="44.1" y="90.80000000000001" font-size="10.4" font-weight="normal" fill="#2338f0" text-anchor="start" stroke="#2338f0" stroke-width="0.15">20.05%</text><text x="185.9" y="77.6" font-size="10.4" font-weight="normal" fill="#2338f0" text-anchor="start" stroke="#2338f0" stroke-width="0.15">CD107a+</text><text x="185.9" y="91.0" font-size="10.4" font-weight="normal" fill="#2338f0" text-anchor="start" stroke="#2338f0" stroke-width="0.15">8.37%</text><text x="51.8" y="272.7" font-size="10.4" font-weight="normal" fill="#2338f0" text-anchor="start" stroke="#2338f0" stroke-width="0.15">IFNg+</text><text x="51.8" y="285.7" font-size="10.4" font-weight="normal" fill="#2338f0" text-anchor="start" stroke="#2338f0" stroke-width="0.15">7.15%</text><text x="193.6" y="272.7" font-size="10.4" font-weight="normal" fill="#2338f0" text-anchor="start" stroke="#2338f0" stroke-width="0.15">IFNg+</text><text x="193.6" y="285.7" font-size="10.4" font-weight="normal" fill="#2338f0" text-anchor="start" stroke="#2338f0" stroke-width="0.15">5.70%</text><text x="51" y="454.7" font-size="10.4" font-weight="normal" fill="#2338f0" text-anchor="start" stroke="#2338f0" stroke-width="0.15">TNFa+</text><text x="51" y="467.9" font-size="10.4" font-weight="normal" fill="#2338f0" text-anchor="start" stroke="#2338f0" stroke-width="0.15">20.31%</text><text x="191.4" y="454.7" font-size="10.4" font-weight="normal" fill="#2338f0" text-anchor="start" stroke="#2338f0" stroke-width="0.15">TNFa+</text><text x="191.4" y="467.9" font-size="10.4" font-weight="normal" fill="#2338f0" text-anchor="start" stroke="#2338f0" stroke-width="0.15">15.79%</text><line x1="340.3" y1="39.7" x2="340.3" y2="161.5" stroke="#4a4a4a" stroke-width="1.3" /><line x1="339.7" y1="160.8" x2="416.4" y2="160.8" stroke="#4a4a4a" stroke-width="1.3" /><line x1="336.90000000000003" y1="160.8" x2="340.3" y2="160.8" stroke="#4a4a4a" stroke-width="1.1" /><text x="335.90000000000003" y="163.3" font-size="7.0" font-weight="bold" fill="#222" text-anchor="end" >0</text><line x1="336.90000000000003" y1="136.68" x2="340.3" y2="136.68" stroke="#4a4a4a" stroke-width="1.1" /><text x="335.90000000000003" y="139.18" font-size="7.0" font-weight="bold" fill="#222" text-anchor="end" >5</text><line x1="336.90000000000003" y1="112.56" x2="340.3" y2="112.56" stroke="#4a4a4a" stroke-width="1.1" /><text x="335.90000000000003" y="115.06" font-size="7.0" font-weight="bold" fill="#222" text-anchor="end" >10</text><line x1="336.90000000000003" y1="88.44" x2="340.3" y2="88.44" stroke="#4a4a4a" stroke-width="1.1" /><text x="335.90000000000003" y="90.94" font-size="7.0" font-weight="bold" fill="#222" text-anchor="end" >15</text><line x1="336.90000000000003" y1="64.32" x2="340.3" y2="64.32" stroke="#4a4a4a" stroke-width="1.1" /><text x="335.90000000000003" y="66.82" font-size="7.0" font-weight="bold" fill="#222" text-anchor="end" >20</text><line x1="336.90000000000003" y1="40.19999999999999" x2="340.3" y2="40.19999999999999" stroke="#4a4a4a" stroke-width="1.1" /><text x="335.90000000000003" y="42.69999999999999" font-size="7.0" font-weight="bold" fill="#222" text-anchor="end" >25</text><line x1="359.6" y1="160.8" x2="359.6" y2="164.0" stroke="#4a4a4a" stroke-width="1.1" /><line x1="395.5" y1="160.8" x2="395.5" y2="164.0" stroke="#4a4a4a" stroke-width="1.1" /><rect x="346.6" y="156.21720000000002" width="7.0" height="4.582799999999992" fill="none" stroke="#c42c3c" stroke-width="1.1"/><rect x="355.9" y="158.388" width="7.400000000000034" height="2.412000000000006" fill="none" stroke="#f0303f" stroke-width="1.1"/><rect x="365.6" y="158.388" width="7.399999999999977" height="2.412000000000006" fill="none" stroke="#f7acb4" stroke-width="1.1"/><rect x="382.5" y="156.21720000000002" width="7.0" height="4.582799999999992" fill="none" stroke="#c42c3c" stroke-width="1.1"/><rect x="391.3" y="66.732" width="7.5" height="94.06800000000001" fill="none" stroke="#f0303f" stroke-width="1.1"/><rect x="401.2" y="134.268" width="7.699999999999989" height="26.53200000000001" fill="none" stroke="#f7acb4" stroke-width="1.1"/><line x1="350.1" y1="154.77" x2="350.1" y2="157.90560000000002" stroke="#c42c3c" stroke-width="0.7" /><line x1="348.90000000000003" y1="154.77" x2="351.3" y2="154.77" stroke="#c42c3c" stroke-width="0.7" /><line x1="359.6" y1="157.4232" x2="359.6" y2="159.3528" stroke="#f0303f" stroke-width="0.7" /><line x1="358.40000000000003" y1="157.4232" x2="360.8" y2="157.4232" stroke="#f0303f" stroke-width="0.7" /><line x1="369.3" y1="157.4232" x2="369.3" y2="159.3528" stroke="#f7acb4" stroke-width="0.7" /><line x1="368.1" y1="157.4232" x2="370.5" y2="157.4232" stroke="#f7acb4" stroke-width="0.7" /><line x1="386" y1="152.5992" x2="386" y2="159.3528" stroke="#c42c3c" stroke-width="0.7" /><line x1="384.8" y1="152.5992" x2="387.2" y2="152.5992" stroke="#c42c3c" stroke-width="0.7" /><line x1="395" y1="58.5312" x2="395" y2="74.9328" stroke="#f0303f" stroke-width="0.7" /><line x1="393.8" y1="58.5312" x2="396.2" y2="58.5312" stroke="#f0303f" stroke-width="0.7" /><line x1="405" y1="121.2432" x2="405" y2="147.2928" stroke="#f7acb4" stroke-width="0.7" /><line x1="403.8" y1="121.2432" x2="406.2" y2="121.2432" stroke="#f7acb4" stroke-width="0.7" /><circle cx="349" cy="155.0112" r="0.9" fill="#c42c3c"/><circle cx="352" cy="156.4584" r="0.9" fill="#c42c3c"/><circle cx="348" cy="157.4232" r="0.9" fill="#c42c3c"/><circle cx="358" cy="158.388" r="0.9" fill="#f0303f"/><circle cx="361" cy="158.87040000000002" r="0.9" fill="#f0303f"/><circle cx="368" cy="157.90560000000002" r="0.9" fill="#f7acb4"/><circle cx="371" cy="158.388" r="0.9" fill="#f7acb4"/><circle cx="386" cy="151.15200000000002" r="0.9" fill="#c42c3c"/><circle cx="386" cy="155.0112" r="0.9" fill="#c42c3c"/><circle cx="395" cy="49.848" r="0.9" fill="#f0303f"/><circle cx="395" cy="72.5208" r="0.9" fill="#f0303f"/><circle cx="395" cy="75.8976" r="0.9" fill="#f0303f"/><circle cx="395" cy="70.5912" r="0.9" fill="#f0303f"/><circle cx="405" cy="121.2432" r="0.9" fill="#f7acb4"/><circle cx="405" cy="154.52880000000002" r="0.9" fill="#f7acb4"/><circle cx="405" cy="125.5848" r="0.9" fill="#f7acb4"/><path d="M395.4 50 V43.4 H404.6 V114.2" fill="none" stroke="#444" stroke-width="0.8"/><text x="401.8" y="44.5" font-size="10" font-weight="bold" fill="#111" text-anchor="middle" letter-spacing="1.4">****</text><rect x="414.1" y="45.4" width="9.599999999999966" height="2.8" fill="none" stroke="#c42c3c" stroke-width="1.2"/><text x="428.7" y="49.699999999999996" font-size="6.6" font-weight="normal" fill="#222" text-anchor="start" stroke="#222" stroke-width="0.12" textLength="16.5" lengthAdjust="spacingAndGlyphs">Media</text><rect x="414.1" y="52.5" width="9.599999999999966" height="2.8" fill="none" stroke="#f0303f" stroke-width="1.2"/><text x="428.7" y="56.8" font-size="6.6" font-weight="normal" fill="#222" text-anchor="start" stroke="#222" stroke-width="0.12" textLength="19.1" lengthAdjust="spacingAndGlyphs">MM.1S</text><rect x="414.1" y="59.4" width="9.599999999999966" height="2.8" fill="none" stroke="#f7acb4" stroke-width="1.2"/><text x="428.7" y="63.699999999999996" font-size="6.6" font-weight="normal" fill="#222" text-anchor="start" stroke="#222" stroke-width="0.12" textLength="33.7" lengthAdjust="spacingAndGlyphs">MM.1S-CS1</text><text x="462.9" y="60.699999999999996" font-size="4.8" font-weight="normal" fill="#222" text-anchor="start"  textLength="6.4" lengthAdjust="spacingAndGlyphs">KO</text><text transform="translate(323.8,127.8) rotate(-90) scale(1,1.15)" font-size="7.5" font-weight="bold" fill="#111">%CD3<tspan font-size="4.6" dy="-3">+</tspan><tspan dy="3" dx="0.7">CD107a</tspan><tspan font-size="4.6" dy="-3">+</tspan></text><text transform="translate(361.5,169.2) rotate(-45)" font-size="6.2" font-weight="bold" fill="#222" text-anchor="end">Uncoated</text><text transform="translate(397.7,169.7) rotate(-45)" font-size="6.2" font-weight="bold" fill="#222" text-anchor="end">CS1dsBITE</text><line x1="342.9" y1="243.9" x2="342.9" y2="365.8" stroke="#4a4a4a" stroke-width="1.3" /><line x1="342.29999999999995" y1="365.1" x2="419.6" y2="365.1" stroke="#4a4a4a" stroke-width="1.3" /><line x1="339.5" y1="365.1" x2="342.9" y2="365.1" stroke="#4a4a4a" stroke-width="1.1" /><text x="338.5" y="367.6" font-size="7.0" font-weight="bold" fill="#222" text-anchor="end" >0</text><line x1="339.5" y1="324.8666666666667" x2="342.9" y2="324.8666666666667" stroke="#4a4a4a" stroke-width="1.1" /><text x="338.5" y="327.3666666666667" font-size="7.0" font-weight="bold" fill="#222" text-anchor="end" >5</text><line x1="339.5" y1="284.6333333333333" x2="342.9" y2="284.6333333333333" stroke="#4a4a4a" stroke-width="1.1" /><text x="338.5" y="287.1333333333333" font-size="7.0" font-weight="bold" fill="#222" text-anchor="end" >10</text><line x1="339.5" y1="244.39999999999998" x2="342.9" y2="244.39999999999998" stroke="#4a4a4a" stroke-width="1.1" /><text x="338.5" y="246.89999999999998" font-size="7.0" font-weight="bold" fill="#222" text-anchor="end" >15</text><line x1="362.1" y1="365.1" x2="362.1" y2="368.3" stroke="#4a4a4a" stroke-width="1.1" /><line x1="397.9" y1="365.1" x2="397.9" y2="368.3" stroke="#4a4a4a" stroke-width="1.1" /><rect x="349.1" y="358.42126666666667" width="7.699999999999989" height="6.678733333333355" fill="none" stroke="#c42c3c" stroke-width="1.1"/><rect x="358.2" y="363.7320666666667" width="7.600000000000023" height="1.3679333333333261" fill="none" stroke="#f0303f" stroke-width="1.1"/><rect x="367.5" y="363.08833333333337" width="7.699999999999989" height="2.011666666666656" fill="none" stroke="#f7acb4" stroke-width="1.1"/><rect x="385" y="356.651" width="7.600000000000023" height="8.449000000000012" fill="none" stroke="#c42c3c" stroke-width="1.1"/><rect x="394.2" y="295.094" width="7.5" height="70.00600000000003" fill="none" stroke="#f0303f" stroke-width="1.1"/><rect x="403.4" y="340.3967333333334" width="8.0" height="24.70326666666665" fill="none" stroke="#f7acb4" stroke-width="1.1"/><line x1="353" y1="354.63933333333335" x2="353" y2="362.68600000000004" stroke="#c42c3c" stroke-width="0.7" /><line x1="351.8" y1="354.63933333333335" x2="354.2" y2="354.63933333333335" stroke="#c42c3c" stroke-width="0.7" /><line x1="362" y1="363.08833333333337" x2="362" y2="364.29533333333336" stroke="#f0303f" stroke-width="0.7" /><line x1="360.8" y1="363.08833333333337" x2="363.2" y2="363.08833333333337" stroke="#f0303f" stroke-width="0.7" /><line x1="371.3" y1="362.2836666666667" x2="371.3" y2="363.89300000000003" stroke="#f7acb4" stroke-width="0.7" /><line x1="370.1" y1="362.2836666666667" x2="372.5" y2="362.2836666666667" stroke="#f7acb4" stroke-width="0.7" /><line x1="388.8" y1="352.22533333333337" x2="388.8" y2="361.0766666666667" stroke="#c42c3c" stroke-width="0.7" /><line x1="387.6" y1="352.22533333333337" x2="390.0" y2="352.22533333333337" stroke="#c42c3c" stroke-width="0.7" /><line x1="398" y1="284.6333333333333" x2="398" y2="304.75" stroke="#f0303f" stroke-width="0.7" /><line x1="396.8" y1="284.6333333333333" x2="399.2" y2="284.6333333333333" stroke="#f0303f" stroke-width="0.7" /><line x1="407.4" y1="324.8666666666667" x2="407.4" y2="356.2486666666667" stroke="#f7acb4" stroke-width="0.7" /><line x1="406.2" y1="324.8666666666667" x2="408.59999999999997" y2="324.8666666666667" stroke="#f7acb4" stroke-width="0.7" /><circle cx="353" cy="352.22533333333337" r="0.9" fill="#c42c3c"/><circle cx="351.5" cy="361.0766666666667" r="0.9" fill="#c42c3c"/><circle cx="355" cy="362.68600000000004" r="0.9" fill="#c42c3c"/><circle cx="360" cy="363.89300000000003" r="0.9" fill="#f0303f"/><circle cx="363" cy="363.89300000000003" r="0.9" fill="#f0303f"/><circle cx="369" cy="363.4906666666667" r="0.9" fill="#f7acb4"/><circle cx="373" cy="363.4906666666667" r="0.9" fill="#f7acb4"/><circle cx="388.8" cy="348.202" r="0.9" fill="#c42c3c"/><circle cx="387" cy="358.66266666666667" r="0.9" fill="#c42c3c"/><circle cx="390.5" cy="359.46733333333333" r="0.9" fill="#c42c3c"/><circle cx="398" cy="274.9773333333333" r="0.9" fill="#f0303f"/><circle cx="398" cy="314.406" r="0.9" fill="#f0303f"/><circle cx="398" cy="303.1406666666667" r="0.9" fill="#f0303f"/><circle cx="398" cy="297.50800000000004" r="0.9" fill="#f0303f"/><circle cx="407.4" cy="311.992" r="0.9" fill="#f7acb4"/><circle cx="407.4" cy="361.0766666666667" r="0.9" fill="#f7acb4"/><circle cx="407.4" cy="346.5926666666667" r="0.9" fill="#f7acb4"/><path d="M397.5 268.3 V263.2 H407.6 V309.5" fill="none" stroke="#444" stroke-width="0.8"/><text x="404.0" y="263.6" font-size="10" font-weight="bold" fill="#111" text-anchor="middle" letter-spacing="1.4">*</text><rect x="411.4" y="244.7" width="9.5" height="2.8" fill="none" stroke="#c42c3c" stroke-width="1.2"/><text x="426.1" y="249.0" font-size="6.6" font-weight="normal" fill="#222" text-anchor="start" stroke="#222" stroke-width="0.12" textLength="16.5" lengthAdjust="spacingAndGlyphs">Media</text><rect x="411.4" y="251.7" width="9.5" height="2.8" fill="none" stroke="#f0303f" stroke-width="1.2"/><text x="426.1" y="256.0" font-size="6.6" font-weight="normal" fill="#222" text-anchor="start" stroke="#222" stroke-width="0.12" textLength="19.1" lengthAdjust="spacingAndGlyphs">MM.1S</text><rect x="411.4" y="258.0" width="9.5" height="2.8" fill="none" stroke="#f7acb4" stroke-width="1.2"/><text x="426.1" y="262.29999999999995" font-size="6.6" font-weight="normal" fill="#222" text-anchor="start" stroke="#222" stroke-width="0.12" textLength="33.7" lengthAdjust="spacingAndGlyphs">MM.1S-CS1</text><text x="460.3" y="259.29999999999995" font-size="4.8" font-weight="normal" fill="#222" text-anchor="start"  textLength="6.4" lengthAdjust="spacingAndGlyphs">KO</text><text transform="translate(327.0,326.5) rotate(-90) scale(1,1.15)" font-size="7.6" font-weight="bold" fill="#111">%CD3<tspan font-size="4.6" dy="-3">+</tspan><tspan dy="3" dx="0.7">IFNγ</tspan><tspan font-size="4.6" dy="-3">+</tspan></text><text transform="translate(364,374.2) rotate(-45)" font-size="6.2" font-weight="bold" fill="#222" text-anchor="end">Uncoated</text><text transform="translate(400,374.2) rotate(-45)" font-size="6.2" font-weight="bold" fill="#222" text-anchor="end">CS1dsBITE</text><line x1="345.3" y1="431.8" x2="345.3" y2="553.1" stroke="#4a4a4a" stroke-width="1.3" /><line x1="344.7" y1="552.4" x2="422.2" y2="552.4" stroke="#4a4a4a" stroke-width="1.3" /><line x1="341.90000000000003" y1="552.4" x2="345.3" y2="552.4" stroke="#4a4a4a" stroke-width="1.1" /><text x="340.90000000000003" y="554.9" font-size="7.0" font-weight="bold" fill="#222" text-anchor="end" >0</text><line x1="341.90000000000003" y1="528.38" x2="345.3" y2="528.38" stroke="#4a4a4a" stroke-width="1.1" /><text x="340.90000000000003" y="530.88" font-size="7.0" font-weight="bold" fill="#222" text-anchor="end" >10</text><line x1="341.90000000000003" y1="504.36" x2="345.3" y2="504.36" stroke="#4a4a4a" stroke-width="1.1" /><text x="340.90000000000003" y="506.86" font-size="7.0" font-weight="bold" fill="#222" text-anchor="end" >20</text><line x1="341.90000000000003" y1="480.34000000000003" x2="345.3" y2="480.34000000000003" stroke="#4a4a4a" stroke-width="1.1" /><text x="340.90000000000003" y="482.84000000000003" font-size="7.0" font-weight="bold" fill="#222" text-anchor="end" >30</text><line x1="341.90000000000003" y1="456.32" x2="345.3" y2="456.32" stroke="#4a4a4a" stroke-width="1.1" /><text x="340.90000000000003" y="458.82" font-size="7.0" font-weight="bold" fill="#222" text-anchor="end" >40</text><line x1="341.90000000000003" y1="432.3" x2="345.3" y2="432.3" stroke="#4a4a4a" stroke-width="1.1" /><text x="340.90000000000003" y="434.8" font-size="7.0" font-weight="bold" fill="#222" text-anchor="end" >50</text><line x1="364.1" y1="552.4" x2="364.1" y2="555.6" stroke="#4a4a4a" stroke-width="1.1" /><line x1="400" y1="552.4" x2="400" y2="555.6" stroke="#4a4a4a" stroke-width="1.1" /><rect x="350.8" y="550.2382" width="7.399999999999977" height="2.161799999999971" fill="none" stroke="#c42c3c" stroke-width="1.1"/><rect x="360.7" y="551.7995" width="6.800000000000011" height="0.6005000000000109" fill="none" stroke="#f0303f" stroke-width="1.1"/><rect x="370" y="552.0396999999999" width="7" height="0.360300000000052" fill="none" stroke="#f7acb4" stroke-width="1.1"/><rect x="387.2" y="550.2382" width="7.300000000000011" height="2.161799999999971" fill="none" stroke="#c42c3c" stroke-width="1.1"/><rect x="396.6" y="488.98720000000003" width="7.099999999999966" height="63.41279999999995" fill="none" stroke="#f0303f" stroke-width="1.1"/><rect x="405.9" y="521.174" width="7.7000000000000455" height="31.226" fill="none" stroke="#f7acb4" stroke-width="1.1"/><line x1="354.5" y1="549.0372" x2="354.5" y2="551.6794" stroke="#c42c3c" stroke-width="0.7" /><line x1="353.3" y1="549.0372" x2="355.7" y2="549.0372" stroke="#c42c3c" stroke-width="0.7" /><line x1="364" y1="551.4392" x2="364" y2="552.1598" stroke="#f0303f" stroke-width="0.7" /><line x1="362.8" y1="551.4392" x2="365.2" y2="551.4392" stroke="#f0303f" stroke-width="0.7" /><line x1="373.5" y1="551.6794" x2="373.5" y2="552.2799" stroke="#f7acb4" stroke-width="0.7" /><line x1="372.3" y1="551.6794" x2="374.7" y2="551.6794" stroke="#f7acb4" stroke-width="0.7" /><line x1="391" y1="549.0372" x2="391" y2="551.6794" stroke="#c42c3c" stroke-width="0.7" /><line x1="389.8" y1="549.0372" x2="392.2" y2="549.0372" stroke="#c42c3c" stroke-width="0.7" /><line x1="400.2" y1="470.0114" x2="400.2" y2="507.96299999999997" stroke="#f0303f" stroke-width="0.7" /><line x1="399.0" y1="470.0114" x2="401.4" y2="470.0114" stroke="#f0303f" stroke-width="0.7" /><line x1="409.7" y1="513.968" x2="409.7" y2="527.179" stroke="#f7acb4" stroke-width="0.7" /><line x1="408.5" y1="513.968" x2="410.9" y2="513.968" stroke="#f7acb4" stroke-width="0.7" /><circle cx="354.5" cy="548.5568" r="0.9" fill="#c42c3c"/><circle cx="352" cy="551.199" r="0.9" fill="#c42c3c"/><circle cx="363" cy="551.4392" r="0.9" fill="#f0303f"/><circle cx="366" cy="551.4392" r="0.9" fill="#f0303f"/><circle cx="372" cy="551.6794" r="0.9" fill="#f7acb4"/><circle cx="391" cy="548.5568" r="0.9" fill="#c42c3c"/><circle cx="389" cy="550.9588" r="0.9" fill="#c42c3c"/><circle cx="400.2" cy="452.717" r="0.9" fill="#f0303f"/><circle cx="400.2" cy="503.159" r="0.9" fill="#f0303f"/><circle cx="400.2" cy="509.164" r="0.9" fill="#f0303f"/><circle cx="409.7" cy="511.0856" r="0.9" fill="#f7acb4"/><circle cx="409.7" cy="527.179" r="0.9" fill="#f7acb4"/><circle cx="409.7" cy="523.576" r="0.9" fill="#f7acb4"/><path d="M400.4 449 V445.2 H409.6 V494.2" fill="none" stroke="#444" stroke-width="0.8"/><text x="405.8" y="445.5" font-size="10" font-weight="bold" fill="#111" text-anchor="middle" letter-spacing="1.4">*</text><rect x="415.5" y="432.5" width="9.399999999999977" height="2.8" fill="none" stroke="#c42c3c" stroke-width="1.2"/><text x="429.9" y="436.79999999999995" font-size="6.6" font-weight="normal" fill="#222" text-anchor="start" stroke="#222" stroke-width="0.12" textLength="16.5" lengthAdjust="spacingAndGlyphs">Media</text><rect x="415.5" y="439.3" width="9.399999999999977" height="2.8" fill="none" stroke="#f0303f" stroke-width="1.2"/><text x="429.9" y="443.59999999999997" font-size="6.6" font-weight="normal" fill="#222" text-anchor="start" stroke="#222" stroke-width="0.12" textLength="19.1" lengthAdjust="spacingAndGlyphs">MM.1S</text><rect x="415.5" y="446.0" width="9.399999999999977" height="2.8" fill="none" stroke="#f7acb4" stroke-width="1.2"/><text x="429.9" y="450.29999999999995" font-size="6.6" font-weight="normal" fill="#222" text-anchor="start" stroke="#222" stroke-width="0.12" textLength="33.7" lengthAdjust="spacingAndGlyphs">MM.1S-CS1</text><text x="464.09999999999997" y="447.29999999999995" font-size="4.8" font-weight="normal" fill="#222" text-anchor="start"  textLength="6.4" lengthAdjust="spacingAndGlyphs">KO</text><text transform="translate(327.8,515.2) rotate(-90) scale(1,1.15)" font-size="7.6" font-weight="bold" fill="#111">%CD3<tspan font-size="4.6" dy="-3">+</tspan><tspan dy="3" dx="0.7">TNFα</tspan><tspan font-size="4.6" dy="-3">+</tspan></text><text transform="translate(366,561.2) rotate(-45)" font-size="6.2" font-weight="bold" fill="#222" text-anchor="end">Uncoated</text><text transform="translate(402,561.2) rotate(-45)" font-size="6.2" font-weight="bold" fill="#222" text-anchor="end">CS1dsBITE</text><line x1="530.1" y1="14.9" x2="530.1" y2="155.1" stroke="#555" stroke-width="1.2" /><line x1="529.6" y1="154.5" x2="668" y2="154.5" stroke="#555" stroke-width="1.2" /><line x1="526.5" y1="15.450000000000003" x2="530.1" y2="15.450000000000003" stroke="#555" stroke-width="1.1" /><text x="525.3000000000001" y="17.750000000000004" font-size="6.6" font-weight="bold" fill="#222" text-anchor="end" >100</text><line x1="526.5" y1="50.225" x2="530.1" y2="50.225" stroke="#555" stroke-width="1.1" /><text x="525.3000000000001" y="52.525" font-size="6.6" font-weight="bold" fill="#222" text-anchor="end" >50</text><line x1="526.5" y1="85.0" x2="530.1" y2="85.0" stroke="#555" stroke-width="1.1" /><text x="525.3000000000001" y="87.3" font-size="6.6" font-weight="bold" fill="#222" text-anchor="end" >0</text><line x1="526.5" y1="119.775" x2="530.1" y2="119.775" stroke="#555" stroke-width="1.1" /><text x="525.3000000000001" y="122.075" font-size="6.6" font-weight="bold" fill="#222" text-anchor="end" >-50</text><line x1="526.5" y1="154.55" x2="530.1" y2="154.55" stroke="#555" stroke-width="1.1" /><text x="525.3000000000001" y="156.85000000000002" font-size="6.6" font-weight="bold" fill="#222" text-anchor="end" >-100</text><line x1="544.9" y1="154.5" x2="544.9" y2="157.9" stroke="#555" stroke-width="1.1" /><line x1="566.3" y1="154.5" x2="566.3" y2="157.9" stroke="#555" stroke-width="1.1" /><line x1="587.7" y1="154.5" x2="587.7" y2="157.9" stroke="#555" stroke-width="1.1" /><line x1="609.6" y1="154.5" x2="609.6" y2="157.9" stroke="#555" stroke-width="1.1" /><line x1="631" y1="154.5" x2="631" y2="157.9" stroke="#555" stroke-width="1.1" /><line x1="652.7" y1="154.5" x2="652.7" y2="157.9" stroke="#555" stroke-width="1.1" /><text transform="translate(546.5,164.1) rotate(-45)" font-size="6.8" font-weight="bold" fill="#222" text-anchor="end">0.25:1</text><text transform="translate(567.9,164.1) rotate(-45)" font-size="6.8" font-weight="bold" fill="#222" text-anchor="end">0.5:1</text><text transform="translate(589.3000000000001,164.1) rotate(-45)" font-size="6.8" font-weight="bold" fill="#222" text-anchor="end">1:1</text><text transform="translate(611.2,164.1) rotate(-45)" font-size="6.8" font-weight="bold" fill="#222" text-anchor="end">2.5:1</text><text transform="translate(632.6,164.1) rotate(-45)" font-size="6.8" font-weight="bold" fill="#222" text-anchor="end">5:1</text><text transform="translate(654.3000000000001,164.1) rotate(-45)" font-size="6.8" font-weight="bold" fill="#222" text-anchor="end">10:1</text><text x="581.6" y="188.8" font-size="8.5" font-weight="bold" fill="#111" text-anchor="start" stroke="#111" stroke-width="0.3" textLength="34.5" lengthAdjust="spacingAndGlyphs">E:T ratios</text><text transform="translate(507.6,111.8) rotate(-90)" font-size="8.3" font-weight="bold" fill="#111" stroke="#111" stroke-width="0.3" textLength="53" lengthAdjust="spacingAndGlyphs">% Tumor Lysis</text><path d="M544.9 78.5 L566.3 77.3 L587.7 85.3 L609.6 96.1 L631 101.1 L652.7 102.6" fill="none" stroke="#b4692f" stroke-width="1.1"/><path d="M544.9 72.5 L566.3 63.6 L587.7 57.1 L609.6 51.9 L631 51.9 L652.7 49.1" fill="none" stroke="#111" stroke-width="1.1"/><line x1="544.9" y1="71.5" x2="544.9" y2="85.5" stroke="#444" stroke-width="0.8" /><line x1="543.3" y1="71.5" x2="546.5" y2="71.5" stroke="#444" stroke-width="0.8" /><line x1="543.3" y1="85.5" x2="546.5" y2="85.5" stroke="#444" stroke-width="0.8" /><line x1="566.3" y1="71.4" x2="566.3" y2="84.4" stroke="#444" stroke-width="0.8" /><line x1="564.6999999999999" y1="71.4" x2="567.9" y2="71.4" stroke="#444" stroke-width="0.8" /><line x1="564.6999999999999" y1="84.4" x2="567.9" y2="84.4" stroke="#444" stroke-width="0.8" /><line x1="587.7" y1="83.6" x2="587.7" y2="87" stroke="#444" stroke-width="0.8" /><line x1="586.1" y1="83.6" x2="589.3000000000001" y2="83.6" stroke="#444" stroke-width="0.8" /><line x1="586.1" y1="87" x2="589.3000000000001" y2="87" stroke="#444" stroke-width="0.8" /><line x1="609.6" y1="90.4" x2="609.6" y2="102" stroke="#444" stroke-width="0.8" /><line x1="608.0" y1="90.4" x2="611.2" y2="90.4" stroke="#444" stroke-width="0.8" /><line x1="608.0" y1="102" x2="611.2" y2="102" stroke="#444" stroke-width="0.8" /><line x1="631" y1="88.1" x2="631" y2="114.2" stroke="#444" stroke-width="0.8" /><line x1="629.4" y1="88.1" x2="632.6" y2="88.1" stroke="#444" stroke-width="0.8" /><line x1="629.4" y1="114.2" x2="632.6" y2="114.2" stroke="#444" stroke-width="0.8" /><line x1="652.7" y1="79.8" x2="652.7" y2="126.1" stroke="#444" stroke-width="0.8" /><line x1="651.1" y1="79.8" x2="654.3000000000001" y2="79.8" stroke="#444" stroke-width="0.8" /><line x1="651.1" y1="126.1" x2="654.3000000000001" y2="126.1" stroke="#444" stroke-width="0.8" /><line x1="544.9" y1="68.2" x2="544.9" y2="77" stroke="#444" stroke-width="0.8" /><line x1="543.3" y1="68.2" x2="546.5" y2="68.2" stroke="#444" stroke-width="0.8" /><line x1="543.3" y1="77" x2="546.5" y2="77" stroke="#444" stroke-width="0.8" /><line x1="566.3" y1="58.4" x2="566.3" y2="68.6" stroke="#444" stroke-width="0.8" /><line x1="564.6999999999999" y1="58.4" x2="567.9" y2="58.4" stroke="#444" stroke-width="0.8" /><line x1="564.6999999999999" y1="68.6" x2="567.9" y2="68.6" stroke="#444" stroke-width="0.8" /><line x1="587.7" y1="51.3" x2="587.7" y2="63" stroke="#444" stroke-width="0.8" /><line x1="586.1" y1="51.3" x2="589.3000000000001" y2="51.3" stroke="#444" stroke-width="0.8" /><line x1="586.1" y1="63" x2="589.3000000000001" y2="63" stroke="#444" stroke-width="0.8" /><line x1="609.6" y1="45.3" x2="609.6" y2="58.4" stroke="#444" stroke-width="0.8" /><line x1="608.0" y1="45.3" x2="611.2" y2="45.3" stroke="#444" stroke-width="0.8" /><line x1="608.0" y1="58.4" x2="611.2" y2="58.4" stroke="#444" stroke-width="0.8" /><line x1="631" y1="43.5" x2="631" y2="59.9" stroke="#444" stroke-width="0.8" /><line x1="629.4" y1="43.5" x2="632.6" y2="43.5" stroke="#444" stroke-width="0.8" /><line x1="629.4" y1="59.9" x2="632.6" y2="59.9" stroke="#444" stroke-width="0.8" /><line x1="652.7" y1="47.2" x2="652.7" y2="51" stroke="#444" stroke-width="0.8" /><line x1="651.1" y1="47.2" x2="654.3000000000001" y2="47.2" stroke="#444" stroke-width="0.8" /><line x1="651.1" y1="51" x2="654.3000000000001" y2="51" stroke="#444" stroke-width="0.8" /><rect x="543.4499999999999" y="77.05" width="2.9" height="2.9" fill="#000"/><rect x="564.8499999999999" y="75.85" width="2.9" height="2.9" fill="#000"/><rect x="586.25" y="83.85" width="2.9" height="2.9" fill="#000"/><rect x="608.15" y="94.64999999999999" width="2.9" height="2.9" fill="#000"/><rect x="629.55" y="99.64999999999999" width="2.9" height="2.9" fill="#000"/><rect x="651.25" y="101.14999999999999" width="2.9" height="2.9" fill="#000"/><circle cx="544.9" cy="72.5" r="1.5" fill="#000"/><circle cx="566.3" cy="63.6" r="1.5" fill="#000"/><circle cx="587.7" cy="57.1" r="1.5" fill="#000"/><circle cx="609.6" cy="51.9" r="1.5" fill="#000"/><circle cx="631" cy="51.9" r="1.5" fill="#000"/><circle cx="652.7" cy="49.1" r="1.5" fill="#000"/><line x1="605.2" y1="62.1" x2="605.2" y2="90.9" stroke="#111" stroke-width="1.1" /><line x1="628.3" y1="60.2" x2="628.3" y2="93.7" stroke="#111" stroke-width="1.1" /><line x1="650.8" y1="55.2" x2="650.8" y2="93.7" stroke="#111" stroke-width="1.1" /><text x="611.3" y="81.2" font-size="9.5" font-weight="bold" fill="#111" text-anchor="middle" >*</text><text x="637" y="82.4" font-size="9.5" font-weight="bold" fill="#111" text-anchor="middle" >* *</text><text x="659.4" y="79.9" font-size="9.5" font-weight="bold" fill="#111" text-anchor="middle" >* *</text><line x1="536.3" y1="21.2" x2="547" y2="21.2" stroke="#111" stroke-width="1" /><circle cx="541.8" cy="21.2" r="1.5" fill="#000"/><text x="551.7" y="23.6" font-size="7.0" font-weight="normal" fill="#111" text-anchor="start" >MM.1S</text><line x1="536.3" y1="28.4" x2="547" y2="28.4" stroke="#b4692f" stroke-width="1" /><rect x="540.3" y="26.9" width="3" height="3" fill="#000"/><text x="551.7" y="31.2" font-size="7.0" font-weight="normal" fill="#111" text-anchor="start"  textLength="47.3" lengthAdjust="spacingAndGlyphs">MM.1S-CS1KO</text></svg></body></html>
